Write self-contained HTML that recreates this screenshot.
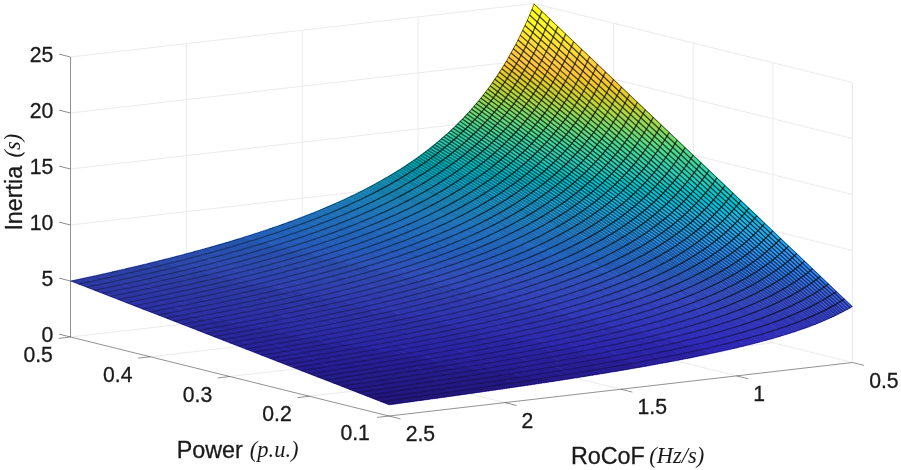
<!DOCTYPE html>
<html><head><meta charset="utf-8"><title>Inertia surface</title>
<style>html,body{margin:0;padding:0;background:#fff}svg{display:block}</style></head>
<body>
<svg width="901" height="470" viewBox="0 0 901 470">
<rect width="901" height="470" fill="#fff"/>
<path d="M186.4 323.6 L186.4 43.6 M302.2 310.2 L302.2 30.2 M418.1 296.9 L418.1 16.9 M534 283.5 L534 3.5 M70.5 337 L534 283.5 M70.5 281 L534 227.5 M70.5 225 L534 171.5 M70.5 169 L534 115.5 M70.5 113 L534 59.5 M70.5 57 L534 3.5 M613.6 303.2 L613.6 23.2 M693.2 323 L693.2 43 M772.9 342.8 L772.9 62.8 M852.5 362.5 L852.5 82.5 M534 283.5 L852.5 362.5 M534 227.5 L852.5 306.5 M534 171.5 L852.5 250.5 M534 115.5 L852.5 194.5 M534 59.5 L852.5 138.5 M534 3.5 L852.5 82.5 M150.1 356.8 L613.6 303.2 M229.8 376.5 L693.2 323 M309.4 396.2 L772.9 342.8 M186.4 323.6 L504.9 402.6 M302.2 310.2 L620.8 389.2 M418.1 296.9 L736.6 375.9" stroke="#ebebeb" stroke-width="1" fill="none"/>
<g stroke-width=".6" stroke-linejoin="round">
<path fill="#3925c9" stroke="#3925c9" d="M430.7 399.1l-7.9-3.2l-2.4 .4l8 3.1zM428.4 399.4l-8-3.1l-2.3 .3l8 3.2zM426.1 399.8l-8-3.2l-2.3 .3l8 3.2zM423.8 400.1l-8-3.2l-2.3 .3l7.9 3.2zM421.4 400.4l-7.9-3.2l-2.3 .4l7.9 3.1zM419.1 400.7l-7.9-3.1l-2.4 .3l8 3.1zM416.8 401l-8-3.1l-2.3 .3l8 3.1zM414.5 401.3l-8-3.1l-2.3 .3l8 3.2zM412.2 401.7l-8-3.2l-2.3 .3l8 3.2zM409.9 402l-8-3.2l-2.3 .4l7.9 3.1zM407.5 402.3l-7.9-3.1l-2.3 .3l7.9 3.1zM405.2 402.6l-7.9-3.1l-2.4 .3l8 3.1zM402.9 402.9l-8-3.1l-2.3 .3l8 3.1zM400.6 403.2l-8-3.1l-2.3 .3l8 3.1zM398.3 403.5l-8-3.1l-2.3 .4l8 3.1zM396 403.9l-8-3.1l-2.3 .3l7.9 3.1zM393.6 404.2l-7.9-3.1l-2.3 .3l7.9 3.1zM391.3 404.5l-7.9-3.1l-2.4 .3l8 3.1z"/>
<path fill="#3a27d0" stroke="#3a27d0" d="M502.6 389l-8-3.4l-2.3 .3l7.9 3.4zM500.2 389.3l-7.9-3.4l-2.3 .4l7.9 3.3zM497.9 389.6l-7.9-3.3l-2.4 .3l8 3.4zM495.6 390l-8-3.4l-2.3 .4l8 3.3zM493.3 390.3l-8-3.3l-2.3 .3l8 3.3zM491 390.6l-8-3.3l-2.3 .3l8 3.4zM488.7 391l-8-3.4l-2.3 .4l7.9 3.3zM486.3 391.3l-7.9-3.3l-2.3 .3l7.9 3.3zM484 391.6l-7.9-3.3l-2.4 .4l8 3.3zM481.7 392l-8-3.3l-2.3 .3l8 3.3zM479.4 392.3l-8-3.3l-2.3 .3l8 3.3zM477.1 392.6l-8-3.3l-2.3 .4l7.9 3.3zM474.7 393l-7.9-3.3l-2.3 .3l7.9 3.3zM472.4 393.3l-7.9-3.3l-2.3 .3l7.9 3.3zM470.1 393.6l-7.9-3.3l-2.4 .4l8 3.2zM467.8 393.9l-8-3.2l-2.3 .3l8 3.3zM465.5 394.3l-8-3.3l-2.3 .3l8 3.3zM463.2 394.6l-8-3.3l-2.3 .4l7.9 3.2zM460.8 394.9l-15.9-6.5l-2.3 .4l15.9 6.4zM458.5 395.2l-15.9-6.4l-2.3 .3l15.9 6.5zM456.2 395.6l-15.9-6.5l-2.3 .3l15.9 6.5zM453.9 395.9l-15.9-6.5l-2.4 .4l16 6.4zM451.6 396.2l-16-6.4l-2.3 .3l16 6.4zM449.3 396.5l-16-6.4l-2.3 .3l15.9 6.5zM446.9 396.9l-15.9-6.5l-2.3 .4l15.9 6.4zM444.6 397.2l-15.9-6.4l-2.3 .3l15.9 6.4zM442.3 397.5l-15.9-6.4l-2.3 .3l15.9 6.4zM440 397.8l-15.9-6.4l-2.4 .4l16 6.4zM437.7 398.2l-16-6.4l-2.3 .3l16 6.4zM435.4 398.5l-16-6.4l-2.3 .3l15.9 6.4zM433 398.8l-15.9-6.4l-2.3 .4l15.9 6.3zM422.8 395.9l-8-3.1l-2.3 .3l7.9 3.2zM420.4 396.3l-7.9-3.2l-2.3 .3l7.9 3.2zM418.1 396.6l-7.9-3.2l-2.4 .3l8 3.2zM415.8 396.9l-8-3.2l-2.3 .4l8 3.1zM413.5 397.2l-8-3.1l-2.3 .3l8 3.2zM411.2 397.6l-16-6.4l-2.3 .4l15.9 6.3zM408.8 397.9l-15.9-6.3l-2.3 .3l15.9 6.3zM406.5 398.2l-15.9-6.3l-2.3 .3l15.9 6.3zM404.2 398.5l-15.9-6.3l-2.3 .4l15.9 6.2zM401.9 398.8l-15.9-6.2l-2.3 .3l15.9 6.3zM399.6 399.2l-15.9-6.3l-2.4 .3l16 6.3zM397.3 399.5l-16-6.3l-2.3 .4l15.9 6.2zM394.9 399.8l-15.9-6.2l-2.3 .3l15.9 6.2zM392.6 400.1l-15.9-6.2l-2.3 .3l15.9 6.2zM390.3 400.4l-15.9-6.2l-2.3 .3l15.9 6.3zM388 400.8l-15.9-6.3l-2.4 .4l16 6.2zM385.7 401.1l-16-6.2l-2.3 .3l16 6.2zM383.4 401.4l-16-6.2l-2.3 .3l15.9 6.2z"/>
<path fill="#3b29d6" stroke="#3b29d6" d="M558.2 380.7l-8-3.6l-2.3 .4l8 3.5zM555.9 381l-8-3.5l-2.3 .3l7.9 3.6zM553.5 381.4l-7.9-3.6l-2.3 .4l7.9 3.5zM551.2 381.7l-7.9-3.5l-2.4 .4l8 3.5zM548.9 382.1l-8-3.5l-2.3 .3l8 3.5zM546.6 382.4l-8-3.5l-2.3 .4l8 3.5zM544.3 382.8l-8-3.5l-2.3 .3l8 3.5zM542 383.1l-8-3.5l-2.3 .4l7.9 3.5zM539.6 383.5l-7.9-3.5l-2.3 .3l7.9 3.5zM537.3 383.8l-7.9-3.5l-2.4 .4l8 3.5zM535 384.2l-8-3.5l-2.3 .4l8 3.4zM532.7 384.5l-8-3.4l-2.3 .3l8 3.5zM530.4 384.9l-8-3.5l-2.3 .4l7.9 3.4zM528 385.2l-7.9-3.4l-2.3 .3l7.9 3.5zM525.7 385.6l-7.9-3.5l-2.3 .4l7.9 3.4zM523.4 385.9l-7.9-3.4l-2.4 .3l8 3.4zM521.1 386.2l-15.9-6.8l-2.3 .4l15.9 6.8zM518.8 386.6l-15.9-6.8l-2.4 .3l16 6.8zM516.5 386.9l-16-6.8l-2.3 .4l15.9 6.8zM514.1 387.3l-15.9-6.8l-2.3 .3l15.9 6.8zM511.8 387.6l-15.9-6.8l-2.3 .4l15.9 6.7zM509.5 387.9l-15.9-6.7l-2.3 .3l15.9 6.8zM507.2 388.3l-15.9-6.8l-2.3 .4l15.9 6.7zM504.9 388.6l-15.9-6.7l-2.4 .3l16 6.8zM494.6 385.6l-8-3.4l-2.3 .4l8 3.3zM492.3 385.9l-8-3.3l-2.3 .3l8 3.4zM490 386.3l-8-3.4l-2.3 .4l7.9 3.3zM487.6 386.6l-7.9-3.3l-2.3 .3l7.9 3.4zM485.3 387l-7.9-3.4l-2.4 .4l8 3.3zM483 387.3l-8-3.3l-2.3 .3l8 3.3zM480.7 387.6l-8-3.3l-2.3 .4l8 3.3zM478.4 388l-8-3.3l-2.3 .3l8 3.3zM476.1 388.3l-16-6.6l-2.3 .3l15.9 6.7zM473.7 388.7l-15.9-6.7l-2.3 .4l15.9 6.6zM471.4 389l-15.9-6.6l-2.3 .3l15.9 6.6zM469.1 389.3l-15.9-6.6l-2.3 .4l15.9 6.6zM466.8 389.7l-15.9-6.6l-2.4 .3l16 6.6zM464.5 390l-16-6.6l-2.3 .4l16 6.5zM462.2 390.3l-16-6.5l-2.3 .3l15.9 6.6zM459.8 390.7l-15.9-6.6l-2.3 .4l15.9 6.5zM457.5 391l-15.9-6.5l-2.3 .3l15.9 6.5zM455.2 391.3l-15.9-6.5l-2.3 .4l15.9 6.5zM444.9 388.4l-7.9-3.2l-2.4 .3l8 3.3zM442.6 388.8l-8-3.3l-2.3 .3l8 3.3zM440.3 389.1l-8-3.3l-2.3 .4l8 3.2zM438 389.4l-8-3.2l-2.3 .3l7.9 3.3zM435.6 389.8l-7.9-3.3l-2.3 .4l7.9 3.2zM433.3 390.1l-7.9-3.2l-2.4 .3l8 3.2zM431 390.4l-15.9-6.4l-2.3 .3l15.9 6.5zM428.7 390.8l-15.9-6.5l-2.3 .4l15.9 6.4zM426.4 391.1l-15.9-6.4l-2.4 .3l16 6.4zM424.1 391.4l-16-6.4l-2.3 .4l15.9 6.4zM421.7 391.8l-15.9-6.4l-2.3 .3l15.9 6.4zM419.4 392.1l-15.9-6.4l-2.3 .3l15.9 6.4zM417.1 392.4l-15.9-6.4l-2.3 .4l15.9 6.4zM414.8 392.8l-15.9-6.4l-2.4 .3l16 6.4zM412.5 393.1l-16-6.4l-2.3 .4l16 6.3zM410.2 393.4l-16-6.3l-2.3 .3l15.9 6.3zM407.8 393.7l-15.9-6.3l-2.3 .3l15.9 6.4zM405.5 394.1l-15.9-6.4l-2.3 .4l15.9 6.3zM395.2 391.2l-7.9-3.1l-2.3 .3l7.9 3.2zM392.9 391.6l-7.9-3.2l-2.4 .4l8 3.1zM390.6 391.9l-8-3.1l-2.3 .3l8 3.1zM388.3 392.2l-8-3.1l-2.3 .3l8 3.2zM386 392.6l-16-6.3l-2.3 .3l16 6.3zM383.7 392.9l-16-6.3l-2.3 .4l15.9 6.2zM381.3 393.2l-15.9-6.2l-2.3 .3l15.9 6.3zM379 393.6l-15.9-6.3l-2.3 .3l15.9 6.3zM376.7 393.9l-15.9-6.3l-2.3 .4l15.9 6.2zM374.4 394.2l-15.9-6.2l-2.4 .3l16 6.2zM372.1 394.5l-16-6.2l-2.3 .4l15.9 6.2zM369.7 394.9l-15.9-6.2l-2.3 .3l15.9 6.2zM367.4 395.2l-15.9-6.2l-2.3 .3l15.9 6.2z"/>
<path fill="#3c2bdc" stroke="#3c2bdc" d="M602.2 373.7l-8-3.8l-2.3 .4l8 3.7zM599.9 374l-8-3.7l-2.3 .4l8 3.7zM597.6 374.4l-8-3.7l-2.3 .4l8 3.7zM595.3 374.8l-8-3.7l-2.3 .4l7.9 3.7zM592.9 375.2l-7.9-3.7l-2.3 .4l7.9 3.6zM590.6 375.5l-7.9-3.6l-2.4 .3l8 3.7zM588.3 375.9l-8-3.7l-2.3 .4l8 3.7zM586 376.3l-8-3.7l-2.3 .4l8 3.7zM583.7 376.7l-8-3.7l-2.3 .4l8 3.6zM581.4 377l-8-3.6l-2.3 .4l7.9 3.6zM579 377.4l-7.9-3.6l-2.3 .3l7.9 3.7zM576.7 377.8l-7.9-3.7l-2.4 .4l8 3.6zM574.4 378.1l-8-3.6l-2.3 .4l8 3.6zM572.1 378.5l-8-3.6l-2.3 .4l8 3.6zM569.8 378.9l-16-7.2l-2.3 .3l15.9 7.2zM567.4 379.2l-15.9-7.2l-2.3 .4l15.9 7.2zM565.1 379.6l-15.9-7.2l-2.3 .4l15.9 7.1zM562.8 379.9l-15.9-7.1l-2.3 .4l15.9 7.1zM560.5 380.3l-15.9-7.1l-2.3 .3l15.9 7.2zM550.2 377.1l-7.9-3.6l-2.4 .4l8 3.6zM547.9 377.5l-8-3.6l-2.3 .4l8 3.5zM545.6 377.8l-8-3.5l-2.3 .4l8 3.5zM543.3 378.2l-8-3.5l-2.3 .3l7.9 3.6zM540.9 378.6l-7.9-3.6l-2.3 .4l7.9 3.5zM538.6 378.9l-7.9-3.5l-2.4 .4l8 3.5zM536.3 379.3l-8-3.5l-2.3 .3l8 3.5zM534 379.6l-8-3.5l-2.3 .4l8 3.5zM531.7 380l-8-3.5l-2.3 .4l8 3.4zM529.4 380.3l-16-6.9l-2.3 .4l15.9 6.9zM527 380.7l-15.9-6.9l-2.3 .3l15.9 7zM524.7 381.1l-15.9-7l-2.3 .4l15.9 6.9zM522.4 381.4l-15.9-6.9l-2.3 .4l15.9 6.9zM520.1 381.8l-15.9-6.9l-2.4 .3l16 6.9zM517.8 382.1l-16-6.9l-2.3 .4l16 6.9zM515.5 382.5l-16-6.9l-2.3 .4l15.9 6.8zM505.2 379.4l-8-3.4l-2.3 .3l8 3.5zM502.9 379.8l-8-3.5l-2.3 .4l7.9 3.4zM500.5 380.1l-7.9-3.4l-2.3 .4l7.9 3.4zM498.2 380.5l-7.9-3.4l-2.4 .3l8 3.4zM495.9 380.8l-8-3.4l-2.3 .4l8 3.4zM493.6 381.2l-8-3.4l-2.3 .3l8 3.4zM491.3 381.5l-8-3.4l-2.3 .4l8 3.4zM489 381.9l-8-3.4l-2.3 .4l7.9 3.3zM486.6 382.2l-15.9-6.7l-2.3 .4l15.9 6.7zM484.3 382.6l-15.9-6.7l-2.3 .3l15.9 6.7zM482 382.9l-15.9-6.7l-2.3 .4l15.9 6.7zM479.7 383.3l-15.9-6.7l-2.4 .3l16 6.7zM477.4 383.6l-16-6.7l-2.3 .4l15.9 6.7zM475 384l-15.9-6.7l-2.3 .4l15.9 6.6zM472.7 384.3l-15.9-6.6l-2.3 .3l15.9 6.7zM470.4 384.7l-15.9-6.7l-2.3 .4l15.9 6.6zM460.1 381.7l-7.9-3.3l-2.4 .3l8 3.3zM457.8 382l-8-3.3l-2.3 .4l8 3.3zM455.5 382.4l-8-3.3l-2.3 .3l8 3.3zM453.2 382.7l-8-3.3l-2.3 .4l8 3.3zM450.9 383.1l-8-3.3l-2.3 .4l7.9 3.2zM448.5 383.4l-7.9-3.2l-2.3 .3l7.9 3.3zM446.2 383.8l-15.9-6.6l-2.3 .4l15.9 6.5zM443.9 384.1l-15.9-6.5l-2.3 .3l15.9 6.6zM441.6 384.5l-15.9-6.6l-2.4 .4l16 6.5zM439.3 384.8l-16-6.5l-2.3 .4l16 6.5zM437 385.2l-16-6.5l-2.3 .3l15.9 6.5zM434.6 385.5l-15.9-6.5l-2.3 .4l15.9 6.4zM432.3 385.8l-15.9-6.4l-2.3 .3l15.9 6.5zM430 386.2l-15.9-6.5l-2.3 .4l15.9 6.4zM427.7 386.5l-15.9-6.4l-2.4 .3l16 6.5zM425.4 386.9l-16-6.5l-2.3 .4l15.9 6.4zM415.1 384l-8-3.2l-2.3 .3l8 3.2zM412.8 384.3l-8-3.2l-2.3 .4l8 3.2zM410.5 384.7l-8-3.2l-2.3 .3l7.9 3.2zM408.1 385l-7.9-3.2l-2.3 .4l7.9 3.2zM405.8 385.4l-15.9-6.4l-2.3 .3l15.9 6.4zM403.5 385.7l-15.9-6.4l-2.3 .4l15.9 6.3zM401.2 386l-15.9-6.3l-2.4 .3l16 6.4zM398.9 386.4l-16-6.4l-2.3 .4l15.9 6.3zM396.5 386.7l-15.9-6.3l-2.3 .3l15.9 6.4zM394.2 387.1l-15.9-6.4l-2.3 .4l15.9 6.3zM391.9 387.4l-15.9-6.3l-2.3 .3l15.9 6.3zM389.6 387.7l-15.9-6.3l-2.3 .4l15.9 6.3zM387.3 388.1l-15.9-6.3l-2.4 .3l16 6.3zM385 388.4l-16-6.3l-2.3 .4l15.9 6.3zM382.6 388.8l-15.9-6.3l-2.3 .3l15.9 6.3zM380.3 389.1l-15.9-6.3l-2.3 .4l15.9 6.2zM370 386.3l-7.9-3.1l-2.3 .3l7.9 3.1zM367.7 386.6l-7.9-3.1l-2.4 .3l8 3.2zM365.4 387l-15.9-6.3l-2.3 .4l15.9 6.2zM363.1 387.3l-15.9-6.2l-2.4 .3l16 6.2zM360.8 387.6l-16-6.2l-2.3 .4l16 6.2zM358.5 388l-16-6.2l-2.3 .3l15.9 6.2zM356.1 388.3l-15.9-6.2l-2.3 .3l15.9 6.3zM353.8 388.7l-15.9-6.3l-2.3 .4l15.9 6.2zM351.5 389l-15.9-6.2l-2.3 .3l15.9 6.2z"/>
<path fill="#3d2de2" stroke="#3d2de2" d="M639.3 367.4l-8-4l-2.3 .5l8 3.9zM637 367.8l-8-3.9l-2.3 .4l8 3.9zM634.7 368.2l-8-3.9l-2.3 .4l7.9 3.9zM632.3 368.6l-7.9-3.9l-2.3 .4l7.9 3.9zM630 369l-7.9-3.9l-2.4 .4l8 3.9zM627.7 369.4l-8-3.9l-2.3 .4l8 3.9zM625.4 369.8l-8-3.9l-2.3 .4l8 3.9zM623.1 370.2l-8-3.9l-2.3 .4l8 3.9zM620.8 370.6l-8-3.9l-2.3 .4l7.9 3.9zM618.4 371l-7.9-3.9l-2.3 .4l7.9 3.9zM616.1 371.4l-7.9-3.9l-2.4 .4l8 3.9zM613.8 371.8l-8-3.9l-2.3 .4l8 3.8zM611.5 372.1l-8-3.8l-2.3 .4l8 3.8zM609.2 372.5l-16-7.5l-2.3 .4l15.9 7.5zM606.8 372.9l-15.9-7.5l-2.3 .4l15.9 7.5zM604.5 373.3l-15.9-7.5l-2.3 .4l15.9 7.5zM594.2 369.9l-7.9-3.7l-2.3 .4l7.9 3.7zM591.9 370.3l-7.9-3.7l-2.4 .4l8 3.7zM589.6 370.7l-8-3.7l-2.3 .4l8 3.7zM587.3 371.1l-8-3.7l-2.3 .4l8 3.7zM585 371.5l-8-3.7l-2.3 .4l8 3.7zM582.7 371.9l-8-3.7l-2.3 .4l7.9 3.6zM580.3 372.2l-7.9-3.6l-2.3 .3l7.9 3.7zM578 372.6l-7.9-3.7l-2.4 .4l8 3.7zM575.7 373l-8-3.7l-2.3 .4l8 3.7zM573.4 373.4l-8-3.7l-2.3 .4l8 3.7zM571.1 373.8l-16-7.3l-2.3 .4l16 7.2zM568.8 374.1l-16-7.2l-2.3 .4l15.9 7.2zM566.4 374.5l-15.9-7.2l-2.3 .4l15.9 7.2zM564.1 374.9l-15.9-7.2l-2.3 .3l15.9 7.3zM553.8 371.7l-7.9-3.7l-2.3 .4l7.9 3.6zM551.5 372l-7.9-3.6l-2.4 .4l8 3.6zM549.2 372.4l-8-3.6l-2.3 .4l8 3.6zM546.9 372.8l-8-3.6l-2.3 .4l8 3.6zM544.6 373.2l-8-3.6l-2.3 .4l8 3.5zM542.3 373.5l-8-3.5l-2.3 .4l7.9 3.5zM539.9 373.9l-7.9-3.5l-2.3 .3l7.9 3.6zM537.6 374.3l-7.9-3.6l-2.4 .4l8 3.6zM535.3 374.7l-8-3.6l-2.3 .4l8 3.5zM533 375l-15.9-7l-2.4 .4l16 7zM530.7 375.4l-16-7l-2.3 .4l15.9 7zM528.3 375.8l-15.9-7l-2.3 .3l15.9 7zM526 376.1l-15.9-7l-2.3 .4l15.9 7zM523.7 376.5l-15.9-7l-2.3 .4l15.9 7zM513.4 373.4l-7.9-3.5l-2.3 .4l7.9 3.5zM511.1 373.8l-7.9-3.5l-2.4 .4l8 3.4zM508.8 374.1l-8-3.4l-2.3 .3l8 3.5zM506.5 374.5l-8-3.5l-2.3 .4l8 3.5zM504.2 374.9l-8-3.5l-2.3 .4l7.9 3.4zM501.8 375.2l-7.9-3.4l-2.3 .4l7.9 3.4zM499.5 375.6l-7.9-3.4l-2.4 .3l8 3.5zM497.2 376l-8-3.5l-2.3 .4l8 3.4zM494.9 376.3l-15.9-6.8l-2.4 .4l16 6.8zM492.6 376.7l-16-6.8l-2.3 .4l16 6.8zM490.3 377.1l-16-6.8l-2.3 .3l15.9 6.8zM487.9 377.4l-15.9-6.8l-2.3 .4l15.9 6.8zM485.6 377.8l-15.9-6.8l-2.3 .4l15.9 6.7zM483.3 378.1l-15.9-6.7l-2.3 .4l15.9 6.7zM481 378.5l-15.9-6.7l-2.4 .3l16 6.8zM470.7 375.5l-8-3.4l-2.3 .4l8 3.4zM468.4 375.9l-8-3.4l-2.3 .4l8 3.3zM466.1 376.2l-8-3.3l-2.3 .3l8 3.4zM463.8 376.6l-8-3.4l-2.3 .4l7.9 3.3zM461.4 376.9l-7.9-3.3l-2.3 .4l7.9 3.3zM459.1 377.3l-7.9-3.3l-2.4 .3l8 3.4zM456.8 377.7l-15.9-6.7l-2.3 .4l15.9 6.6zM454.5 378l-15.9-6.6l-2.4 .3l16 6.7zM452.2 378.4l-16-6.7l-2.3 .4l15.9 6.6zM449.8 378.7l-15.9-6.6l-2.3 .4l15.9 6.6zM447.5 379.1l-15.9-6.6l-2.3 .4l15.9 6.5zM445.2 379.4l-15.9-6.5l-2.3 .3l15.9 6.6zM442.9 379.8l-15.9-6.6l-2.3 .4l15.9 6.6zM440.6 380.2l-15.9-6.6l-2.4 .4l16 6.5zM430.3 377.2l-8-3.2l-2.3 .3l8 3.3zM428 377.6l-8-3.3l-2.3 .4l8 3.2zM425.7 377.9l-8-3.2l-2.3 .3l7.9 3.3zM423.3 378.3l-7.9-3.3l-2.3 .4l7.9 3.3zM421 378.7l-7.9-3.3l-2.4 .4l8 3.2zM418.7 379l-15.9-6.5l-2.3 .4l15.9 6.5zM416.4 379.4l-15.9-6.5l-2.3 .3l15.9 6.5zM414.1 379.7l-15.9-6.5l-2.4 .4l16 6.5zM411.8 380.1l-16-6.5l-2.3 .4l15.9 6.4zM409.4 380.4l-15.9-6.4l-2.3 .3l15.9 6.5zM407.1 380.8l-15.9-6.5l-2.3 .4l15.9 6.4zM404.8 381.1l-15.9-6.4l-2.3 .4l15.9 6.4zM402.5 381.5l-15.9-6.4l-2.4 .3l16 6.4zM400.2 381.8l-16-6.4l-2.3 .4l16 6.4zM389.9 379l-8-3.2l-2.3 .3l8 3.2zM387.6 379.3l-8-3.2l-2.3 .4l8 3.2zM385.3 379.7l-8-3.2l-2.3 .3l7.9 3.2zM382.9 380l-7.9-3.2l-2.3 .4l7.9 3.2zM380.6 380.4l-15.9-6.4l-2.3 .4l15.9 6.3zM378.3 380.7l-15.9-6.3l-2.3 .3l15.9 6.4zM376 381.1l-15.9-6.4l-2.4 .4l16 6.3zM373.7 381.4l-16-6.3l-2.3 .4l16 6.3zM371.4 381.8l-16-6.3l-2.3 .3l15.9 6.3zM369 382.1l-15.9-6.3l-2.3 .4l15.9 6.3zM366.7 382.5l-15.9-6.3l-2.3 .3l15.9 6.3zM364.4 382.8l-15.9-6.3l-2.3 .4l15.9 6.3zM362.1 383.2l-15.9-6.3l-2.4 .3l16 6.3zM359.8 383.5l-16-6.3l-2.3 .4l15.9 6.2zM349.5 380.7l-8-3.1l-2.3 .3l8 3.2zM347.2 381.1l-8-3.2l-2.3 .4l7.9 3.1zM344.8 381.4l-7.9-3.1l-2.3 .3l7.9 3.2zM342.5 381.8l-15.9-6.3l-2.3 .4l15.9 6.2zM340.2 382.1l-15.9-6.2l-2.3 .3l15.9 6.2zM337.9 382.4l-15.9-6.2l-2.3 .4l15.9 6.2zM335.6 382.8l-15.9-6.2l-2.4 .3l16 6.2z"/>
<path fill="#3e2fe8" stroke="#3e2fe8" d="M667.1 362.4l-8-4.2l-2.3 .5l8 4.1zM664.8 362.8l-8-4.1l-2.3 .4l8 4.1zM662.5 363.2l-8-4.1l-2.3 .5l7.9 4zM660.1 363.6l-7.9-4l-2.3 .4l7.9 4.1zM657.8 364.1l-7.9-4.1l-2.3 .4l7.9 4.1zM655.5 364.5l-7.9-4.1l-2.4 .5l8 4zM653.2 364.9l-8-4l-2.3 .4l8 4zM650.9 365.3l-8-4l-2.3 .4l8 4.1zM648.6 365.8l-8-4.1l-2.3 .5l7.9 4zM646.2 366.2l-7.9-4l-2.3 .4l7.9 4zM643.9 366.6l-7.9-4l-2.4 .4l8 4zM641.6 367l-8-4l-2.3 .4l8 4zM631.3 363.4l-7.9-3.9l-2.4 .4l8 4zM629 363.9l-8-4l-2.3 .5l8 3.9zM626.7 364.3l-8-3.9l-2.3 .4l8 3.9zM624.4 364.7l-8-3.9l-2.3 .4l8 3.9zM622.1 365.1l-8-3.9l-2.3 .4l7.9 3.9zM619.7 365.5l-7.9-3.9l-2.3 .5l7.9 3.8zM617.4 365.9l-7.9-3.8l-2.4 .4l8 3.8zM615.1 366.3l-8-3.8l-2.3 .4l8 3.8zM612.8 366.7l-8-3.8l-2.3 .4l8 3.8zM610.5 367.1l-8-3.8l-2.3 .4l8 3.8zM608.2 367.5l-8-3.8l-2.3 .4l7.9 3.8zM605.8 367.9l-15.9-7.6l-2.3 .5l15.9 7.5zM603.5 368.3l-15.9-7.5l-2.3 .4l15.9 7.5zM593.2 365l-7.9-3.8l-2.3 .4l7.9 3.8zM590.9 365.4l-7.9-3.8l-2.4 .4l8 3.8zM588.6 365.8l-8-3.8l-2.3 .4l8 3.8zM586.3 366.2l-8-3.8l-2.3 .4l8 3.8zM584 366.6l-8-3.8l-2.3 .4l7.9 3.8zM581.6 367l-7.9-3.8l-2.3 .5l7.9 3.7zM579.3 367.4l-7.9-3.7l-2.3 .4l7.9 3.7zM577 367.8l-7.9-3.7l-2.4 .4l8 3.7zM574.7 368.2l-8-3.7l-2.3 .4l8 3.7zM572.4 368.6l-8-3.7l-2.3 .4l8 3.6zM570.1 368.9l-16-7.3l-2.3 .4l15.9 7.3zM567.7 369.3l-15.9-7.3l-2.3 .4l15.9 7.3zM565.4 369.7l-15.9-7.3l-2.3 .4l15.9 7.3zM555.1 366.5l-7.9-3.7l-2.3 .4l7.9 3.7zM552.8 366.9l-7.9-3.7l-2.3 .4l7.9 3.7zM550.5 367.3l-7.9-3.7l-2.4 .4l8 3.7zM548.2 367.7l-8-3.7l-2.3 .4l8 3.6zM545.9 368l-8-3.6l-2.3 .4l8 3.6zM543.6 368.4l-8-3.6l-2.3 .4l7.9 3.6zM541.2 368.8l-7.9-3.6l-2.3 .4l7.9 3.6zM538.9 369.2l-7.9-3.6l-2.4 .4l8 3.6zM536.6 369.6l-8-3.6l-2.3 .4l8 3.6zM534.3 370l-15.9-7.1l-2.4 .4l16 7.1zM532 370.4l-16-7.1l-2.3 .4l16 7zM529.7 370.7l-16-7l-2.3 .4l15.9 7zM527.3 371.1l-15.9-7l-2.3 .4l15.9 7zM517.1 368l-8-3.5l-2.3 .4l7.9 3.5zM514.7 368.4l-7.9-3.5l-2.3 .4l7.9 3.5zM512.4 368.8l-7.9-3.5l-2.4 .3l8 3.5zM510.1 369.1l-8-3.5l-2.3 .4l8 3.5zM507.8 369.5l-8-3.5l-2.3 .4l8 3.5zM505.5 369.9l-8-3.5l-2.3 .4l8 3.5zM503.2 370.3l-8-3.5l-2.3 .4l7.9 3.5zM500.8 370.7l-7.9-3.5l-2.3 .4l7.9 3.4zM498.5 371l-15.9-6.9l-2.3 .4l15.9 6.9zM496.2 371.4l-15.9-6.9l-2.3 .4l15.9 6.9zM493.9 371.8l-15.9-6.9l-2.4 .4l16 6.9zM491.6 372.2l-16-6.9l-2.3 .4l15.9 6.8zM489.2 372.5l-15.9-6.8l-2.3 .4l15.9 6.8zM479 369.5l-8-3.4l-2.3 .4l7.9 3.4zM476.6 369.9l-7.9-3.4l-2.3 .3l7.9 3.5zM474.3 370.3l-7.9-3.5l-2.3 .4l7.9 3.4zM472 370.6l-7.9-3.4l-2.4 .4l8 3.4zM469.7 371l-8-3.4l-2.3 .4l8 3.4zM467.4 371.4l-8-3.4l-2.3 .4l8 3.4zM465.1 371.8l-8-3.4l-2.3 .4l7.9 3.3zM462.7 372.1l-15.9-6.7l-2.3 .4l15.9 6.7zM460.4 372.5l-15.9-6.7l-2.3 .4l15.9 6.7zM458.1 372.9l-15.9-6.7l-2.3 .3l15.9 6.7zM455.8 373.2l-15.9-6.7l-2.3 .4l15.9 6.7zM453.5 373.6l-15.9-6.7l-2.4 .4l16 6.7zM451.2 374l-16-6.7l-2.3 .4l15.9 6.6zM440.9 371l-8-3.3l-2.3 .4l8 3.3zM438.6 371.4l-8-3.3l-2.3 .3l7.9 3.3zM436.2 371.7l-7.9-3.3l-2.3 .4l7.9 3.3zM433.9 372.1l-7.9-3.3l-2.4 .4l8 3.3zM431.6 372.5l-8-3.3l-2.3 .4l8 3.3zM429.3 372.9l-15.9-6.6l-2.4 .3l16 6.6zM427 373.2l-16-6.6l-2.3 .4l16 6.6zM424.7 373.6l-16-6.6l-2.3 .4l15.9 6.6zM422.3 374l-15.9-6.6l-2.3 .4l15.9 6.5zM420 374.3l-15.9-6.5l-2.3 .3l15.9 6.6zM417.7 374.7l-15.9-6.6l-2.3 .4l15.9 6.5zM415.4 375l-15.9-6.5l-2.4 .4l16 6.5zM413.1 375.4l-16-6.5l-2.3 .4l15.9 6.5zM402.8 372.5l-8-3.2l-2.3 .3l8 3.3zM400.5 372.9l-8-3.3l-2.3 .4l8 3.2zM398.2 373.2l-8-3.2l-2.3 .4l7.9 3.2zM395.8 373.6l-7.9-3.2l-2.3 .3l7.9 3.3zM393.5 374l-15.9-6.5l-2.3 .4l15.9 6.4zM391.2 374.3l-15.9-6.4l-2.3 .4l15.9 6.4zM388.9 374.7l-15.9-6.4l-2.4 .3l16 6.5zM386.6 375.1l-16-6.5l-2.3 .4l15.9 6.4zM384.2 375.4l-15.9-6.4l-2.3 .4l15.9 6.4zM381.9 375.8l-15.9-6.4l-2.3 .3l15.9 6.4zM379.6 376.1l-15.9-6.4l-2.3 .4l15.9 6.4zM377.3 376.5l-15.9-6.4l-2.3 .4l15.9 6.3zM375 376.8l-15.9-6.3l-2.4 .3l16 6.4zM364.7 374l-8-3.2l-2.3 .4l8 3.2zM362.4 374.4l-8-3.2l-2.3 .4l8 3.1zM360.1 374.7l-8-3.1l-2.3 .3l7.9 3.2zM357.7 375.1l-15.9-6.3l-2.3 .3l15.9 6.4zM355.4 375.5l-15.9-6.4l-2.3 .4l15.9 6.3zM353.1 375.8l-15.9-6.3l-2.3 .4l15.9 6.3zM350.8 376.2l-15.9-6.3l-2.3 .3l15.9 6.3zM348.5 376.5l-15.9-6.3l-2.4 .4l16 6.3zM346.2 376.9l-16-6.3l-2.3 .4l15.9 6.2zM343.8 377.2l-15.9-6.2l-2.3 .3l15.9 6.3zM341.5 377.6l-15.9-6.3l-2.3 .4l15.9 6.2zM339.2 377.9l-15.9-6.2l-2.3 .4l15.9 6.2zM336.9 378.3l-15.9-6.2l-2.4 .3l16 6.2zM326.6 375.5l-8-3.1l-2.3 .4l8 3.1zM324.3 375.9l-8-3.1l-2.3 .3l8 3.1zM322 376.2l-16-6.2l-2.3 .4l16 6.2zM319.7 376.6l-16-6.2l-2.3 .4l15.9 6.1z"/>
<path fill="#3f31ee" stroke="#3f31ee" d="M692.6 357.4l-8-4.3l-2.3 .5l8 4.3zM690.3 357.9l-8-4.3l-2.3 .5l8 4.3zM688 358.4l-8-4.3l-2.3 .4l7.9 4.3zM685.6 358.8l-7.9-4.3l-2.3 .5l7.9 4.3zM683.3 359.3l-7.9-4.3l-2.4 .5l8 4.2zM681 359.7l-8-4.2l-2.3 .4l8 4.3zM678.7 360.2l-8-4.3l-2.3 .5l8 4.2zM676.4 360.6l-8-4.2l-2.3 .5l8 4.2zM674.1 361.1l-8-4.2l-2.3 .4l7.9 4.2zM671.7 361.5l-7.9-4.2l-2.3 .5l7.9 4.1zM669.4 361.9l-7.9-4.1l-2.4 .4l8 4.2zM659.1 358.2l-7.9-4.1l-2.3 .5l7.9 4.1zM656.8 358.7l-7.9-4.1l-2.4 .4l8 4.1zM654.5 359.1l-8-4.1l-2.3 .5l8 4.1zM652.2 359.6l-8-4.1l-2.3 .4l8 4.1zM649.9 360l-8-4.1l-2.3 .5l8 4zM647.6 360.4l-8-4l-2.3 .4l7.9 4.1zM645.2 360.9l-7.9-4.1l-2.3 .5l7.9 4zM642.9 361.3l-7.9-4l-2.4 .4l8 4zM640.6 361.7l-8-4l-2.3 .5l8 4zM638.3 362.2l-8-4l-2.3 .4l8 4zM636 362.6l-8-4l-2.3 .5l7.9 3.9zM633.6 363l-15.9-7.9l-2.3 .5l15.9 7.8zM623.4 359.5l-8-3.9l-2.3 .4l7.9 3.9zM621 359.9l-7.9-3.9l-2.3 .4l7.9 4zM618.7 360.4l-7.9-4l-2.4 .5l8 3.9zM616.4 360.8l-8-3.9l-2.3 .4l8 3.9zM614.1 361.2l-8-3.9l-2.3 .5l8 3.8zM611.8 361.6l-8-3.8l-2.3 .4l8 3.9zM609.5 362.1l-8-3.9l-2.3 .4l7.9 3.9zM607.1 362.5l-7.9-3.9l-2.3 .5l7.9 3.8zM604.8 362.9l-7.9-3.8l-2.4 .4l8 3.8zM602.5 363.3l-8-3.8l-2.3 .4l8 3.8zM600.2 363.7l-15.9-7.6l-2.4 .4l16 7.6zM589.9 360.3l-8-3.8l-2.3 .5l8 3.8zM587.6 360.8l-8-3.8l-2.3 .4l8 3.8zM585.3 361.2l-8-3.8l-2.3 .4l8 3.8zM583 361.6l-8-3.8l-2.3 .5l7.9 3.7zM580.6 362l-7.9-3.7l-2.3 .4l7.9 3.7zM578.3 362.4l-7.9-3.7l-2.4 .4l8 3.7zM576 362.8l-8-3.7l-2.3 .4l8 3.7zM573.7 363.2l-8-3.7l-2.3 .4l8 3.8zM571.4 363.7l-8-3.8l-2.3 .5l8 3.7zM569.1 364.1l-8-3.7l-2.3 .4l7.9 3.7zM566.7 364.5l-15.9-7.4l-2.3 .4l15.9 7.4zM564.4 364.9l-15.9-7.4l-2.3 .4l15.9 7.4zM554.1 361.6l-7.9-3.7l-2.3 .5l7.9 3.6zM551.8 362l-7.9-3.6l-2.4 .4l8 3.6zM549.5 362.4l-8-3.6l-2.3 .4l8 3.6zM547.2 362.8l-8-3.6l-2.3 .4l8 3.6zM544.9 363.2l-8-3.6l-2.3 .4l8 3.6zM542.6 363.6l-8-3.6l-2.3 .4l7.9 3.6zM540.2 364l-7.9-3.6l-2.3 .4l7.9 3.6zM537.9 364.4l-7.9-3.6l-2.4 .5l8 3.5zM535.6 364.8l-15.9-7.1l-2.3 .4l15.9 7.1zM533.3 365.2l-15.9-7.1l-2.4 .4l16 7.1zM531 365.6l-16-7.1l-2.3 .4l15.9 7.1zM528.6 366l-15.9-7.1l-2.3 .4l15.9 7.1zM518.4 362.9l-8-3.6l-2.3 .4l7.9 3.6zM516 363.3l-7.9-3.6l-2.3 .4l7.9 3.6zM513.7 363.7l-7.9-3.6l-2.4 .4l8 3.6zM511.4 364.1l-8-3.6l-2.3 .4l8 3.6zM509.1 364.5l-8-3.6l-2.3 .4l8 3.6zM506.8 364.9l-8-3.6l-2.3 .4l8 3.6zM504.5 365.3l-8-3.6l-2.3 .4l7.9 3.5zM502.1 365.6l-15.9-6.9l-2.3 .4l15.9 6.9zM499.8 366l-15.9-6.9l-2.3 .4l15.9 6.9zM497.5 366.4l-15.9-6.9l-2.3 .4l15.9 6.9zM495.2 366.8l-15.9-6.9l-2.4 .4l16 6.9zM492.9 367.2l-16-6.9l-2.3 .4l16 6.9zM482.6 364.1l-8-3.4l-2.3 .4l8 3.4zM480.3 364.5l-8-3.4l-2.3 .4l8 3.4zM478 364.9l-8-3.4l-2.3 .4l7.9 3.4zM475.6 365.3l-7.9-3.4l-2.3 .4l7.9 3.4zM473.3 365.7l-7.9-3.4l-2.4 .4l8 3.4zM471 366.1l-8-3.4l-2.3 .4l8 3.4zM468.7 366.5l-15.9-6.9l-2.4 .4l16 6.8zM466.4 366.8l-16-6.8l-2.3 .4l16 6.8zM464.1 367.2l-16-6.8l-2.3 .4l15.9 6.8zM461.7 367.6l-15.9-6.8l-2.3 .4l15.9 6.8zM459.4 368l-15.9-6.8l-2.3 .4l15.9 6.8zM457.1 368.4l-15.9-6.8l-2.3 .4l15.9 6.8zM446.8 365.4l-7.9-3.4l-2.4 .4l8 3.4zM444.5 365.8l-8-3.4l-2.3 .4l8 3.4zM442.2 366.2l-8-3.4l-2.3 .4l8 3.3zM439.9 366.5l-8-3.3l-2.3 .4l8 3.3zM437.6 366.9l-8-3.3l-2.3 .4l7.9 3.3zM435.2 367.3l-15.9-6.7l-2.3 .4l15.9 6.7zM432.9 367.7l-15.9-6.7l-2.3 .4l15.9 6.7zM430.6 368.1l-15.9-6.7l-2.3 .4l15.9 6.6zM428.3 368.4l-15.9-6.6l-2.4 .4l16 6.6zM426 368.8l-16-6.6l-2.3 .4l15.9 6.6zM423.6 369.2l-15.9-6.6l-2.3 .4l15.9 6.6zM413.4 366.3l-8-3.3l-2.3 .4l7.9 3.2zM411 366.6l-7.9-3.2l-2.3 .3l7.9 3.3zM408.7 367l-7.9-3.3l-2.4 .4l8 3.3zM406.4 367.4l-8-3.3l-2.3 .4l8 3.3zM404.1 367.8l-8-3.3l-2.3 .4l8 3.2zM401.8 368.1l-15.9-6.5l-2.4 .4l16 6.5zM399.5 368.5l-16-6.5l-2.3 .4l15.9 6.5zM397.1 368.9l-15.9-6.5l-2.3 .4l15.9 6.5zM394.8 369.3l-15.9-6.5l-2.3 .4l15.9 6.4zM392.5 369.6l-15.9-6.4l-2.3 .3l15.9 6.5zM390.2 370l-15.9-6.5l-2.4 .4l16 6.5zM387.9 370.4l-16-6.5l-2.3 .4l16 6.4zM377.6 367.5l-8-3.2l-2.3 .4l8 3.2zM375.3 367.9l-8-3.2l-2.3 .4l8 3.2zM373 368.3l-8-3.2l-2.3 .3l7.9 3.2zM370.6 368.6l-7.9-3.2l-2.3 .4l7.9 3.2zM368.3 369l-15.9-6.4l-2.3 .4l15.9 6.4zM366 369.4l-15.9-6.4l-2.3 .4l15.9 6.3zM363.7 369.7l-15.9-6.3l-2.4 .3l16 6.4zM361.4 370.1l-16-6.4l-2.3 .4l16 6.4zM359.1 370.5l-16-6.4l-2.3 .4l15.9 6.3zM356.7 370.8l-15.9-6.3l-2.3 .4l15.9 6.3zM354.4 371.2l-15.9-6.3l-2.3 .3l15.9 6.4zM352.1 371.6l-15.9-6.4l-2.3 .4l15.9 6.3zM341.8 368.8l-7.9-3.2l-2.4 .4l8 3.1zM339.5 369.1l-8-3.1l-2.3 .4l8 3.1zM337.2 369.5l-15.9-6.3l-2.4 .4l16 6.3zM334.9 369.9l-16-6.3l-2.3 .4l16 6.2zM332.6 370.2l-16-6.2l-2.3 .3l15.9 6.3zM330.2 370.6l-15.9-6.3l-2.3 .4l15.9 6.3zM327.9 371l-15.9-6.3l-2.3 .4l15.9 6.2zM325.6 371.3l-15.9-6.2l-2.3 .3l15.9 6.3zM323.3 371.7l-15.9-6.3l-2.4 .4l16 6.3zM321 372.1l-16-6.3l-2.3 .4l15.9 6.2zM318.6 372.4l-15.9-6.2l-2.3 .4l15.9 6.2zM316.3 372.8l-15.9-6.2l-2.3 .3l15.9 6.2zM306 370l-7.9-3.1l-2.3 .4l7.9 3.1zM303.7 370.4l-15.9-6.2l-2.3 .4l15.9 6.2z"/>
<path fill="#4033f3" stroke="#4033f3" d="M711.1 353.6l-7.9-4.5l-2.3 .5l7.9 4.5zM708.8 354.1l-7.9-4.5l-2.4 .5l8 4.5zM706.5 354.6l-8-4.5l-2.3 .5l8 4.5zM704.2 355.1l-8-4.5l-2.3 .5l8 4.4zM701.9 355.5l-8-4.4l-2.3 .5l7.9 4.4zM699.5 356l-7.9-4.4l-2.3 .5l7.9 4.4zM697.2 356.5l-7.9-4.4l-2.4 .5l8 4.4zM694.9 357l-8-4.4l-2.3 .5l8 4.3zM680 354.1l-8-4.3l-2.3 .5l8 4.2zM677.7 354.5l-8-4.2l-2.3 .5l8 4.2zM675.4 355l-8-4.2l-2.3 .4l7.9 4.3zM673 355.5l-7.9-4.3l-2.3 .5l7.9 4.2zM670.7 355.9l-7.9-4.2l-2.4 .5l8 4.2zM668.4 356.4l-8-4.2l-2.3 .5l8 4.2zM666.1 356.9l-8-4.2l-2.3 .5l8 4.1zM663.8 357.3l-8-4.1l-2.3 .4l8 4.2zM661.5 357.8l-8-4.2l-2.3 .5l7.9 4.1zM648.9 354.6l-8-4.1l-2.3 .4l7.9 4.1zM646.5 355l-7.9-4.1l-2.3 .5l7.9 4.1zM644.2 355.5l-7.9-4.1l-2.4 .5l8 4zM641.9 355.9l-8-4l-2.3 .4l8 4.1zM639.6 356.4l-8-4.1l-2.3 .5l8 4zM637.3 356.8l-8-4l-2.3 .5l8 4zM635 357.3l-8-4l-2.3 .4l7.9 4zM632.6 357.7l-7.9-4l-2.3 .5l7.9 4zM630.3 358.2l-7.9-4l-2.4 .4l8 4zM628 358.6l-8-4l-2.3 .5l8 4zM617.7 355.1l-7.9-4l-2.4 .5l8 4zM615.4 355.6l-8-4l-2.3 .5l8 3.9zM613.1 356l-8-3.9l-2.3 .4l8 3.9zM610.8 356.4l-8-3.9l-2.3 .5l7.9 3.9zM608.4 356.9l-7.9-3.9l-2.3 .4l7.9 3.9zM606.1 357.3l-7.9-3.9l-2.3 .5l7.9 3.9zM603.8 357.8l-7.9-3.9l-2.4 .4l8 3.9zM601.5 358.2l-8-3.9l-2.3 .5l8 3.8zM599.2 358.6l-8-3.8l-2.3 .4l8 3.9zM596.9 359.1l-8-3.9l-2.3 .5l7.9 3.8zM594.5 359.5l-15.9-7.7l-2.3 .5l15.9 7.6zM584.3 356.1l-8-3.8l-2.3 .4l7.9 3.8zM581.9 356.5l-7.9-3.8l-2.3 .5l7.9 3.8zM579.6 357l-7.9-3.8l-2.3 .4l7.9 3.8zM577.3 357.4l-7.9-3.8l-2.4 .5l8 3.7zM575 357.8l-8-3.7l-2.3 .4l8 3.8zM572.7 358.3l-8-3.8l-2.3 .4l8 3.8zM570.4 358.7l-8-3.8l-2.3 .5l7.9 3.7zM568 359.1l-7.9-3.7l-2.3 .4l7.9 3.7zM565.7 359.5l-7.9-3.7l-2.4 .4l8 3.7zM563.4 359.9l-15.9-7.4l-2.3 .5l15.9 7.4zM561.1 360.4l-15.9-7.4l-2.4 .4l16 7.4zM550.8 357.1l-8-3.7l-2.3 .4l8 3.7zM548.5 357.5l-8-3.7l-2.3 .5l8 3.6zM546.2 357.9l-8-3.6l-2.3 .4l8 3.7zM543.9 358.4l-8-3.7l-2.3 .4l7.9 3.7zM541.5 358.8l-7.9-3.7l-2.3 .4l7.9 3.7zM539.2 359.2l-7.9-3.7l-2.4 .5l8 3.6zM536.9 359.6l-8-3.6l-2.3 .4l8 3.6zM534.6 360l-8-3.6l-2.3 .4l8 3.6zM532.3 360.4l-16-7.2l-2.3 .4l16 7.2zM530 360.8l-16-7.2l-2.3 .5l15.9 7.2zM519.7 357.7l-8-3.6l-2.3 .4l8 3.6zM517.4 358.1l-8-3.6l-2.3 .4l7.9 3.6zM515 358.5l-7.9-3.6l-2.3 .4l7.9 3.6zM512.7 358.9l-7.9-3.6l-2.4 .5l8 3.5zM510.4 359.3l-8-3.5l-2.3 .4l8 3.5zM508.1 359.7l-8-3.5l-2.3 .4l8 3.5zM505.8 360.1l-8-3.5l-2.3 .4l7.9 3.5zM503.4 360.5l-7.9-3.5l-2.3 .4l7.9 3.5zM501.1 360.9l-15.9-7l-2.3 .4l15.9 7zM498.8 361.3l-15.9-7l-2.3 .4l15.9 7zM496.5 361.7l-15.9-7l-2.3 .5l15.9 6.9zM486.2 358.7l-7.9-3.5l-2.4 .4l8 3.5zM483.9 359.1l-8-3.5l-2.3 .4l8 3.5zM481.6 359.5l-8-3.5l-2.3 .4l8 3.5zM479.3 359.9l-8-3.5l-2.3 .4l7.9 3.5zM476.9 360.3l-7.9-3.5l-2.3 .4l7.9 3.5zM474.6 360.7l-7.9-3.5l-2.3 .4l7.9 3.5zM472.3 361.1l-7.9-3.5l-2.4 .4l8 3.5zM470 361.5l-15.9-6.9l-2.3 .4l15.9 6.9zM467.7 361.9l-15.9-6.9l-2.4 .4l16 6.9zM465.4 362.3l-16-6.9l-2.3 .4l15.9 6.9zM463 362.7l-15.9-6.9l-2.3 .4l15.9 6.9zM452.8 359.6l-8-3.4l-2.3 .4l7.9 3.4zM450.4 360l-7.9-3.4l-2.3 .4l7.9 3.4zM448.1 360.4l-7.9-3.4l-2.4 .4l8 3.4zM445.8 360.8l-8-3.4l-2.3 .4l8 3.4zM443.5 361.2l-8-3.4l-2.3 .4l8 3.4zM441.2 361.6l-8-3.4l-2.3 .4l8 3.4zM438.9 362l-16-6.7l-2.3 .4l15.9 6.7zM436.5 362.4l-15.9-6.7l-2.3 .4l15.9 6.7zM434.2 362.8l-15.9-6.7l-2.3 .4l15.9 6.7zM431.9 363.2l-15.9-6.7l-2.3 .4l15.9 6.7zM429.6 363.6l-15.9-6.7l-2.4 .4l16 6.7zM419.3 360.6l-8-3.3l-2.3 .4l8 3.3zM417 361l-8-3.3l-2.3 .4l8 3.3zM414.7 361.4l-8-3.3l-2.3 .4l8 3.3zM412.4 361.8l-8-3.3l-2.3 .4l7.9 3.3zM410 362.2l-7.9-3.3l-2.3 .4l7.9 3.3zM407.7 362.6l-15.9-6.6l-2.3 .4l15.9 6.6zM405.4 363l-15.9-6.6l-2.3 .4l15.9 6.6zM403.1 363.4l-15.9-6.6l-2.4 .4l16 6.5zM400.8 363.7l-16-6.5l-2.3 .4l15.9 6.5zM398.4 364.1l-15.9-6.5l-2.3 .4l15.9 6.5zM396.1 364.5l-15.9-6.5l-2.3 .4l15.9 6.5zM385.9 361.6l-8-3.2l-2.3 .3l7.9 3.3zM383.5 362l-7.9-3.3l-2.3 .4l7.9 3.3zM381.2 362.4l-7.9-3.3l-2.4 .4l8 3.3zM378.9 362.8l-8-3.3l-2.3 .4l8 3.3zM376.6 363.2l-15.9-6.5l-2.4 .4l16 6.4zM374.3 363.5l-16-6.4l-2.3 .4l15.9 6.4zM371.9 363.9l-15.9-6.4l-2.3 .3l15.9 6.5zM369.6 364.3l-15.9-6.5l-2.3 .4l15.9 6.5zM367.3 364.7l-15.9-6.5l-2.3 .4l15.9 6.5zM365 365.1l-15.9-6.5l-2.3 .4l15.9 6.4zM362.7 365.4l-15.9-6.4l-2.4 .4l16 6.4zM352.4 362.6l-8-3.2l-2.3 .4l8 3.2zM350.1 363l-8-3.2l-2.3 .4l8 3.2zM347.8 363.4l-8-3.2l-2.3 .4l7.9 3.1zM345.4 363.7l-15.9-6.3l-2.3 .4l15.9 6.3zM343.1 364.1l-15.9-6.3l-2.3 .3l15.9 6.4zM340.8 364.5l-15.9-6.4l-2.3 .4l15.9 6.4zM338.5 364.9l-15.9-6.4l-2.4 .4l16 6.3zM336.2 365.2l-16-6.3l-2.3 .4l16 6.3zM333.9 365.6l-16-6.3l-2.3 .4l15.9 6.3zM331.5 366l-15.9-6.3l-2.3 .4l15.9 6.3zM321.3 363.2l-8-3.1l-2.3 .3l7.9 3.2zM318.9 363.6l-7.9-3.2l-2.3 .4l7.9 3.2zM316.6 364l-7.9-3.2l-2.4 .4l8 3.1zM314.3 364.3l-15.9-6.2l-2.3 .3l15.9 6.3zM312 364.7l-15.9-6.3l-2.4 .4l16 6.3zM309.7 365.1l-16-6.3l-2.3 .4l16 6.2zM307.4 365.4l-16-6.2l-2.3 .4l15.9 6.2zM305 365.8l-15.9-6.2l-2.3 .4l15.9 6.2zM302.7 366.2l-15.9-6.2l-2.3 .3l15.9 6.3zM300.4 366.6l-15.9-6.3l-2.3 .4l15.9 6.2zM298.1 366.9l-15.9-6.2l-2.4 .4l16 6.2zM287.8 364.2l-8-3.1l-2.3 .4l8 3.1z"/>
<path fill="#4136f9" stroke="#4136f9" d="M729.7 349.5l-8-4.7l-2.3 .6l8 4.6zM727.4 350l-8-4.6l-2.3 .5l7.9 4.6zM725 350.5l-7.9-4.6l-2.3 .5l7.9 4.7zM722.7 351.1l-7.9-4.7l-2.4 .6l8 4.6zM720.4 351.6l-8-4.6l-2.3 .5l8 4.6zM718.1 352.1l-8-4.6l-2.3 .6l8 4.5zM715.8 352.6l-8-4.5l-2.3 .5l7.9 4.5zM713.4 353.1l-7.9-4.5l-2.3 .5l7.9 4.5zM700.9 349.6l-8-4.5l-2.3 .6l7.9 4.4zM698.5 350.1l-7.9-4.4l-2.3 .5l7.9 4.4zM696.2 350.6l-7.9-4.4l-2.4 .5l8 4.4zM693.9 351.1l-8-4.4l-2.3 .5l8 4.4zM691.6 351.6l-8-4.4l-2.3 .6l8 4.3zM689.3 352.1l-8-4.3l-2.3 .5l7.9 4.3zM686.9 352.6l-7.9-4.3l-2.3 .5l7.9 4.3zM684.6 353.1l-7.9-4.3l-2.3 .5l7.9 4.3zM682.3 353.6l-7.9-4.3l-2.4 .5l8 4.3zM672 349.8l-7.9-4.3l-2.3 .5l7.9 4.3zM669.7 350.3l-7.9-4.3l-2.4 .5l8 4.3zM667.4 350.8l-8-4.3l-2.3 .5l8 4.2zM665.1 351.2l-8-4.2l-2.3 .5l8 4.2zM662.8 351.7l-8-4.2l-2.3 .5l7.9 4.2zM660.4 352.2l-7.9-4.2l-2.3 .5l7.9 4.2zM658.1 352.7l-7.9-4.2l-2.4 .5l8 4.2zM655.8 353.2l-8-4.2l-2.3 .5l8 4.1zM653.5 353.6l-8-4.1l-2.3 .5l8 4.1zM651.2 354.1l-8-4.1l-2.3 .5l8 4.1zM640.9 350.5l-8-4.2l-2.3 .5l8 4.1zM638.6 350.9l-8-4.1l-2.3 .5l8 4.1zM636.3 351.4l-8-4.1l-2.3 .5l7.9 4.1zM633.9 351.9l-7.9-4.1l-2.3 .5l7.9 4zM631.6 352.3l-7.9-4l-2.4 .5l8 4zM629.3 352.8l-8-4l-2.3 .5l8 4zM627 353.3l-8-4l-2.3 .4l8 4zM624.7 353.7l-8-4l-2.3 .5l8 4zM622.4 354.2l-8-4l-2.3 .5l7.9 3.9zM620 354.6l-15.9-7.9l-2.3 .5l15.9 7.9zM609.8 351.1l-8-3.9l-2.3 .5l7.9 3.9zM607.4 351.6l-7.9-3.9l-2.3 .4l7.9 4zM605.1 352.1l-7.9-4l-2.4 .5l8 3.9zM602.8 352.5l-8-3.9l-2.3 .5l8 3.9zM600.5 353l-8-3.9l-2.3 .4l8 3.9zM598.2 353.4l-8-3.9l-2.3 .5l8 3.9zM595.9 353.9l-8-3.9l-2.3 .5l7.9 3.8zM593.5 354.3l-7.9-3.8l-2.3 .4l7.9 3.9zM591.2 354.8l-15.9-7.7l-2.3 .4l15.9 7.7zM588.9 355.2l-15.9-7.7l-2.3 .5l15.9 7.7zM578.6 351.8l-7.9-3.8l-2.4 .5l8 3.8zM576.3 352.3l-8-3.8l-2.3 .4l8 3.8zM574 352.7l-8-3.8l-2.3 .5l8 3.8zM571.7 353.2l-8-3.8l-2.3 .4l8 3.8zM569.4 353.6l-8-3.8l-2.3 .5l7.9 3.8zM567 354.1l-7.9-3.8l-2.3 .4l7.9 3.8zM564.7 354.5l-7.9-3.8l-2.4 .5l8 3.7zM562.4 354.9l-8-3.7l-2.3 .4l8 3.8zM560.1 355.4l-15.9-7.5l-2.4 .5l16 7.4zM557.8 355.8l-16-7.4l-2.3 .4l15.9 7.4zM547.5 352.5l-8-3.7l-2.3 .5l8 3.7zM545.2 353l-8-3.7l-2.3 .4l7.9 3.7zM542.8 353.4l-7.9-3.7l-2.3 .4l7.9 3.7zM540.5 353.8l-7.9-3.7l-2.4 .5l8 3.7zM538.2 354.3l-8-3.7l-2.3 .4l8 3.7zM535.9 354.7l-8-3.7l-2.3 .5l8 3.6zM533.6 355.1l-8-3.6l-2.3 .4l8 3.6zM531.3 355.5l-16-7.2l-2.3 .4l15.9 7.3zM528.9 356l-15.9-7.3l-2.3 .5l15.9 7.2zM526.6 356.4l-15.9-7.2l-2.3 .4l15.9 7.2zM516.3 353.2l-7.9-3.6l-2.3 .4l7.9 3.6zM514 353.6l-7.9-3.6l-2.4 .5l8 3.6zM511.7 354.1l-8-3.6l-2.3 .4l8 3.6zM509.4 354.5l-8-3.6l-2.3 .4l8 3.6zM507.1 354.9l-8-3.6l-2.3 .5l8 3.5zM504.8 355.3l-8-3.5l-2.3 .4l7.9 3.6zM502.4 355.8l-15.9-7.2l-2.3 .5l15.9 7.1zM500.1 356.2l-15.9-7.1l-2.3 .4l15.9 7.1zM497.8 356.6l-15.9-7.1l-2.3 .4l15.9 7.1zM495.5 357l-15.9-7.1l-2.4 .5l16 7zM485.2 353.9l-8-3.5l-2.3 .4l8 3.5zM482.9 354.3l-8-3.5l-2.3 .4l8 3.5zM480.6 354.7l-8-3.5l-2.3 .5l8 3.5zM478.3 355.2l-8-3.5l-2.3 .4l7.9 3.5zM475.9 355.6l-7.9-3.5l-2.3 .4l7.9 3.5zM473.6 356l-7.9-3.5l-2.4 .4l8 3.5zM471.3 356.4l-15.9-6.9l-2.3 .4l15.9 6.9zM469 356.8l-15.9-6.9l-2.4 .4l16 6.9zM466.7 357.2l-16-6.9l-2.3 .4l16 6.9zM464.4 357.6l-16-6.9l-2.3 .4l15.9 6.9zM454.1 354.6l-8-3.5l-2.3 .5l8 3.4zM451.8 355l-8-3.4l-2.3 .4l7.9 3.4zM449.4 355.4l-7.9-3.4l-2.3 .4l7.9 3.4zM447.1 355.8l-7.9-3.4l-2.4 .4l8 3.4zM444.8 356.2l-8-3.4l-2.3 .4l8 3.4zM442.5 356.6l-15.9-6.8l-2.4 .4l16 6.8zM440.2 357l-16-6.8l-2.3 .5l15.9 6.7zM437.8 357.4l-15.9-6.7l-2.3 .4l15.9 6.7zM435.5 357.8l-15.9-6.7l-2.3 .4l15.9 6.7zM433.2 358.2l-15.9-6.7l-2.3 .4l15.9 6.7zM422.9 355.3l-7.9-3.4l-2.3 .4l7.9 3.4zM420.6 355.7l-7.9-3.4l-2.4 .4l8 3.4zM418.3 356.1l-8-3.4l-2.3 .4l8 3.4zM416 356.5l-8-3.4l-2.3 .5l8 3.3zM413.7 356.9l-16-6.7l-2.3 .4l15.9 6.7zM411.3 357.3l-15.9-6.7l-2.3 .4l15.9 6.7zM409 357.7l-15.9-6.7l-2.3 .4l15.9 6.7zM406.7 358.1l-15.9-6.7l-2.3 .5l15.9 6.6zM404.4 358.5l-15.9-6.6l-2.3 .4l15.9 6.6zM402.1 358.9l-15.9-6.6l-2.4 .4l16 6.6zM391.8 356l-8-3.3l-2.3 .4l8 3.3zM389.5 356.4l-8-3.3l-2.3 .4l8 3.3zM387.2 356.8l-8-3.3l-2.3 .4l7.9 3.3zM384.8 357.2l-15.9-6.6l-2.3 .4l15.9 6.6zM382.5 357.6l-15.9-6.6l-2.3 .4l15.9 6.6zM380.2 358l-15.9-6.6l-2.3 .4l15.9 6.6zM377.9 358.4l-15.9-6.6l-2.4 .4l16 6.5zM375.6 358.7l-16-6.5l-2.3 .4l16 6.5zM373.3 359.1l-16-6.5l-2.3 .4l15.9 6.5zM370.9 359.5l-15.9-6.5l-2.3 .4l15.9 6.5zM360.7 356.7l-8-3.3l-2.3 .4l7.9 3.3zM358.3 357.1l-7.9-3.3l-2.3 .4l7.9 3.3zM356 357.5l-7.9-3.3l-2.4 .4l8 3.2zM353.7 357.8l-15.9-6.4l-2.3 .4l15.9 6.4zM351.4 358.2l-15.9-6.4l-2.4 .4l16 6.4zM349.1 358.6l-16-6.4l-2.3 .4l16 6.4zM346.8 359l-16-6.4l-2.3 .4l15.9 6.4zM344.4 359.4l-15.9-6.4l-2.3 .4l15.9 6.4zM342.1 359.8l-15.9-6.4l-2.3 .4l15.9 6.4zM339.8 360.2l-15.9-6.4l-2.3 .4l15.9 6.4zM329.5 357.4l-7.9-3.2l-2.4 .4l8 3.2zM327.2 357.8l-8-3.2l-2.3 .4l8 3.1zM324.9 358.1l-15.9-6.3l-2.4 .4l16 6.3zM322.6 358.5l-16-6.3l-2.3 .4l15.9 6.3zM320.2 358.9l-15.9-6.3l-2.3 .4l15.9 6.3zM317.9 359.3l-15.9-6.3l-2.3 .4l15.9 6.3zM315.6 359.7l-15.9-6.3l-2.3 .4l15.9 6.3zM313.3 360.1l-15.9-6.3l-2.3 .3l15.9 6.3zM311 360.4l-15.9-6.3l-2.4 .4l16 6.3zM308.7 360.8l-16-6.3l-2.3 .4l15.9 6.3zM298.4 358.1l-8-3.2l-2.3 .4l8 3.1zM296.1 358.4l-16-6.2l-2.3 .4l15.9 6.2zM293.7 358.8l-15.9-6.2l-2.3 .4l15.9 6.2zM291.4 359.2l-15.9-6.2l-2.3 .3l15.9 6.3zM289.1 359.6l-15.9-6.3l-2.3 .4l15.9 6.3zM286.8 360l-15.9-6.3l-2.3 .4l15.9 6.2zM284.5 360.3l-15.9-6.2l-2.4 .4l16 6.2zM282.2 360.7l-16-6.2l-2.3 .4l15.9 6.2zM279.8 361.1l-15.9-6.2l-2.3 .4l15.9 6.2z"/>
<path fill="#4238fd" stroke="#4238fd" d="M745.9 345.6l-8-4.9l-2.3 .6l8 4.9zM743.6 346.2l-8-4.9l-2.3 .6l8 4.9zM741.3 346.8l-8-4.9l-2.3 .6l7.9 4.8zM738.9 347.3l-7.9-4.8l-2.3 .6l7.9 4.8zM736.6 347.9l-7.9-4.8l-2.4 .6l8 4.7zM734.3 348.4l-8-4.7l-2.3 .5l8 4.8zM732 349l-8-4.8l-2.3 .6l8 4.7zM717.1 345.9l-8-4.6l-2.3 .5l8 4.6zM714.8 346.4l-8-4.6l-2.3 .6l7.9 4.6zM712.4 347l-7.9-4.6l-2.3 .6l7.9 4.5zM710.1 347.5l-7.9-4.5l-2.4 .5l8 4.6zM707.8 348.1l-8-4.6l-2.3 .6l8 4.5zM705.5 348.6l-8-4.5l-2.3 .5l8 4.5zM703.2 349.1l-8-4.5l-2.3 .5l8 4.5zM688.3 346.2l-8-4.4l-2.3 .5l7.9 4.4zM685.9 346.7l-7.9-4.4l-2.3 .6l7.9 4.3zM683.6 347.2l-7.9-4.3l-2.4 .5l8 4.4zM681.3 347.8l-8-4.4l-2.3 .5l8 4.4zM679 348.3l-8-4.4l-2.3 .5l8 4.4zM676.7 348.8l-8-4.4l-2.3 .6l8 4.3zM674.4 349.3l-8-4.3l-2.3 .5l7.9 4.3zM661.8 346l-8-4.3l-2.3 .6l7.9 4.2zM659.4 346.5l-7.9-4.2l-2.3 .5l7.9 4.2zM657.1 347l-7.9-4.2l-2.4 .5l8 4.2zM654.8 347.5l-8-4.2l-2.3 .5l8 4.2zM652.5 348l-8-4.2l-2.3 .5l8 4.2zM650.2 348.5l-8-4.2l-2.3 .5l7.9 4.2zM647.8 349l-7.9-4.2l-2.3 .5l7.9 4.2zM645.5 349.5l-7.9-4.2l-2.4 .5l8 4.2zM643.2 350l-8-4.2l-2.3 .5l8 4.2zM632.9 346.3l-7.9-4.1l-2.3 .5l7.9 4.1zM630.6 346.8l-7.9-4.1l-2.4 .5l8 4.1zM628.3 347.3l-8-4.1l-2.3 .6l8 4zM626 347.8l-8-4l-2.3 .5l8 4zM623.7 348.3l-8-4l-2.3 .4l7.9 4.1zM621.3 348.8l-7.9-4.1l-2.3 .5l7.9 4.1zM619 349.3l-7.9-4.1l-2.4 .5l8 4zM616.7 349.7l-8-4l-2.3 .5l8 4zM614.4 350.2l-8-4l-2.3 .5l8 4zM604.1 346.7l-7.9-4l-2.4 .5l8 4zM601.8 347.2l-8-4l-2.3 .5l8 4zM599.5 347.7l-8-4l-2.3 .5l8 3.9zM597.2 348.1l-8-3.9l-2.3 .5l7.9 3.9zM594.8 348.6l-7.9-3.9l-2.3 .5l7.9 3.9zM592.5 349.1l-7.9-3.9l-2.4 .4l8 3.9zM590.2 349.5l-8-3.9l-2.3 .5l8 3.9zM587.9 350l-8-3.9l-2.3 .5l8 3.9zM585.6 350.5l-16-7.8l-2.3 .5l16 7.7zM575.3 347.1l-8-3.9l-2.3 .5l8 3.8zM573 347.5l-8-3.8l-2.3 .5l8 3.8zM570.7 348l-8-3.8l-2.3 .4l7.9 3.9zM568.3 348.5l-7.9-3.9l-2.3 .5l7.9 3.8zM566 348.9l-7.9-3.8l-2.4 .5l8 3.8zM563.7 349.4l-8-3.8l-2.3 .5l8 3.7zM561.4 349.8l-8-3.7l-2.3 .4l8 3.8zM559.1 350.3l-8-3.8l-2.3 .5l8 3.7zM556.8 350.7l-16-7.5l-2.3 .5l15.9 7.5zM554.4 351.2l-15.9-7.5l-2.3 .5l15.9 7.4zM544.2 347.9l-8-3.7l-2.3 .4l7.9 3.8zM541.8 348.4l-7.9-3.8l-2.3 .5l7.9 3.7zM539.5 348.8l-7.9-3.7l-2.4 .4l8 3.8zM537.2 349.3l-8-3.8l-2.3 .5l8 3.7zM534.9 349.7l-8-3.7l-2.3 .5l8 3.6zM532.6 350.1l-8-3.6l-2.3 .4l7.9 3.7zM530.2 350.6l-7.9-3.7l-2.3 .5l7.9 3.6zM527.9 351l-15.9-7.3l-2.3 .5l15.9 7.3zM525.6 351.5l-15.9-7.3l-2.3 .4l15.9 7.3zM515.3 348.3l-7.9-3.7l-2.3 .5l7.9 3.6zM513 348.7l-7.9-3.6l-2.4 .4l8 3.7zM510.7 349.2l-8-3.7l-2.3 .5l8 3.6zM508.4 349.6l-8-3.6l-2.3 .4l8 3.6zM506.1 350l-8-3.6l-2.3 .5l7.9 3.6zM503.7 350.5l-7.9-3.6l-2.3 .4l7.9 3.6zM501.4 350.9l-15.9-7.2l-2.3 .5l15.9 7.1zM499.1 351.3l-15.9-7.1l-2.3 .4l15.9 7.2zM496.8 351.8l-15.9-7.2l-2.3 .5l15.9 7.1zM486.5 348.6l-7.9-3.5l-2.4 .4l8 3.6zM484.2 349.1l-8-3.6l-2.3 .5l8 3.5zM481.9 349.5l-8-3.5l-2.3 .4l8 3.5zM479.6 349.9l-8-3.5l-2.3 .5l7.9 3.5zM477.2 350.4l-7.9-3.5l-2.3 .4l7.9 3.5zM474.9 350.8l-7.9-3.5l-2.4 .4l8 3.5zM472.6 351.2l-15.9-7l-2.3 .5l15.9 7zM470.3 351.7l-15.9-7l-2.4 .4l16 7zM468 352.1l-16-7l-2.3 .4l16 7zM465.7 352.5l-16-7l-2.3 .5l15.9 6.9zM455.4 349.5l-8-3.5l-2.3 .4l8 3.5zM453.1 349.9l-8-3.5l-2.3 .4l7.9 3.5zM450.7 350.3l-7.9-3.5l-2.3 .5l7.9 3.4zM448.4 350.7l-7.9-3.4l-2.4 .4l8 3.4zM446.1 351.1l-8-3.4l-2.3 .4l8 3.5zM443.8 351.6l-15.9-6.9l-2.4 .4l16 6.9zM441.5 352l-16-6.9l-2.3 .5l16 6.8zM439.2 352.4l-16-6.8l-2.3 .4l15.9 6.8zM436.8 352.8l-15.9-6.8l-2.3 .4l15.9 6.8zM426.6 349.8l-8-3.4l-2.3 .5l7.9 3.3zM424.2 350.2l-7.9-3.3l-2.3 .4l7.9 3.4zM421.9 350.7l-7.9-3.4l-2.4 .4l8 3.4zM419.6 351.1l-8-3.4l-2.3 .4l8 3.4zM417.3 351.5l-8-3.4l-2.3 .4l8 3.4zM415 351.9l-16-6.7l-2.3 .4l16 6.7zM412.7 352.3l-16-6.7l-2.3 .4l15.9 6.7zM410.3 352.7l-15.9-6.7l-2.3 .5l15.9 6.6zM408 353.1l-15.9-6.6l-2.3 .4l15.9 6.7zM397.7 350.2l-7.9-3.3l-2.3 .4l7.9 3.3zM395.4 350.6l-7.9-3.3l-2.4 .4l8 3.3zM393.1 351l-8-3.3l-2.3 .4l8 3.3zM390.8 351.4l-8-3.3l-2.3 .4l8 3.4zM388.5 351.9l-16-6.7l-2.3 .5l16 6.6zM386.2 352.3l-16-6.6l-2.3 .4l15.9 6.6zM383.8 352.7l-15.9-6.6l-2.3 .4l15.9 6.6zM381.5 353.1l-15.9-6.6l-2.3 .4l15.9 6.6zM379.2 353.5l-15.9-6.6l-2.3 .4l15.9 6.6zM368.9 350.6l-7.9-3.3l-2.4 .4l8 3.3zM366.6 351l-8-3.3l-2.3 .4l8 3.3zM364.3 351.4l-8-3.3l-2.3 .5l8 3.2zM362 351.8l-8-3.2l-2.3 .4l7.9 3.2zM359.6 352.2l-15.9-6.5l-2.3 .4l15.9 6.5zM357.3 352.6l-15.9-6.5l-2.3 .4l15.9 6.5zM355 353l-15.9-6.5l-2.3 .4l15.9 6.5zM352.7 353.4l-15.9-6.5l-2.3 .5l15.9 6.4zM350.4 353.8l-15.9-6.4l-2.4 .4l16 6.4zM348.1 354.2l-16-6.4l-2.3 .4l15.9 6.4zM337.8 351.4l-8-3.2l-2.3 .4l8 3.2zM335.5 351.8l-8-3.2l-2.3 .4l7.9 3.2zM333.1 352.2l-7.9-3.2l-2.3 .4l7.9 3.2zM330.8 352.6l-15.9-6.4l-2.3 .4l15.9 6.4zM328.5 353l-15.9-6.4l-2.3 .4l15.9 6.4zM326.2 353.4l-15.9-6.4l-2.3 .4l15.9 6.4zM323.9 353.8l-15.9-6.4l-2.4 .4l16 6.4zM321.6 354.2l-16-6.4l-2.3 .4l15.9 6.4zM319.2 354.6l-15.9-6.4l-2.3 .4l15.9 6.4zM309 351.8l-8-3.2l-2.3 .4l7.9 3.2zM306.6 352.2l-7.9-3.2l-2.3 .4l7.9 3.2zM304.3 352.6l-15.9-6.4l-2.3 .4l15.9 6.4zM302 353l-15.9-6.4l-2.3 .4l15.9 6.4zM299.7 353.4l-15.9-6.4l-2.4 .5l16 6.3zM297.4 353.8l-16-6.3l-2.3 .4l16 6.2zM295.1 354.1l-16-6.2l-2.3 .3l15.9 6.3zM292.7 354.5l-15.9-6.3l-2.3 .4l15.9 6.3zM290.4 354.9l-15.9-6.3l-2.3 .4l15.9 6.3zM280.1 352.2l-7.9-3.2l-2.3 .4l7.9 3.2zM277.8 352.6l-7.9-3.2l-2.4 .4l8 3.2zM275.5 353l-15.9-6.3l-2.3 .4l15.9 6.2zM273.2 353.3l-15.9-6.2l-2.4 .4l16 6.2zM270.9 353.7l-16-6.2l-2.3 .4l16 6.2zM268.6 354.1l-16-6.2l-2.3 .4l15.9 6.2zM266.2 354.5l-15.9-6.2l-2.3 .4l15.9 6.2zM263.9 354.9l-15.9-6.2l-2.3 .4l15.9 6.2z"/>
<path fill="#433bff" stroke="#433bff" d="M759.8 342.1l-8-5.1l-2.3 .6l8 5.1zM757.5 342.7l-8-5.1l-2.3 .7l8 5zM755.2 343.3l-8-5l-2.3 .6l7.9 5zM752.8 343.9l-7.9-5l-2.3 .6l7.9 5zM750.5 344.5l-7.9-5l-2.4 .6l8 5zM748.2 345.1l-8-5l-2.3 .6l8 4.9zM733.3 341.9l-8-4.8l-2.3 .6l8 4.8zM731 342.5l-8-4.8l-2.3 .6l8 4.8zM728.7 343.1l-8-4.8l-2.3 .6l7.9 4.8zM726.3 343.7l-7.9-4.8l-2.3 .6l7.9 4.7zM724 344.2l-7.9-4.7l-2.4 .6l8 4.7zM721.7 344.8l-8-4.7l-2.3 .6l8 4.7zM719.4 345.4l-8-4.7l-2.3 .6l8 4.6zM704.5 342.4l-8-4.6l-2.3 .6l8 4.6zM702.2 343l-8-4.6l-2.3 .6l7.9 4.5zM699.8 343.5l-7.9-4.5l-2.3 .5l7.9 4.6zM697.5 344.1l-7.9-4.6l-2.4 .6l8 4.5zM695.2 344.6l-8-4.5l-2.3 .6l8 4.4zM692.9 345.1l-8-4.4l-2.3 .5l8 4.5zM690.6 345.7l-8-4.5l-2.3 .6l8 4.4zM678 342.3l-8-4.4l-2.3 .6l8 4.4zM675.7 342.9l-8-4.4l-2.3 .5l7.9 4.4zM673.3 343.4l-7.9-4.4l-2.3 .6l7.9 4.3zM671 343.9l-7.9-4.3l-2.4 .5l8 4.3zM668.7 344.4l-8-4.3l-2.3 .6l8 4.3zM666.4 345l-8-4.3l-2.3 .5l8 4.3zM664.1 345.5l-8-4.3l-2.3 .5l8 4.3zM651.5 342.3l-8-4.3l-2.3 .5l8 4.3zM649.2 342.8l-8-4.3l-2.3 .6l7.9 4.2zM646.8 343.3l-7.9-4.2l-2.3 .5l7.9 4.2zM644.5 343.8l-7.9-4.2l-2.4 .6l8 4.1zM642.2 344.3l-8-4.1l-2.3 .5l8 4.1zM639.9 344.8l-8-4.1l-2.3 .5l8 4.1zM637.6 345.3l-8-4.1l-2.3 .5l7.9 4.1zM635.2 345.8l-7.9-4.1l-2.3 .5l7.9 4.1zM625 342.2l-8-4.1l-2.3 .5l8 4.1zM622.7 342.7l-8-4.1l-2.3 .6l7.9 4zM620.3 343.2l-7.9-4l-2.3 .5l7.9 4.1zM618 343.8l-7.9-4.1l-2.4 .5l8 4.1zM615.7 344.3l-8-4.1l-2.3 .5l8 4zM613.4 344.7l-8-4l-2.3 .5l8 4zM611.1 345.2l-8-4l-2.3 .5l7.9 4zM608.7 345.7l-7.9-4l-2.3 .5l7.9 4zM606.4 346.2l-15.9-8l-2.3 .6l15.9 7.9zM596.2 342.7l-8-3.9l-2.3 .5l7.9 3.9zM593.8 343.2l-7.9-3.9l-2.3 .5l7.9 3.9zM591.5 343.7l-7.9-3.9l-2.4 .5l8 3.9zM589.2 344.2l-8-3.9l-2.3 .5l8 3.9zM586.9 344.7l-8-3.9l-2.3 .5l8 3.9zM584.6 345.2l-8-3.9l-2.3 .5l7.9 3.8zM582.2 345.6l-7.9-3.8l-2.3 .4l7.9 3.9zM579.9 346.1l-15.9-7.7l-2.3 .5l15.9 7.7zM569.6 342.7l-7.9-3.8l-2.3 .5l7.9 3.8zM567.3 343.2l-7.9-3.8l-2.4 .4l8 3.9zM565 343.7l-8-3.9l-2.3 .5l8 3.9zM562.7 344.2l-8-3.9l-2.3 .5l8 3.8zM560.4 344.6l-8-3.8l-2.3 .5l8 3.8zM558.1 345.1l-8-3.8l-2.3 .5l7.9 3.8zM555.7 345.6l-7.9-3.8l-2.3 .5l7.9 3.8zM553.4 346.1l-7.9-3.8l-2.4 .4l8 3.8zM551.1 346.5l-15.9-7.5l-2.3 .5l15.9 7.5zM540.8 343.2l-7.9-3.7l-2.4 .4l8 3.8zM538.5 343.7l-8-3.8l-2.3 .5l8 3.8zM536.2 344.2l-8-3.8l-2.3 .5l8 3.7zM533.9 344.6l-8-3.7l-2.3 .5l8 3.7zM531.6 345.1l-8-3.7l-2.3 .4l7.9 3.7zM529.2 345.5l-7.9-3.7l-2.3 .5l7.9 3.7zM526.9 346l-7.9-3.7l-2.4 .5l8 3.7zM524.6 346.5l-15.9-7.4l-2.3 .5l15.9 7.3zM522.3 346.9l-15.9-7.3l-2.4 .4l16 7.4zM512 343.7l-8-3.7l-2.3 .5l8 3.7zM509.7 344.2l-8-3.7l-2.3 .5l8 3.6zM507.4 344.6l-8-3.6l-2.3 .4l8 3.7zM505.1 345.1l-8-3.7l-2.3 .5l7.9 3.6zM502.7 345.5l-7.9-3.6l-2.3 .5l7.9 3.6zM500.4 346l-7.9-3.6l-2.4 .4l8 3.6zM498.1 346.4l-15.9-7.2l-2.3 .5l15.9 7.2zM495.8 346.9l-15.9-7.2l-2.4 .5l16 7.1zM485.5 343.7l-8-3.5l-2.3 .4l8 3.6zM483.2 344.2l-8-3.6l-2.3 .5l8 3.5zM480.9 344.6l-8-3.5l-2.3 .4l8 3.6zM478.6 345.1l-8-3.6l-2.3 .5l7.9 3.5zM476.2 345.5l-7.9-3.5l-2.3 .4l7.9 3.6zM473.9 346l-7.9-3.6l-2.4 .5l8 3.5zM471.6 346.4l-15.9-7l-2.3 .4l15.9 7.1zM469.3 346.9l-15.9-7.1l-2.4 .5l16 7zM467 347.3l-16-7l-2.3 .4l15.9 7zM456.7 344.2l-8-3.5l-2.3 .5l8 3.5zM454.4 344.7l-8-3.5l-2.3 .4l7.9 3.5zM452 345.1l-7.9-3.5l-2.3 .5l7.9 3.4zM449.7 345.5l-7.9-3.4l-2.3 .4l7.9 3.5zM447.4 346l-7.9-3.5l-2.4 .4l8 3.5zM445.1 346.4l-15.9-6.9l-2.3 .4l15.9 6.9zM442.8 346.8l-15.9-6.9l-2.4 .5l16 6.9zM440.5 347.3l-16-6.9l-2.3 .4l15.9 6.9zM438.1 347.7l-15.9-6.9l-2.3 .5l15.9 6.8zM427.9 344.7l-8-3.4l-2.3 .4l7.9 3.4zM425.5 345.1l-7.9-3.4l-2.3 .4l7.9 3.5zM423.2 345.6l-7.9-3.5l-2.3 .5l7.9 3.4zM420.9 346l-7.9-3.4l-2.4 .4l8 3.4zM418.6 346.4l-15.9-6.8l-2.3 .5l15.9 6.8zM416.3 346.9l-15.9-6.8l-2.4 .4l16 6.8zM414 347.3l-16-6.8l-2.3 .4l15.9 6.8zM411.6 347.7l-15.9-6.8l-2.3 .5l15.9 6.7zM409.3 348.1l-15.9-6.7l-2.3 .4l15.9 6.7zM399 345.2l-7.9-3.4l-2.3 .4l7.9 3.4zM396.7 345.6l-7.9-3.4l-2.4 .5l8 3.3zM394.4 346l-8-3.3l-2.3 .4l8 3.4zM392.1 346.5l-8-3.4l-2.3 .4l8 3.4zM389.8 346.9l-16-6.7l-2.3 .4l16 6.7zM387.5 347.3l-16-6.7l-2.3 .5l15.9 6.6zM385.1 347.7l-15.9-6.6l-2.3 .4l15.9 6.6zM382.8 348.1l-15.9-6.6l-2.3 .4l15.9 6.6zM372.5 345.2l-7.9-3.3l-2.3 .4l7.9 3.4zM370.2 345.7l-7.9-3.4l-2.4 .5l8 3.3zM367.9 346.1l-8-3.3l-2.3 .4l8 3.3zM365.6 346.5l-8-3.3l-2.3 .4l8 3.3zM363.3 346.9l-16-6.6l-2.3 .5l16 6.5zM361 347.3l-16-6.5l-2.3 .4l15.9 6.5zM358.6 347.7l-15.9-6.5l-2.3 .4l15.9 6.5zM356.3 348.1l-15.9-6.5l-2.3 .4l15.9 6.6zM354 348.6l-15.9-6.6l-2.3 .4l15.9 6.6zM343.7 345.7l-7.9-3.3l-2.4 .5l8 3.2zM341.4 346.1l-8-3.2l-2.3 .4l8 3.2zM339.1 346.5l-8-3.2l-2.3 .4l8 3.2zM336.8 346.9l-16-6.4l-2.3 .4l16 6.5zM334.5 347.4l-16-6.5l-2.3 .4l15.9 6.5zM332.1 347.8l-15.9-6.5l-2.3 .4l15.9 6.5zM329.8 348.2l-15.9-6.5l-2.3 .4l15.9 6.5zM327.5 348.6l-15.9-6.5l-2.3 .5l15.9 6.4zM325.2 349l-15.9-6.4l-2.4 .4l16 6.4zM314.9 346.2l-8-3.2l-2.3 .4l8 3.2zM312.6 346.6l-8-3.2l-2.3 .4l8 3.2zM310.3 347l-16-6.4l-2.3 .4l16 6.4zM308 347.4l-16-6.4l-2.3 .4l15.9 6.4zM305.6 347.8l-15.9-6.4l-2.3 .4l15.9 6.4zM303.3 348.2l-15.9-6.4l-2.3 .5l15.9 6.3zM301 348.6l-15.9-6.3l-2.3 .4l15.9 6.3zM298.7 349l-15.9-6.3l-2.4 .4l16 6.3zM288.4 346.2l-8-3.1l-2.3 .4l8 3.1zM286.1 346.6l-8-3.1l-2.3 .4l8 3.1zM283.8 347l-16-6.3l-2.3 .4l15.9 6.4zM281.4 347.5l-15.9-6.4l-2.3 .5l15.9 6.3zM279.1 347.9l-15.9-6.3l-2.3 .4l15.9 6.2zM276.8 348.2l-15.9-6.2l-2.3 .4l15.9 6.2zM274.5 348.6l-15.9-6.2l-2.3 .4l15.9 6.2zM272.2 349l-15.9-6.2l-2.4 .4l16 6.2zM269.9 349.4l-16-6.2l-2.3 .4l15.9 6.2zM259.6 346.7l-8-3.1l-2.3 .4l8 3.1zM257.3 347.1l-16-6.2l-2.3 .4l15.9 6.2zM254.9 347.5l-15.9-6.2l-2.3 .4l15.9 6.2zM252.6 347.9l-15.9-6.2l-2.3 .4l15.9 6.2zM250.3 348.3l-15.9-6.2l-2.3 .4l15.9 6.2zM248 348.7l-15.9-6.2l-2.3 .4l15.9 6.2z"/>
<path fill="#433eff" stroke="#433eff" d="M771.4 338.9l-8-5.2l-2.3 .6l8 5.3zM769.1 339.6l-8-5.3l-2.3 .7l8 5.2zM766.8 340.2l-8-5.2l-2.3 .7l7.9 5.1zM764.4 340.8l-7.9-5.1l-2.3 .7l7.9 5.1zM762.1 341.5l-7.9-5.1l-2.4 .6l8 5.1zM744.9 338.9l-8-5l-2.3 .7l8 4.9zM742.6 339.5l-8-4.9l-2.3 .6l7.9 4.9zM740.2 340.1l-7.9-4.9l-2.3 .7l7.9 4.8zM737.9 340.7l-7.9-4.8l-2.3 .6l7.9 4.8zM735.6 341.3l-7.9-4.8l-2.4 .6l8 4.8zM718.4 338.9l-8-4.7l-2.3 .6l8 4.7zM716.1 339.5l-8-4.7l-2.3 .6l7.9 4.7zM713.7 340.1l-7.9-4.7l-2.3 .6l7.9 4.7zM711.4 340.7l-7.9-4.7l-2.3 .6l7.9 4.7zM709.1 341.3l-7.9-4.7l-2.4 .6l8 4.6zM706.8 341.8l-8-4.6l-2.3 .6l8 4.6zM694.2 338.4l-8-4.6l-2.3 .6l8 4.6zM691.9 339l-8-4.6l-2.3 .6l8 4.5zM689.6 339.5l-8-4.5l-2.3 .6l7.9 4.5zM687.2 340.1l-7.9-4.5l-2.3 .6l7.9 4.5zM684.9 340.7l-7.9-4.5l-2.4 .6l8 4.4zM682.6 341.2l-8-4.4l-2.3 .5l8 4.5zM680.3 341.8l-8-4.5l-2.3 .6l8 4.4zM667.7 338.5l-8-4.4l-2.3 .6l8 4.3zM665.4 339l-8-4.3l-2.3 .5l8 4.4zM663.1 339.6l-8-4.4l-2.3 .6l7.9 4.3zM660.7 340.1l-7.9-4.3l-2.3 .6l7.9 4.3zM658.4 340.7l-7.9-4.3l-2.4 .5l8 4.3zM656.1 341.2l-8-4.3l-2.3 .6l8 4.2zM653.8 341.7l-8-4.2l-2.3 .5l8 4.3zM641.2 338.5l-8-4.2l-2.3 .6l8 4.2zM638.9 339.1l-8-4.2l-2.3 .5l8 4.2zM636.6 339.6l-8-4.2l-2.3 .6l7.9 4.2zM634.2 340.2l-7.9-4.2l-2.3 .5l7.9 4.2zM631.9 340.7l-7.9-4.2l-2.4 .6l8 4.1zM629.6 341.2l-8-4.1l-2.3 .5l8 4.1zM627.3 341.7l-8-4.1l-2.3 .5l8 4.1zM617 338.1l-8-4.1l-2.3 .5l8 4.1zM614.7 338.6l-8-4.1l-2.3 .6l8 4.1zM612.4 339.2l-8-4.1l-2.3 .5l8 4.1zM610.1 339.7l-8-4.1l-2.3 .6l7.9 4zM607.7 340.2l-7.9-4l-2.3 .5l7.9 4zM605.4 340.7l-7.9-4l-2.4 .5l8 4zM603.1 341.2l-8-4l-2.3 .5l8 4zM600.8 341.7l-8-4l-2.3 .5l8 4zM590.5 338.2l-8-4l-2.3 .6l8 4zM588.2 338.8l-8-4l-2.3 .5l8 4zM585.9 339.3l-8-4l-2.3 .5l8 4zM583.6 339.8l-8-4l-2.3 .5l7.9 4zM581.2 340.3l-7.9-4l-2.3 .5l7.9 4zM578.9 340.8l-7.9-4l-2.4 .6l8 3.9zM576.6 341.3l-8-3.9l-2.3 .5l8 3.9zM574.3 341.8l-8-3.9l-2.3 .5l8 3.8zM564 338.4l-8-3.9l-2.3 .5l8 3.9zM561.7 338.9l-8-3.9l-2.3 .5l8 3.9zM559.4 339.4l-8-3.9l-2.3 .5l7.9 3.8zM557 339.8l-7.9-3.8l-2.3 .5l7.9 3.8zM554.7 340.3l-7.9-3.8l-2.3 .5l7.9 3.8zM552.4 340.8l-7.9-3.8l-2.4 .5l8 3.8zM550.1 341.3l-8-3.8l-2.3 .5l8 3.8zM547.8 341.8l-15.9-7.6l-2.4 .5l16 7.6zM545.5 342.3l-16-7.6l-2.3 .5l15.9 7.5zM535.2 339l-8-3.8l-2.3 .5l8 3.8zM532.9 339.5l-8-3.8l-2.3 .5l7.9 3.7zM530.5 339.9l-7.9-3.7l-2.3 .5l7.9 3.7zM528.2 340.4l-7.9-3.7l-2.3 .5l7.9 3.7zM525.9 340.9l-7.9-3.7l-2.4 .5l8 3.7zM523.6 341.4l-8-3.7l-2.3 .4l8 3.7zM521.3 341.8l-15.9-7.4l-2.4 .5l16 7.4zM519 342.3l-16-7.4l-2.3 .5l15.9 7.4zM508.7 339.1l-8-3.7l-2.3 .5l8 3.7zM506.4 339.6l-8-3.7l-2.3 .5l7.9 3.6zM504 340l-7.9-3.6l-2.3 .5l7.9 3.6zM501.7 340.5l-7.9-3.6l-2.4 .4l8 3.7zM499.4 341l-8-3.7l-2.3 .5l8 3.6zM497.1 341.4l-8-3.6l-2.3 .5l8 3.6zM494.8 341.9l-16-7.2l-2.3 .4l16 7.3zM492.5 342.4l-16-7.3l-2.3 .5l15.9 7.2zM482.2 339.2l-8-3.6l-2.3 .5l8 3.6zM479.9 339.7l-8-3.6l-2.3 .5l7.9 3.6zM477.5 340.2l-7.9-3.6l-2.3 .4l7.9 3.6zM475.2 340.6l-7.9-3.6l-2.4 .5l8 3.6zM472.9 341.1l-8-3.6l-2.3 .5l8 3.5zM470.6 341.5l-15.9-7.1l-2.4 .5l16 7.1zM468.3 342l-16-7.1l-2.3 .5l16 7zM466 342.4l-16-7l-2.3 .4l15.9 7.1zM455.7 339.4l-8-3.6l-2.3 .5l8 3.5zM453.4 339.8l-8-3.5l-2.3 .5l7.9 3.5zM451 340.3l-7.9-3.5l-2.3 .4l7.9 3.5zM448.7 340.7l-7.9-3.5l-2.4 .5l8 3.5zM446.4 341.2l-8-3.5l-2.3 .4l8 3.5zM444.1 341.6l-15.9-7l-2.4 .5l16 7zM441.8 342.1l-16-7l-2.3 .5l16 6.9zM439.5 342.5l-16-6.9l-2.3 .4l15.9 6.9zM429.2 339.5l-8-3.5l-2.3 .5l8 3.4zM426.9 339.9l-8-3.4l-2.3 .4l7.9 3.5zM424.5 340.4l-7.9-3.5l-2.3 .5l7.9 3.4zM422.2 340.8l-7.9-3.4l-2.4 .4l8 3.5zM419.9 341.3l-8-3.5l-2.3 .5l8 3.4zM417.6 341.7l-15.9-6.8l-2.4 .4l16 6.8zM415.3 342.1l-16-6.8l-2.3 .5l16 6.8zM413 342.6l-16-6.8l-2.3 .4l15.9 6.8zM402.7 339.6l-8-3.4l-2.3 .5l8 3.4zM400.4 340.1l-8-3.4l-2.3 .4l7.9 3.4zM398 340.5l-7.9-3.4l-2.3 .5l7.9 3.3zM395.7 340.9l-7.9-3.3l-2.4 .4l8 3.4zM393.4 341.4l-8-3.4l-2.3 .4l8 3.4zM391.1 341.8l-15.9-6.7l-2.4 .4l16 6.7zM388.8 342.2l-16-6.7l-2.3 .5l15.9 6.7zM386.4 342.7l-15.9-6.7l-2.3 .4l15.9 6.7zM384.1 343.1l-15.9-6.7l-2.3 .5l15.9 6.6zM373.8 340.2l-7.9-3.3l-2.3 .4l7.9 3.3zM371.5 340.6l-7.9-3.3l-2.3 .4l7.9 3.4zM369.2 341.1l-7.9-3.4l-2.4 .5l8 3.3zM366.9 341.5l-15.9-6.7l-2.3 .5l15.9 6.6zM364.6 341.9l-15.9-6.6l-2.4 .4l16 6.6zM362.3 342.3l-16-6.6l-2.3 .5l15.9 6.6zM359.9 342.8l-15.9-6.6l-2.3 .4l15.9 6.6zM357.6 343.2l-15.9-6.6l-2.3 .4l15.9 6.6zM347.3 340.3l-7.9-3.3l-2.3 .5l7.9 3.3zM345 340.8l-7.9-3.3l-2.3 .4l7.9 3.3zM342.7 341.2l-7.9-3.3l-2.4 .4l8 3.3zM340.4 341.6l-15.9-6.5l-2.3 .4l15.9 6.5zM338.1 342l-15.9-6.5l-2.4 .4l16 6.5zM335.8 342.4l-16-6.5l-2.3 .5l15.9 6.5zM333.4 342.9l-15.9-6.5l-2.3 .4l15.9 6.5zM331.1 343.3l-15.9-6.5l-2.3 .4l15.9 6.5zM320.8 340.5l-7.9-3.3l-2.3 .4l7.9 3.3zM318.5 340.9l-7.9-3.3l-2.4 .5l8 3.2zM316.2 341.3l-8-3.2l-2.3 .4l8 3.2zM313.9 341.7l-15.9-6.4l-2.4 .4l16 6.4zM311.6 342.1l-16-6.4l-2.3 .4l16 6.5zM309.3 342.6l-16-6.5l-2.3 .5l15.9 6.4zM306.9 343l-15.9-6.4l-2.3 .4l15.9 6.4zM304.6 343.4l-15.9-6.4l-2.3 .4l15.9 6.4zM294.3 340.6l-7.9-3.2l-2.3 .4l7.9 3.2zM292 341l-7.9-3.2l-2.4 .4l8 3.2zM289.7 341.4l-15.9-6.3l-2.3 .4l15.9 6.3zM287.4 341.8l-15.9-6.3l-2.4 .4l16 6.4zM285.1 342.3l-16-6.4l-2.3 .4l16 6.4zM282.8 342.7l-16-6.4l-2.3 .4l15.9 6.4zM280.4 343.1l-15.9-6.4l-2.3 .5l15.9 6.3zM278.1 343.5l-15.9-6.3l-2.3 .4l15.9 6.3zM267.8 340.7l-7.9-3.1l-2.3 .4l7.9 3.1zM265.5 341.1l-7.9-3.1l-2.4 .4l8 3.2zM263.2 341.6l-15.9-6.3l-2.3 .4l15.9 6.3zM260.9 342l-15.9-6.3l-2.4 .4l16 6.3zM258.6 342.4l-16-6.3l-2.3 .4l16 6.3zM256.3 342.8l-16-6.3l-2.3 .4l15.9 6.3zM253.9 343.2l-15.9-6.3l-2.3 .4l15.9 6.3zM251.6 343.6l-15.9-6.3l-2.3 .5l15.9 6.2zM241.3 340.9l-7.9-3.1l-2.3 .4l7.9 3.1zM239 341.3l-7.9-3.1l-2.4 .4l8 3.1zM236.7 341.7l-15.9-6.2l-2.3 .4l15.9 6.2zM234.4 342.1l-15.9-6.2l-2.4 .4l16 6.2zM232.1 342.5l-16-6.2l-2.3 .4l16 6.2z"/>
<path fill="#4441ff" stroke="#4441ff" d="M780.7 336.2l-8-5.4l-2.3 .7l7.9 5.4zM778.3 336.9l-7.9-5.4l-2.3 .7l7.9 5.4zM776 337.6l-7.9-5.4l-2.4 .8l8 5.3zM773.7 338.3l-8-5.3l-2.3 .7l8 5.2zM756.5 335.7l-8-5.2l-2.3 .7l8 5.2zM754.2 336.4l-8-5.2l-2.3 .7l7.9 5.1zM751.8 337l-7.9-5.1l-2.3 .7l7.9 5zM749.5 337.6l-7.9-5l-2.4 .7l8 5zM747.2 338.3l-8-5l-2.3 .6l8 5zM732.3 335.2l-8-4.9l-2.3 .7l8 4.9zM730 335.9l-8-4.9l-2.3 .6l8 4.9zM727.7 336.5l-8-4.9l-2.3 .7l7.9 4.8zM725.3 337.1l-7.9-4.8l-2.3 .6l7.9 4.8zM723 337.7l-7.9-4.8l-2.4 .7l8 4.7zM720.7 338.3l-8-4.7l-2.3 .6l8 4.7zM708.1 334.8l-8-4.7l-2.3 .6l8 4.7zM705.8 335.4l-8-4.7l-2.3 .7l8 4.6zM703.5 336l-8-4.6l-2.3 .6l8 4.6zM701.2 336.6l-8-4.6l-2.3 .6l7.9 4.6zM698.8 337.2l-7.9-4.6l-2.3 .6l7.9 4.6zM696.5 337.8l-7.9-4.6l-2.4 .6l8 4.6zM681.6 335l-8-4.5l-2.3 .6l8 4.5zM679.3 335.6l-8-4.5l-2.3 .6l8 4.5zM677 336.2l-8-4.5l-2.3 .6l7.9 4.5zM674.6 336.8l-7.9-4.5l-2.3 .6l7.9 4.4zM672.3 337.3l-7.9-4.4l-2.4 .6l8 4.4zM670 337.9l-8-4.4l-2.3 .6l8 4.4zM657.4 334.7l-7.9-4.4l-2.4 .6l8 4.3zM655.1 335.2l-8-4.3l-2.3 .6l8 4.3zM652.8 335.8l-8-4.3l-2.3 .5l8 4.4zM650.5 336.4l-8-4.4l-2.3 .6l7.9 4.3zM648.1 336.9l-7.9-4.3l-2.3 .6l7.9 4.3zM645.8 337.5l-7.9-4.3l-2.4 .6l8 4.2zM643.5 338l-8-4.2l-2.3 .5l8 4.2zM633.2 334.3l-7.9-4.2l-2.3 .6l7.9 4.2zM630.9 334.9l-7.9-4.2l-2.4 .5l8 4.2zM628.6 335.4l-8-4.2l-2.3 .6l8 4.2zM626.3 336l-8-4.2l-2.3 .6l8 4.1zM624 336.5l-8-4.1l-2.3 .5l7.9 4.2zM621.6 337.1l-7.9-4.2l-2.3 .6l7.9 4.1zM619.3 337.6l-7.9-4.1l-2.4 .5l8 4.1zM609 334l-7.9-4.1l-2.3 .6l7.9 4zM606.7 334.5l-7.9-4l-2.4 .5l8 4.1zM604.4 335.1l-8-4.1l-2.3 .6l8 4zM602.1 335.6l-8-4l-2.3 .5l8 4.1zM599.8 336.2l-8-4.1l-2.3 .5l8 4.1zM597.5 336.7l-8-4.1l-2.3 .6l7.9 4zM595.1 337.2l-7.9-4l-2.3 .5l7.9 4zM592.8 337.7l-7.9-4l-2.4 .5l8 4zM582.5 334.2l-7.9-3.9l-2.3 .5l7.9 4zM580.2 334.8l-7.9-4l-2.4 .5l8 4zM577.9 335.3l-8-4l-2.3 .6l8 3.9zM575.6 335.8l-8-3.9l-2.3 .5l8 3.9zM573.3 336.3l-8-3.9l-2.3 .5l8 3.9zM571 336.8l-8-3.9l-2.3 .5l7.9 4zM568.6 337.4l-7.9-4l-2.3 .6l7.9 3.9zM566.3 337.9l-15.9-7.8l-2.3 .5l15.9 7.8zM556 334.5l-7.9-3.9l-2.3 .5l7.9 3.9zM553.7 335l-7.9-3.9l-2.4 .5l8 3.9zM551.4 335.5l-8-3.9l-2.3 .6l8 3.8zM549.1 336l-8-3.8l-2.3 .5l8 3.8zM546.8 336.5l-8-3.8l-2.3 .5l8 3.8zM544.5 337l-8-3.8l-2.3 .5l7.9 3.8zM542.1 337.5l-15.9-7.6l-2.3 .5l15.9 7.6zM531.9 334.2l-8-3.8l-2.3 .5l7.9 3.8zM529.5 334.7l-7.9-3.8l-2.3 .5l7.9 3.8zM527.2 335.2l-7.9-3.8l-2.4 .5l8 3.8zM524.9 335.7l-8-3.8l-2.3 .5l8 3.8zM522.6 336.2l-8-3.8l-2.3 .6l8 3.7zM520.3 336.7l-8-3.7l-2.3 .4l8 3.8zM518 337.2l-8-3.8l-2.3 .5l7.9 3.8zM515.6 337.7l-15.9-7.5l-2.3 .5l15.9 7.4zM505.4 334.4l-8-3.7l-2.3 .5l7.9 3.7zM503 334.9l-7.9-3.7l-2.3 .5l7.9 3.7zM500.7 335.4l-7.9-3.7l-2.4 .5l8 3.7zM498.4 335.9l-8-3.7l-2.3 .5l8 3.7zM496.1 336.4l-8-3.7l-2.3 .5l8 3.7zM493.8 336.9l-8-3.7l-2.3 .5l7.9 3.6zM491.4 337.3l-15.9-7.2l-2.3 .5l15.9 7.2zM489.1 337.8l-15.9-7.2l-2.3 .4l15.9 7.3zM478.8 334.7l-7.9-3.7l-2.3 .5l7.9 3.6zM476.5 335.1l-7.9-3.6l-2.3 .5l7.9 3.6zM474.2 335.6l-7.9-3.6l-2.4 .5l8 3.6zM471.9 336.1l-8-3.6l-2.3 .5l8 3.6zM469.6 336.6l-8-3.6l-2.3 .5l8 3.5zM467.3 337l-16-7.1l-2.3 .5l15.9 7.1zM464.9 337.5l-15.9-7.1l-2.3 .5l15.9 7.1zM454.7 334.4l-8-3.5l-2.3 .4l7.9 3.6zM452.3 334.9l-7.9-3.6l-2.3 .5l7.9 3.6zM450 335.4l-7.9-3.6l-2.3 .5l7.9 3.5zM447.7 335.8l-7.9-3.5l-2.4 .5l8 3.5zM445.4 336.3l-8-3.5l-2.3 .4l8 3.6zM443.1 336.8l-15.9-7.1l-2.4 .5l16 7zM440.8 337.2l-16-7l-2.3 .5l15.9 7zM438.4 337.7l-15.9-7l-2.3 .4l15.9 7zM428.2 334.6l-8-3.5l-2.3 .5l7.9 3.5zM425.8 335.1l-7.9-3.5l-2.3 .5l7.9 3.5zM423.5 335.6l-7.9-3.5l-2.4 .5l8 3.4zM421.2 336l-8-3.4l-2.3 .4l8 3.5zM418.9 336.5l-8-3.5l-2.3 .5l8 3.4zM416.6 336.9l-15.9-6.9l-2.4 .5l16 6.9zM414.3 337.4l-16-6.9l-2.3 .5l15.9 6.8zM411.9 337.8l-15.9-6.8l-2.3 .4l15.9 6.9zM401.7 334.9l-8-3.5l-2.3 .5l7.9 3.4zM399.3 335.3l-7.9-3.4l-2.3 .5l7.9 3.4zM397 335.8l-7.9-3.4l-2.4 .4l8 3.4zM394.7 336.2l-8-3.4l-2.3 .5l8 3.4zM392.4 336.7l-15.9-6.8l-2.4 .4l16 6.8zM390.1 337.1l-16-6.8l-2.3 .5l16 6.8zM387.8 337.6l-16-6.8l-2.3 .4l15.9 6.8zM385.4 338l-15.9-6.8l-2.3 .5l15.9 6.7zM375.2 335.1l-8-3.4l-2.3 .5l7.9 3.3zM372.8 335.5l-7.9-3.3l-2.3 .4l7.9 3.4zM370.5 336l-7.9-3.4l-2.4 .5l8 3.3zM368.2 336.4l-15.9-6.7l-2.3 .5l15.9 6.7zM365.9 336.9l-15.9-6.7l-2.4 .4l16 6.7zM363.6 337.3l-16-6.7l-2.3 .5l16 6.6zM361.3 337.7l-16-6.6l-2.3 .4l15.9 6.7zM351 334.8l-8-3.3l-2.3 .5l8 3.3zM348.7 335.3l-8-3.3l-2.3 .4l7.9 3.3zM346.3 335.7l-7.9-3.3l-2.3 .5l7.9 3.3zM344 336.2l-15.9-6.6l-2.3 .4l15.9 6.6zM341.7 336.6l-15.9-6.6l-2.3 .5l15.9 6.5zM339.4 337l-15.9-6.5l-2.4 .4l16 6.6zM337.1 337.5l-16-6.6l-2.3 .4l16 6.6zM334.8 337.9l-16-6.6l-2.3 .5l15.9 6.5zM324.5 335.1l-8-3.3l-2.3 .4l8 3.3zM322.2 335.5l-8-3.3l-2.3 .5l7.9 3.2zM319.8 335.9l-7.9-3.2l-2.3 .4l7.9 3.3zM317.5 336.4l-15.9-6.5l-2.3 .4l15.9 6.5zM315.2 336.8l-15.9-6.5l-2.3 .4l15.9 6.5zM312.9 337.2l-15.9-6.5l-2.4 .5l16 6.4zM310.6 337.6l-16-6.4l-2.3 .4l15.9 6.5zM308.2 338.1l-15.9-6.5l-2.3 .4l15.9 6.5zM298 335.3l-8-3.3l-2.3 .5l7.9 3.2zM295.6 335.7l-7.9-3.2l-2.3 .4l7.9 3.2zM293.3 336.1l-15.9-6.4l-2.3 .4l15.9 6.5zM291 336.6l-15.9-6.5l-2.3 .5l15.9 6.4zM288.7 337l-15.9-6.4l-2.3 .4l15.9 6.4zM286.4 337.4l-15.9-6.4l-2.4 .4l16 6.4zM284.1 337.8l-16-6.4l-2.3 .5l15.9 6.3zM273.8 335.1l-8-3.2l-2.3 .4l8 3.2zM271.5 335.5l-8-3.2l-2.3 .4l7.9 3.2zM269.1 335.9l-15.9-6.4l-2.3 .5l15.9 6.3zM266.8 336.3l-15.9-6.3l-2.3 .4l15.9 6.3zM264.5 336.7l-15.9-6.3l-2.3 .4l15.9 6.4zM262.2 337.2l-15.9-6.4l-2.3 .5l15.9 6.3zM259.9 337.6l-15.9-6.3l-2.4 .4l16 6.3zM257.6 338l-16-6.3l-2.3 .4l15.9 6.3zM247.3 335.3l-8-3.2l-2.3 .4l8 3.2zM245 335.7l-8-3.2l-2.3 .5l7.9 3.1zM242.6 336.1l-15.9-6.3l-2.3 .5l15.9 6.2zM240.3 336.5l-15.9-6.2l-2.3 .4l15.9 6.2zM238 336.9l-15.9-6.2l-2.3 .4l15.9 6.2zM235.7 337.3l-15.9-6.2l-2.4 .4l16 6.3zM233.4 337.8l-16-6.3l-2.3 .4l16 6.3zM231.1 338.2l-16-6.3l-2.3 .5l15.9 6.2zM220.8 335.5l-8-3.1l-2.3 .4l8 3.1zM218.5 335.9l-16-6.2l-2.3 .4l15.9 6.2zM216.1 336.3l-15.9-6.2l-2.3 .4l15.9 6.2z"/>
<path fill="#4444ff" stroke="#4444ff" d="M792.2 332.6l-7.9-5.6l-2.3 .7l7.9 5.7zM789.9 333.4l-7.9-5.7l-2.4 .8l8 5.6zM787.6 334.1l-8-5.6l-2.3 .8l8 5.5zM785.3 334.8l-8-5.5l-2.3 .7l8 5.5zM783 335.5l-8-5.5l-2.3 .8l8 5.4zM768.1 332.2l-8-5.3l-2.3 .7l7.9 5.4zM765.7 333l-7.9-5.4l-2.3 .8l7.9 5.3zM763.4 333.7l-7.9-5.3l-2.4 .7l8 5.2zM761.1 334.3l-8-5.2l-2.3 .7l8 5.2zM758.8 335l-8-5.2l-2.3 .7l8 5.2zM743.9 331.9l-8-5.1l-2.3 .7l8 5.1zM741.6 332.6l-8-5.1l-2.3 .7l7.9 5.1zM739.2 333.3l-7.9-5.1l-2.3 .7l7.9 5zM736.9 333.9l-7.9-5l-2.4 .7l8 5zM734.6 334.6l-8-5l-2.3 .7l8 4.9zM719.7 331.6l-8-4.8l-2.3 .6l8 4.9zM717.4 332.3l-8-4.9l-2.3 .7l8 4.8zM715.1 332.9l-8-4.8l-2.3 .7l7.9 4.8zM712.7 333.6l-7.9-4.8l-2.3 .6l7.9 4.8zM710.4 334.2l-7.9-4.8l-2.4 .7l8 4.7zM695.5 331.4l-8-4.7l-2.3 .6l8 4.7zM693.2 332l-8-4.7l-2.3 .7l8 4.6zM690.9 332.6l-8-4.6l-2.3 .6l8 4.6zM688.6 333.2l-8-4.6l-2.3 .7l7.9 4.5zM686.2 333.8l-7.9-4.5l-2.3 .6l7.9 4.5zM683.9 334.4l-7.9-4.5l-2.4 .6l8 4.5zM671.3 331.1l-7.9-4.5l-2.4 .6l8 4.5zM669 331.7l-8-4.5l-2.3 .7l8 4.4zM666.7 332.3l-8-4.4l-2.3 .6l8 4.4zM664.4 332.9l-8-4.4l-2.3 .6l7.9 4.4zM662 333.5l-7.9-4.4l-2.3 .6l7.9 4.4zM659.7 334.1l-7.9-4.4l-2.3 .6l7.9 4.4zM647.1 330.9l-7.9-4.4l-2.3 .6l7.9 4.4zM644.8 331.5l-7.9-4.4l-2.4 .6l8 4.3zM642.5 332l-8-4.3l-2.3 .6l8 4.3zM640.2 332.6l-8-4.3l-2.3 .6l8 4.3zM637.9 333.2l-8-4.3l-2.3 .6l7.9 4.3zM635.5 333.8l-7.9-4.3l-2.3 .6l7.9 4.2zM623 330.7l-8-4.3l-2.3 .6l7.9 4.2zM620.6 331.2l-7.9-4.2l-2.3 .6l7.9 4.2zM618.3 331.8l-7.9-4.2l-2.4 .6l8 4.2zM616 332.4l-8-4.2l-2.3 .6l8 4.1zM613.7 332.9l-8-4.1l-2.3 .5l8 4.2zM611.4 333.5l-8-4.2l-2.3 .6l7.9 4.1zM598.8 330.5l-8-4.1l-2.3 .5l7.9 4.1zM596.4 331l-7.9-4.1l-2.3 .6l7.9 4.1zM594.1 331.6l-7.9-4.1l-2.4 .6l8 4zM591.8 332.1l-8-4l-2.3 .5l8 4zM589.5 332.6l-8-4l-2.3 .6l8 4zM587.2 333.2l-8-4l-2.3 .5l8 4zM584.9 333.7l-16-8l-2.3 .6l15.9 7.9zM574.6 330.3l-8-4l-2.3 .5l8 4zM572.3 330.8l-8-4l-2.3 .6l7.9 3.9zM569.9 331.3l-7.9-3.9l-2.3 .5l7.9 4zM567.6 331.9l-7.9-4l-2.4 .6l8 3.9zM565.3 332.4l-8-3.9l-2.3 .5l8 3.9zM563 332.9l-8-3.9l-2.3 .5l8 3.9zM560.7 333.4l-15.9-7.8l-2.4 .6l16 7.8zM550.4 330.1l-8-3.9l-2.3 .5l8 3.9zM548.1 330.6l-8-3.9l-2.3 .6l8 3.8zM545.8 331.1l-8-3.8l-2.3 .5l7.9 3.8zM543.4 331.6l-7.9-3.8l-2.3 .5l7.9 3.9zM541.1 332.2l-7.9-3.9l-2.4 .6l8 3.8zM538.8 332.7l-8-3.8l-2.3 .5l8 3.8zM536.5 333.2l-15.9-7.6l-2.4 .5l16 7.6zM526.2 329.9l-8-3.8l-2.3 .5l8 3.8zM523.9 330.4l-8-3.8l-2.3 .5l8 3.8zM521.6 330.9l-8-3.8l-2.3 .6l8 3.7zM519.3 331.4l-8-3.7l-2.3 .5l7.9 3.7zM516.9 331.9l-7.9-3.7l-2.3 .5l7.9 3.7zM514.6 332.4l-7.9-3.7l-2.4 .5l8 3.8zM512.3 333l-15.9-7.5l-2.3 .5l15.9 7.4zM510 333.4l-15.9-7.4l-2.4 .5l16 7.4zM499.7 330.2l-8-3.7l-2.3 .5l8 3.7zM497.4 330.7l-8-3.7l-2.3 .5l8 3.7zM495.1 331.2l-8-3.7l-2.3 .6l8 3.6zM492.8 331.7l-8-3.6l-2.3 .5l7.9 3.6zM490.4 332.2l-7.9-3.6l-2.3 .5l7.9 3.6zM488.1 332.7l-15.9-7.3l-2.3 .5l15.9 7.3zM485.8 333.2l-15.9-7.3l-2.3 .5l15.9 7.3zM475.5 330.1l-7.9-3.7l-2.4 .5l8 3.7zM473.2 330.6l-8-3.7l-2.3 .5l8 3.6zM470.9 331l-8-3.6l-2.3 .5l8 3.6zM468.6 331.5l-8-3.6l-2.3 .5l8 3.6zM466.3 332l-8-3.6l-2.3 .5l7.9 3.6zM463.9 332.5l-15.9-7.2l-2.3 .5l15.9 7.2zM461.6 333l-15.9-7.2l-2.3 .5l15.9 7.2zM451.3 329.9l-7.9-3.6l-2.3 .5l7.9 3.6zM449 330.4l-7.9-3.6l-2.4 .5l8 3.6zM446.7 330.9l-8-3.6l-2.3 .5l8 3.5zM444.4 331.3l-8-3.5l-2.3 .5l8 3.5zM442.1 331.8l-8-3.5l-2.3 .5l8 3.5zM439.8 332.3l-16-7.1l-2.3 .5l15.9 7.1zM437.4 332.8l-15.9-7.1l-2.3 .5l15.9 7zM427.2 329.7l-8-3.5l-2.3 .5l7.9 3.5zM424.8 330.2l-7.9-3.5l-2.3 .5l7.9 3.5zM422.5 330.7l-7.9-3.5l-2.4 .5l8 3.4zM420.2 331.1l-8-3.4l-2.3 .4l8 3.5zM417.9 331.6l-8-3.5l-2.3 .5l8 3.5zM415.6 332.1l-16-7l-2.3 .5l15.9 7zM413.2 332.6l-15.9-7l-2.3 .5l15.9 6.9zM410.9 333l-15.9-6.9l-2.3 .5l15.9 6.9zM400.7 330l-8-3.4l-2.3 .5l7.9 3.4zM398.3 330.5l-7.9-3.4l-2.3 .4l7.9 3.5zM396 331l-7.9-3.5l-2.4 .5l8 3.4zM393.7 331.4l-8-3.4l-2.3 .5l8 3.4zM391.4 331.9l-15.9-6.8l-2.4 .4l16 6.9zM389.1 332.4l-16-6.9l-2.3 .5l15.9 6.8zM386.7 332.8l-15.9-6.8l-2.3 .5l15.9 6.8zM376.5 329.9l-8-3.4l-2.3 .4l7.9 3.4zM374.1 330.3l-7.9-3.4l-2.3 .5l7.9 3.4zM371.8 330.8l-7.9-3.4l-2.4 .5l8 3.3zM369.5 331.2l-15.9-6.7l-2.3 .5l15.9 6.7zM367.2 331.7l-15.9-6.7l-2.3 .4l15.9 6.8zM364.9 332.2l-15.9-6.8l-2.4 .5l16 6.7zM362.6 332.6l-16-6.7l-2.3 .5l15.9 6.7zM352.3 329.7l-8-3.3l-2.3 .4l8 3.4zM350 330.2l-8-3.4l-2.3 .5l7.9 3.3zM347.6 330.6l-7.9-3.3l-2.3 .4l7.9 3.4zM345.3 331.1l-15.9-6.7l-2.3 .5l15.9 6.6zM343 331.5l-15.9-6.6l-2.3 .4l15.9 6.7zM340.7 332l-15.9-6.7l-2.4 .5l16 6.6zM338.4 332.4l-16-6.6l-2.3 .5l16 6.6zM328.1 329.6l-8-3.3l-2.3 .4l8 3.3zM325.8 330l-8-3.3l-2.3 .5l8 3.3zM323.5 330.5l-8-3.3l-2.3 .4l7.9 3.3zM321.1 330.9l-15.9-6.6l-2.3 .5l15.9 6.5zM318.8 331.3l-15.9-6.5l-2.3 .4l15.9 6.6zM316.5 331.8l-15.9-6.6l-2.3 .5l15.9 6.5zM314.2 332.2l-15.9-6.5l-2.4 .4l16 6.6zM311.9 332.7l-16-6.6l-2.3 .5l16 6.5zM301.6 329.9l-8-3.3l-2.3 .4l8 3.3zM299.3 330.3l-8-3.3l-2.3 .5l8 3.2zM297 330.7l-16-6.5l-2.3 .5l15.9 6.5zM294.6 331.2l-15.9-6.5l-2.3 .4l15.9 6.5zM292.3 331.6l-15.9-6.5l-2.3 .5l15.9 6.4zM290 332l-15.9-6.4l-2.3 .4l15.9 6.5zM287.7 332.5l-15.9-6.5l-2.4 .5l16 6.4zM277.4 329.7l-8-3.2l-2.3 .4l8 3.2zM275.1 330.1l-8-3.2l-2.3 .5l8 3.2zM272.8 330.6l-16-6.4l-2.3 .4l16 6.4zM270.5 331l-16-6.4l-2.3 .5l15.9 6.3zM268.1 331.4l-15.9-6.3l-2.3 .4l15.9 6.4zM265.8 331.9l-15.9-6.4l-2.3 .4l15.9 6.4zM263.5 332.3l-15.9-6.4l-2.3 .5l15.9 6.3zM253.2 329.5l-7.9-3.1l-2.4 .4l8 3.2zM250.9 330l-8-3.2l-2.3 .4l8 3.2zM248.6 330.4l-15.9-6.3l-2.4 .4l16 6.3zM246.3 330.8l-16-6.3l-2.3 .5l16 6.3zM244 331.3l-16-6.3l-2.3 .4l15.9 6.3zM241.6 331.7l-15.9-6.3l-2.3 .4l15.9 6.3zM239.3 332.1l-15.9-6.3l-2.3 .5l15.9 6.2zM237 332.5l-15.9-6.2l-2.3 .4l15.9 6.3zM226.7 329.8l-7.9-3.1l-2.4 .4l8 3.2zM224.4 330.3l-15.9-6.3l-2.3 .4l15.9 6.3zM222.1 330.7l-15.9-6.3l-2.4 .5l16 6.2zM219.8 331.1l-16-6.2l-2.3 .4l15.9 6.2zM217.4 331.5l-15.9-6.2l-2.3 .4l15.9 6.2zM215.1 331.9l-15.9-6.2l-2.3 .4l15.9 6.3zM212.8 332.4l-15.9-6.3l-2.3 .5l15.9 6.2zM202.5 329.7l-7.9-3.1l-2.3 .4l7.9 3.1zM200.2 330.1l-15.9-6.2l-2.3 .4l15.9 6.2z"/>
<path fill="#4547ff" stroke="#4547ff" d="M799.2 330.3l-8-5.8l-2.3 .8l8 5.8zM796.9 331.1l-8-5.8l-2.3 .8l8 5.8zM794.6 331.9l-8-5.8l-2.3 .9l7.9 5.6zM777.3 329.3l-7.9-5.5l-2.4 .8l8 5.4zM775 330l-8-5.4l-2.3 .8l8 5.4zM772.7 330.8l-8-5.4l-2.3 .7l8 5.4zM770.4 331.5l-8-5.4l-2.3 .8l8 5.3zM753.1 329.1l-7.9-5.2l-2.3 .7l7.9 5.2zM750.8 329.8l-7.9-5.2l-2.4 .8l8 5.1zM748.5 330.5l-8-5.1l-2.3 .7l8 5.1zM746.2 331.2l-8-5.1l-2.3 .7l8 5.1zM731.3 328.2l-8-5l-2.3 .8l8 4.9zM729 328.9l-8-4.9l-2.3 .7l7.9 4.9zM726.6 329.6l-7.9-4.9l-2.3 .7l7.9 4.9zM724.3 330.3l-7.9-4.9l-2.4 .7l8 4.9zM722 331l-8-4.9l-2.3 .7l8 4.8zM707.1 328.1l-8-4.8l-2.3 .7l8 4.8zM704.8 328.8l-8-4.8l-2.3 .7l8 4.7zM702.5 329.4l-8-4.7l-2.3 .7l7.9 4.7zM700.1 330.1l-7.9-4.7l-2.3 .6l7.9 4.7zM697.8 330.7l-7.9-4.7l-2.4 .7l8 4.7zM685.2 327.3l-7.9-4.6l-2.4 .7l8 4.6zM682.9 328l-8-4.6l-2.3 .6l8 4.6zM680.6 328.6l-8-4.6l-2.3 .7l8 4.6zM678.3 329.3l-8-4.6l-2.3 .6l8 4.6zM676 329.9l-8-4.6l-2.3 .7l7.9 4.5zM673.6 330.5l-7.9-4.5l-2.3 .6l7.9 4.5zM661 327.2l-7.9-4.4l-2.3 .6l7.9 4.5zM658.7 327.9l-7.9-4.5l-2.4 .6l8 4.5zM656.4 328.5l-8-4.5l-2.3 .7l8 4.4zM654.1 329.1l-8-4.4l-2.3 .6l8 4.4zM651.8 329.7l-8-4.4l-2.3 .6l8 4.4zM649.5 330.3l-8-4.4l-2.3 .6l7.9 4.4zM636.9 327.1l-8-4.3l-2.3 .6l7.9 4.3zM634.5 327.7l-7.9-4.3l-2.3 .6l7.9 4.3zM632.2 328.3l-7.9-4.3l-2.4 .6l8 4.3zM629.9 328.9l-8-4.3l-2.3 .7l8 4.2zM627.6 329.5l-8-4.2l-2.3 .5l8 4.3zM625.3 330.1l-8-4.3l-2.3 .6l8 4.3zM615 326.4l-8-4.2l-2.3 .6l8 4.2zM612.7 327l-8-4.2l-2.3 .6l8 4.2zM610.4 327.6l-8-4.2l-2.3 .6l7.9 4.2zM608 328.2l-7.9-4.2l-2.3 .6l7.9 4.2zM605.7 328.8l-7.9-4.2l-2.4 .6l8 4.1zM603.4 329.3l-8-4.1l-2.3 .6l8 4.1zM601.1 329.9l-8-4.1l-2.3 .6l8 4.1zM590.8 326.4l-8-4.1l-2.3 .5l8 4.1zM588.5 326.9l-8-4.1l-2.3 .6l8 4.1zM586.2 327.5l-8-4.1l-2.3 .6l7.9 4.1zM583.8 328.1l-7.9-4.1l-2.3 .6l7.9 4zM581.5 328.6l-7.9-4l-2.3 .5l7.9 4.1zM579.2 329.2l-7.9-4.1l-2.4 .6l8 4zM568.9 325.7l-7.9-4l-2.3 .6l7.9 4zM566.6 326.3l-7.9-4l-2.4 .5l8 4zM564.3 326.8l-8-4l-2.3 .6l8 4zM562 327.4l-8-4l-2.3 .6l8 3.9zM559.7 327.9l-8-3.9l-2.3 .5l7.9 4zM557.3 328.5l-7.9-4l-2.3 .6l7.9 3.9zM555 329l-7.9-3.9l-2.3 .5l7.9 3.9zM544.8 325.6l-8-3.9l-2.3 .6l7.9 3.9zM542.4 326.2l-7.9-3.9l-2.3 .5l7.9 3.9zM540.1 326.7l-7.9-3.9l-2.4 .6l8 3.9zM537.8 327.3l-8-3.9l-2.3 .5l8 3.9zM535.5 327.8l-8-3.9l-2.3 .6l8 3.8zM533.2 328.3l-8-3.8l-2.3 .5l7.9 3.9zM530.8 328.9l-15.9-7.7l-2.3 .5l15.9 7.7zM520.6 325.6l-8-3.9l-2.3 .6l7.9 3.8zM518.2 326.1l-7.9-3.8l-2.3 .5l7.9 3.8zM515.9 326.6l-7.9-3.8l-2.4 .6l8 3.7zM513.6 327.1l-8-3.7l-2.3 .5l8 3.8zM511.3 327.7l-8-3.8l-2.3 .5l8 3.8zM509 328.2l-8-3.8l-2.3 .6l8 3.7zM506.7 328.7l-16-7.5l-2.3 .5l15.9 7.5zM496.4 325.5l-8-3.8l-2.3 .6l8 3.7zM494.1 326l-8-3.7l-2.3 .5l7.9 3.7zM491.7 326.5l-7.9-3.7l-2.3 .5l7.9 3.7zM489.4 327l-7.9-3.7l-2.4 .6l8 3.6zM487.1 327.5l-8-3.6l-2.3 .5l8 3.7zM484.8 328.1l-15.9-7.4l-2.3 .5l15.9 7.4zM482.5 328.6l-15.9-7.4l-2.4 .5l16 7.4zM472.2 325.4l-8-3.7l-2.3 .6l8 3.6zM469.9 325.9l-8-3.6l-2.3 .5l8 3.6zM467.6 326.4l-8-3.6l-2.3 .5l7.9 3.6zM465.2 326.9l-7.9-3.6l-2.3 .5l7.9 3.6zM462.9 327.4l-7.9-3.6l-2.4 .5l8 3.6zM460.6 327.9l-15.9-7.2l-2.3 .5l15.9 7.2zM458.3 328.4l-15.9-7.2l-2.4 .5l16 7.2zM448 325.3l-8-3.6l-2.3 .5l8 3.6zM445.7 325.8l-8-3.6l-2.3 .5l8 3.6zM443.4 326.3l-8-3.6l-2.3 .5l8 3.6zM441.1 326.8l-8-3.6l-2.3 .5l7.9 3.6zM438.7 327.3l-7.9-3.6l-2.3 .5l7.9 3.6zM436.4 327.8l-15.9-7.1l-2.3 .5l15.9 7.1zM434.1 328.3l-15.9-7.1l-2.3 .5l15.9 7.1zM423.8 325.2l-7.9-3.5l-2.4 .5l8 3.5zM421.5 325.7l-8-3.5l-2.3 .5l8 3.5zM419.2 326.2l-8-3.5l-2.3 .5l8 3.5zM416.9 326.7l-8-3.5l-2.3 .5l8 3.5zM414.6 327.2l-16-7l-2.3 .5l15.9 7zM412.2 327.7l-15.9-7l-2.3 .5l15.9 6.9zM409.9 328.1l-15.9-6.9l-2.3 .5l15.9 6.9zM399.6 325.1l-7.9-3.4l-2.3 .5l7.9 3.4zM397.3 325.6l-7.9-3.4l-2.4 .5l8 3.4zM395 326.1l-8-3.4l-2.3 .4l8 3.5zM392.7 326.6l-8-3.5l-2.3 .5l8 3.5zM390.4 327.1l-16-6.9l-2.3 .5l16 6.8zM388.1 327.5l-16-6.8l-2.3 .5l15.9 6.8zM385.7 328l-15.9-6.8l-2.3 .4l15.9 6.9zM375.5 325.1l-8-3.5l-2.3 .5l7.9 3.4zM373.1 325.5l-7.9-3.4l-2.3 .5l7.9 3.4zM370.8 326l-7.9-3.4l-2.4 .5l8 3.4zM368.5 326.5l-15.9-6.8l-2.3 .5l15.9 6.7zM366.2 326.9l-15.9-6.7l-2.4 .4l16 6.8zM363.9 327.4l-16-6.8l-2.3 .5l15.9 6.8zM353.6 324.5l-8-3.4l-2.3 .5l8 3.4zM351.3 325l-8-3.4l-2.3 .5l8 3.3zM349 325.4l-8-3.3l-2.3 .4l7.9 3.4zM346.6 325.9l-7.9-3.4l-2.3 .5l7.9 3.4zM344.3 326.4l-15.9-6.7l-2.3 .4l15.9 6.7zM342 326.8l-15.9-6.7l-2.3 .5l15.9 6.7zM339.7 327.3l-15.9-6.7l-2.4 .5l16 6.6zM329.4 324.4l-8-3.3l-2.3 .5l8 3.3zM327.1 324.9l-8-3.3l-2.3 .4l8 3.3zM324.8 325.3l-8-3.3l-2.3 .5l7.9 3.3zM322.4 325.8l-15.9-6.6l-2.3 .5l15.9 6.6zM320.1 326.3l-15.9-6.6l-2.3 .4l15.9 6.6zM317.8 326.7l-15.9-6.6l-2.3 .5l15.9 6.6zM315.5 327.2l-15.9-6.6l-2.3 .5l15.9 6.5zM305.2 324.3l-7.9-3.2l-2.4 .4l8 3.3zM302.9 324.8l-8-3.3l-2.3 .5l8 3.2zM300.6 325.2l-8-3.2l-2.3 .4l8 3.3zM298.3 325.7l-16-6.5l-2.3 .4l15.9 6.5zM295.9 326.1l-15.9-6.5l-2.3 .5l15.9 6.5zM293.6 326.6l-15.9-6.5l-2.3 .5l15.9 6.4zM291.3 327l-15.9-6.4l-2.3 .4l15.9 6.5zM281 324.2l-7.9-3.2l-2.3 .5l7.9 3.2zM278.7 324.7l-7.9-3.2l-2.4 .4l8 3.2zM276.4 325.1l-15.9-6.4l-2.3 .4l15.9 6.5zM274.1 325.6l-15.9-6.5l-2.4 .5l16 6.4zM271.8 326l-16-6.4l-2.3 .5l15.9 6.4zM269.4 326.5l-15.9-6.4l-2.3 .4l15.9 6.4zM267.1 326.9l-15.9-6.4l-2.3 .5l15.9 6.4zM256.8 324.2l-7.9-3.2l-2.3 .4l7.9 3.2zM254.5 324.6l-7.9-3.2l-2.3 .5l7.9 3.2zM252.2 325.1l-15.9-6.4l-2.3 .4l15.9 6.4zM249.9 325.5l-15.9-6.4l-2.3 .5l15.9 6.3zM247.6 325.9l-15.9-6.3l-2.4 .4l16 6.4zM245.3 326.4l-16-6.4l-2.3 .5l15.9 6.3zM242.9 326.8l-15.9-6.3l-2.3 .4l15.9 6.3zM232.7 324.1l-8-3.2l-2.3 .5l7.9 3.1zM230.3 324.5l-7.9-3.1l-2.3 .4l7.9 3.2zM228 325l-15.9-6.4l-2.3 .5l15.9 6.3zM225.7 325.4l-15.9-6.3l-2.3 .4l15.9 6.3zM223.4 325.8l-15.9-6.3l-2.3 .5l15.9 6.3zM221.1 326.3l-15.9-6.3l-2.4 .4l16 6.3zM218.8 326.7l-16-6.3l-2.3 .5l15.9 6.2zM208.5 324l-8-3.1l-2.3 .4l8 3.1zM206.2 324.4l-16-6.2l-2.3 .4l15.9 6.3zM203.8 324.9l-15.9-6.3l-2.3 .5l15.9 6.2zM201.5 325.3l-15.9-6.2l-2.3 .4l15.9 6.2zM199.2 325.7l-15.9-6.2l-2.3 .4l15.9 6.2zM196.9 326.1l-15.9-6.2l-2.4 .5l16 6.2zM194.6 326.6l-16-6.2l-2.3 .4l16 6.2zM184.3 323.9l-8-3.1l-2.3 .4l8 3.1z"/>
<path fill="#4549ff" stroke="#4549ff" d="M808.5 327l-8-6l-2.3 .9l8 5.9zM806.2 327.8l-8-5.9l-2.3 .9l7.9 5.9zM803.8 328.7l-7.9-5.9l-2.3 .8l7.9 5.9zM801.5 329.5l-7.9-5.9l-2.4 .9l8 5.8zM784.3 327l-8-5.7l-2.3 .8l8 5.6zM782 327.7l-8-5.6l-2.3 .9l7.9 5.5zM779.6 328.5l-7.9-5.5l-2.3 .8l7.9 5.5zM762.4 326.1l-7.9-5.4l-2.4 .8l8 5.4zM760.1 326.9l-8-5.4l-2.3 .8l8 5.3zM757.8 327.6l-8-5.3l-2.3 .8l8 5.3zM755.5 328.4l-8-5.3l-2.3 .8l7.9 5.2zM740.5 325.4l-7.9-5.2l-2.3 .8l7.9 5.1zM738.2 326.1l-7.9-5.1l-2.3 .7l7.9 5.1zM735.9 326.8l-7.9-5.1l-2.4 .8l8 5zM733.6 327.5l-8-5l-2.3 .7l8 5zM718.7 324.7l-8-5l-2.3 .8l8 4.9zM716.4 325.4l-8-4.9l-2.3 .7l7.9 4.9zM714 326.1l-7.9-4.9l-2.3 .7l7.9 4.9zM711.7 326.8l-7.9-4.9l-2.4 .7l8 4.8zM709.4 327.4l-8-4.8l-2.3 .7l8 4.8zM694.5 324.7l-8-4.8l-2.3 .7l8 4.8zM692.2 325.4l-8-4.8l-2.3 .7l8 4.7zM689.9 326l-8-4.7l-2.3 .7l7.9 4.7zM687.5 326.7l-7.9-4.7l-2.3 .7l7.9 4.6zM672.6 324l-7.9-4.6l-2.4 .7l8 4.6zM670.3 324.7l-8-4.6l-2.3 .7l8 4.5zM668 325.3l-8-4.5l-2.3 .7l8 4.5zM665.7 326l-8-4.5l-2.3 .6l8 4.5zM663.4 326.6l-8-4.5l-2.3 .7l7.9 4.4zM650.8 323.4l-8-4.4l-2.3 .6l7.9 4.4zM648.4 324l-7.9-4.4l-2.3 .7l7.9 4.4zM646.1 324.7l-7.9-4.4l-2.4 .6l8 4.4zM643.8 325.3l-8-4.4l-2.3 .6l8 4.4zM641.5 325.9l-8-4.4l-2.3 .7l8 4.3zM639.2 326.5l-8-4.3l-2.3 .6l8 4.3zM628.9 322.8l-8-4.3l-2.3 .6l8 4.3zM626.6 323.4l-8-4.3l-2.3 .7l8 4.2zM624.3 324l-8-4.2l-2.3 .6l7.9 4.2zM621.9 324.6l-7.9-4.2l-2.3 .6l7.9 4.3zM619.6 325.3l-7.9-4.3l-2.4 .6l8 4.2zM617.3 325.8l-8-4.2l-2.3 .6l8 4.2zM604.7 322.8l-8-4.2l-2.3 .7l8 4.1zM602.4 323.4l-8-4.1l-2.3 .6l8 4.1zM600.1 324l-8-4.1l-2.3 .6l8 4.1zM597.8 324.6l-8-4.1l-2.3 .6l7.9 4.1zM595.4 325.2l-7.9-4.1l-2.3 .6l7.9 4.1zM593.1 325.8l-7.9-4.1l-2.4 .6l8 4.1zM582.8 322.3l-7.9-4.1l-2.3 .6l7.9 4zM580.5 322.8l-7.9-4l-2.4 .6l8 4zM578.2 323.4l-8-4l-2.3 .6l8 4zM575.9 324l-8-4l-2.3 .5l8 4.1zM573.6 324.6l-8-4.1l-2.3 .6l8 4zM571.3 325.1l-8-4l-2.3 .6l7.9 4zM561 321.7l-8-4l-2.3 .6l8 4zM558.7 322.3l-8-4l-2.3 .6l7.9 3.9zM556.3 322.8l-7.9-3.9l-2.3 .6l7.9 3.9zM554 323.4l-7.9-3.9l-2.4 .5l8 4zM551.7 324l-8-4l-2.3 .6l8 3.9zM549.4 324.5l-8-3.9l-2.3 .6l8 3.9zM547.1 325.1l-16-7.9l-2.3 .6l16 7.8zM536.8 321.7l-8-3.9l-2.3 .6l8 3.9zM534.5 322.3l-8-3.9l-2.3 .6l8 3.8zM532.2 322.8l-8-3.8l-2.3 .5l7.9 3.9zM529.8 323.4l-7.9-3.9l-2.3 .6l7.9 3.8zM527.5 323.9l-7.9-3.8l-2.4 .5l8 3.9zM525.2 324.5l-8-3.9l-2.3 .6l8 3.8zM514.9 321.2l-7.9-3.8l-2.4 .5l8 3.8zM512.6 321.7l-8-3.8l-2.3 .6l8 3.8zM510.3 322.3l-8-3.8l-2.3 .5l8 3.8zM508 322.8l-8-3.8l-2.3 .6l7.9 3.8zM505.6 323.4l-7.9-3.8l-2.3 .5l7.9 3.8zM503.3 323.9l-7.9-3.8l-2.3 .6l7.9 3.7zM501 324.4l-15.9-7.5l-2.3 .6l15.9 7.5zM490.7 321.2l-7.9-3.7l-2.3 .5l7.9 3.7zM488.4 321.7l-7.9-3.7l-2.4 .6l8 3.7zM486.1 322.3l-8-3.7l-2.3 .5l8 3.7zM483.8 322.8l-8-3.7l-2.3 .5l8 3.7zM481.5 323.3l-8-3.7l-2.3 .6l7.9 3.7zM479.1 323.9l-15.9-7.4l-2.3 .5l15.9 7.4zM468.9 320.7l-8-3.7l-2.3 .5l8 3.7zM466.6 321.2l-8-3.7l-2.3 .6l7.9 3.6zM464.2 321.7l-7.9-3.6l-2.3 .5l7.9 3.7zM461.9 322.3l-7.9-3.7l-2.4 .5l8 3.7zM459.6 322.8l-8-3.7l-2.3 .6l8 3.6zM457.3 323.3l-15.9-7.3l-2.4 .6l16 7.2zM455 323.8l-16-7.2l-2.3 .5l15.9 7.2zM444.7 320.7l-8-3.6l-2.3 .5l8 3.6zM442.4 321.2l-8-3.6l-2.3 .5l7.9 3.6zM440 321.7l-7.9-3.6l-2.3 .5l7.9 3.6zM437.7 322.2l-7.9-3.6l-2.4 .6l8 3.5zM435.4 322.7l-8-3.5l-2.3 .5l8 3.5zM433.1 323.2l-15.9-7.1l-2.3 .5l15.9 7.1zM430.8 323.7l-15.9-7.1l-2.4 .5l16 7.1zM420.5 320.7l-8-3.6l-2.3 .6l8 3.5zM418.2 321.2l-8-3.5l-2.3 .5l8 3.5zM415.9 321.7l-8-3.5l-2.3 .5l7.9 3.5zM413.5 322.2l-7.9-3.5l-2.3 .5l7.9 3.5zM411.2 322.7l-15.9-7l-2.3 .5l15.9 7zM408.9 323.2l-15.9-7l-2.3 .5l15.9 7zM398.6 320.2l-7.9-3.5l-2.3 .5l7.9 3.5zM396.3 320.7l-7.9-3.5l-2.4 .5l8 3.5zM394 321.2l-8-3.5l-2.3 .5l8 3.5zM391.7 321.7l-8-3.5l-2.3 .5l8 3.5zM389.4 322.2l-16-7l-2.3 .5l15.9 7zM387 322.7l-15.9-7l-2.3 .5l15.9 6.9zM384.7 323.1l-15.9-6.9l-2.3 .5l15.9 6.9zM374.4 320.2l-7.9-3.5l-2.3 .5l7.9 3.5zM372.1 320.7l-7.9-3.5l-2.4 .5l8 3.5zM369.8 321.2l-8-3.5l-2.3 .5l8 3.4zM367.5 321.6l-15.9-6.8l-2.4 .5l16 6.8zM365.2 322.1l-16-6.8l-2.3 .5l16 6.8zM362.9 322.6l-16-6.8l-2.3 .5l15.9 6.8zM352.6 319.7l-8-3.4l-2.3 .5l8 3.4zM350.3 320.2l-8-3.4l-2.3 .5l7.9 3.3zM347.9 320.6l-7.9-3.3l-2.3 .5l7.9 3.3zM345.6 321.1l-7.9-3.3l-2.4 .4l8 3.4zM343.3 321.6l-15.9-6.7l-2.3 .5l15.9 6.7zM341 322.1l-15.9-6.7l-2.4 .4l16 6.7zM338.7 322.5l-16-6.7l-2.3 .5l16 6.7zM328.4 319.7l-8-3.4l-2.3 .5l8 3.3zM326.1 320.1l-8-3.3l-2.3 .5l8 3.3zM323.8 320.6l-8-3.3l-2.3 .5l7.9 3.3zM321.4 321.1l-15.9-6.7l-2.3 .5l15.9 6.7zM319.1 321.6l-15.9-6.7l-2.3 .5l15.9 6.6zM316.8 322l-15.9-6.6l-2.3 .5l15.9 6.6zM306.5 319.2l-7.9-3.3l-2.4 .5l8 3.3zM304.2 319.7l-8-3.3l-2.3 .4l8 3.3zM301.9 320.1l-8-3.3l-2.3 .5l8 3.3zM299.6 320.6l-16-6.6l-2.3 .5l16 6.6zM297.3 321.1l-16-6.6l-2.3 .5l15.9 6.5zM294.9 321.5l-15.9-6.5l-2.3 .4l15.9 6.6zM292.6 322l-15.9-6.6l-2.3 .5l15.9 6.5zM282.3 319.2l-7.9-3.3l-2.3 .5l7.9 3.2zM280 319.6l-7.9-3.2l-2.4 .4l8 3.3zM277.7 320.1l-15.9-6.5l-2.3 .5l15.9 6.5zM275.4 320.6l-15.9-6.5l-2.4 .4l16 6.5zM273.1 321l-16-6.5l-2.3 .5l16 6.5zM270.8 321.5l-16-6.5l-2.3 .5l15.9 6.4zM260.5 318.7l-8-3.2l-2.3 .4l8 3.2zM258.2 319.1l-8-3.2l-2.3 .5l7.9 3.2zM255.8 319.6l-7.9-3.2l-2.3 .4l7.9 3.3zM253.5 320.1l-15.9-6.5l-2.3 .5l15.9 6.4zM251.2 320.5l-15.9-6.4l-2.3 .5l15.9 6.4zM248.9 321l-15.9-6.4l-2.4 .4l16 6.4zM246.6 321.4l-16-6.4l-2.3 .5l16 6.4zM236.3 318.7l-8-3.2l-2.3 .4l8 3.2zM234 319.1l-8-3.2l-2.3 .5l8 3.2zM231.7 319.6l-16-6.4l-2.3 .5l15.9 6.3zM229.3 320l-15.9-6.3l-2.3 .4l15.9 6.4zM227 320.5l-15.9-6.4l-2.3 .5l15.9 6.3zM224.7 320.9l-15.9-6.3l-2.3 .4l15.9 6.4zM222.4 321.4l-15.9-6.4l-2.4 .5l16 6.3zM212.1 318.6l-8-3.1l-2.3 .4l8 3.2zM209.8 319.1l-15.9-6.3l-2.4 .4l16 6.3zM207.5 319.5l-16-6.3l-2.3 .5l16 6.3zM205.2 320l-16-6.3l-2.3 .4l15.9 6.3zM202.8 320.4l-15.9-6.3l-2.3 .5l15.9 6.3zM200.5 320.9l-15.9-6.3l-2.3 .4l15.9 6.3zM190.2 318.2l-7.9-3.2l-2.3 .5l7.9 3.1zM187.9 318.6l-15.9-6.2l-2.3 .4l15.9 6.3zM185.6 319.1l-15.9-6.3l-2.3 .5l15.9 6.2zM183.3 319.5l-15.9-6.2l-2.4 .4l16 6.2zM181 319.9l-16-6.2l-2.3 .5l15.9 6.2zM178.6 320.4l-15.9-6.2l-2.3 .4l15.9 6.2zM176.3 320.8l-15.9-6.2l-2.3 .4l15.9 6.2z"/>
<path fill="#454cff" stroke="#454cff" d="M815.4 324.4l-7.9-6.3l-2.4 1l8 6.2zM813.1 325.3l-8-6.2l-2.3 .9l8 6.1zM810.8 326.1l-8-6.1l-2.3 1l8 6zM793.6 323.6l-8-5.8l-2.3 .9l7.9 5.8zM791.2 324.5l-7.9-5.8l-2.3 .9l7.9 5.7zM788.9 325.3l-7.9-5.7l-2.4 .8l8 5.7zM786.6 326.1l-8-5.7l-2.3 .9l8 5.7zM771.7 323l-8-5.6l-2.3 .9l8 5.5zM769.4 323.8l-8-5.5l-2.3 .8l7.9 5.5zM767 324.6l-7.9-5.5l-2.3 .8l7.9 5.5zM764.7 325.4l-7.9-5.5l-2.3 .8l7.9 5.4zM749.8 322.3l-7.9-5.3l-2.4 .8l8 5.3zM747.5 323.1l-8-5.3l-2.3 .8l8 5.3zM745.2 323.9l-8-5.3l-2.3 .8l8 5.2zM742.9 324.6l-8-5.2l-2.3 .8l7.9 5.2zM728 321.7l-8-5l-2.3 .7l7.9 5.1zM725.6 322.5l-7.9-5.1l-2.3 .8l7.9 5zM723.3 323.2l-7.9-5l-2.4 .8l8 5zM721 324l-8-5l-2.3 .7l8 5zM706.1 321.2l-8-4.9l-2.3 .7l8 4.9zM703.8 321.9l-8-4.9l-2.3 .8l7.9 4.8zM701.4 322.6l-7.9-4.8l-2.3 .7l7.9 4.8zM699.1 323.3l-7.9-4.8l-2.4 .7l8 4.8zM696.8 324l-8-4.8l-2.3 .7l8 4.8zM684.2 320.6l-7.9-4.7l-2.4 .7l8 4.7zM681.9 321.3l-8-4.7l-2.3 .8l8 4.6zM679.6 322l-8-4.6l-2.3 .7l8 4.6zM677.3 322.7l-8-4.6l-2.3 .6l7.9 4.7zM674.9 323.4l-7.9-4.7l-2.3 .7l7.9 4.6zM662.3 320.1l-7.9-4.6l-2.3 .7l7.9 4.6zM660 320.8l-7.9-4.6l-2.3 .7l7.9 4.6zM657.7 321.5l-7.9-4.6l-2.4 .7l8 4.5zM655.4 322.1l-8-4.5l-2.3 .7l8 4.5zM653.1 322.8l-8-4.5l-2.3 .7l8 4.4zM640.5 319.6l-8-4.4l-2.3 .7l8 4.4zM638.2 320.3l-8-4.4l-2.3 .6l7.9 4.4zM635.8 320.9l-7.9-4.4l-2.3 .7l7.9 4.3zM633.5 321.5l-7.9-4.3l-2.4 .6l8 4.4zM631.2 322.2l-8-4.4l-2.3 .7l8 4.3zM618.6 319.1l-7.9-4.3l-2.4 .7l8 4.3zM616.3 319.8l-8-4.3l-2.3 .6l8 4.3zM614 320.4l-8-4.3l-2.3 .6l8 4.3zM611.7 321l-8-4.3l-2.3 .7l7.9 4.2zM609.3 321.6l-7.9-4.2l-2.3 .6l7.9 4.2zM607 322.2l-7.9-4.2l-2.4 .6l8 4.2zM596.7 318.6l-7.9-4.2l-2.3 .7l7.9 4.2zM594.4 319.3l-7.9-4.2l-2.4 .6l8 4.2zM592.1 319.9l-8-4.2l-2.3 .6l8 4.2zM589.8 320.5l-8-4.2l-2.3 .6l8 4.2zM587.5 321.1l-8-4.2l-2.3 .7l8 4.1zM585.2 321.7l-8-4.1l-2.3 .6l7.9 4.1zM574.9 318.2l-8-4.1l-2.3 .6l8 4.1zM572.6 318.8l-8-4.1l-2.3 .6l7.9 4.1zM570.2 319.4l-7.9-4.1l-2.3 .6l7.9 4.1zM567.9 320l-7.9-4.1l-2.4 .6l8 4zM565.6 320.5l-8-4l-2.3 .6l8 4zM563.3 321.1l-8-4l-2.3 .6l8 4zM553 317.7l-8-4l-2.3 .6l8 4zM550.7 318.3l-8-4l-2.3 .6l8 4zM548.4 318.9l-8-4l-2.3 .6l8 4zM546.1 319.5l-8-4l-2.3 .6l7.9 3.9zM543.7 320l-7.9-3.9l-2.3 .6l7.9 3.9zM541.4 320.6l-7.9-3.9l-2.4 .5l8 4zM531.1 317.2l-7.9-3.9l-2.3 .6l7.9 3.9zM528.8 317.8l-7.9-3.9l-2.4 .6l8 3.9zM526.5 318.4l-8-3.9l-2.3 .6l8 3.9zM524.2 319l-8-3.9l-2.3 .6l8 3.8zM521.9 319.5l-8-3.8l-2.3 .5l8 3.9zM519.6 320.1l-8-3.9l-2.3 .6l7.9 3.8zM517.2 320.6l-15.9-7.6l-2.3 .5l15.9 7.7zM507 317.4l-8-3.9l-2.3 .6l7.9 3.8zM504.6 317.9l-7.9-3.8l-2.3 .6l7.9 3.8zM502.3 318.5l-7.9-3.8l-2.4 .5l8 3.8zM500 319l-8-3.8l-2.3 .6l8 3.8zM497.7 319.6l-8-3.8l-2.3 .6l8 3.7zM495.4 320.1l-16-7.5l-2.3 .6l16 7.5zM485.1 316.9l-8-3.7l-2.3 .5l8 3.8zM482.8 317.5l-8-3.8l-2.3 .6l8 3.7zM480.5 318l-8-3.7l-2.3 .5l7.9 3.8zM478.1 318.6l-7.9-3.8l-2.3 .6l7.9 3.7zM475.8 319.1l-7.9-3.7l-2.4 .5l8 3.7zM473.5 319.6l-15.9-7.4l-2.3 .6l15.9 7.4zM463.2 316.5l-7.9-3.7l-2.4 .5l8 3.7zM460.9 317l-8-3.7l-2.3 .6l8 3.6zM458.6 317.5l-8-3.6l-2.3 .5l8 3.7zM456.3 318.1l-8-3.7l-2.3 .6l8 3.6zM454 318.6l-8-3.6l-2.3 .5l7.9 3.6zM451.6 319.1l-15.9-7.3l-2.3 .6l15.9 7.3zM441.4 316l-8-3.6l-2.3 .5l7.9 3.7zM439 316.6l-7.9-3.7l-2.3 .6l7.9 3.6zM436.7 317.1l-7.9-3.6l-2.4 .5l8 3.6zM434.4 317.6l-8-3.6l-2.3 .5l8 3.6zM432.1 318.1l-8-3.6l-2.3 .6l8 3.5zM429.8 318.6l-16-7.1l-2.3 .5l15.9 7.2zM427.4 319.2l-15.9-7.2l-2.3 .5l15.9 7.2zM417.2 316.1l-8-3.6l-2.3 .6l8 3.5zM414.9 316.6l-8-3.5l-2.3 .5l7.9 3.5zM412.5 317.1l-7.9-3.5l-2.3 .5l7.9 3.6zM410.2 317.7l-7.9-3.6l-2.4 .5l8 3.6zM407.9 318.2l-15.9-7.1l-2.3 .5l15.9 7.1zM405.6 318.7l-15.9-7.1l-2.4 .6l16 7zM395.3 315.7l-8-3.5l-2.3 .5l8 3.5zM393 316.2l-8-3.5l-2.3 .5l8 3.5zM390.7 316.7l-8-3.5l-2.3 .5l8 3.5zM388.4 317.2l-8-3.5l-2.3 .5l7.9 3.5zM386 317.7l-15.9-7l-2.3 .6l15.9 6.9zM383.7 318.2l-15.9-6.9l-2.3 .5l15.9 6.9zM373.4 315.2l-7.9-3.4l-2.3 .5l7.9 3.4zM371.1 315.7l-7.9-3.4l-2.4 .5l8 3.4zM368.8 316.2l-8-3.4l-2.3 .5l8 3.4zM366.5 316.7l-8-3.4l-2.3 .5l8 3.4zM364.2 317.2l-16-6.8l-2.3 .5l15.9 6.8zM361.8 317.7l-15.9-6.8l-2.3 .5l15.9 6.8zM351.6 314.8l-8-3.4l-2.3 .5l7.9 3.4zM349.2 315.3l-7.9-3.4l-2.3 .5l7.9 3.4zM346.9 315.8l-7.9-3.4l-2.3 .5l7.9 3.4zM344.6 316.3l-7.9-3.4l-2.4 .5l8 3.4zM342.3 316.8l-15.9-6.8l-2.3 .5l15.9 6.8zM340 317.3l-15.9-6.8l-2.4 .5l16 6.8zM337.7 317.8l-16-6.8l-2.3 .5l15.9 6.7zM327.4 314.9l-8-3.4l-2.3 .5l8 3.4zM325.1 315.4l-8-3.4l-2.3 .5l7.9 3.3zM322.7 315.8l-15.9-6.7l-2.3 .5l15.9 6.7zM320.4 316.3l-15.9-6.7l-2.3 .5l15.9 6.7zM318.1 316.8l-15.9-6.7l-2.3 .5l15.9 6.7zM315.8 317.3l-15.9-6.7l-2.3 .5l15.9 6.7zM305.5 314.4l-7.9-3.3l-2.4 .5l8 3.3zM303.2 314.9l-8-3.3l-2.3 .5l8 3.3zM300.9 315.4l-15.9-6.6l-2.4 .5l16 6.6zM298.6 315.9l-16-6.6l-2.3 .4l15.9 6.7zM296.2 316.4l-15.9-6.7l-2.3 .5l15.9 6.6zM293.9 316.8l-15.9-6.6l-2.3 .5l15.9 6.6zM283.6 314l-7.9-3.3l-2.3 .5l7.9 3.3zM281.3 314.5l-7.9-3.3l-2.4 .5l8 3.3zM279 315l-15.9-6.6l-2.3 .5l15.9 6.5zM276.7 315.4l-15.9-6.5l-2.3 .5l15.9 6.5zM274.4 315.9l-15.9-6.5l-2.4 .5l16 6.5zM272.1 316.4l-16-6.5l-2.3 .4l15.9 6.5zM261.8 313.6l-8-3.3l-2.3 .5l8 3.3zM259.5 314.1l-8-3.3l-2.3 .5l7.9 3.2zM257.1 314.5l-15.9-6.5l-2.3 .5l15.9 6.5zM254.8 315l-15.9-6.5l-2.3 .5l15.9 6.5zM252.5 315.5l-15.9-6.5l-2.3 .5l15.9 6.4zM250.2 315.9l-15.9-6.4l-2.3 .4l15.9 6.5zM247.9 316.4l-15.9-6.5l-2.4 .5l16 6.4zM237.6 313.6l-8-3.2l-2.3 .5l8 3.2zM235.3 314.1l-15.9-6.4l-2.4 .4l16 6.5zM233 314.6l-16-6.5l-2.3 .5l15.9 6.4zM230.6 315l-15.9-6.4l-2.3 .5l15.9 6.4zM228.3 315.5l-15.9-6.4l-2.3 .5l15.9 6.3zM226 315.9l-15.9-6.3l-2.3 .4l15.9 6.4zM215.7 313.2l-7.9-3.2l-2.4 .5l8 3.2zM213.4 313.7l-15.9-6.4l-2.3 .5l15.9 6.3zM211.1 314.1l-15.9-6.3l-2.4 .4l16 6.4zM208.8 314.6l-16-6.4l-2.3 .5l16 6.3zM206.5 315l-16-6.3l-2.3 .5l15.9 6.3zM204.1 315.5l-15.9-6.3l-2.3 .4l15.9 6.3zM193.9 312.8l-8-3.2l-2.3 .5l7.9 3.1zM191.5 313.2l-15.9-6.3l-2.3 .5l15.9 6.3zM189.2 313.7l-15.9-6.3l-2.3 .5l15.9 6.2zM186.9 314.1l-15.9-6.2l-2.3 .4l15.9 6.3zM184.6 314.6l-15.9-6.3l-2.4 .5l16 6.2zM182.3 315l-16-6.2l-2.3 .4l16 6.3zM172 312.4l-8-3.2l-2.3 .5l8 3.1zM169.7 312.8l-16-6.2l-2.3 .4l16 6.3zM167.4 313.3l-16-6.3l-2.3 .5l15.9 6.2zM165 313.7l-15.9-6.2l-2.3 .4l15.9 6.3zM162.7 314.2l-15.9-6.3l-2.3 .5l15.9 6.2zM160.4 314.6l-15.9-6.2l-2.3 .5l15.9 6.1z"/>
<path fill="#464fff" stroke="#464fff" d="M822.4 321.5l-8-6.4l-2.3 1l8 6.4zM820.1 322.5l-8-6.4l-2.3 1.1l7.9 6.2zM817.7 323.4l-7.9-6.2l-2.3 .9l7.9 6.3zM800.5 321l-8-6.1l-2.3 1l8 6zM798.2 321.9l-8-6l-2.3 .9l8 6zM795.9 322.8l-8-6l-2.3 1l8 5.8zM778.6 320.4l-7.9-5.7l-2.3 .9l7.9 5.7zM776.3 321.3l-7.9-5.7l-2.4 .9l8 5.6zM774 322.1l-8-5.6l-2.3 .9l8 5.6zM756.8 319.9l-8-5.4l-2.3 .9l8 5.3zM754.5 320.7l-8-5.3l-2.3 .8l7.9 5.3zM752.1 321.5l-7.9-5.3l-2.3 .8l7.9 5.3zM737.2 318.6l-7.9-5.2l-2.4 .8l8 5.2zM734.9 319.4l-8-5.2l-2.3 .9l8 5.1zM732.6 320.2l-8-5.1l-2.3 .8l8 5.1zM730.3 321l-8-5.1l-2.3 .8l8 5zM715.4 318.2l-8-5l-2.3 .8l7.9 5zM713 319l-7.9-5l-2.3 .8l7.9 4.9zM710.7 319.7l-7.9-4.9l-2.4 .7l8 5zM708.4 320.5l-8-5l-2.3 .8l8 4.9zM693.5 317.8l-8-4.9l-2.3 .8l8 4.8zM691.2 318.5l-8-4.8l-2.3 .8l7.9 4.7zM688.8 319.2l-7.9-4.7l-2.3 .7l7.9 4.7zM686.5 319.9l-7.9-4.7l-2.3 .7l7.9 4.7zM673.9 316.6l-7.9-4.7l-2.3 .8l7.9 4.7zM671.6 317.4l-7.9-4.7l-2.4 .7l8 4.7zM669.3 318.1l-8-4.7l-2.3 .7l8 4.6zM667 318.7l-8-4.6l-2.3 .7l8 4.6zM664.7 319.4l-8-4.6l-2.3 .7l7.9 4.6zM652.1 316.2l-8-4.5l-2.3 .7l8 4.5zM649.8 316.9l-8-4.5l-2.3 .7l7.9 4.5zM647.4 317.6l-7.9-4.5l-2.3 .7l7.9 4.5zM645.1 318.3l-7.9-4.5l-2.4 .7l8 4.5zM642.8 319l-8-4.5l-2.3 .7l8 4.4zM630.2 315.9l-8-4.5l-2.3 .7l8 4.4zM627.9 316.5l-8-4.4l-2.3 .7l8 4.4zM625.6 317.2l-8-4.4l-2.3 .7l7.9 4.3zM623.2 317.8l-7.9-4.3l-2.3 .6l7.9 4.4zM620.9 318.5l-7.9-4.4l-2.3 .7l7.9 4.3zM608.3 315.5l-7.9-4.3l-2.3 .6l7.9 4.3zM606 316.1l-7.9-4.3l-2.4 .7l8 4.2zM603.7 316.7l-8-4.2l-2.3 .7l8 4.2zM601.4 317.4l-8-4.2l-2.3 .6l8 4.2zM599.1 318l-8-4.2l-2.3 .6l7.9 4.2zM588.8 314.4l-8-4.2l-2.3 .7l8 4.2zM586.5 315.1l-8-4.2l-2.3 .6l7.9 4.2zM584.1 315.7l-7.9-4.2l-2.3 .7l7.9 4.1zM581.8 316.3l-7.9-4.1l-2.3 .6l7.9 4.1zM579.5 316.9l-7.9-4.1l-2.4 .6l8 4.2zM577.2 317.6l-8-4.2l-2.3 .7l8 4.1zM566.9 314.1l-7.9-4.1l-2.4 .6l8 4.1zM564.6 314.7l-8-4.1l-2.3 .6l8 4.1zM562.3 315.3l-8-4.1l-2.3 .7l8 4zM560 315.9l-8-4l-2.3 .6l7.9 4zM557.6 316.5l-7.9-4l-2.3 .6l7.9 4zM555.3 317.1l-7.9-4l-2.4 .6l8 4zM545 313.7l-7.9-4l-2.3 .6l7.9 4zM542.7 314.3l-7.9-4l-2.4 .6l8 4zM540.4 314.9l-8-4l-2.3 .6l8 4zM538.1 315.5l-8-4l-2.3 .6l8 4zM535.8 316.1l-8-4l-2.3 .6l8 4zM533.5 316.7l-16-7.9l-2.3 .6l15.9 7.8zM523.2 313.3l-8-3.9l-2.3 .6l8 3.9zM520.9 313.9l-8-3.9l-2.3 .6l7.9 3.9zM518.5 314.5l-7.9-3.9l-2.3 .6l7.9 3.9zM516.2 315.1l-7.9-3.9l-2.4 .6l8 3.9zM513.9 315.7l-8-3.9l-2.3 .6l8 3.8zM511.6 316.2l-15.9-7.7l-2.3 .6l15.9 7.7zM501.3 313l-7.9-3.9l-2.4 .6l8 3.8zM499 313.5l-8-3.8l-2.3 .6l8 3.8zM496.7 314.1l-8-3.8l-2.3 .6l8 3.8zM494.4 314.7l-8-3.8l-2.3 .5l7.9 3.8zM492 315.2l-7.9-3.8l-2.3 .6l7.9 3.8zM489.7 315.8l-15.9-7.6l-2.3 .6l15.9 7.6zM479.4 312.6l-7.9-3.8l-2.3 .6l7.9 3.8zM477.1 313.2l-7.9-3.8l-2.4 .6l8 3.7zM474.8 313.7l-8-3.7l-2.3 .5l8 3.8zM472.5 314.3l-8-3.8l-2.3 .6l8 3.7zM470.2 314.8l-8-3.7l-2.3 .6l8 3.7zM467.9 315.4l-16-7.5l-2.3 .6l15.9 7.4zM457.6 312.2l-8-3.7l-2.3 .6l8 3.7zM455.3 312.8l-8-3.7l-2.3 .5l7.9 3.7zM452.9 313.3l-7.9-3.7l-2.3 .6l7.9 3.7zM450.6 313.9l-7.9-3.7l-2.4 .6l8 3.6zM448.3 314.4l-15.9-7.3l-2.3 .5l15.9 7.4zM446 315l-15.9-7.4l-2.4 .6l16 7.3zM435.7 311.8l-8-3.6l-2.3 .6l8 3.6zM433.4 312.4l-8-3.6l-2.3 .5l8 3.6zM431.1 312.9l-8-3.6l-2.3 .6l8 3.6zM428.8 313.5l-8-3.6l-2.3 .5l7.9 3.6zM426.4 314l-15.9-7.2l-2.3 .5l15.9 7.2zM424.1 314.5l-15.9-7.2l-2.3 .6l15.9 7.2zM413.8 311.5l-7.9-3.6l-2.3 .5l7.9 3.6zM411.5 312l-7.9-3.6l-2.4 .6l8 3.5zM409.2 312.5l-8-3.5l-2.3 .5l8 3.6zM406.9 313.1l-8-3.6l-2.3 .5l8 3.6zM404.6 313.6l-16-7.1l-2.3 .5l16 7.1zM402.3 314.1l-16-7.1l-2.3 .6l15.9 7zM392 311.1l-8-3.5l-2.3 .5l8 3.5zM389.7 311.6l-8-3.5l-2.3 .5l7.9 3.6zM387.3 312.2l-7.9-3.6l-2.3 .6l7.9 3.5zM385 312.7l-15.9-7l-2.3 .5l15.9 7zM382.7 313.2l-15.9-7l-2.3 .5l15.9 7zM380.4 313.7l-15.9-7l-2.4 .6l16 6.9zM370.1 310.7l-8-3.4l-2.3 .5l8 3.5zM367.8 311.3l-8-3.5l-2.3 .5l8 3.5zM365.5 311.8l-8-3.5l-2.3 .5l8 3.5zM363.2 312.3l-16-6.9l-2.3 .5l15.9 6.9zM360.8 312.8l-15.9-6.9l-2.3 .5l15.9 6.9zM358.5 313.3l-15.9-6.9l-2.3 .5l15.9 6.9zM348.2 310.4l-7.9-3.5l-2.3 .6l7.9 3.4zM345.9 310.9l-7.9-3.4l-2.4 .5l8 3.4zM343.6 311.4l-8-3.4l-2.3 .5l8 3.4zM341.3 311.9l-15.9-6.8l-2.4 .5l16 6.8zM339 312.4l-16-6.8l-2.3 .5l16 6.8zM336.7 312.9l-16-6.8l-2.3 .5l15.9 6.8zM326.4 310l-8-3.4l-2.3 .5l8 3.4zM324.1 310.5l-8-3.4l-2.3 .5l7.9 3.4zM321.7 311l-7.9-3.4l-2.3 .5l7.9 3.4zM319.4 311.5l-15.9-6.7l-2.3 .5l15.9 6.7zM317.1 312l-15.9-6.7l-2.3 .5l15.9 6.7zM306.8 309.1l-7.9-3.3l-2.4 .5l8 3.3zM304.5 309.6l-8-3.3l-2.3 .5l8 3.3zM302.2 310.1l-8-3.3l-2.3 .5l8 3.3zM299.9 310.6l-16-6.7l-2.3 .6l16 6.6zM297.6 311.1l-16-6.6l-2.3 .5l15.9 6.6zM295.2 311.6l-15.9-6.6l-2.3 .5l15.9 6.6zM285 308.8l-8-3.3l-2.3 .5l7.9 3.3zM282.6 309.3l-7.9-3.3l-2.3 .4l7.9 3.3zM280.3 309.7l-7.9-3.3l-2.4 .5l8 3.3zM278 310.2l-15.9-6.6l-2.3 .5l15.9 6.6zM275.7 310.7l-15.9-6.6l-2.4 .5l16 6.6zM273.4 311.2l-16-6.6l-2.3 .5l15.9 6.6zM263.1 308.4l-8-3.3l-2.3 .5l8 3.3zM260.8 308.9l-8-3.3l-2.3 .5l8 3.3zM258.5 309.4l-8-3.3l-2.3 .5l7.9 3.3zM256.1 309.9l-15.9-6.6l-2.3 .5l15.9 6.5zM253.8 310.3l-15.9-6.5l-2.3 .5l15.9 6.5zM251.5 310.8l-15.9-6.5l-2.3 .5l15.9 6.5zM241.2 308l-7.9-3.2l-2.4 .5l8 3.2zM238.9 308.5l-8-3.2l-2.3 .5l8 3.2zM236.6 309l-15.9-6.5l-2.4 .5l16 6.5zM234.3 309.5l-16-6.5l-2.3 .5l16 6.4zM232 309.9l-16-6.4l-2.3 .5l15.9 6.4zM229.6 310.4l-15.9-6.4l-2.3 .5l15.9 6.4zM219.4 307.7l-8-3.2l-2.3 .4l7.9 3.2zM217 308.1l-7.9-3.2l-2.3 .5l7.9 3.2zM214.7 308.6l-15.9-6.4l-2.3 .5l15.9 6.4zM212.4 309.1l-15.9-6.4l-2.3 .5l15.9 6.4zM210.1 309.6l-15.9-6.4l-2.4 .5l16 6.3zM207.8 310l-16-6.3l-2.3 .4l15.9 6.4zM197.5 307.3l-8-3.2l-2.3 .5l8 3.2zM195.2 307.8l-8-3.2l-2.3 .5l7.9 3.1zM192.8 308.2l-15.9-6.3l-2.3 .5l15.9 6.3zM190.5 308.7l-15.9-6.3l-2.3 .5l15.9 6.3zM188.2 309.2l-15.9-6.3l-2.3 .4l15.9 6.3zM185.9 309.6l-15.9-6.3l-2.3 .5l15.9 6.3zM175.6 306.9l-7.9-3.1l-2.4 .5l8 3.1zM173.3 307.4l-8-3.1l-2.3 .4l8 3.2zM171 307.9l-15.9-6.3l-2.4 .5l16 6.2zM168.7 308.3l-16-6.2l-2.3 .4l15.9 6.3zM166.3 308.8l-15.9-6.3l-2.3 .5l15.9 6.2zM164 309.2l-15.9-6.2l-2.3 .5l15.9 6.2zM153.7 306.6l-7.9-3.1l-2.3 .4l7.9 3.1zM151.4 307l-15.9-6.2l-2.3 .5l15.9 6.2zM149.1 307.5l-15.9-6.2l-2.3 .4l15.9 6.2zM146.8 307.9l-15.9-6.2l-2.3 .5l15.9 6.2zM144.5 308.4l-15.9-6.2l-2.4 .5l16 6.2z"/>
<path fill="#4652ff" stroke="#4652ff" d="M827 319.5l-8-6.5l-2.3 1.1l8 6.4zM824.7 320.5l-8-6.4l-2.3 1l8 6.4zM807.5 318.1l-8-6.2l-2.3 1l7.9 6.2zM805.1 319.1l-7.9-6.2l-2.3 1.1l7.9 6zM802.8 320l-7.9-6l-2.4 .9l8 6.1zM785.6 317.8l-8-5.9l-2.3 1l8 5.8zM783.3 318.7l-8-5.8l-2.3 .9l8 5.8zM781 319.6l-8-5.8l-2.3 .9l7.9 5.7zM766 316.5l-7.9-5.6l-2.3 .9l7.9 5.6zM763.7 317.4l-7.9-5.6l-2.4 .9l8 5.6zM761.4 318.3l-8-5.6l-2.3 .9l8 5.5zM759.1 319.1l-8-5.5l-2.3 .9l8 5.4zM744.2 316.2l-8-5.3l-2.3 .8l8 5.3zM741.9 317l-8-5.3l-2.3 .9l7.9 5.2zM739.5 317.8l-7.9-5.2l-2.3 .8l7.9 5.2zM724.6 315.1l-7.9-5.2l-2.4 .8l8 5.2zM722.3 315.9l-8-5.2l-2.3 .9l8 5.1zM720 316.7l-8-5.1l-2.3 .8l8 5zM717.7 317.4l-8-5l-2.3 .8l8 5zM702.8 314.8l-8-5l-2.3 .8l7.9 4.9zM700.4 315.5l-7.9-4.9l-2.3 .8l7.9 4.9zM698.1 316.3l-7.9-4.9l-2.4 .8l8 4.8zM695.8 317l-8-4.8l-2.3 .7l8 4.9zM683.2 313.7l-8-4.8l-2.3 .8l8 4.8zM680.9 314.5l-8-4.8l-2.3 .7l8 4.8zM678.6 315.2l-8-4.8l-2.3 .8l8 4.7zM676.3 315.9l-8-4.7l-2.3 .7l7.9 4.7zM661.3 313.4l-7.9-4.6l-2.3 .7l7.9 4.6zM659 314.1l-7.9-4.6l-2.4 .8l8 4.5zM656.7 314.8l-8-4.5l-2.3 .7l8 4.5zM654.4 315.5l-8-4.5l-2.3 .7l8 4.5zM641.8 312.4l-8-4.5l-2.3 .7l8 4.5zM639.5 313.1l-8-4.5l-2.3 .7l8 4.5zM637.2 313.8l-8-4.5l-2.3 .7l7.9 4.5zM634.8 314.5l-7.9-4.5l-2.3 .7l7.9 4.5zM632.5 315.2l-7.9-4.5l-2.4 .7l8 4.5zM619.9 312.1l-7.9-4.4l-2.4 .7l8 4.4zM617.6 312.8l-8-4.4l-2.3 .7l8 4.4zM615.3 313.5l-8-4.4l-2.3 .7l8 4.3zM613 314.1l-8-4.3l-2.3 .7l8 4.3zM610.7 314.8l-8-4.3l-2.3 .7l7.9 4.3zM600.4 311.2l-8-4.3l-2.3 .7l8 4.2zM598.1 311.8l-8-4.2l-2.3 .6l7.9 4.3zM595.7 312.5l-7.9-4.3l-2.3 .7l7.9 4.3zM593.4 313.2l-7.9-4.3l-2.4 .7l8 4.2zM591.1 313.8l-8-4.2l-2.3 .6l8 4.2zM578.5 310.9l-8-4.2l-2.3 .7l8 4.1zM576.2 311.5l-8-4.1l-2.3 .6l8 4.2zM573.9 312.2l-8-4.2l-2.3 .7l8 4.1zM571.6 312.8l-8-4.1l-2.3 .6l7.9 4.1zM569.2 313.4l-7.9-4.1l-2.3 .7l7.9 4.1zM559 310l-8-4.1l-2.3 .6l7.9 4.1zM556.6 310.6l-7.9-4.1l-2.3 .7l7.9 4zM554.3 311.2l-7.9-4l-2.4 .6l8 4.1zM552 311.9l-8-4.1l-2.3 .6l8 4.1zM549.7 312.5l-8-4.1l-2.3 .7l8 4zM547.4 313.1l-16-8l-2.3 .6l15.9 8zM537.1 309.7l-8-4l-2.3 .6l8 4zM534.8 310.3l-8-4l-2.3 .7l7.9 3.9zM532.4 310.9l-7.9-3.9l-2.3 .6l7.9 3.9zM530.1 311.5l-7.9-3.9l-2.3 .6l7.9 3.9zM527.8 312.1l-7.9-3.9l-2.4 .6l8 3.9zM517.5 308.8l-7.9-3.9l-2.3 .6l7.9 3.9zM515.2 309.4l-7.9-3.9l-2.4 .6l8 3.9zM512.9 310l-8-3.9l-2.3 .6l8 3.9zM510.6 310.6l-8-3.9l-2.3 .6l8 3.9zM508.3 311.2l-8-3.9l-2.3 .6l7.9 3.9zM505.9 311.8l-15.9-7.7l-2.3 .6l15.9 7.7zM495.7 308.5l-8-3.8l-2.3 .6l8 3.8zM493.4 309.1l-8-3.8l-2.3 .6l7.9 3.8zM491 309.7l-7.9-3.8l-2.3 .6l7.9 3.8zM488.7 310.3l-7.9-3.8l-2.4 .6l8 3.8zM486.4 310.9l-8-3.8l-2.3 .6l8 3.7zM484.1 311.4l-15.9-7.5l-2.4 .6l16 7.5zM473.8 308.2l-8-3.7l-2.3 .5l8 3.8zM471.5 308.8l-8-3.8l-2.3 .6l8 3.8zM469.2 309.4l-8-3.8l-2.3 .6l7.9 3.8zM466.8 310l-7.9-3.8l-2.3 .6l7.9 3.7zM464.5 310.5l-15.9-7.4l-2.3 .6l15.9 7.4zM462.2 311.1l-15.9-7.4l-2.3 .5l15.9 7.5zM451.9 307.9l-7.9-3.7l-2.3 .6l7.9 3.7zM449.6 308.5l-7.9-3.7l-2.4 .6l8 3.7zM447.3 309.1l-8-3.7l-2.3 .6l8 3.6zM445 309.6l-8-3.6l-2.3 .5l8 3.7zM442.7 310.2l-16-7.3l-2.3 .5l15.9 7.4zM432.4 307.1l-8-3.7l-2.3 .6l8 3.6zM430.1 307.6l-8-3.6l-2.3 .6l7.9 3.6zM427.7 308.2l-7.9-3.6l-2.3 .5l7.9 3.7zM425.4 308.8l-7.9-3.7l-2.3 .6l7.9 3.6zM423.1 309.3l-15.9-7.2l-2.3 .5l15.9 7.3zM420.8 309.9l-15.9-7.3l-2.3 .6l15.9 7.2zM410.5 306.8l-7.9-3.6l-2.4 .6l8 3.5zM408.2 307.3l-8-3.5l-2.3 .5l8 3.6zM405.9 307.9l-8-3.6l-2.3 .6l8 3.5zM403.6 308.4l-8-3.5l-2.3 .5l7.9 3.6zM401.2 309l-15.9-7.2l-2.3 .6l15.9 7.1zM398.9 309.5l-15.9-7.1l-2.3 .6l15.9 7zM388.6 306.5l-7.9-3.5l-2.3 .5l7.9 3.5zM386.3 307l-7.9-3.5l-2.4 .5l8 3.6zM384 307.6l-8-3.6l-2.3 .6l8 3.5zM381.7 308.1l-15.9-7l-2.3 .5l15.9 7zM379.4 308.6l-15.9-7l-2.4 .6l16 7zM369.1 305.7l-8-3.5l-2.3 .5l8 3.5zM366.8 306.2l-8-3.5l-2.3 .5l8 3.5zM364.5 306.7l-8-3.5l-2.3 .6l7.9 3.5zM362.1 307.3l-7.9-3.5l-2.3 .5l7.9 3.5zM359.8 307.8l-15.9-7l-2.3 .6l15.9 6.9zM357.5 308.3l-15.9-6.9l-2.3 .5l15.9 6.9zM347.2 305.4l-7.9-3.5l-2.3 .5l7.9 3.5zM344.9 305.9l-7.9-3.5l-2.4 .6l8 3.4zM342.6 306.4l-8-3.4l-2.3 .5l8 3.4zM340.3 306.9l-15.9-6.8l-2.4 .5l16 6.9zM338 307.5l-16-6.9l-2.3 .5l15.9 6.9zM335.6 308l-15.9-6.9l-2.3 .6l15.9 6.8zM325.4 305.1l-8-3.4l-2.3 .5l7.9 3.4zM323 305.6l-7.9-3.4l-2.3 .5l7.9 3.4zM320.7 306.1l-7.9-3.4l-2.4 .5l8 3.4zM318.4 306.6l-15.9-6.8l-2.3 .6l15.9 6.7zM316.1 307.1l-15.9-6.7l-2.4 .5l16 6.7zM313.8 307.6l-16-6.7l-2.3 .5l16 6.7zM303.5 304.8l-8-3.4l-2.3 .5l8 3.4zM301.2 305.3l-8-3.4l-2.3 .5l8 3.4zM298.9 305.8l-16-6.7l-2.3 .5l15.9 6.7zM296.5 306.3l-15.9-6.7l-2.3 .5l15.9 6.7zM294.2 306.8l-15.9-6.7l-2.3 .5l15.9 6.7zM283.9 303.9l-7.9-3.3l-2.3 .5l7.9 3.4zM281.6 304.5l-7.9-3.4l-2.4 .5l8 3.4zM279.3 305l-8-3.4l-2.3 .5l8 3.4zM277 305.5l-15.9-6.7l-2.3 .5l15.9 6.7zM274.7 306l-15.9-6.7l-2.4 .5l16 6.6zM272.4 306.4l-16-6.6l-2.3 .5l15.9 6.6zM262.1 303.6l-8-3.3l-2.3 .5l8 3.3zM259.8 304.1l-8-3.3l-2.3 .6l7.9 3.2zM257.4 304.6l-15.9-6.5l-2.3 .5l15.9 6.5zM255.1 305.1l-15.9-6.5l-2.3 .5l15.9 6.5zM252.8 305.6l-15.9-6.5l-2.3 .5l15.9 6.5zM250.5 306.1l-15.9-6.5l-2.4 .5l16 6.5zM240.2 303.3l-8-3.2l-2.3 .5l8 3.2zM237.9 303.8l-8-3.2l-2.3 .5l8 3.2zM235.6 304.3l-16-6.5l-2.3 .5l16 6.5zM233.3 304.8l-16-6.5l-2.3 .5l15.9 6.5zM230.9 305.3l-15.9-6.5l-2.3 .5l15.9 6.5zM220.7 302.5l-8-3.2l-2.3 .5l7.9 3.2zM218.3 303l-7.9-3.2l-2.3 .5l7.9 3.2zM216 303.5l-15.9-6.4l-2.3 .5l15.9 6.4zM213.7 304l-15.9-6.4l-2.3 .4l15.9 6.5zM211.4 304.5l-15.9-6.5l-2.4 .5l16 6.4zM209.1 304.9l-16-6.4l-2.3 .5l16 6.4zM198.8 302.2l-8-3.2l-2.3 .5l8 3.2zM196.5 302.7l-8-3.2l-2.3 .5l8 3.2zM194.2 303.2l-16-6.4l-2.3 .5l15.9 6.4zM191.8 303.7l-15.9-6.4l-2.3 .5l15.9 6.3zM189.5 304.1l-15.9-6.3l-2.3 .5l15.9 6.3zM187.2 304.6l-15.9-6.3l-2.3 .4l15.9 6.4zM176.9 301.9l-7.9-3.2l-2.4 .5l8 3.2zM174.6 302.4l-15.9-6.3l-2.3 .4l15.9 6.4zM172.3 302.9l-15.9-6.4l-2.4 .5l16 6.3zM170 303.3l-16-6.3l-2.3 .5l16 6.3zM167.7 303.8l-16-6.3l-2.3 .5l15.9 6.3zM165.3 304.3l-15.9-6.3l-2.3 .5l15.9 6.2zM155.1 301.6l-8-3.1l-2.3 .4l7.9 3.2zM152.7 302.1l-15.9-6.3l-2.3 .5l15.9 6.2zM150.4 302.5l-15.9-6.2l-2.3 .5l15.9 6.2zM148.1 303l-15.9-6.2l-2.3 .4l15.9 6.3zM145.8 303.5l-15.9-6.3l-2.4 .5l16 6.2zM135.5 300.8l-8-3.1l-2.3 .5l8 3.1zM133.2 301.3l-15.9-6.2l-2.4 .4l16 6.2zM130.9 301.7l-16-6.2l-2.3 .5l16 6.2zM128.6 302.2l-16-6.2l-2.3 .5l15.9 6.2z"/>
<path fill="#4655ff" stroke="#4655ff" d="M834 316.4l-8-6.8l-2.3 1.1l7.9 6.7zM831.6 317.4l-7.9-6.7l-2.3 1.2l7.9 6.6zM829.3 318.5l-7.9-6.6l-2.4 1.1l8 6.5zM812.1 316.1l-8-6.3l-2.3 1.1l8 6.3zM809.8 317.2l-8-6.3l-2.3 1l8 6.2zM792.5 314.9l-7.9-6l-2.3 1l7.9 6zM790.2 315.9l-7.9-6l-2.4 1l8 5.9zM787.9 316.8l-8-5.9l-2.3 1l8 5.9zM773 313.8l-8-5.8l-2.3 1l8 5.7zM770.7 314.7l-8-5.7l-2.3 1l8 5.6zM768.4 315.6l-8-5.6l-2.3 .9l7.9 5.6zM753.4 312.7l-7.9-5.5l-2.3 1l7.9 5.4zM751.1 313.6l-7.9-5.4l-2.4 .9l8 5.4zM748.8 314.5l-8-5.4l-2.3 .9l8 5.4zM746.5 315.4l-8-5.4l-2.3 .9l8 5.3zM731.6 312.6l-8-5.3l-2.3 .9l8 5.2zM729.3 313.4l-8-5.2l-2.3 .9l7.9 5.1zM726.9 314.2l-7.9-5.1l-2.3 .8l7.9 5.2zM712 311.6l-7.9-5.1l-2.4 .8l8 5.1zM709.7 312.4l-8-5.1l-2.3 .9l8 5zM707.4 313.2l-8-5l-2.3 .8l8 5zM705.1 314l-8-5l-2.3 .8l8 5zM692.5 310.6l-8-4.9l-2.3 .8l8 4.9zM690.2 311.4l-8-4.9l-2.3 .8l7.9 4.9zM687.8 312.2l-7.9-4.9l-2.3 .8l7.9 4.8zM685.5 312.9l-7.9-4.8l-2.4 .8l8 4.8zM670.6 310.4l-8-4.7l-2.3 .8l8 4.7zM668.3 311.2l-8-4.7l-2.3 .8l8 4.6zM666 311.9l-8-4.6l-2.3 .7l8 4.7zM663.7 312.7l-8-4.7l-2.3 .8l7.9 4.6zM651.1 309.5l-8-4.6l-2.3 .8l7.9 4.6zM648.7 310.3l-7.9-4.6l-2.3 .7l7.9 4.6zM646.4 311l-7.9-4.6l-2.4 .8l8 4.5zM644.1 311.7l-8-4.5l-2.3 .7l8 4.5zM631.5 308.6l-8-4.5l-2.3 .8l8 4.4zM629.2 309.3l-8-4.4l-2.3 .7l8 4.4zM626.9 310l-8-4.4l-2.3 .7l8 4.4zM624.6 310.7l-8-4.4l-2.3 .7l7.9 4.4zM622.2 311.4l-7.9-4.4l-2.3 .7l7.9 4.4zM612 307.7l-8-4.3l-2.3 .7l7.9 4.3zM609.6 308.4l-7.9-4.3l-2.3 .7l7.9 4.3zM607.3 309.1l-7.9-4.3l-2.4 .7l8 4.3zM605 309.8l-8-4.3l-2.3 .7l8 4.3zM602.7 310.5l-8-4.3l-2.3 .7l8 4.3zM590.1 307.6l-8-4.3l-2.3 .7l8 4.2zM587.8 308.2l-8-4.2l-2.3 .7l8 4.2zM585.5 308.9l-8-4.2l-2.3 .7l7.9 4.2zM583.1 309.6l-7.9-4.2l-2.3 .6l7.9 4.2zM580.8 310.2l-7.9-4.2l-2.4 .7l8 4.2zM570.5 306.7l-7.9-4.2l-2.3 .7l7.9 4.2zM568.2 307.4l-7.9-4.2l-2.4 .7l8 4.1zM565.9 308l-8-4.1l-2.3 .7l8 4.1zM563.6 308.7l-8-4.1l-2.3 .6l8 4.1zM561.3 309.3l-8-4.1l-2.3 .7l8 4.1zM551 305.9l-8-4.1l-2.3 .6l8 4.1zM548.7 306.5l-8-4.1l-2.3 .7l8 4.1zM546.4 307.2l-8-4.1l-2.3 .7l7.9 4zM544 307.8l-7.9-4l-2.3 .6l7.9 4zM541.7 308.4l-7.9-4l-2.4 .7l8 4zM531.4 305.1l-7.9-4.1l-2.3 .7l7.9 4zM529.1 305.7l-7.9-4l-2.4 .6l8 4zM526.8 306.3l-8-4l-2.3 .7l8 4zM524.5 307l-8-4l-2.3 .6l8 4zM522.2 307.6l-8-4l-2.3 .6l8 4zM519.9 308.2l-8-4l-2.3 .7l7.9 3.9zM509.6 304.9l-8-4l-2.3 .7l8 3.9zM507.3 305.5l-8-3.9l-2.3 .6l7.9 3.9zM504.9 306.1l-7.9-3.9l-2.3 .6l7.9 3.9zM502.6 306.7l-7.9-3.9l-2.4 .6l8 3.9zM500.3 307.3l-8-3.9l-2.3 .7l8 3.8zM490 304.1l-7.9-3.9l-2.4 .6l8 3.9zM487.7 304.7l-8-3.9l-2.3 .6l8 3.9zM485.4 305.3l-8-3.9l-2.3 .6l8 3.9zM483.1 305.9l-8-3.9l-2.3 .7l8 3.8zM480.8 306.5l-8-3.8l-2.3 .6l7.9 3.8zM478.4 307.1l-15.9-7.6l-2.3 .6l15.9 7.6zM468.2 303.9l-8-3.8l-2.3 .6l7.9 3.8zM465.8 304.5l-7.9-3.8l-2.3 .6l7.9 3.7zM463.5 305l-7.9-3.7l-2.4 .6l8 3.7zM461.2 305.6l-8-3.7l-2.3 .6l8 3.7zM458.9 306.2l-15.9-7.5l-2.4 .6l16 7.5zM448.6 303.1l-8-3.8l-2.3 .6l8 3.8zM446.3 303.7l-8-3.8l-2.3 .6l8 3.7zM444 304.2l-8-3.7l-2.3 .6l8 3.7zM441.7 304.8l-8-3.7l-2.3 .6l7.9 3.7zM439.3 305.4l-7.9-3.7l-2.3 .6l7.9 3.7zM437 306l-15.9-7.4l-2.3 .6l15.9 7.3zM426.7 302.9l-7.9-3.7l-2.3 .6l7.9 3.6zM424.4 303.4l-7.9-3.6l-2.4 .5l8 3.7zM422.1 304l-8-3.7l-2.3 .6l8 3.7zM419.8 304.6l-8-3.7l-2.3 .6l8 3.6zM417.5 305.1l-16-7.2l-2.3 .5l16 7.3zM407.2 302.1l-8-3.7l-2.3 .6l8 3.6zM404.9 302.6l-8-3.6l-2.3 .6l8 3.6zM402.6 303.2l-8-3.6l-2.3 .6l7.9 3.6zM400.2 303.8l-7.9-3.6l-2.3 .5l7.9 3.6zM397.9 304.3l-15.9-7.2l-2.3 .6l15.9 7.2zM395.6 304.9l-15.9-7.2l-2.3 .6l15.9 7.1zM385.3 301.8l-7.9-3.5l-2.4 .5l8 3.6zM383 302.4l-8-3.6l-2.3 .6l8 3.6zM380.7 303l-8-3.6l-2.3 .6l8 3.5zM378.4 303.5l-16-7.1l-2.3 .6l15.9 7zM376 304l-15.9-7l-2.3 .5l15.9 7.1zM365.8 301.1l-8-3.6l-2.3 .6l8 3.5zM363.5 301.6l-8-3.5l-2.3 .6l7.9 3.5zM361.1 302.2l-7.9-3.5l-2.3 .5l7.9 3.5zM358.8 302.7l-7.9-3.5l-2.4 .6l8 3.4zM356.5 303.2l-15.9-6.9l-2.3 .5l15.9 7zM354.2 303.8l-15.9-7l-2.4 .6l16 6.9zM343.9 300.8l-8-3.4l-2.3 .5l8 3.5zM341.6 301.4l-8-3.5l-2.3 .6l8 3.4zM339.3 301.9l-8-3.4l-2.3 .5l8 3.4zM337 302.4l-16-6.9l-2.3 .6l15.9 6.9zM334.6 303l-15.9-6.9l-2.3 .5l15.9 6.9zM324.4 300.1l-8-3.5l-2.3 .6l7.9 3.4zM322 300.6l-7.9-3.4l-2.3 .5l7.9 3.4zM319.7 301.1l-7.9-3.4l-2.4 .5l8 3.5zM317.4 301.7l-15.9-6.9l-2.3 .6l15.9 6.8zM315.1 302.2l-15.9-6.8l-2.4 .5l16 6.8zM312.8 302.7l-16-6.8l-2.3 .5l15.9 6.8zM302.5 299.8l-8-3.4l-2.3 .6l8 3.4zM300.2 300.4l-8-3.4l-2.3 .5l7.9 3.4zM297.8 300.9l-7.9-3.4l-2.3 .5l7.9 3.4zM295.5 301.4l-15.9-6.7l-2.3 .5l15.9 6.7zM293.2 301.9l-15.9-6.7l-2.3 .5l15.9 6.7zM282.9 299.1l-7.9-3.4l-2.3 .5l7.9 3.4zM280.6 299.6l-7.9-3.4l-2.4 .6l8 3.3zM278.3 300.1l-8-3.3l-2.3 .5l8 3.3zM276 300.6l-15.9-6.7l-2.4 .6l16 6.6zM273.7 301.1l-16-6.6l-2.3 .5l15.9 6.6zM271.3 301.6l-15.9-6.6l-2.3 .5l15.9 6.6zM261.1 298.8l-8-3.3l-2.3 .5l8 3.3zM258.8 299.3l-8-3.3l-2.3 .5l7.9 3.3zM256.4 299.8l-15.9-6.6l-2.3 .6l15.9 6.5zM254.1 300.3l-15.9-6.5l-2.3 .5l15.9 6.5zM251.8 300.8l-15.9-6.5l-2.3 .5l15.9 6.6zM241.5 298.1l-7.9-3.3l-2.4 .5l8 3.3zM239.2 298.6l-8-3.3l-2.3 .5l8 3.3zM236.9 299.1l-15.9-6.6l-2.4 .5l16 6.6zM234.6 299.6l-16-6.6l-2.3 .6l15.9 6.5zM232.2 300.1l-15.9-6.5l-2.3 .5l15.9 6.5zM229.9 300.6l-15.9-6.5l-2.3 .5l15.9 6.5zM219.6 297.8l-7.9-3.2l-2.3 .5l7.9 3.2zM217.3 298.3l-7.9-3.2l-2.3 .5l7.9 3.2zM215 298.8l-15.9-6.5l-2.3 .5l15.9 6.5zM212.7 299.3l-15.9-6.5l-2.3 .5l15.9 6.5zM210.4 299.8l-15.9-6.5l-2.4 .5l16 6.5zM200.1 297.1l-8-3.3l-2.3 .5l8 3.3zM197.8 297.6l-8-3.3l-2.3 .5l8 3.2zM195.5 298l-16-6.4l-2.3 .5l15.9 6.4zM193.1 298.5l-15.9-6.4l-2.3 .5l15.9 6.4zM190.8 299l-15.9-6.4l-2.3 .5l15.9 6.4zM188.5 299.5l-15.9-6.4l-2.3 .5l15.9 6.4zM178.2 296.8l-7.9-3.2l-2.3 .5l7.9 3.2zM175.9 297.3l-15.9-6.4l-2.3 .5l15.9 6.4zM173.6 297.8l-15.9-6.4l-2.3 .5l15.9 6.4zM171.3 298.3l-15.9-6.4l-2.4 .5l16 6.3zM169 298.7l-16-6.3l-2.3 .5l15.9 6.3zM158.7 296.1l-8-3.2l-2.3 .5l8 3.1zM156.4 296.5l-16-6.3l-2.3 .5l15.9 6.3zM154 297l-15.9-6.3l-2.3 .5l15.9 6.3zM151.7 297.5l-15.9-6.3l-2.3 .5l15.9 6.3zM149.4 298l-15.9-6.3l-2.3 .5l15.9 6.3zM147.1 298.5l-15.9-6.3l-2.3 .5l15.9 6.2zM136.8 295.8l-7.9-3.1l-2.4 .5l8 3.1zM134.5 296.3l-15.9-6.3l-2.3 .5l15.9 6.3zM132.2 296.8l-15.9-6.3l-2.4 .5l16 6.2zM129.9 297.2l-16-6.2l-2.3 .5l15.9 6.2zM127.5 297.7l-15.9-6.2l-2.3 .5l15.9 6.2zM117.3 295.1l-8-3.1l-2.3 .4l7.9 3.1zM114.9 295.5l-15.9-6.2l-2.3 .5l15.9 6.2zM112.6 296l-15.9-6.2l-2.3 .5l15.9 6.2z"/>
<path fill="#4658ff" stroke="#4658ff" d="M838.6 314.1l-8-7l-2.3 1.3l8 6.8zM836.3 315.2l-8-6.8l-2.3 1.2l8 6.8zM819 313l-7.9-6.6l-2.3 1.2l7.9 6.5zM816.7 314.1l-7.9-6.5l-2.4 1.1l8 6.4zM814.4 315.1l-8-6.4l-2.3 1.1l8 6.3zM799.5 311.9l-8-6.2l-2.3 1.1l8 6.1zM797.2 312.9l-8-6.1l-2.3 1.1l8 6.1zM794.9 314l-8-6.1l-2.3 1l7.9 6zM779.9 310.9l-7.9-5.9l-2.3 1l7.9 5.9zM777.6 311.9l-7.9-5.9l-2.4 1.1l8 5.8zM775.3 312.9l-8-5.8l-2.3 .9l8 5.8zM760.4 310l-8-5.7l-2.3 1l8 5.6zM758.1 310.9l-8-5.6l-2.3 1l8 5.5zM755.8 311.8l-8-5.5l-2.3 .9l7.9 5.5zM738.5 310l-7.9-5.4l-2.4 .9l8 5.4zM736.2 310.9l-8-5.4l-2.3 .9l8 5.3zM733.9 311.7l-8-5.3l-2.3 .9l8 5.3zM719 309.1l-8-5.2l-2.3 .8l8 5.2zM716.7 309.9l-8-5.2l-2.3 .9l7.9 5.1zM714.3 310.7l-7.9-5.1l-2.3 .9l7.9 5.1zM699.4 308.2l-7.9-5l-2.4 .8l8 5zM697.1 309l-8-5l-2.3 .9l8 4.9zM694.8 309.8l-8-4.9l-2.3 .8l8 4.9zM679.9 307.3l-8-4.8l-2.3 .8l8 4.8zM677.6 308.1l-8-4.8l-2.3 .8l7.9 4.8zM675.2 308.9l-7.9-4.8l-2.3 .8l7.9 4.8zM672.9 309.7l-7.9-4.8l-2.4 .8l8 4.7zM660.3 306.5l-7.9-4.7l-2.4 .8l8 4.7zM658 307.3l-8-4.7l-2.3 .7l8 4.7zM655.7 308l-8-4.7l-2.3 .8l8 4.7zM653.4 308.8l-8-4.7l-2.3 .8l8 4.6zM640.8 305.7l-8-4.6l-2.3 .7l8 4.6zM638.5 306.4l-8-4.6l-2.3 .8l7.9 4.6zM636.1 307.2l-7.9-4.6l-2.3 .8l7.9 4.5zM633.8 307.9l-7.9-4.5l-2.4 .7l8 4.5zM621.2 304.9l-7.9-4.5l-2.4 .7l8 4.5zM618.9 305.6l-8-4.5l-2.3 .8l8 4.4zM616.6 306.3l-8-4.4l-2.3 .7l8 4.4zM614.3 307l-8-4.4l-2.3 .8l8 4.3zM601.7 304.1l-8-4.4l-2.3 .7l8 4.4zM599.4 304.8l-8-4.4l-2.3 .8l7.9 4.3zM597 305.5l-7.9-4.3l-2.3 .7l7.9 4.3zM594.7 306.2l-7.9-4.3l-2.4 .7l8 4.3zM592.4 306.9l-8-4.3l-2.3 .7l8 4.3zM582.1 303.3l-7.9-4.3l-2.4 .7l8 4.3zM579.8 304l-8-4.3l-2.3 .8l8 4.2zM577.5 304.7l-8-4.2l-2.3 .7l8 4.2zM575.2 305.4l-8-4.2l-2.3 .6l8 4.2zM572.9 306l-8-4.2l-2.3 .7l7.9 4.2zM562.6 302.5l-8-4.1l-2.3 .7l8 4.1zM560.3 303.2l-8-4.1l-2.3 .6l7.9 4.2zM557.9 303.9l-7.9-4.2l-2.3 .7l7.9 4.2zM555.6 304.6l-7.9-4.2l-2.4 .7l8 4.1zM553.3 305.2l-8-4.1l-2.3 .7l8 4.1zM543 301.8l-7.9-4.1l-2.4 .7l8 4zM540.7 302.4l-8-4l-2.3 .6l8 4.1zM538.4 303.1l-8-4.1l-2.3 .7l8 4.1zM536.1 303.8l-8-4.1l-2.3 .7l8 4zM533.8 304.4l-8-4l-2.3 .6l7.9 4.1zM523.5 301l-8-4l-2.3 .7l8 4zM521.2 301.7l-8-4l-2.3 .6l7.9 4zM518.8 302.3l-7.9-4l-2.3 .7l7.9 4zM516.5 303l-7.9-4l-2.4 .7l8 3.9zM514.2 303.6l-8-3.9l-2.3 .6l8 3.9zM511.9 304.2l-15.9-7.9l-2.4 .7l16 7.9zM501.6 300.9l-8-3.9l-2.3 .7l8 3.9zM499.3 301.6l-8-3.9l-2.3 .6l8 3.9zM497 302.2l-8-3.9l-2.3 .6l8 3.9zM494.7 302.8l-8-3.9l-2.3 .7l7.9 3.8zM492.3 303.4l-15.9-7.7l-2.3 .6l15.9 7.8zM482.1 300.2l-8-3.9l-2.3 .7l7.9 3.8zM479.7 300.8l-7.9-3.8l-2.3 .6l7.9 3.8zM477.4 301.4l-7.9-3.8l-2.4 .6l8 3.8zM475.1 302l-8-3.8l-2.3 .6l8 3.9zM472.8 302.7l-15.9-7.7l-2.4 .7l16 7.6zM462.5 299.5l-8-3.8l-2.3 .6l8 3.8zM460.2 300.1l-8-3.8l-2.3 .6l8 3.8zM457.9 300.7l-8-3.8l-2.3 .6l8 3.8zM455.6 301.3l-8-3.8l-2.3 .6l7.9 3.8zM453.2 301.9l-15.9-7.5l-2.3 .6l15.9 7.5zM443 298.7l-8-3.7l-2.3 .6l7.9 3.7zM440.6 299.3l-7.9-3.7l-2.3 .6l7.9 3.7zM438.3 299.9l-7.9-3.7l-2.4 .6l8 3.7zM436 300.5l-8-3.7l-2.3 .6l8 3.7zM433.7 301.1l-8-3.7l-2.3 .6l8 3.7zM431.4 301.7l-16-7.4l-2.3 .6l16 7.4zM421.1 298.6l-8-3.7l-2.3 .6l8 3.7zM418.8 299.2l-8-3.7l-2.3 .6l8 3.7zM416.5 299.8l-8-3.7l-2.3 .6l7.9 3.6zM414.1 300.3l-7.9-3.6l-2.3 .6l7.9 3.6zM411.8 300.9l-15.9-7.3l-2.3 .6l15.9 7.3zM401.5 297.9l-7.9-3.7l-2.3 .6l7.9 3.6zM399.2 298.4l-7.9-3.6l-2.4 .6l8 3.6zM396.9 299l-8-3.6l-2.3 .6l8 3.6zM394.6 299.6l-8-3.6l-2.3 .6l8 3.6zM392.3 300.2l-16-7.2l-2.3 .6l16 7.1zM382 297.1l-8-3.5l-2.3 .5l8 3.6zM379.7 297.7l-8-3.6l-2.3 .6l8 3.6zM377.4 298.3l-8-3.6l-2.3 .6l7.9 3.5zM375 298.8l-7.9-3.5l-2.3 .6l7.9 3.5zM372.7 299.4l-15.9-7.1l-2.3 .6l15.9 7.1zM362.4 296.4l-7.9-3.5l-2.3 .6l7.9 3.5zM360.1 297l-7.9-3.5l-2.4 .5l8 3.5zM357.8 297.5l-8-3.5l-2.3 .6l8 3.5zM355.5 298.1l-8-3.5l-2.3 .6l8 3.5zM353.2 298.7l-16-7.1l-2.3 .6l16 7zM350.9 299.2l-16-7l-2.3 .6l15.9 7zM340.6 296.3l-8-3.5l-2.3 .5l8 3.5zM338.3 296.8l-8-3.5l-2.3 .6l7.9 3.5zM335.9 297.4l-7.9-3.5l-2.3 .5l7.9 3.5zM333.6 297.9l-15.9-6.9l-2.3 .5l15.9 7zM331.3 298.5l-15.9-7l-2.3 .6l15.9 6.9zM321 295.5l-7.9-3.4l-2.4 .6l8 3.4zM318.7 296.1l-8-3.4l-2.3 .5l8 3.4zM316.4 296.6l-8-3.4l-2.3 .5l8 3.5zM314.1 297.2l-16-6.9l-2.3 .6l16 6.8zM311.8 297.7l-16-6.8l-2.3 .5l15.9 6.8zM301.5 294.8l-8-3.4l-2.3 .6l8 3.4zM299.2 295.4l-8-3.4l-2.3 .5l7.9 3.4zM296.8 295.9l-7.9-3.4l-2.3 .6l7.9 3.3zM294.5 296.4l-15.9-6.7l-2.3 .5l15.9 6.8zM292.2 297l-15.9-6.8l-2.3 .6l15.9 6.7zM289.9 297.5l-15.9-6.7l-2.4 .5l16 6.7zM279.6 294.7l-8-3.4l-2.3 .5l8 3.4zM277.3 295.2l-8-3.4l-2.3 .6l8 3.3zM275 295.7l-16-6.7l-2.3 .5l16 6.7zM272.7 296.2l-16-6.7l-2.3 .6l15.9 6.7zM270.3 296.8l-15.9-6.7l-2.3 .5l15.9 6.7zM260.1 293.9l-8-3.3l-2.3 .5l7.9 3.4zM257.7 294.5l-7.9-3.4l-2.3 .6l7.9 3.3zM255.4 295l-15.9-6.7l-2.3 .6l15.9 6.6zM253.1 295.5l-15.9-6.6l-2.3 .5l15.9 6.6zM250.8 296l-15.9-6.6l-2.4 .5l16 6.6zM240.5 293.2l-8-3.3l-2.3 .6l8 3.3zM238.2 293.8l-8-3.3l-2.3 .5l8 3.3zM235.9 294.3l-16-6.6l-2.3 .5l16 6.6zM233.6 294.8l-16-6.6l-2.3 .5l15.9 6.6zM231.2 295.3l-15.9-6.6l-2.3 .6l15.9 6.5zM221 292.5l-8-3.2l-2.3 .5l7.9 3.2zM218.6 293l-7.9-3.2l-2.3 .5l7.9 3.3zM216.3 293.6l-15.9-6.6l-2.3 .6l15.9 6.5zM214 294.1l-15.9-6.5l-2.3 .5l15.9 6.5zM211.7 294.6l-15.9-6.5l-2.4 .5l16 6.5zM209.4 295.1l-16-6.5l-2.3 .5l16 6.5zM199.1 292.3l-8-3.2l-2.3 .5l8 3.2zM196.8 292.8l-16-6.4l-2.3 .5l16 6.4zM194.5 293.3l-16-6.4l-2.3 .5l15.9 6.4zM192.1 293.8l-15.9-6.4l-2.3 .5l15.9 6.4zM189.8 294.3l-15.9-6.4l-2.3 .5l15.9 6.4zM179.5 291.6l-7.9-3.2l-2.3 .5l7.9 3.2zM177.2 292.1l-15.9-6.4l-2.3 .5l15.9 6.4zM174.9 292.6l-15.9-6.4l-2.3 .5l15.9 6.4zM172.6 293.1l-15.9-6.4l-2.4 .5l16 6.4zM170.3 293.6l-16-6.4l-2.3 .5l16 6.4zM160 290.9l-8-3.2l-2.3 .6l8 3.1zM157.7 291.4l-16-6.3l-2.3 .5l16 6.3zM155.4 291.9l-16-6.3l-2.3 .5l15.9 6.3zM153 292.4l-15.9-6.3l-2.3 .5l15.9 6.3zM150.7 292.9l-15.9-6.3l-2.3 .5l15.9 6.3zM140.4 290.2l-7.9-3.1l-2.3 .5l7.9 3.1zM138.1 290.7l-15.9-6.3l-2.3 .5l15.9 6.3zM135.8 291.2l-15.9-6.3l-2.3 .5l15.9 6.3zM133.5 291.7l-15.9-6.3l-2.4 .5l16 6.3zM131.2 292.2l-16-6.3l-2.3 .5l16 6.3zM128.9 292.7l-16-6.3l-2.3 .5l15.9 6.3zM118.6 290l-8-3.1l-2.3 .5l8 3.1zM116.3 290.5l-16-6.2l-2.3 .5l15.9 6.2zM113.9 291l-15.9-6.2l-2.3 .4l15.9 6.3zM111.6 291.5l-15.9-6.3l-2.3 .5l15.9 6.3zM109.3 292l-15.9-6.3l-2.3 .5l15.9 6.2zM99 289.3l-7.9-3.1l-2.4 .5l8 3.1zM96.7 289.8l-15.9-6.2l-2.3 .5l15.9 6.2z"/>
<path fill="#465bff" stroke="#465bff" d="M843.2 311.7l-7.9-7.1l-2.3 1.3l7.9 7zM840.9 312.9l-7.9-7l-2.4 1.2l8 7zM823.7 310.7l-8-6.7l-2.3 1.2l8 6.7zM821.4 311.9l-8-6.7l-2.3 1.2l7.9 6.6zM804.1 309.8l-7.9-6.4l-2.4 1.2l8 6.3zM801.8 310.9l-8-6.3l-2.3 1.1l8 6.2zM784.6 308.9l-8-6l-2.3 1.1l8 5.9zM782.3 309.9l-8-5.9l-2.3 1l7.9 5.9zM765 308l-7.9-5.7l-2.3 1l7.9 5.7zM762.7 309l-7.9-5.7l-2.4 1l8 5.7zM745.5 307.2l-8-5.5l-2.3 1l8 5.5zM743.2 308.2l-8-5.5l-2.3 .9l7.9 5.5zM740.8 309.1l-7.9-5.5l-2.3 1l7.9 5.4zM728.2 305.5l-7.9-5.3l-2.3 .9l7.9 5.3zM725.9 306.4l-7.9-5.3l-2.4 .9l8 5.3zM723.6 307.3l-8-5.3l-2.3 1l8 5.2zM721.3 308.2l-8-5.2l-2.3 .9l8 5.2zM708.7 304.7l-8-5.1l-2.3 .9l8 5.1zM706.4 305.6l-8-5.1l-2.3 .9l8 5.1zM704.1 306.5l-8-5.1l-2.3 .9l7.9 5zM701.7 307.3l-7.9-5l-2.3 .9l7.9 5zM689.1 304l-7.9-5l-2.3 .9l7.9 5zM686.8 304.9l-7.9-5l-2.3 .9l7.9 4.9zM684.5 305.7l-7.9-4.9l-2.4 .8l8 4.9zM682.2 306.5l-8-4.9l-2.3 .9l8 4.8zM669.6 303.3l-8-4.9l-2.3 .9l8 4.8zM667.3 304.1l-8-4.8l-2.3 .8l8 4.8zM665 304.9l-8-4.8l-2.3 .8l7.9 4.8zM662.6 305.7l-7.9-4.8l-2.3 .9l7.9 4.7zM650 302.6l-7.9-4.7l-2.3 .8l7.9 4.6zM647.7 303.3l-7.9-4.6l-2.4 .8l8 4.6zM645.4 304.1l-8-4.6l-2.3 .8l8 4.6zM643.1 304.9l-8-4.6l-2.3 .8l8 4.6zM630.5 301.8l-8-4.5l-2.3 .8l8 4.5zM628.2 302.6l-8-4.5l-2.3 .7l8 4.6zM625.9 303.4l-8-4.6l-2.3 .8l7.9 4.5zM623.5 304.1l-7.9-4.5l-2.3 .8l7.9 4.5zM610.9 301.1l-7.9-4.4l-2.3 .8l7.9 4.4zM608.6 301.9l-7.9-4.4l-2.3 .7l7.9 4.4zM606.3 302.6l-7.9-4.4l-2.4 .8l8 4.4zM604 303.4l-8-4.4l-2.3 .7l8 4.4zM591.4 300.4l-8-4.3l-2.3 .7l8 4.4zM589.1 301.2l-8-4.4l-2.3 .8l8 4.3zM586.8 301.9l-8-4.3l-2.3 .7l7.9 4.3zM584.4 302.6l-7.9-4.3l-2.3 .7l7.9 4.3zM574.2 299l-8-4.2l-2.3 .7l7.9 4.2zM571.8 299.7l-7.9-4.2l-2.3 .7l7.9 4.3zM569.5 300.5l-7.9-4.3l-2.4 .7l8 4.3zM567.2 301.2l-8-4.3l-2.3 .7l8 4.2zM564.9 301.8l-8-4.2l-2.3 .8l8 4.1zM554.6 298.4l-7.9-4.2l-2.4 .7l8 4.2zM552.3 299.1l-8-4.2l-2.3 .7l8 4.1zM550 299.7l-8-4.1l-2.3 .7l8 4.1zM547.7 300.4l-8-4.1l-2.3 .7l7.9 4.1zM545.3 301.1l-7.9-4.1l-2.3 .7l7.9 4.1zM535.1 297.7l-8-4.1l-2.3 .7l7.9 4.1zM532.7 298.4l-7.9-4.1l-2.3 .7l7.9 4zM530.4 299l-7.9-4l-2.3 .7l7.9 4zM528.1 299.7l-7.9-4l-2.4 .6l8 4.1zM525.8 300.4l-8-4.1l-2.3 .7l8 4zM515.5 297l-7.9-4l-2.4 .7l8 4zM513.2 297.7l-8-4l-2.3 .7l8 3.9zM510.9 298.3l-8-3.9l-2.3 .6l8 4zM508.6 299l-8-4l-2.3 .7l7.9 4zM506.2 299.7l-7.9-4l-2.3 .6l7.9 4zM496 296.3l-8-3.9l-2.3 .7l7.9 3.9zM493.6 297l-7.9-3.9l-2.3 .6l7.9 4zM491.3 297.7l-7.9-4l-2.4 .7l8 3.9zM489 298.3l-8-3.9l-2.3 .6l8 3.9zM486.7 298.9l-8-3.9l-2.3 .7l8 3.9zM476.4 295.7l-7.9-3.9l-2.4 .7l8 3.8zM474.1 296.3l-8-3.8l-2.3 .6l8 3.9zM471.8 297l-8-3.9l-2.3 .7l8 3.8zM469.5 297.6l-8-3.8l-2.3 .6l7.9 3.8zM467.1 298.2l-7.9-3.8l-2.3 .6l7.9 3.8zM456.9 295l-8-3.8l-2.3 .6l7.9 3.9zM454.5 295.7l-7.9-3.9l-2.3 .7l7.9 3.8zM452.2 296.3l-7.9-3.8l-2.3 .6l7.9 3.8zM449.9 296.9l-7.9-3.8l-2.4 .6l8 3.8zM447.6 297.5l-8-3.8l-2.3 .7l8 3.7zM437.3 294.4l-7.9-3.8l-2.4 .6l8 3.8zM435 295l-8-3.8l-2.3 .7l8 3.7zM432.7 295.6l-8-3.7l-2.3 .6l8 3.7zM430.4 296.2l-8-3.7l-2.3 .6l7.9 3.7zM428 296.8l-15.9-7.4l-2.3 .6l15.9 7.4zM425.7 297.4l-15.9-7.4l-2.3 .6l15.9 7.4zM415.4 294.3l-7.9-3.7l-2.3 .6l7.9 3.7zM413.1 294.9l-7.9-3.7l-2.4 .6l8 3.7zM410.8 295.5l-8-3.7l-2.3 .6l8 3.7zM408.5 296.1l-15.9-7.3l-2.3 .6l15.9 7.3zM406.2 296.7l-15.9-7.3l-2.4 .6l16 7.3zM395.9 293.6l-8-3.6l-2.3 .6l8 3.6zM393.6 294.2l-8-3.6l-2.3 .6l8 3.6zM391.3 294.8l-8-3.6l-2.3 .6l7.9 3.6zM388.9 295.4l-15.9-7.2l-2.3 .6l15.9 7.2zM386.6 296l-15.9-7.2l-2.3 .6l15.9 7.2zM376.3 293l-7.9-3.6l-2.3 .6l7.9 3.6zM374 293.6l-7.9-3.6l-2.3 .6l7.9 3.5zM371.7 294.1l-7.9-3.5l-2.4 .5l8 3.6zM369.4 294.7l-15.9-7.1l-2.3 .6l15.9 7.1zM367.1 295.3l-15.9-7.1l-2.4 .6l16 7.1zM356.8 292.3l-8-3.5l-2.3 .5l8 3.6zM354.5 292.9l-8-3.6l-2.3 .6l8 3.6zM352.2 293.5l-8-3.6l-2.3 .6l7.9 3.5zM349.8 294l-15.9-7l-2.3 .6l15.9 7zM347.5 294.6l-15.9-7l-2.3 .5l15.9 7.1zM337.2 291.6l-7.9-3.5l-2.3 .6l7.9 3.5zM334.9 292.2l-7.9-3.5l-2.4 .6l8 3.5zM332.6 292.8l-8-3.5l-2.3 .6l8 3.4zM330.3 293.3l-15.9-6.9l-2.3 .5l15.9 7zM328 293.9l-15.9-7l-2.4 .6l16 6.9zM317.7 291l-8-3.5l-2.3 .6l8 3.4zM315.4 291.5l-8-3.4l-2.3 .5l8 3.5zM313.1 292.1l-8-3.5l-2.3 .6l7.9 3.5zM310.7 292.7l-15.9-6.9l-2.3 .5l15.9 6.9zM308.4 293.2l-15.9-6.9l-2.3 .6l15.9 6.8zM298.1 290.3l-7.9-3.4l-2.3 .6l7.9 3.4zM295.8 290.9l-7.9-3.4l-2.4 .5l8 3.4zM293.5 291.4l-8-3.4l-2.3 .6l8 3.4zM291.2 292l-15.9-6.8l-2.3 .5l15.9 6.8zM288.9 292.5l-15.9-6.8l-2.4 .6l16 6.8zM278.6 289.7l-8-3.4l-2.3 .5l8 3.4zM276.3 290.2l-8-3.4l-2.3 .6l8 3.4zM274 290.8l-8-3.4l-2.3 .5l7.9 3.4zM271.6 291.3l-15.9-6.7l-2.3 .5l15.9 6.7zM269.3 291.8l-15.9-6.7l-2.3 .6l15.9 6.7zM259 289l-7.9-3.3l-2.3 .5l7.9 3.3zM256.7 289.5l-7.9-3.3l-2.3 .5l7.9 3.4zM254.4 290.1l-15.9-6.7l-2.3 .5l15.9 6.7zM252.1 290.6l-15.9-6.7l-2.3 .6l15.9 6.6zM249.8 291.1l-15.9-6.6l-2.4 .5l16 6.7zM239.5 288.3l-8-3.3l-2.3 .6l8 3.3zM237.2 288.9l-8-3.3l-2.3 .5l8 3.3zM234.9 289.4l-16-6.6l-2.3 .5l15.9 6.6zM232.5 289.9l-15.9-6.6l-2.3 .6l15.9 6.6zM230.2 290.5l-15.9-6.6l-2.3 .5l15.9 6.6zM219.9 287.7l-7.9-3.3l-2.3 .5l7.9 3.3zM217.6 288.2l-7.9-3.3l-2.3 .6l7.9 3.2zM215.3 288.7l-15.9-6.5l-2.3 .5l15.9 6.6zM213 289.3l-15.9-6.6l-2.3 .5l15.9 6.6zM210.7 289.8l-15.9-6.6l-2.4 .6l16 6.5zM200.4 287l-8-3.2l-2.3 .5l8 3.3zM198.1 287.6l-8-3.3l-2.3 .5l8 3.3zM195.8 288.1l-16-6.5l-2.3 .5l15.9 6.5zM193.4 288.6l-15.9-6.5l-2.3 .5l15.9 6.5zM191.1 289.1l-15.9-6.5l-2.3 .6l15.9 6.4zM180.8 286.4l-7.9-3.2l-2.3 .5l7.9 3.2zM178.5 286.9l-7.9-3.2l-2.4 .5l8 3.2zM176.2 287.4l-15.9-6.4l-2.3 .5l15.9 6.4zM173.9 287.9l-15.9-6.4l-2.3 .5l15.9 6.4zM171.6 288.4l-15.9-6.4l-2.4 .5l16 6.4zM161.3 285.7l-8-3.2l-2.3 .5l8 3.2zM159 286.2l-8-3.2l-2.3 .5l8 3.2zM156.7 286.7l-16-6.3l-2.3 .5l15.9 6.3zM154.3 287.2l-15.9-6.3l-2.3 .5l15.9 6.3zM152 287.7l-15.9-6.3l-2.3 .5l15.9 6.4zM141.7 285.1l-7.9-3.2l-2.3 .5l7.9 3.2zM139.4 285.6l-7.9-3.2l-2.3 .5l7.9 3.2zM137.1 286.1l-15.9-6.4l-2.3 .6l15.9 6.3zM134.8 286.6l-15.9-6.3l-2.3 .5l15.9 6.3zM132.5 287.1l-15.9-6.3l-2.4 .5l16 6.3zM122.2 284.4l-8-3.1l-2.3 .5l8 3.1zM119.9 284.9l-8-3.1l-2.3 .5l8 3.1zM117.6 285.4l-16-6.3l-2.3 .5l15.9 6.3zM115.2 285.9l-15.9-6.3l-2.3 .5l15.9 6.3zM112.9 286.4l-15.9-6.3l-2.3 .5l15.9 6.3zM110.6 286.9l-15.9-6.3l-2.3 .5l15.9 6.3zM100.3 284.3l-15.9-6.3l-2.3 .5l15.9 6.3zM98 284.8l-15.9-6.3l-2.3 .5l15.9 6.2zM95.7 285.2l-15.9-6.2l-2.3 .5l15.9 6.2zM93.4 285.7l-15.9-6.2l-2.4 .5l16 6.2zM91.1 286.2l-16-6.2l-2.3 .5l15.9 6.2zM80.8 283.6l-8-3.1l-2.3 .5l8 3.1z"/>
<path fill="#465fff" stroke="#465fff" d="M847.9 309.2l-8-7.4l-2.3 1.4l7.9 7.3zM845.5 310.5l-7.9-7.3l-2.3 1.4l7.9 7.1zM828.3 308.4l-7.9-6.9l-2.4 1.3l8 6.8zM826 309.6l-8-6.8l-2.3 1.2l8 6.7zM808.8 307.6l-8-6.5l-2.3 1.2l7.9 6.4zM806.4 308.7l-7.9-6.4l-2.3 1.1l7.9 6.4zM791.5 305.7l-7.9-6.2l-2.3 1.1l7.9 6.2zM789.2 306.8l-7.9-6.2l-2.4 1.2l8 6.1zM786.9 307.9l-8-6.1l-2.3 1.1l8 6zM772 305l-8-5.9l-2.3 1.1l8 5.8zM769.7 306l-8-5.8l-2.3 1l7.9 5.9zM767.3 307.1l-7.9-5.9l-2.3 1.1l7.9 5.7zM752.4 304.3l-7.9-5.6l-2.3 1l7.9 5.6zM750.1 305.3l-7.9-5.6l-2.4 1l8 5.6zM747.8 306.3l-8-5.6l-2.3 1l8 5.5zM732.9 303.6l-8-5.4l-2.3 1l8 5.4zM730.6 304.6l-8-5.4l-2.3 1l7.9 5.3zM715.6 302l-7.9-5.2l-2.3 .9l7.9 5.3zM713.3 303l-7.9-5.3l-2.3 1l7.9 5.2zM711 303.9l-7.9-5.2l-2.4 .9l8 5.1zM696.1 301.4l-8-5.1l-2.3 .9l8 5.1zM693.8 302.3l-8-5.1l-2.3 .9l8 5.1zM691.5 303.2l-8-5.1l-2.3 .9l7.9 5zM676.6 300.8l-8-5l-2.3 .9l7.9 4.9zM674.2 301.6l-7.9-4.9l-2.3 .9l7.9 4.9zM671.9 302.5l-7.9-4.9l-2.4 .8l8 4.9zM659.3 299.3l-7.9-4.8l-2.4 .8l8 4.8zM657 300.1l-8-4.8l-2.3 .9l8 4.7zM654.7 300.9l-8-4.7l-2.3 .8l8 4.8zM652.4 301.8l-8-4.8l-2.3 .9l7.9 4.7zM639.8 298.7l-8-4.7l-2.3 .8l7.9 4.7zM637.4 299.5l-7.9-4.7l-2.3 .9l7.9 4.6zM635.1 300.3l-7.9-4.6l-2.3 .8l7.9 4.6zM632.8 301.1l-7.9-4.6l-2.4 .8l8 4.5zM620.2 298.1l-7.9-4.6l-2.4 .8l8 4.5zM617.9 298.8l-8-4.5l-2.3 .8l8 4.5zM615.6 299.6l-8-4.5l-2.3 .8l8 4.5zM613.3 300.4l-8-4.5l-2.3 .8l7.9 4.4zM603 296.7l-8-4.5l-2.3 .8l8 4.5zM600.7 297.5l-8-4.5l-2.3 .8l8 4.4zM598.4 298.2l-8-4.4l-2.3 .8l7.9 4.4zM596 299l-7.9-4.4l-2.3 .7l7.9 4.4zM593.7 299.7l-7.9-4.4l-2.4 .8l8 4.3zM583.4 296.1l-7.9-4.4l-2.3 .8l7.9 4.3zM581.1 296.8l-7.9-4.3l-2.4 .8l8 4.3zM578.8 297.6l-8-4.3l-2.3 .7l8 4.3zM576.5 298.3l-8-4.3l-2.3 .8l8 4.2zM563.9 295.5l-8-4.3l-2.3 .8l8 4.2zM561.6 296.2l-8-4.2l-2.3 .7l7.9 4.2zM559.2 296.9l-7.9-4.2l-2.3 .8l7.9 4.1zM556.9 297.6l-7.9-4.1l-2.3 .7l7.9 4.2zM544.3 294.9l-7.9-4.2l-2.3 .8l7.9 4.1zM542 295.6l-7.9-4.1l-2.4 .7l8 4.1zM539.7 296.3l-8-4.1l-2.3 .7l8 4.1zM537.4 297l-8-4.1l-2.3 .7l8 4.1zM527.1 293.6l-8-4.1l-2.3 .7l8 4.1zM524.8 294.3l-8-4.1l-2.3 .7l8 4.1zM522.5 295l-8-4.1l-2.3 .7l8 4.1zM520.2 295.7l-8-4.1l-2.3 .7l7.9 4zM517.8 296.3l-7.9-4l-2.3 .7l7.9 4zM507.6 293l-8-4l-2.3 .7l7.9 4zM505.2 293.7l-7.9-4l-2.3 .7l7.9 4zM502.9 294.4l-7.9-4l-2.4 .6l8 4zM500.6 295l-8-4l-2.3 .7l8 4zM498.3 295.7l-8-4l-2.3 .7l8 3.9zM488 292.4l-8-3.9l-2.3 .6l8 4zM485.7 293.1l-8-4l-2.3 .7l8 3.9zM483.4 293.7l-8-3.9l-2.3 .7l7.9 3.9zM481 294.4l-7.9-3.9l-2.3 .6l7.9 3.9zM478.7 295l-15.9-7.7l-2.3 .6l15.9 7.8zM468.5 291.8l-8-3.9l-2.3 .7l7.9 3.9zM466.1 292.5l-7.9-3.9l-2.3 .7l7.9 3.8zM463.8 293.1l-7.9-3.8l-2.4 .6l8 3.9zM461.5 293.8l-8-3.9l-2.3 .7l8 3.8zM459.2 294.4l-15.9-7.7l-2.4 .7l16 7.6zM448.9 291.2l-8-3.8l-2.3 .6l8 3.8zM446.6 291.8l-8-3.8l-2.3 .7l8 3.8zM444.3 292.5l-8-3.8l-2.3 .6l8 3.8zM442 293.1l-8-3.8l-2.3 .7l7.9 3.7zM439.6 293.7l-15.9-7.5l-2.3 .6l15.9 7.6zM429.4 290.6l-8-3.8l-2.3 .7l7.9 3.7zM427 291.2l-7.9-3.7l-2.3 .6l7.9 3.8zM424.7 291.9l-7.9-3.8l-2.4 .7l8 3.7zM422.4 292.5l-8-3.7l-2.3 .6l8 3.7zM412.1 289.4l-7.9-3.7l-2.4 .6l8 3.7zM409.8 290l-8-3.7l-2.3 .6l8 3.7zM407.5 290.6l-8-3.7l-2.3 .6l8 3.7zM405.2 291.2l-8-3.7l-2.3 .7l7.9 3.6zM402.8 291.8l-15.9-7.3l-2.3 .6l15.9 7.3zM392.6 288.8l-8-3.7l-2.3 .6l8 3.7zM390.3 289.4l-8-3.7l-2.3 .7l7.9 3.6zM387.9 290l-7.9-3.6l-2.3 .6l7.9 3.6zM385.6 290.6l-7.9-3.6l-2.4 .6l8 3.6zM383.3 291.2l-15.9-7.2l-2.3 .6l15.9 7.2zM373 288.2l-7.9-3.6l-2.4 .6l8 3.6zM370.7 288.8l-8-3.6l-2.3 .6l8 3.6zM368.4 289.4l-8-3.6l-2.3 .6l8 3.6zM366.1 290l-8-3.6l-2.3 .6l8 3.6zM363.8 290.6l-16-7.2l-2.3 .6l15.9 7.1zM353.5 287.6l-8-3.6l-2.3 .6l8 3.6zM351.2 288.2l-8-3.6l-2.3 .6l7.9 3.6zM348.8 288.8l-7.9-3.6l-2.3 .6l7.9 3.5zM346.5 289.3l-15.9-7l-2.3 .6l15.9 7zM344.2 289.9l-15.9-7l-2.3 .6l15.9 7zM333.9 287l-7.9-3.5l-2.4 .5l8 3.6zM331.6 287.6l-8-3.6l-2.3 .6l8 3.5zM329.3 288.1l-8-3.5l-2.3 .6l8 3.5zM327 288.7l-16-7l-2.3 .6l15.9 7zM324.6 289.3l-15.9-7l-2.3 .6l15.9 7zM314.4 286.4l-8-3.5l-2.3 .6l8 3.4zM312.1 286.9l-8-3.4l-2.3 .6l7.9 3.4zM309.7 287.5l-7.9-3.4l-2.3 .5l7.9 3.5zM307.4 288.1l-15.9-6.9l-2.3 .6l15.9 6.8zM305.1 288.6l-15.9-6.8l-2.3 .5l15.9 6.9zM294.8 285.8l-7.9-3.5l-2.4 .6l8 3.4zM292.5 286.3l-8-3.4l-2.3 .6l8 3.4zM290.2 286.9l-15.9-6.9l-2.4 .6l16 6.9zM287.9 287.5l-16-6.9l-2.3 .6l15.9 6.8zM285.5 288l-15.9-6.8l-2.3 .6l15.9 6.8zM275.3 285.2l-8-3.4l-2.3 .5l8 3.4zM273 285.7l-8-3.4l-2.3 .6l7.9 3.4zM270.6 286.3l-15.9-6.8l-2.3 .6l15.9 6.7zM268.3 286.8l-15.9-6.7l-2.3 .5l15.9 6.8zM266 287.4l-15.9-6.8l-2.3 .6l15.9 6.7zM255.7 284.6l-7.9-3.4l-2.4 .5l8 3.4zM253.4 285.1l-8-3.4l-2.3 .6l8 3.4zM251.1 285.7l-15.9-6.8l-2.4 .6l16 6.7zM248.8 286.2l-16-6.7l-2.3 .6l16 6.6zM238.5 283.4l-8-3.3l-2.3 .5l8 3.3zM236.2 283.9l-8-3.3l-2.3 .6l8 3.3zM233.9 284.5l-8-3.3l-2.3 .5l7.9 3.3zM231.5 285l-15.9-6.6l-2.3 .5l15.9 6.7zM229.2 285.6l-15.9-6.7l-2.3 .6l15.9 6.6zM218.9 282.8l-7.9-3.3l-2.3 .5l7.9 3.3zM216.6 283.3l-7.9-3.3l-2.4 .6l8 3.3zM214.3 283.9l-15.9-6.6l-2.3 .5l15.9 6.6zM212 284.4l-15.9-6.6l-2.4 .6l16 6.5zM209.7 284.9l-16-6.5l-2.3 .5l16 6.6zM199.4 282.2l-8-3.3l-2.3 .5l8 3.3zM197.1 282.7l-8-3.3l-2.3 .6l8 3.2zM194.8 283.2l-16-6.5l-2.3 .6l15.9 6.5zM192.4 283.8l-15.9-6.5l-2.3 .5l15.9 6.5zM190.1 284.3l-15.9-6.5l-2.3 .5l15.9 6.5zM179.8 281.6l-7.9-3.3l-2.3 .6l7.9 3.2zM177.5 282.1l-7.9-3.2l-2.4 .5l8 3.2zM175.2 282.6l-15.9-6.4l-2.3 .5l15.9 6.5zM172.9 283.2l-15.9-6.5l-2.4 .5l16 6.5zM170.6 283.7l-16-6.5l-2.3 .5l15.9 6.5zM160.3 281l-8-3.3l-2.3 .6l8 3.2zM158 281.5l-16-6.4l-2.3 .5l16 6.4zM155.7 282l-16-6.4l-2.3 .5l15.9 6.4zM153.3 282.5l-15.9-6.4l-2.3 .5l15.9 6.4zM151 283l-15.9-6.4l-2.3 .6l15.9 6.3zM140.7 280.4l-7.9-3.2l-2.3 .5l7.9 3.2zM138.4 280.9l-15.9-6.4l-2.3 .5l15.9 6.4zM136.1 281.4l-15.9-6.4l-2.3 .5l15.9 6.4zM133.8 281.9l-15.9-6.4l-2.4 .6l16 6.3zM131.5 282.4l-16-6.3l-2.3 .5l16 6.3zM121.2 279.7l-8-3.1l-2.3 .5l8 3.2zM118.9 280.3l-16-6.4l-2.3 .6l16 6.3zM116.6 280.8l-16-6.3l-2.3 .5l15.9 6.3zM114.2 281.3l-15.9-6.3l-2.3 .5l15.9 6.3zM111.9 281.8l-15.9-6.3l-2.3 .5l15.9 6.3zM101.6 279.1l-7.9-3.1l-2.3 .5l7.9 3.1zM99.3 279.6l-7.9-3.1l-2.4 .5l8 3.1zM97 280.1l-8-3.1l-2.3 .5l8 3.1zM94.7 280.6l-8-3.1l-2.3 .5l8 3.1z"/>
<path fill="#4562ff" stroke="#4562ff" d="M850.2 307.9l-8-7.5l-2.3 1.4l8 7.4zM833 305.9l-8-7.1l-2.3 1.4l7.9 6.9zM830.6 307.1l-7.9-6.9l-2.3 1.3l7.9 6.9zM813.4 305.2l-8-6.6l-2.3 1.2l8 6.6zM811.1 306.4l-8-6.6l-2.3 1.3l8 6.5zM796.2 303.4l-8-6.3l-2.3 1.2l7.9 6.3zM793.8 304.6l-7.9-6.3l-2.3 1.2l7.9 6.2zM776.6 302.9l-7.9-6.1l-2.4 1.2l8 6zM774.3 304l-8-6l-2.3 1.1l8 5.9zM759.4 301.2l-8-5.8l-2.3 1.1l8 5.8zM757.1 302.3l-8-5.8l-2.3 1.1l8 5.7zM754.8 303.3l-8-5.7l-2.3 1.1l7.9 5.6zM739.8 300.7l-7.9-5.6l-2.3 1.1l7.9 5.5zM737.5 301.7l-7.9-5.5l-2.4 1l8 5.5zM735.2 302.7l-8-5.5l-2.3 1l8 5.4zM722.6 299.2l-8-5.4l-2.3 1l8 5.4zM720.3 300.2l-8-5.4l-2.3 1l8 5.3zM718 301.1l-8-5.3l-2.3 1l7.9 5.2zM703.1 298.7l-8-5.2l-2.3 .9l7.9 5.2zM700.7 299.6l-7.9-5.2l-2.3 1l7.9 5.1zM698.4 300.5l-7.9-5.1l-2.4 .9l8 5.1zM685.8 297.2l-7.9-5l-2.4 .9l8 5zM683.5 298.1l-8-5l-2.3 .9l8 5zM681.2 299l-8-5l-2.3 .9l8 5zM678.9 299.9l-8-5l-2.3 .9l8 5zM666.3 296.7l-8-4.9l-2.3 .9l8 4.9zM664 297.6l-8-4.9l-2.3 .9l7.9 4.8zM661.6 298.4l-7.9-4.8l-2.3 .9l7.9 4.8zM646.7 296.2l-7.9-4.7l-2.4 .8l8 4.7zM644.4 297l-8-4.7l-2.3 .9l8 4.7zM642.1 297.9l-8-4.7l-2.3 .8l8 4.7zM629.5 294.8l-8-4.6l-2.3 .9l8 4.6zM627.2 295.7l-8-4.6l-2.3 .8l8 4.6zM624.9 296.5l-8-4.6l-2.3 .8l7.9 4.6zM622.5 297.3l-7.9-4.6l-2.3 .8l7.9 4.6zM609.9 294.3l-7.9-4.5l-2.3 .8l7.9 4.5zM607.6 295.1l-7.9-4.5l-2.4 .8l8 4.5zM605.3 295.9l-8-4.5l-2.3 .8l8 4.5zM592.7 293l-8-4.4l-2.3 .8l8 4.4zM590.4 293.8l-8-4.4l-2.3 .8l8 4.4zM588.1 294.6l-8-4.4l-2.3 .8l8 4.3zM585.8 295.3l-8-4.3l-2.3 .7l7.9 4.4zM573.2 292.5l-8-4.3l-2.3 .8l7.9 4.3zM570.8 293.3l-7.9-4.3l-2.3 .7l7.9 4.3zM568.5 294l-7.9-4.3l-2.4 .8l8 4.3zM566.2 294.8l-8-4.3l-2.3 .7l8 4.3zM555.9 291.2l-7.9-4.2l-2.4 .8l8 4.2zM553.6 292l-8-4.2l-2.3 .7l8 4.2zM551.3 292.7l-8-4.2l-2.3 .8l8 4.2zM549 293.5l-8-4.2l-2.3 .7l8 4.2zM546.7 294.2l-8-4.2l-2.3 .7l7.9 4.2zM536.4 290.7l-8-4.1l-2.3 .7l8 4.2zM534.1 291.5l-8-4.2l-2.3 .7l7.9 4.2zM531.7 292.2l-7.9-4.2l-2.3 .8l7.9 4.1zM529.4 292.9l-7.9-4.1l-2.4 .7l8 4.1zM519.1 289.5l-7.9-4.1l-2.3 .7l7.9 4.1zM516.8 290.2l-7.9-4.1l-2.4 .7l8 4.1zM514.5 290.9l-8-4.1l-2.3 .8l8 4zM512.2 291.6l-8-4l-2.3 .7l8 4zM509.9 292.3l-8-4l-2.3 .7l8 4zM499.6 289l-8-4l-2.3 .7l8 4zM497.3 289.7l-8-4l-2.3 .7l8 4zM495 290.4l-8-4l-2.3 .7l7.9 3.9zM492.6 291l-7.9-3.9l-2.3 .7l7.9 3.9zM490.3 291.7l-15.9-7.9l-2.3 .7l15.9 7.9zM480 288.5l-7.9-4l-2.3 .7l7.9 3.9zM477.7 289.1l-7.9-3.9l-2.4 .7l8 3.9zM475.4 289.8l-8-3.9l-2.3 .7l8 3.9zM473.1 290.5l-8-3.9l-2.3 .7l8 3.8zM462.8 287.3l-8-3.9l-2.3 .6l8 3.9zM460.5 287.9l-8-3.9l-2.3 .7l8 3.9zM458.2 288.6l-8-3.9l-2.3 .7l8 3.9zM455.9 289.3l-8-3.9l-2.3 .7l7.9 3.8zM453.5 289.9l-7.9-3.8l-2.3 .6l7.9 3.9zM443.3 286.7l-8-3.8l-2.3 .7l7.9 3.8zM440.9 287.4l-7.9-3.8l-2.3 .6l7.9 3.8zM438.6 288l-7.9-3.8l-2.4 .7l8 3.8zM436.3 288.7l-8-3.8l-2.3 .6l8 3.8zM434 289.3l-15.9-7.5l-2.4 .6l16 7.6zM423.7 286.2l-8-3.8l-2.3 .7l8 3.7zM421.4 286.8l-8-3.7l-2.3 .6l8 3.8zM419.1 287.5l-8-3.8l-2.3 .7l8 3.7zM416.8 288.1l-8-3.7l-2.3 .6l7.9 3.8zM414.4 288.8l-15.9-7.5l-2.3 .6l15.9 7.5zM404.2 285.7l-8-3.8l-2.3 .7l7.9 3.7zM401.8 286.3l-7.9-3.7l-2.3 .6l7.9 3.7zM399.5 286.9l-7.9-3.7l-2.4 .7l8 3.6zM397.2 287.5l-15.9-7.3l-2.3 .6l15.9 7.4zM386.9 284.5l-7.9-3.7l-2.4 .7l8 3.6zM384.6 285.1l-8-3.6l-2.3 .6l8 3.6zM382.3 285.7l-8-3.6l-2.3 .6l8 3.7zM380 286.4l-8-3.7l-2.3 .6l8 3.7zM377.7 287l-16-7.3l-2.3 .6l15.9 7.3zM367.4 284l-8-3.7l-2.3 .7l8 3.6zM365.1 284.6l-8-3.6l-2.3 .6l7.9 3.6zM362.7 285.2l-7.9-3.6l-2.3 .6l7.9 3.6zM360.4 285.8l-15.9-7.2l-2.3 .6l15.9 7.2zM358.1 286.4l-15.9-7.2l-2.3 .6l15.9 7.2zM347.8 283.4l-7.9-3.6l-2.4 .7l8 3.5zM345.5 284l-8-3.5l-2.3 .6l8 3.5zM343.2 284.6l-8-3.5l-2.3 .6l8 3.5zM340.9 285.2l-16-7.1l-2.3 .6l16 7.1zM330.6 282.3l-8-3.6l-2.3 .6l8 3.6zM328.3 282.9l-8-3.6l-2.3 .6l8 3.6zM326 283.5l-8-3.6l-2.3 .6l7.9 3.5zM323.6 284l-15.9-7l-2.3 .6l15.9 7zM321.3 284.6l-15.9-7l-2.3 .6l15.9 7zM311 281.7l-7.9-3.5l-2.3 .6l7.9 3.5zM308.7 282.3l-7.9-3.5l-2.4 .6l8 3.5zM306.4 282.9l-8-3.5l-2.3 .6l8 3.5zM304.1 283.5l-15.9-7l-2.4 .6l16 7zM301.8 284.1l-16-7l-2.3 .6l16 6.9zM291.5 281.2l-8-3.5l-2.3 .6l8 3.5zM289.2 281.8l-8-3.5l-2.3 .6l8 3.4zM286.9 282.3l-16-6.9l-2.3 .6l15.9 6.9zM284.5 282.9l-15.9-6.9l-2.3 .6l15.9 6.9zM274.3 280l-8-3.4l-2.3 .6l7.9 3.4zM271.9 280.6l-7.9-3.4l-2.3 .6l7.9 3.4zM269.6 281.2l-7.9-3.4l-2.4 .6l8 3.4zM267.3 281.8l-15.9-6.8l-2.3 .5l15.9 6.8zM265 282.3l-15.9-6.8l-2.4 .6l16 6.8zM254.7 279.5l-8-3.4l-2.3 .6l8 3.4zM252.4 280.1l-8-3.4l-2.3 .5l8 3.4zM250.1 280.6l-8-3.4l-2.3 .6l8 3.4zM247.8 281.2l-16-6.8l-2.3 .6l15.9 6.7zM245.4 281.7l-15.9-6.7l-2.3 .6l15.9 6.7zM235.2 278.9l-8-3.3l-2.3 .6l7.9 3.3zM232.8 279.5l-7.9-3.3l-2.3 .5l7.9 3.4zM230.5 280.1l-15.9-6.7l-2.3 .5l15.9 6.7zM228.2 280.6l-15.9-6.7l-2.3 .6l15.9 6.7zM225.9 281.2l-15.9-6.7l-2.4 .6l16 6.6zM215.6 278.4l-8-3.3l-2.3 .5l8 3.3zM213.3 278.9l-8-3.3l-2.3 .6l8 3.3zM211 279.5l-16-6.6l-2.3 .5l16 6.6zM208.7 280l-16-6.6l-2.3 .6l15.9 6.6zM198.4 277.3l-8-3.3l-2.3 .5l8 3.3zM196.1 277.8l-8-3.3l-2.3 .6l7.9 3.3zM193.7 278.4l-15.9-6.6l-2.3 .6l15.9 6.5zM191.4 278.9l-15.9-6.5l-2.3 .5l15.9 6.5zM189.1 279.4l-15.9-6.5l-2.3 .6l15.9 6.5zM178.8 276.7l-7.9-3.2l-2.4 .5l8 3.3zM176.5 277.3l-8-3.3l-2.3 .5l8 3.3zM174.2 277.8l-15.9-6.5l-2.3 .5l15.9 6.5zM171.9 278.3l-15.9-6.5l-2.4 .6l16 6.5zM169.6 278.9l-16-6.5l-2.3 .5l15.9 6.5zM159.3 276.2l-8-3.3l-2.3 .6l8 3.2zM157 276.7l-16-6.5l-2.3 .6l15.9 6.4zM154.6 277.2l-15.9-6.4l-2.3 .5l15.9 6.4zM152.3 277.7l-15.9-6.4l-2.3 .5l15.9 6.5zM142 275.1l-7.9-3.3l-2.3 .6l7.9 3.2zM139.7 275.6l-7.9-3.2l-2.4 .5l8 3.2zM137.4 276.1l-15.9-6.4l-2.3 .5l15.9 6.4zM135.1 276.6l-15.9-6.4l-2.3 .6l15.9 6.4zM132.8 277.2l-15.9-6.4l-2.4 .5l16 6.4zM122.5 274.5l-8-3.2l-2.3 .5l8 3.2zM120.2 275l-8-3.2l-2.3 .6l8 3.1zM117.9 275.5l-8-3.1l-2.3 .5l7.9 3.2zM115.5 276.1l-7.9-3.2l-2.3 .5l7.9 3.2zM113.2 276.6l-7.9-3.2l-2.4 .5l8 3.2z"/>
<path fill="#4465ff" stroke="#4465ff" d="M852.5 306.5l-8-7.6l-2.3 1.5l8 7.5zM837.6 303.2l-8-7.2l-2.3 1.4l8 7.2zM835.3 304.6l-8-7.2l-2.3 1.4l8 7.1zM818 302.8l-7.9-6.8l-2.3 1.3l7.9 6.7zM815.7 304l-7.9-6.7l-2.4 1.3l8 6.6zM800.8 301.1l-8-6.5l-2.3 1.3l8 6.4zM798.5 302.3l-8-6.4l-2.3 1.2l8 6.3zM783.6 299.5l-8-6.2l-2.3 1.2l8 6.1zM781.3 300.6l-8-6.1l-2.3 1.2l7.9 6.1zM778.9 301.8l-7.9-6.1l-2.3 1.1l7.9 6.1zM764 299.1l-7.9-5.9l-2.4 1.1l8 5.9zM761.7 300.2l-8-5.9l-2.3 1.1l8 5.8zM746.8 297.6l-8-5.7l-2.3 1.1l8 5.7zM744.5 298.7l-8-5.7l-2.3 1.1l8 5.6zM742.2 299.7l-8-5.6l-2.3 1l7.9 5.6zM727.2 297.2l-7.9-5.5l-2.3 1.1l7.9 5.4zM724.9 298.2l-7.9-5.4l-2.4 1l8 5.4zM710 295.8l-8-5.3l-2.3 1l8 5.3zM707.7 296.8l-8-5.3l-2.3 1l8 5.2zM705.4 297.7l-8-5.2l-2.3 1l8 5.2zM692.8 294.4l-8-5.1l-2.3 1l8 5.1zM690.5 295.4l-8-5.1l-2.3 .9l7.9 5.1zM688.1 296.3l-7.9-5.1l-2.3 1l7.9 5zM673.2 294l-7.9-4.9l-2.4 .9l8 4.9zM670.9 294.9l-8-4.9l-2.3 .9l8 4.9zM668.6 295.8l-8-4.9l-2.3 .9l8 4.9zM656 292.7l-8-4.8l-2.3 .9l8 4.8zM653.7 293.6l-8-4.8l-2.3 .9l8 4.8zM651.4 294.5l-8-4.8l-2.3 .9l7.9 4.7zM649 295.3l-7.9-4.7l-2.3 .9l7.9 4.7zM636.4 292.3l-7.9-4.7l-2.3 .9l7.9 4.7zM634.1 293.2l-7.9-4.7l-2.4 .8l8 4.7zM631.8 294l-8-4.7l-2.3 .9l8 4.6zM619.2 291.1l-8-4.7l-2.3 .9l8 4.6zM616.9 291.9l-8-4.6l-2.3 .8l8 4.6zM614.6 292.7l-8-4.6l-2.3 .9l8 4.5zM612.3 293.5l-8-4.5l-2.3 .8l7.9 4.5zM602 289.8l-8-4.5l-2.3 .8l8 4.5zM599.7 290.6l-8-4.5l-2.3 .9l7.9 4.4zM597.3 291.4l-7.9-4.4l-2.3 .8l7.9 4.4zM595 292.2l-7.9-4.4l-2.4 .8l8 4.4zM582.4 289.4l-7.9-4.4l-2.4 .8l8 4.4zM580.1 290.2l-8-4.4l-2.3 .8l8 4.4zM577.8 291l-8-4.4l-2.3 .8l8 4.3zM575.5 291.7l-8-4.3l-2.3 .8l8 4.3zM565.2 288.2l-8-4.3l-2.3 .8l8 4.3zM562.9 289l-8-4.3l-2.3 .7l8 4.3zM560.6 289.7l-8-4.3l-2.3 .8l7.9 4.3zM558.2 290.5l-7.9-4.3l-2.3 .8l7.9 4.2zM545.6 287.8l-7.9-4.3l-2.3 .8l7.9 4.2zM543.3 288.5l-7.9-4.2l-2.4 .8l8 4.2zM541 289.3l-8-4.2l-2.3 .7l8 4.2zM538.7 290l-8-4.2l-2.3 .8l8 4.1zM528.4 286.6l-8-4.2l-2.3 .8l8 4.1zM526.1 287.3l-8-4.1l-2.3 .7l8 4.1zM523.8 288l-8-4.1l-2.3 .8l8 4.1zM521.5 288.8l-8-4.1l-2.3 .7l7.9 4.1zM511.2 285.4l-8-4.1l-2.3 .7l8 4.1zM508.9 286.1l-8-4.1l-2.3 .8l7.9 4zM506.5 286.8l-7.9-4l-2.3 .7l7.9 4.1zM504.2 287.6l-7.9-4.1l-2.4 .7l8 4.1zM501.9 288.3l-8-4.1l-2.3 .8l8 4zM491.6 285l-7.9-4.1l-2.4 .8l8 4zM489.3 285.7l-8-4l-2.3 .7l8 4zM487 286.4l-8-4l-2.3 .7l8 4zM484.7 287.1l-8-4l-2.3 .7l8 4zM474.4 283.8l-8-4l-2.3 .8l8 3.9zM472.1 284.5l-8-3.9l-2.3 .7l8 3.9zM469.8 285.2l-8-3.9l-2.3 .7l7.9 3.9zM467.4 285.9l-7.9-3.9l-2.3 .7l7.9 3.9zM465.1 286.6l-7.9-3.9l-2.4 .7l8 3.9zM454.8 283.4l-7.9-3.9l-2.3 .7l7.9 3.8zM452.5 284l-7.9-3.8l-2.4 .7l8 3.8zM450.2 284.7l-8-3.8l-2.3 .6l8 3.9zM447.9 285.4l-8-3.9l-2.3 .7l8 3.9zM445.6 286.1l-16-7.7l-2.3 .7l16 7.6zM435.3 282.9l-8-3.8l-2.3 .7l8 3.8zM433 283.6l-8-3.8l-2.3 .6l8 3.8zM430.7 284.2l-8-3.8l-2.3 .7l7.9 3.8zM428.3 284.9l-15.9-7.6l-2.3 .7l15.9 7.5zM418.1 281.8l-8-3.8l-2.3 .7l7.9 3.7zM415.7 282.4l-7.9-3.7l-2.3 .6l7.9 3.8zM413.4 283.1l-7.9-3.8l-2.4 .7l8 3.7zM411.1 283.7l-8-3.7l-2.3 .6l8 3.8zM408.8 284.4l-15.9-7.5l-2.3 .7l15.9 7.4zM398.5 281.3l-7.9-3.7l-2.4 .6l8 3.7zM396.2 281.9l-8-3.7l-2.3 .7l8 3.7zM393.9 282.6l-8-3.7l-2.3 .6l8 3.7zM391.6 283.2l-16-7.4l-2.3 .7l15.9 7.4zM381.3 280.2l-8-3.7l-2.3 .6l8 3.7zM379 280.8l-8-3.7l-2.3 .7l7.9 3.7zM376.6 281.5l-7.9-3.7l-2.3 .6l7.9 3.7zM374.3 282.1l-7.9-3.7l-2.4 .7l8 3.6zM372 282.7l-15.9-7.3l-2.3 .7l15.9 7.2zM361.7 279.7l-7.9-3.6l-2.3 .6l7.9 3.6zM359.4 280.3l-7.9-3.6l-2.4 .6l8 3.7zM357.1 281l-8-3.7l-2.3 .7l8 3.6zM354.8 281.6l-15.9-7.2l-2.4 .6l16 7.2zM344.5 278.6l-8-3.6l-2.3 .6l8 3.6zM342.2 279.2l-8-3.6l-2.3 .7l8 3.5zM339.9 279.8l-8-3.5l-2.3 .6l7.9 3.6zM337.5 280.5l-15.9-7.2l-2.3 .6l15.9 7.2zM335.2 281.1l-15.9-7.2l-2.3 .7l15.9 7.1zM324.9 278.1l-7.9-3.5l-2.3 .6l7.9 3.5zM322.6 278.7l-7.9-3.5l-2.3 .6l7.9 3.5zM320.3 279.3l-7.9-3.5l-2.4 .6l8 3.5zM318 279.9l-15.9-7l-2.3 .6l15.9 7zM307.7 277l-7.9-3.5l-2.4 .6l8 3.5zM305.4 277.6l-8-3.5l-2.3 .6l8 3.5zM303.1 278.2l-8-3.5l-2.3 .6l8 3.5zM300.8 278.8l-16-7l-2.3 .7l15.9 6.9zM298.4 279.4l-15.9-6.9l-2.3 .6l15.9 6.9zM288.2 276.5l-8-3.4l-2.3 .6l7.9 3.4zM285.8 277.1l-7.9-3.4l-2.3 .6l7.9 3.4zM283.5 277.7l-7.9-3.4l-2.4 .6l8 3.4zM281.2 278.3l-15.9-6.9l-2.3 .6l15.9 6.9zM270.9 275.4l-7.9-3.4l-2.3 .6l7.9 3.4zM268.6 276l-7.9-3.4l-2.4 .6l8 3.4zM266.3 276.6l-8-3.4l-2.3 .6l8 3.4zM264 277.2l-15.9-6.8l-2.4 .6l16 6.8zM261.7 277.8l-16-6.8l-2.3 .5l15.9 6.9zM251.4 275l-8-3.5l-2.3 .6l8 3.4zM249.1 275.5l-8-3.4l-2.3 .6l7.9 3.4zM246.7 276.1l-15.9-6.8l-2.3 .6l15.9 6.8zM244.4 276.7l-15.9-6.8l-2.3 .6l15.9 6.7zM242.1 277.2l-15.9-6.7l-2.3 .6l15.9 6.7zM231.8 274.4l-7.9-3.3l-2.3 .6l7.9 3.3zM229.5 275l-7.9-3.3l-2.4 .5l8 3.4zM227.2 275.6l-15.9-6.7l-2.3 .6l15.9 6.7zM224.9 276.2l-15.9-6.7l-2.4 .5l16 6.7zM214.6 273.4l-8-3.4l-2.3 .6l8 3.3zM212.3 273.9l-8-3.3l-2.3 .6l8 3.3zM210 274.5l-16-6.7l-2.3 .6l15.9 6.7zM207.6 275.1l-15.9-6.7l-2.3 .6l15.9 6.6zM205.3 275.6l-15.9-6.6l-2.3 .6l15.9 6.6zM195 272.9l-7.9-3.3l-2.3 .5l7.9 3.3zM192.7 273.4l-15.9-6.6l-2.3 .6l15.9 6.6zM190.4 274l-15.9-6.6l-2.3 .6l15.9 6.5zM188.1 274.5l-15.9-6.5l-2.3 .5l15.9 6.6zM177.8 271.8l-7.9-3.3l-2.4 .6l8 3.3zM175.5 272.4l-8-3.3l-2.3 .5l8 3.3zM173.2 272.9l-15.9-6.5l-2.4 .5l16 6.6zM170.9 273.5l-16-6.6l-2.3 .6l15.9 6.5zM168.5 274l-15.9-6.5l-2.3 .5l15.9 6.5zM158.3 271.3l-8-3.3l-2.3 .6l8 3.2zM156 271.8l-16-6.5l-2.3 .6l15.9 6.5zM153.6 272.4l-15.9-6.5l-2.3 .5l15.9 6.5zM151.3 272.9l-15.9-6.5l-2.3 .6l15.9 6.5zM141 270.2l-7.9-3.2l-2.3 .5l7.9 3.3zM138.7 270.8l-7.9-3.3l-2.4 .6l8 3.2zM136.4 271.3l-8-3.2l-2.3 .5l8 3.2zM134.1 271.8l-8-3.2l-2.3 .6l8 3.2zM131.8 272.4l-8-3.2l-2.3 .5l7.9 3.2z"/>
<path fill="#4468ff" stroke="#4468ff" d="M839.9 301.8l-8-7.3l-2.3 1.5l8 7.2zM822.7 300.2l-8-7l-2.3 1.4l8 6.9zM820.4 301.5l-8-6.9l-2.3 1.4l7.9 6.8zM805.4 298.6l-7.9-6.7l-2.3 1.4l7.9 6.5zM803.1 299.8l-7.9-6.5l-2.4 1.3l8 6.5zM788.2 297.1l-8-6.4l-2.3 1.3l8 6.3zM785.9 298.3l-8-6.3l-2.3 1.3l8 6.2zM768.7 296.8l-8-6l-2.3 1.2l7.9 6zM766.3 298l-7.9-6l-2.3 1.2l7.9 5.9zM751.4 295.4l-7.9-5.8l-2.4 1.2l8 5.7zM749.1 296.5l-8-5.7l-2.3 1.1l8 5.7zM734.2 294.1l-8-5.6l-2.3 1.1l8 5.5zM731.9 295.1l-8-5.5l-2.3 1.1l8 5.5zM729.6 296.2l-8-5.5l-2.3 1l7.9 5.5zM717 292.8l-8-5.5l-2.3 1.1l7.9 5.4zM714.6 293.8l-7.9-5.4l-2.3 1.1l7.9 5.3zM712.3 294.8l-7.9-5.3l-2.4 1l8 5.3zM697.4 292.5l-8-5.2l-2.3 1l8 5.2zM695.1 293.5l-8-5.2l-2.3 1l8 5.1zM680.2 291.2l-8-5.1l-2.3 1l8 5.1zM677.9 292.2l-8-5.1l-2.3 1l7.9 5zM675.5 293.1l-7.9-5l-2.3 1l7.9 4.9zM662.9 290l-7.9-5l-2.3 1l7.9 4.9zM660.6 290.9l-7.9-4.9l-2.4 .9l8 4.9zM658.3 291.8l-8-4.9l-2.3 1l8 4.8zM645.7 288.8l-8-4.8l-2.3 .9l8 4.8zM643.4 289.7l-8-4.8l-2.3 .9l8 4.8zM641.1 290.6l-8-4.8l-2.3 .9l8 4.8zM638.8 291.5l-8-4.8l-2.3 .9l7.9 4.7zM626.2 288.5l-8-4.7l-2.3 .9l7.9 4.6zM623.8 289.3l-7.9-4.6l-2.3 .9l7.9 4.6zM621.5 290.2l-7.9-4.6l-2.4 .8l8 4.7zM608.9 287.3l-7.9-4.6l-2.4 .9l8 4.5zM606.6 288.1l-8-4.5l-2.3 .8l8 4.6zM604.3 289l-8-4.6l-2.3 .9l8 4.5zM591.7 286.1l-8-4.5l-2.3 .9l8 4.5zM589.4 287l-8-4.5l-2.3 .8l8 4.5zM587.1 287.8l-8-4.5l-2.3 .9l7.9 4.4zM584.7 288.6l-7.9-4.4l-2.3 .8l7.9 4.4zM574.5 285l-8-4.4l-2.3 .8l7.9 4.4zM572.1 285.8l-7.9-4.4l-2.3 .8l7.9 4.4zM569.8 286.6l-7.9-4.4l-2.4 .8l8 4.4zM567.5 287.4l-8-4.4l-2.3 .9l8 4.3zM554.9 284.7l-7.9-4.4l-2.4 .8l8 4.3zM552.6 285.4l-8-4.3l-2.3 .8l8 4.3zM550.3 286.2l-8-4.3l-2.3 .8l8 4.3zM548 287l-8-4.3l-2.3 .8l7.9 4.3zM537.7 283.5l-8-4.2l-2.3 .8l8 4.2zM535.4 284.3l-8-4.2l-2.3 .8l7.9 4.2zM533 285.1l-7.9-4.2l-2.3 .7l7.9 4.2zM530.7 285.8l-7.9-4.2l-2.4 .8l8 4.2zM520.4 282.4l-7.9-4.2l-2.3 .8l7.9 4.2zM518.1 283.2l-7.9-4.2l-2.4 .8l8 4.1zM515.8 283.9l-8-4.1l-2.3 .7l8 4.2zM513.5 284.7l-8-4.2l-2.3 .8l8 4.1zM503.2 281.3l-7.9-4.1l-2.4 .8l8 4zM500.9 282l-8-4l-2.3 .7l8 4.1zM498.6 282.8l-8-4.1l-2.3 .8l8 4zM496.3 283.5l-8-4l-2.3 .7l7.9 4zM493.9 284.2l-7.9-4l-2.3 .7l7.9 4.1zM483.7 280.9l-8-4l-2.3 .8l7.9 4zM481.3 281.7l-7.9-4l-2.3 .7l7.9 4zM479 282.4l-7.9-4l-2.3 .7l7.9 4zM476.7 283.1l-7.9-4l-2.4 .7l8 4zM466.4 279.8l-7.9-3.9l-2.3 .7l7.9 4zM464.1 280.6l-7.9-4l-2.4 .7l8 4zM461.8 281.3l-8-4l-2.3 .8l8 3.9zM459.5 282l-8-3.9l-2.3 .7l8 3.9zM457.2 282.7l-16-7.8l-2.3 .7l15.9 7.8zM446.9 279.5l-8-3.9l-2.3 .7l8 3.9zM444.6 280.2l-8-3.9l-2.3 .7l7.9 3.9zM442.2 280.9l-7.9-3.9l-2.3 .7l7.9 3.8zM439.9 281.5l-15.9-7.7l-2.3 .7l15.9 7.7zM429.6 278.4l-7.9-3.9l-2.3 .7l7.9 3.9zM427.3 279.1l-7.9-3.9l-2.3 .7l7.9 3.9zM425 279.8l-7.9-3.9l-2.4 .7l8 3.8zM422.7 280.4l-8-3.8l-2.3 .7l8 3.8zM412.4 277.3l-7.9-3.8l-2.4 .7l8 3.8zM410.1 278l-8-3.8l-2.3 .7l8 3.8zM407.8 278.7l-8-3.8l-2.3 .7l8 3.7zM405.5 279.3l-8-3.7l-2.3 .6l7.9 3.8zM403.1 280l-15.9-7.5l-2.3 .7l15.9 7.4zM392.9 276.9l-8-3.7l-2.3 .6l8 3.8zM390.6 277.6l-8-3.8l-2.3 .7l7.9 3.7zM388.2 278.2l-7.9-3.7l-2.3 .7l7.9 3.7zM385.9 278.9l-15.9-7.4l-2.3 .7l15.9 7.3zM375.6 275.8l-7.9-3.6l-2.3 .6l7.9 3.7zM373.3 276.5l-7.9-3.7l-2.4 .7l8 3.6zM371 277.1l-8-3.6l-2.3 .6l8 3.7zM368.7 277.8l-15.9-7.3l-2.4 .6l16 7.3zM366.4 278.4l-16-7.3l-2.3 .7l15.9 7.3zM356.1 275.4l-8-3.6l-2.3 .6l8 3.7zM353.8 276.1l-8-3.7l-2.3 .7l8 3.6zM351.5 276.7l-8-3.6l-2.3 .6l7.9 3.6zM349.1 277.3l-15.9-7.2l-2.3 .7l15.9 7.2zM338.9 274.4l-8-3.6l-2.3 .6l7.9 3.6zM336.5 275l-7.9-3.6l-2.3 .7l7.9 3.5zM334.2 275.6l-7.9-3.5l-2.4 .6l8 3.6zM331.9 276.3l-15.9-7.2l-2.3 .7l15.9 7.1zM321.6 273.3l-7.9-3.5l-2.4 .6l8 3.5zM319.3 273.9l-8-3.5l-2.3 .6l8 3.6zM317 274.6l-8-3.6l-2.3 .6l8 3.6zM314.7 275.2l-16-7.1l-2.3 .6l16 7.1zM312.4 275.8l-16-7.1l-2.3 .7l15.9 7zM302.1 272.9l-8-3.5l-2.3 .6l8 3.5zM299.8 273.5l-8-3.5l-2.3 .6l7.9 3.5zM297.4 274.1l-15.9-7l-2.3 .6l15.9 7zM295.1 274.7l-15.9-7l-2.3 .7l15.9 6.9zM284.8 271.8l-7.9-3.4l-2.3 .6l7.9 3.5zM282.5 272.5l-7.9-3.5l-2.4 .6l8 3.5zM280.2 273.1l-8-3.5l-2.3 .6l8 3.5zM277.9 273.7l-15.9-7l-2.4 .6l16 7zM275.6 274.3l-16-7l-2.3 .7l15.9 6.9zM265.3 271.4l-8-3.4l-2.3 .6l8 3.4zM263 272l-8-3.4l-2.3 .6l8 3.4zM260.7 272.6l-16-6.9l-2.3 .6l15.9 6.9zM258.3 273.2l-15.9-6.9l-2.3 .6l15.9 6.9zM248.1 270.4l-8-3.5l-2.3 .6l7.9 3.5zM245.7 271l-7.9-3.5l-2.3 .6l7.9 3.4zM243.4 271.5l-15.9-6.8l-2.3 .6l15.9 6.8zM241.1 272.1l-15.9-6.8l-2.3 .6l15.9 6.8zM230.8 269.3l-7.9-3.4l-2.4 .6l8 3.4zM228.5 269.9l-8-3.4l-2.3 .6l8 3.4zM226.2 270.5l-8-3.4l-2.3 .6l8 3.4zM223.9 271.1l-16-6.8l-2.3 .6l16 6.8zM221.6 271.7l-16-6.8l-2.3 .6l15.9 6.7zM211.3 268.9l-8-3.4l-2.3 .6l8 3.4zM209 269.5l-8-3.4l-2.3 .6l7.9 3.3zM206.6 270l-15.9-6.6l-2.3 .5l15.9 6.7zM204.3 270.6l-15.9-6.7l-2.3 .6l15.9 6.7zM194 267.8l-7.9-3.3l-2.3 .6l7.9 3.3zM191.7 268.4l-7.9-3.3l-2.4 .6l8 3.3zM189.4 269l-15.9-6.6l-2.3 .5l15.9 6.7zM187.1 269.6l-15.9-6.7l-2.4 .6l16 6.6zM176.8 266.8l-8-3.3l-2.3 .6l8 3.3zM174.5 267.4l-8-3.3l-2.3 .6l8 3.3zM172.2 268l-16-6.6l-2.3 .5l16 6.6zM169.9 268.5l-16-6.6l-2.3 .6l15.9 6.6zM167.5 269.1l-15.9-6.6l-2.3 .6l15.9 6.5zM157.3 266.4l-8-3.3l-2.3 .6l7.9 3.2zM154.9 266.9l-7.9-3.2l-2.3 .5l7.9 3.3zM152.6 267.5l-7.9-3.3l-2.4 .6l8 3.2zM150.3 268l-8-3.2l-2.3 .5l8 3.3z"/>
<path fill="#426bff" stroke="#426bff" d="M844.5 298.9l-7.9-7.5l-2.3 1.5l7.9 7.5zM842.2 300.4l-7.9-7.5l-2.4 1.6l8 7.3zM827.3 297.4l-8-7.2l-2.3 1.5l8 7.1zM825 298.8l-8-7.1l-2.3 1.5l8 7zM810.1 296l-8-6.8l-2.3 1.4l8 6.7zM807.8 297.3l-8-6.7l-2.3 1.3l7.9 6.7zM792.8 294.6l-7.9-6.5l-2.3 1.3l7.9 6.5zM790.5 295.9l-7.9-6.5l-2.4 1.3l8 6.4zM775.6 293.3l-8-6.2l-2.3 1.2l8 6.2zM773.3 294.5l-8-6.2l-2.3 1.3l8 6.1zM771 295.7l-8-6.1l-2.3 1.2l8 6zM756.1 293.2l-8-5.9l-2.3 1.1l7.9 5.9zM753.7 294.3l-7.9-5.9l-2.3 1.2l7.9 5.8zM738.8 291.9l-7.9-5.7l-2.4 1.1l8 5.7zM736.5 293l-8-5.7l-2.3 1.2l8 5.6zM721.6 290.7l-8-5.6l-2.3 1.1l8 5.5zM719.3 291.7l-8-5.5l-2.3 1.1l8 5.5zM704.4 289.5l-8-5.4l-2.3 1.1l7.9 5.3zM702 290.5l-7.9-5.3l-2.3 1l7.9 5.3zM699.7 291.5l-7.9-5.3l-2.4 1.1l8 5.2zM687.1 288.3l-7.9-5.2l-2.4 1l8 5.2zM684.8 289.3l-8-5.2l-2.3 1l8 5.2zM682.5 290.3l-8-5.2l-2.3 1l8 5.1zM669.9 287.1l-8-5l-2.3 1l8 5zM667.6 288.1l-8-5l-2.3 1l8 5zM665.3 289.1l-8-5l-2.3 .9l7.9 5zM652.7 286l-8-4.9l-2.3 .9l7.9 4.9zM650.3 286.9l-7.9-4.9l-2.3 1l7.9 4.9zM648 287.9l-7.9-4.9l-2.4 1l8 4.8zM635.4 284.9l-7.9-4.8l-2.3 .9l7.9 4.8zM633.1 285.8l-7.9-4.8l-2.4 1l8 4.7zM630.8 286.7l-8-4.7l-2.3 .9l8 4.7zM628.5 287.6l-8-4.7l-2.3 .9l8 4.7zM615.9 284.7l-8-4.7l-2.3 .9l8 4.7zM613.6 285.6l-8-4.7l-2.3 .9l7.9 4.6zM611.2 286.4l-7.9-4.6l-2.3 .9l7.9 4.6zM598.6 283.6l-7.9-4.6l-2.3 .9l7.9 4.5zM596.3 284.4l-7.9-4.5l-2.4 .9l8 4.5zM594 285.3l-8-4.5l-2.3 .8l8 4.5zM581.4 282.5l-7.9-4.5l-2.4 .9l8 4.4zM579.1 283.3l-8-4.4l-2.3 .8l8 4.5zM576.8 284.2l-8-4.5l-2.3 .9l8 4.4zM564.2 281.4l-8-4.4l-2.3 .9l8 4.3zM561.9 282.2l-8-4.3l-2.3 .8l7.9 4.3zM559.5 283l-7.9-4.3l-2.3 .8l7.9 4.4zM557.2 283.9l-7.9-4.4l-2.3 .8l7.9 4.4zM547 280.3l-8-4.3l-2.3 .9l7.9 4.2zM544.6 281.1l-7.9-4.2l-2.3 .8l7.9 4.2zM542.3 281.9l-7.9-4.2l-2.4 .8l8 4.2zM540 282.7l-8-4.2l-2.3 .8l8 4.2zM529.7 279.3l-7.9-4.2l-2.4 .8l8 4.2zM527.4 280.1l-8-4.2l-2.3 .8l8 4.2zM525.1 280.9l-8-4.2l-2.3 .8l8 4.1zM522.8 281.6l-8-4.1l-2.3 .7l7.9 4.2zM512.5 278.2l-8-4.1l-2.3 .8l8 4.1zM510.2 279l-8-4.1l-2.3 .8l7.9 4.1zM507.8 279.8l-7.9-4.1l-2.3 .7l7.9 4.1zM505.5 280.5l-7.9-4.1l-2.3 .8l7.9 4.1zM495.3 277.2l-8-4.1l-2.3 .8l7.9 4.1zM492.9 278l-7.9-4.1l-2.3 .8l7.9 4zM490.6 278.7l-7.9-4l-2.4 .7l8 4.1zM488.3 279.5l-8-4.1l-2.3 .8l8 4zM486 280.2l-8-4l-2.3 .7l8 4zM475.7 276.9l-8-4l-2.3 .8l8 4zM473.4 277.7l-8-4l-2.3 .7l8 4zM471.1 278.4l-8-4l-2.3 .8l8 3.9zM468.8 279.1l-8-3.9l-2.3 .7l7.9 3.9zM458.5 275.9l-8-4l-2.3 .8l8 3.9zM456.2 276.6l-8-3.9l-2.3 .7l7.9 3.9zM453.8 277.3l-7.9-3.9l-2.3 .7l7.9 4zM451.5 278.1l-7.9-4l-2.4 .8l8 3.9zM441.2 274.9l-7.9-3.9l-2.3 .7l7.9 3.9zM438.9 275.6l-7.9-3.9l-2.4 .7l8 3.9zM436.6 276.3l-8-3.9l-2.3 .7l8 3.9zM434.3 277l-8-3.9l-2.3 .7l8 3.9zM424 273.8l-8-3.8l-2.3 .7l8 3.8zM421.7 274.5l-8-3.8l-2.3 .7l8 3.8zM419.4 275.2l-8-3.8l-2.3 .7l8 3.8zM417.1 275.9l-8-3.8l-2.3 .7l7.9 3.8zM414.7 276.6l-15.9-7.6l-2.3 .7l15.9 7.6zM404.5 273.5l-8-3.8l-2.3 .7l7.9 3.8zM402.1 274.2l-7.9-3.8l-2.3 .7l7.9 3.8zM399.8 274.9l-7.9-3.8l-2.4 .7l8 3.8zM397.5 275.6l-15.9-7.5l-2.3 .6l15.9 7.5zM387.2 272.5l-7.9-3.8l-2.4 .7l8 3.8zM384.9 273.2l-8-3.8l-2.3 .7l8 3.7zM382.6 273.8l-8-3.7l-2.3 .7l8 3.7zM380.3 274.5l-16-7.4l-2.3 .7l16 7.4zM370 271.5l-8-3.7l-2.3 .7l8 3.7zM367.7 272.2l-8-3.7l-2.3 .6l8 3.7zM365.4 272.8l-8-3.7l-2.3 .7l7.9 3.7zM363 273.5l-15.9-7.4l-2.3 .7l15.9 7.3zM352.8 270.5l-8-3.7l-2.3 .7l7.9 3.6zM350.4 271.1l-7.9-3.6l-2.3 .6l7.9 3.7zM348.1 271.8l-7.9-3.7l-2.4 .7l8 3.6zM345.8 272.4l-8-3.6l-2.3 .7l8 3.6zM343.5 273.1l-15.9-7.3l-2.4 .7l16 7.2zM333.2 270.1l-8-3.6l-2.3 .7l8 3.6zM330.9 270.8l-8-3.6l-2.3 .6l8 3.6zM328.6 271.4l-8-3.6l-2.3 .7l8 3.6zM326.3 272.1l-16-7.2l-2.3 .6l15.9 7.2zM316 269.1l-8-3.6l-2.3 .7l8 3.6zM313.7 269.8l-8-3.6l-2.3 .6l7.9 3.6zM311.3 270.4l-7.9-3.6l-2.3 .7l7.9 3.5zM309 271l-15.9-7.1l-2.3 .7l15.9 7zM298.7 268.1l-7.9-3.5l-2.3 .6l7.9 3.5zM296.4 268.7l-7.9-3.5l-2.4 .6l8 3.6zM294.1 269.4l-8-3.6l-2.3 .7l8 3.5zM291.8 270l-15.9-7l-2.4 .6l16 7zM281.5 267.1l-8-3.5l-2.3 .6l8 3.5zM279.2 267.7l-8-3.5l-2.3 .7l8 3.5zM276.9 268.4l-8-3.5l-2.3 .6l8 3.5zM274.6 269l-16-7l-2.3 .6l15.9 7zM272.2 269.6l-15.9-7l-2.3 .7l15.9 6.9zM262 266.7l-8-3.4l-2.3 .6l7.9 3.4zM259.6 267.3l-7.9-3.4l-2.3 .6l7.9 3.5zM257.3 268l-15.9-6.9l-2.3 .6l15.9 6.9zM255 268.6l-15.9-6.9l-2.3 .6l15.9 6.9zM244.7 265.7l-7.9-3.4l-2.4 .6l8 3.4zM242.4 266.3l-8-3.4l-2.3 .6l8 3.4zM240.1 266.9l-15.9-6.8l-2.4 .6l16 6.8zM237.8 267.5l-16-6.8l-2.3 .6l16 6.8zM227.5 264.7l-8-3.4l-2.3 .6l8 3.4zM225.2 265.3l-8-3.4l-2.3 .7l8 3.3zM222.9 265.9l-16-6.7l-2.3 .6l15.9 6.7zM220.5 266.5l-15.9-6.7l-2.3 .6l15.9 6.7zM218.2 267.1l-15.9-6.7l-2.3 .6l15.9 6.7zM207.9 264.3l-7.9-3.3l-2.3 .6l7.9 3.3zM205.6 264.9l-7.9-3.3l-2.4 .6l8 3.3zM203.3 265.5l-15.9-6.7l-2.3 .6l15.9 6.7zM201 266.1l-15.9-6.7l-2.3 .6l15.9 6.7zM190.7 263.4l-7.9-3.4l-2.4 .6l8 3.3zM188.4 263.9l-8-3.3l-2.3 .6l8 3.3zM186.1 264.5l-15.9-6.6l-2.4 .6l16 6.6zM183.8 265.1l-16-6.6l-2.3 .5l15.9 6.7zM173.5 262.4l-8-3.4l-2.3 .6l8 3.3zM171.2 262.9l-8-3.3l-2.3 .6l7.9 3.3zM168.8 263.5l-7.9-3.3l-2.3 .6l7.9 3.3zM166.5 264.1l-7.9-3.3l-2.4 .6l8 3.3z"/>
<path fill="#416fff" stroke="#416fff" d="M829.6 296l-7.9-7.3l-2.4 1.5l8 7.2zM812.4 294.6l-8-6.9l-2.3 1.5l8 6.8zM795.2 293.3l-8-6.6l-2.3 1.4l7.9 6.5zM777.9 292l-7.9-6.3l-2.4 1.4l8 6.2zM763 289.6l-8-6.1l-2.3 1.3l8 6zM760.7 290.8l-8-6l-2.3 1.2l8 6zM758.4 292l-8-6l-2.3 1.3l8 5.9zM743.5 289.6l-8-5.8l-2.3 1.2l7.9 5.8zM741.1 290.8l-7.9-5.8l-2.3 1.2l7.9 5.7zM726.2 288.5l-7.9-5.6l-2.4 1.1l8 5.6zM723.9 289.6l-8-5.6l-2.3 1.1l8 5.6zM709 287.3l-8-5.4l-2.3 1.1l8 5.4zM706.7 288.4l-8-5.4l-2.3 1.1l8 5.4zM691.8 286.2l-8-5.2l-2.3 1l7.9 5.3zM689.4 287.3l-7.9-5.3l-2.3 1.1l7.9 5.2zM674.5 285.1l-7.9-5.1l-2.4 1.1l8 5zM672.2 286.1l-8-5l-2.3 1l8 5zM657.3 284.1l-8-5l-2.3 1l8 4.9zM655 285l-8-4.9l-2.3 1l8 4.9zM640.1 283l-8-4.9l-2.3 1l7.9 4.9zM637.7 284l-7.9-4.9l-2.3 1l7.9 4.8zM622.8 282l-7.9-4.8l-2.3 1l7.9 4.7zM620.5 282.9l-7.9-4.7l-2.4 .9l8 4.7zM618.2 283.8l-8-4.7l-2.3 .9l8 4.7zM605.6 280.9l-8-4.6l-2.3 .9l8 4.6zM603.3 281.8l-8-4.6l-2.3 .9l8 4.6zM601 282.7l-8-4.6l-2.3 .9l7.9 4.6zM588.4 279.9l-8-4.6l-2.3 .9l7.9 4.6zM586 280.8l-7.9-4.6l-2.3 .9l7.9 4.5zM583.7 281.6l-7.9-4.5l-2.3 .9l7.9 4.5zM571.1 278.9l-7.9-4.5l-2.3 .9l7.9 4.4zM568.8 279.7l-7.9-4.4l-2.4 .9l8 4.4zM566.5 280.6l-8-4.4l-2.3 .8l8 4.4zM553.9 277.9l-8-4.4l-2.3 .9l8 4.3zM551.6 278.7l-8-4.3l-2.3 .8l8 4.3zM549.3 279.5l-8-4.3l-2.3 .8l8 4.3zM536.7 276.9l-8-4.3l-2.3 .8l8 4.3zM534.4 277.7l-8-4.3l-2.3 .8l7.9 4.3zM532 278.5l-7.9-4.3l-2.3 .9l7.9 4.2zM519.4 275.9l-7.9-4.3l-2.3 .9l7.9 4.2zM517.1 276.7l-7.9-4.2l-2.4 .8l8 4.2zM514.8 277.5l-8-4.2l-2.3 .8l8 4.1zM502.2 274.9l-8-4.2l-2.3 .8l8 4.2zM499.9 275.7l-8-4.2l-2.3 .8l8 4.1zM497.6 276.4l-8-4.1l-2.3 .8l8 4.1zM485 273.9l-8-4.1l-2.3 .8l8 4.1zM482.7 274.7l-8-4.1l-2.3 .8l7.9 4zM480.3 275.4l-7.9-4l-2.3 .7l7.9 4.1zM478 276.2l-15.9-8.1l-2.3 .8l15.9 8zM467.7 272.9l-7.9-4l-2.3 .8l7.9 4zM465.4 273.7l-7.9-4l-2.4 .7l8 4zM463.1 274.4l-8-4l-2.3 .8l8 4zM460.8 275.2l-8-4l-2.3 .7l8 4zM450.5 271.9l-8-3.9l-2.3 .7l8 4zM448.2 272.7l-8-4l-2.3 .8l8 3.9zM445.9 273.4l-8-3.9l-2.3 .7l8 3.9zM443.6 274.1l-8-3.9l-2.3 .8l7.9 3.9zM433.3 271l-8-4l-2.3 .8l8 3.9zM431 271.7l-8-3.9l-2.3 .7l7.9 3.9zM428.6 272.4l-7.9-3.9l-2.3 .8l7.9 3.8zM426.3 273.1l-7.9-3.8l-2.4 .7l8 3.8zM416 270l-7.9-3.9l-2.3 .8l7.9 3.8zM413.7 270.7l-7.9-3.8l-2.4 .7l8 3.8zM411.4 271.4l-8-3.8l-2.3 .7l8 3.8zM409.1 272.1l-8-3.8l-2.3 .7l8 3.8zM398.8 269l-8-3.8l-2.3 .7l8 3.8zM396.5 269.7l-8-3.8l-2.3 .7l8 3.8zM394.2 270.4l-8-3.8l-2.3 .7l8 3.8zM391.9 271.1l-8-3.8l-2.3 .8l7.9 3.7zM381.6 268.1l-8-3.8l-2.3 .7l8 3.7zM379.3 268.7l-8-3.7l-2.3 .7l7.9 3.7zM376.9 269.4l-7.9-3.7l-2.3 .7l7.9 3.7zM374.6 270.1l-7.9-3.7l-2.4 .7l8 3.7zM364.3 267.1l-7.9-3.7l-2.3 .7l7.9 3.7zM362 267.8l-7.9-3.7l-2.4 .7l8 3.7zM359.7 268.5l-8-3.7l-2.3 .7l8 3.6zM357.4 269.1l-8-3.6l-2.3 .6l8 3.7zM347.1 266.1l-7.9-3.6l-2.4 .6l8 3.7zM344.8 266.8l-8-3.7l-2.3 .7l8 3.7zM342.5 267.5l-8-3.7l-2.3 .7l8 3.6zM340.2 268.1l-8-3.6l-2.3 .7l7.9 3.6zM337.8 268.8l-15.9-7.3l-2.3 .7l15.9 7.3zM327.6 265.8l-8-3.6l-2.3 .7l7.9 3.6zM325.2 266.5l-7.9-3.6l-2.3 .7l7.9 3.6zM322.9 267.2l-7.9-3.6l-2.4 .6l8 3.6zM320.6 267.8l-15.9-7.2l-2.3 .7l15.9 7.2zM310.3 264.9l-7.9-3.6l-2.4 .7l8 3.5zM308 265.5l-8-3.5l-2.3 .6l8 3.6zM305.7 266.2l-8-3.6l-2.3 .7l8 3.5zM303.4 266.8l-15.9-7.1l-2.4 .7l16 7.1zM293.1 263.9l-8-3.5l-2.3 .6l8 3.6zM290.8 264.6l-8-3.6l-2.3 .7l8 3.5zM288.5 265.2l-8-3.5l-2.3 .6l7.9 3.5zM286.1 265.8l-15.9-7l-2.3 .7l15.9 7zM275.9 263l-8-3.5l-2.3 .6l7.9 3.5zM273.5 263.6l-7.9-3.5l-2.3 .6l7.9 3.5zM271.2 264.2l-7.9-3.5l-2.3 .7l7.9 3.5zM268.9 264.9l-15.9-7l-2.3 .6l15.9 7zM258.6 262l-7.9-3.5l-2.3 .7l7.9 3.4zM256.3 262.6l-7.9-3.4l-2.4 .6l8 3.5zM254 263.3l-8-3.5l-2.3 .6l8 3.5zM251.7 263.9l-15.9-6.9l-2.4 .6l16 6.9zM241.4 261.1l-8-3.5l-2.3 .6l8 3.5zM239.1 261.7l-8-3.5l-2.3 .7l8 3.4zM236.8 262.3l-8-3.4l-2.3 .6l7.9 3.4zM234.4 262.9l-15.9-6.8l-2.3 .6l15.9 6.8zM224.2 260.1l-8-3.4l-2.3 .6l7.9 3.4zM221.8 260.7l-7.9-3.4l-2.3 .6l7.9 3.4zM219.5 261.3l-7.9-3.4l-2.3 .6l7.9 3.4zM217.2 261.9l-15.9-6.7l-2.3 .6l15.9 6.8zM206.9 259.2l-7.9-3.4l-2.3 .6l7.9 3.4zM204.6 259.8l-7.9-3.4l-2.4 .6l8 3.4zM202.3 260.4l-8-3.4l-2.3 .6l8 3.4zM200 261l-15.9-6.8l-2.4 .7l16 6.7zM197.7 261.6l-16-6.7l-2.3 .6l15.9 6.7zM187.4 258.8l-8-3.3l-2.3 .6l8 3.3zM185.1 259.4l-8-3.3l-2.3 .6l8 3.3zM182.8 260l-8-3.3l-2.3 .6l7.9 3.3zM180.4 260.6l-7.9-3.3l-2.3 .6l7.9 3.3z"/>
<path fill="#3f72ff" stroke="#3f72ff" d="M834.3 292.9l-8-7.4l-2.3 1.6l7.9 7.4zM831.9 294.5l-7.9-7.4l-2.3 1.6l7.9 7.3zM817 291.7l-7.9-7l-2.4 1.5l8 7zM814.7 293.2l-8-7l-2.3 1.5l8 6.9zM799.8 290.6l-8-6.8l-2.3 1.5l8 6.6zM797.5 291.9l-8-6.6l-2.3 1.4l8 6.6zM782.6 289.4l-8-6.4l-2.3 1.4l7.9 6.3zM780.2 290.7l-7.9-6.3l-2.3 1.3l7.9 6.3zM765.3 288.3l-7.9-6.1l-2.4 1.3l8 6.1zM750.4 286l-8-6l-2.3 1.3l8 6zM748.1 287.3l-8-6l-2.3 1.3l8 5.8zM745.8 288.4l-8-5.8l-2.3 1.2l8 5.8zM733.2 285l-8-5.7l-2.3 1.2l8 5.7zM730.9 286.2l-8-5.7l-2.3 1.2l7.9 5.6zM728.5 287.3l-7.9-5.6l-2.3 1.2l7.9 5.6zM715.9 284l-7.9-5.6l-2.3 1.2l7.9 5.5zM713.6 285.1l-7.9-5.5l-2.4 1.2l8 5.4zM711.3 286.2l-8-5.4l-2.3 1.1l8 5.4zM698.7 283l-7.9-5.4l-2.4 1.2l8 5.3zM696.4 284.1l-8-5.3l-2.3 1.1l8 5.3zM694.1 285.2l-8-5.3l-2.3 1.1l8 5.2zM681.5 282l-8-5.2l-2.3 1.1l8 5.2zM679.2 283.1l-8-5.2l-2.3 1.1l7.9 5.1zM676.8 284.1l-7.9-5.1l-2.3 1l7.9 5.1zM664.2 281.1l-7.9-5.1l-2.3 1l7.9 5.1zM661.9 282.1l-7.9-5.1l-2.3 1.1l7.9 5zM659.6 283.1l-7.9-5l-2.4 1l8 5zM647 280.1l-7.9-5l-2.4 1.1l8 4.9zM644.7 281.1l-8-4.9l-2.3 1l8 4.8zM642.4 282l-8-4.8l-2.3 .9l8 4.9zM629.8 279.1l-8-4.8l-2.3 1l8 4.8zM627.5 280.1l-8-4.8l-2.3 .9l8 4.8zM625.2 281l-8-4.8l-2.3 1l7.9 4.8zM614.9 277.2l-8-4.7l-2.3 .9l8 4.8zM612.6 278.2l-8-4.8l-2.3 1l7.9 4.7zM610.2 279.1l-7.9-4.7l-2.3 .9l7.9 4.7zM607.9 280l-7.9-4.7l-2.4 1l8 4.6zM597.6 276.3l-7.9-4.7l-2.3 1l7.9 4.6zM595.3 277.2l-7.9-4.6l-2.4 .9l8 4.6zM593 278.1l-8-4.6l-2.3 .9l8 4.6zM590.7 279l-8-4.6l-2.3 .9l8 4.6zM580.4 275.3l-8-4.5l-2.3 .9l8 4.5zM578.1 276.2l-8-4.5l-2.3 .9l8 4.5zM575.8 277.1l-8-4.5l-2.3 .9l8 4.5zM573.5 278l-8-4.5l-2.3 .9l7.9 4.5zM563.2 274.4l-8-4.4l-2.3 .9l8 4.4zM560.9 275.3l-8-4.4l-2.3 .9l7.9 4.4zM558.5 276.2l-7.9-4.4l-2.3 .8l7.9 4.4zM556.2 277l-7.9-4.4l-2.4 .9l8 4.4zM545.9 273.5l-7.9-4.4l-2.3 .9l7.9 4.4zM543.6 274.4l-7.9-4.4l-2.4 .9l8 4.3zM541.3 275.2l-8-4.3l-2.3 .8l8 4.3zM539 276l-8-4.3l-2.3 .9l8 4.3zM528.7 272.6l-8-4.3l-2.3 .8l8 4.3zM526.4 273.4l-8-4.3l-2.3 .9l8 4.2zM524.1 274.2l-8-4.2l-2.3 .8l8 4.3zM521.8 275.1l-8-4.3l-2.3 .8l7.9 4.3zM511.5 271.6l-8-4.2l-2.3 .9l8 4.2zM509.2 272.5l-8-4.2l-2.3 .8l7.9 4.2zM506.8 273.3l-7.9-4.2l-2.3 .8l7.9 4.2zM504.5 274.1l-7.9-4.2l-2.4 .8l8 4.2zM494.2 270.7l-7.9-4.1l-2.3 .8l7.9 4.1zM491.9 271.5l-7.9-4.1l-2.4 .8l8 4.1zM489.6 272.3l-8-4.1l-2.3 .8l8 4.1zM487.3 273.1l-8-4.1l-2.3 .8l8 4.1zM477 269.8l-8-4.1l-2.3 .8l8 4.1zM474.7 270.6l-8-4.1l-2.3 .8l8 4.1zM472.4 271.4l-8-4.1l-2.3 .8l8 4zM462.1 268.1l-8-4l-2.3 .8l8 4zM459.8 268.9l-8-4l-2.3 .8l8 4zM457.5 269.7l-8-4l-2.3 .7l7.9 4zM455.1 270.4l-7.9-4l-2.3 .8l7.9 4zM452.8 271.2l-15.9-8l-2.3 .8l15.9 7.9zM442.5 268l-7.9-4l-2.3 .8l7.9 3.9zM440.2 268.7l-7.9-3.9l-2.4 .7l8 4zM437.9 269.5l-8-4l-2.3 .8l8 3.9zM435.6 270.2l-15.9-7.8l-2.3 .7l15.9 7.9zM425.3 267l-7.9-3.9l-2.4 .8l8 3.9zM423 267.8l-8-3.9l-2.3 .7l8 3.9zM420.7 268.5l-8-3.9l-2.3 .8l8 3.9zM418.4 269.3l-16-7.8l-2.3 .8l15.9 7.7zM408.1 266.1l-8-3.8l-2.3 .7l8 3.9zM405.8 266.9l-8-3.9l-2.3 .8l7.9 3.8zM403.4 267.6l-7.9-3.8l-2.3 .7l7.9 3.8zM401.1 268.3l-15.9-7.6l-2.3 .7l15.9 7.6zM390.8 265.2l-7.9-3.8l-2.3 .7l7.9 3.8zM388.5 265.9l-7.9-3.8l-2.4 .8l8 3.7zM386.2 266.6l-8-3.7l-2.3 .7l8 3.7zM383.9 267.3l-15.9-7.5l-2.3 .7l15.9 7.6zM373.6 264.3l-7.9-3.8l-2.4 .8l8 3.7zM371.3 265l-8-3.7l-2.3 .7l8 3.7zM369 265.7l-8-3.7l-2.3 .7l8 3.7zM366.7 266.4l-16-7.4l-2.3 .7l15.9 7.4zM356.4 263.4l-8-3.7l-2.3 .7l8 3.7zM354.1 264.1l-8-3.7l-2.3 .7l7.9 3.7zM351.7 264.8l-7.9-3.7l-2.3 .7l7.9 3.7zM349.4 265.5l-15.9-7.4l-2.3 .7l15.9 7.3zM339.2 262.5l-8-3.7l-2.3 .7l7.9 3.6zM336.8 263.1l-7.9-3.6l-2.3 .7l7.9 3.6zM334.5 263.8l-15.9-7.3l-2.3 .7l15.9 7.3zM332.2 264.5l-15.9-7.3l-2.3 .7l15.9 7.3zM321.9 261.5l-7.9-3.6l-2.4 .7l8 3.6zM319.6 262.2l-8-3.6l-2.3 .7l8 3.6zM317.3 262.9l-15.9-7.2l-2.4 .7l16 7.2zM315 263.6l-16-7.2l-2.3 .6l15.9 7.2zM304.7 260.6l-8-3.6l-2.3 .7l8 3.6zM302.4 261.3l-8-3.6l-2.3 .7l7.9 3.6zM300 262l-15.9-7.2l-2.3 .7l15.9 7.1zM297.7 262.6l-15.9-7.1l-2.3 .7l15.9 7.1zM287.5 259.7l-8-3.5l-2.3 .6l7.9 3.6zM285.1 260.4l-7.9-3.6l-2.3 .7l7.9 3.5zM282.8 261l-15.9-7l-2.3 .6l15.9 7.1zM280.5 261.7l-15.9-7.1l-2.3 .7l15.9 7zM270.2 258.8l-7.9-3.5l-2.4 .6l8 3.6zM267.9 259.5l-8-3.6l-2.3 .7l8 3.5zM265.6 260.1l-15.9-7l-2.4 .6l16 7zM263.3 260.7l-16-7l-2.3 .7l16 7zM253 257.9l-8-3.5l-2.3 .7l8 3.4zM250.7 258.5l-8-3.4l-2.3 .6l8 3.5zM248.4 259.2l-16-7l-2.3 .7l15.9 6.9zM246 259.8l-15.9-6.9l-2.3 .6l15.9 6.9zM235.8 257l-8-3.5l-2.3 .7l7.9 3.4zM233.4 257.6l-7.9-3.4l-2.3 .6l7.9 3.4zM231.1 258.2l-15.9-6.8l-2.3 .6l15.9 6.9zM228.8 258.9l-15.9-6.9l-2.3 .6l15.9 6.9zM218.5 256.1l-7.9-3.5l-2.4 .7l8 3.4zM216.2 256.7l-8-3.4l-2.3 .6l8 3.4zM213.9 257.3l-15.9-6.8l-2.4 .6l16 6.8zM211.6 257.9l-16-6.8l-2.3 .7l16 6.7zM201.3 255.2l-8-3.4l-2.3 .6l8 3.4zM199 255.8l-8-3.4l-2.3 .6l8 3.4zM196.7 256.4l-8-3.4l-2.3 .6l7.9 3.4zM194.3 257l-7.9-3.4l-2.3 .6l7.9 3.4z"/>
<path fill="#3c75ff" stroke="#3c75ff" d="M836.6 291.4l-8-7.6l-2.3 1.7l8 7.4zM821.7 288.7l-8-7.3l-2.3 1.7l7.9 7.1zM819.3 290.2l-7.9-7.1l-2.3 1.6l7.9 7zM804.4 287.7l-7.9-6.9l-2.4 1.6l8 6.8zM802.1 289.2l-8-6.8l-2.3 1.4l8 6.8zM787.2 286.7l-8-6.6l-2.3 1.5l8 6.5zM784.9 288.1l-8-6.5l-2.3 1.4l8 6.4zM770 285.7l-8-6.2l-2.3 1.3l7.9 6.3zM767.6 287.1l-7.9-6.3l-2.3 1.4l7.9 6.1zM755 283.5l-7.9-6.1l-2.3 1.3l7.9 6.1zM752.7 284.8l-7.9-6.1l-2.4 1.3l8 6zM737.8 282.6l-7.9-5.9l-2.4 1.3l8 5.8zM735.5 283.8l-8-5.8l-2.3 1.3l8 5.7zM720.6 281.7l-8-5.7l-2.3 1.2l8 5.7zM718.3 282.9l-8-5.7l-2.3 1.2l7.9 5.6zM703.3 280.8l-7.9-5.5l-2.3 1.2l7.9 5.4zM701 281.9l-7.9-5.4l-2.3 1.1l7.9 5.4zM686.1 279.9l-7.9-5.3l-2.4 1.1l8 5.3zM683.8 281l-8-5.3l-2.3 1.1l8 5.2zM671.2 277.9l-8-5.2l-2.3 1.1l8 5.2zM668.9 279l-8-5.2l-2.3 1.1l8 5.1zM666.6 280l-8-5.1l-2.3 1.1l7.9 5.1zM654 277l-8-5l-2.3 1l8 5.1zM651.7 278.1l-8-5.1l-2.3 1.1l7.9 5zM649.3 279.1l-7.9-5l-2.3 1l7.9 5zM636.7 276.2l-7.9-5l-2.3 1.1l7.9 4.9zM634.4 277.2l-7.9-4.9l-2.4 1l8 4.8zM632.1 278.1l-8-4.8l-2.3 1l8 4.8zM619.5 275.3l-8-4.8l-2.3 1l8 4.7zM617.2 276.2l-8-4.7l-2.3 1l8 4.7zM604.6 273.4l-8-4.7l-2.3 1l8 4.7zM602.3 274.4l-8-4.7l-2.3 1l8 4.6zM600 275.3l-8-4.6l-2.3 .9l7.9 4.7zM587.4 272.6l-8-4.6l-2.3 .9l7.9 4.6zM585 273.5l-7.9-4.6l-2.3 1l7.9 4.5zM582.7 274.4l-7.9-4.5l-2.4 .9l8 4.5zM570.1 271.7l-7.9-4.5l-2.4 .9l8 4.5zM567.8 272.6l-8-4.5l-2.3 1l8 4.4zM565.5 273.5l-8-4.4l-2.3 .9l8 4.4zM552.9 270.9l-8-4.5l-2.3 .9l8 4.5zM550.6 271.8l-8-4.5l-2.3 .9l8 4.4zM548.3 272.6l-8-4.4l-2.3 .9l7.9 4.4zM538 269.1l-8-4.3l-2.3 .9l8 4.3zM535.7 270l-8-4.3l-2.3 .8l7.9 4.4zM533.3 270.9l-7.9-4.4l-2.3 .9l7.9 4.3zM531 271.7l-7.9-4.3l-2.4 .9l8 4.3zM520.7 268.3l-7.9-4.3l-2.3 .9l7.9 4.2zM518.4 269.1l-7.9-4.2l-2.4 .8l8 4.3zM516.1 270l-8-4.3l-2.3 .9l8 4.2zM513.8 270.8l-8-4.2l-2.3 .8l8 4.2zM503.5 267.4l-7.9-4.2l-2.4 .9l8 4.2zM501.2 268.3l-8-4.2l-2.3 .8l8 4.2zM498.9 269.1l-8-4.2l-2.3 .9l8 4.1zM496.6 269.9l-8-4.1l-2.3 .8l7.9 4.1zM486.3 266.6l-8-4.2l-2.3 .9l8 4.1zM484 267.4l-8-4.1l-2.3 .8l7.9 4.1zM481.6 268.2l-7.9-4.1l-2.3 .8l7.9 4.1zM479.3 269l-7.9-4.1l-2.4 .8l8 4.1zM469 265.7l-7.9-4.1l-2.3 .9l7.9 4zM466.7 266.5l-7.9-4l-2.4 .8l8 4zM464.4 267.3l-8-4l-2.3 .8l8 4zM454.1 264.1l-7.9-4.1l-2.3 .8l7.9 4.1zM451.8 264.9l-7.9-4.1l-2.4 .8l8 4.1zM449.5 265.7l-8-4.1l-2.3 .8l8 4zM447.2 266.4l-8-4l-2.3 .8l8 4zM436.9 263.2l-8-4l-2.3 .8l8 4zM434.6 264l-8-4l-2.3 .8l8 4zM432.3 264.8l-8-4l-2.3 .8l7.9 3.9zM429.9 265.5l-7.9-3.9l-2.3 .8l7.9 3.9zM419.7 262.4l-8-3.9l-2.3 .7l8 3.9zM417.4 263.1l-8-3.9l-2.3 .8l7.9 3.9zM415 263.9l-7.9-3.9l-2.3 .8l7.9 3.8zM412.7 264.6l-7.9-3.8l-2.4 .7l8 3.9zM402.4 261.5l-7.9-3.8l-2.3 .7l7.9 3.9zM400.1 262.3l-7.9-3.9l-2.4 .8l8 3.8zM397.8 263l-8-3.8l-2.3 .7l8 3.9zM395.5 263.8l-15.9-7.7l-2.4 .8l16 7.6zM385.2 260.7l-8-3.8l-2.3 .7l8 3.8zM382.9 261.4l-8-3.8l-2.3 .7l8 3.8zM380.6 262.1l-8-3.8l-2.3 .8l7.9 3.8zM378.2 262.9l-15.9-7.6l-2.3 .7l15.9 7.6zM368 259.8l-8-3.8l-2.3 .8l8 3.7zM365.7 260.5l-8-3.7l-2.3 .7l7.9 3.8zM363.3 261.3l-7.9-3.8l-2.3 .7l7.9 3.8zM361 262l-15.9-7.5l-2.3 .7l15.9 7.5zM350.7 259l-7.9-3.8l-2.3 .7l7.9 3.8zM348.4 259.7l-7.9-3.8l-2.4 .8l8 3.7zM346.1 260.4l-8-3.7l-2.3 .7l8 3.7zM343.8 261.1l-15.9-7.4l-2.4 .7l16 7.4zM333.5 258.1l-8-3.7l-2.3 .7l8 3.7zM331.2 258.8l-8-3.7l-2.3 .7l8 3.7zM328.9 259.5l-8-3.7l-2.3 .7l8 3.7zM318.6 256.5l-8-3.6l-2.3 .7l8 3.6zM316.3 257.2l-8-3.6l-2.3 .7l8 3.6zM314 257.9l-8-3.6l-2.3 .7l7.9 3.6zM311.6 258.6l-15.9-7.2l-2.3 .7l15.9 7.2zM301.4 255.7l-8-3.6l-2.3 .7l7.9 3.6zM299 256.4l-7.9-3.6l-2.3 .6l7.9 3.6zM296.7 257l-7.9-3.6l-2.4 .7l8 3.6zM294.4 257.7l-15.9-7.2l-2.3 .7l15.9 7.2zM284.1 254.8l-7.9-3.6l-2.4 .7l8 3.6zM281.8 255.5l-8-3.6l-2.3 .7l8 3.6zM279.5 256.2l-8-3.6l-2.3 .7l8 3.5zM277.2 256.8l-16-7.1l-2.3 .7l16 7.1zM266.9 254l-8-3.6l-2.3 .7l8 3.5zM264.6 254.6l-8-3.5l-2.3 .7l8 3.5zM262.3 255.3l-8-3.5l-2.3 .6l7.9 3.5zM259.9 255.9l-15.9-7l-2.3 .7l15.9 7zM249.7 253.1l-8-3.5l-2.3 .7l7.9 3.4zM247.3 253.7l-7.9-3.4l-2.3 .6l7.9 3.5zM245 254.4l-15.9-7l-2.3 .7l15.9 7zM242.7 255.1l-15.9-7l-2.3 .7l15.9 6.9zM232.4 252.2l-7.9-3.4l-2.4 .6l8 3.5zM230.1 252.9l-8-3.5l-2.3 .7l8 3.4zM227.8 253.5l-15.9-6.9l-2.3 .7l15.9 6.9zM225.5 254.2l-15.9-6.9l-2.4 .6l16 6.9zM215.2 251.4l-8-3.5l-2.3 .7l8 3.4zM212.9 252l-8-3.4l-2.3 .6l8 3.4zM210.6 252.6l-8-3.4l-2.3 .7l7.9 3.4zM208.2 253.3l-7.9-3.4l-2.3 .6l7.9 3.4z"/>
<path fill="#3979ff" stroke="#3979ff" d="M824 287.1l-8-7.3l-2.3 1.6l8 7.3zM806.7 286.2l-7.9-7l-2.3 1.6l7.9 6.9zM791.8 283.8l-7.9-6.7l-2.3 1.6l7.9 6.6zM789.5 285.3l-7.9-6.6l-2.4 1.4l8 6.6zM774.6 283l-8-6.4l-2.3 1.4l8 6.4zM772.3 284.4l-8-6.4l-2.3 1.5l8 6.2zM757.4 282.2l-8-6.2l-2.3 1.4l7.9 6.1zM742.4 280l-7.9-5.9l-2.3 1.3l7.9 5.9zM740.1 281.3l-7.9-5.9l-2.3 1.3l7.9 5.9zM725.2 279.3l-7.9-5.8l-2.4 1.3l8 5.7zM722.9 280.5l-8-5.7l-2.3 1.2l8 5.7zM708 278.4l-8-5.5l-2.3 1.2l8 5.5zM705.7 279.6l-8-5.5l-2.3 1.2l7.9 5.5zM693.1 276.5l-8-5.5l-2.3 1.2l8 5.4zM690.8 277.6l-8-5.4l-2.3 1.2l7.9 5.4zM688.4 278.8l-7.9-5.4l-2.3 1.2l7.9 5.3zM675.8 275.7l-7.9-5.3l-2.3 1.2l7.9 5.2zM673.5 276.8l-7.9-5.2l-2.4 1.1l8 5.2zM658.6 274.9l-8-5.1l-2.3 1.1l8 5.1zM656.3 276l-8-5.1l-2.3 1.1l8 5zM643.7 273l-8-5l-2.3 1.1l8 5zM641.4 274.1l-8-5l-2.3 1.1l8 4.9zM639.1 275.1l-8-4.9l-2.3 1l7.9 5zM626.5 272.3l-8-4.9l-2.3 1l7.9 4.9zM624.1 273.3l-7.9-4.9l-2.3 1.1l7.9 4.8zM621.8 274.3l-7.9-4.8l-2.4 1l8 4.8zM609.2 271.5l-7.9-4.8l-2.4 1l8 4.8zM606.9 272.5l-8-4.8l-2.3 1l8 4.7zM594.3 269.7l-8-4.7l-2.3 1l8 4.7zM592 270.7l-8-4.7l-2.3 1l8 4.6zM589.7 271.6l-8-4.6l-2.3 1l8 4.6zM577.1 268.9l-8-4.6l-2.3 1l8 4.6zM574.8 269.9l-8-4.6l-2.3 1l7.9 4.5zM572.4 270.8l-7.9-4.5l-2.3 .9l7.9 4.5zM559.8 268.1l-7.9-4.5l-2.3 1l7.9 4.5zM557.5 269.1l-7.9-4.5l-2.4 .9l8 4.5zM555.2 270l-8-4.5l-2.3 .9l8 4.5zM544.9 266.4l-7.9-4.4l-2.4 .9l8 4.4zM542.6 267.3l-8-4.4l-2.3 1l8 4.3zM540.3 268.2l-8-4.3l-2.3 .9l8 4.3zM527.7 265.7l-8-4.4l-2.3 .9l8 4.3zM525.4 266.5l-8-4.3l-2.3 .9l8 4.3zM523.1 267.4l-8-4.3l-2.3 .9l7.9 4.3zM510.5 264.9l-8-4.3l-2.3 .9l7.9 4.2zM508.1 265.7l-7.9-4.2l-2.3 .9l7.9 4.2zM505.8 266.6l-7.9-4.2l-2.3 .8l7.9 4.2zM495.6 263.2l-8-4.2l-2.3 .9l7.9 4.2zM493.2 264.1l-7.9-4.2l-2.3 .8l7.9 4.2zM490.9 264.9l-7.9-4.2l-2.4 .9l8 4.2zM488.6 265.8l-8-4.2l-2.3 .8l8 4.2zM478.3 262.4l-7.9-4.1l-2.4 .8l8 4.2zM476 263.3l-8-4.2l-2.3 .9l8 4.1zM473.7 264.1l-8-4.1l-2.3 .8l8 4.1zM471.4 264.9l-8-4.1l-2.3 .8l7.9 4.1zM461.1 261.6l-8-4l-2.3 .8l8 4.1zM458.8 262.5l-8-4.1l-2.3 .8l7.9 4.1zM456.4 263.3l-7.9-4.1l-2.3 .8l7.9 4.1zM446.2 260l-8-4l-2.3 .8l8 4zM443.9 260.8l-8-4l-2.3 .8l7.9 4zM441.5 261.6l-7.9-4l-2.3 .9l7.9 3.9zM439.2 262.4l-7.9-3.9l-2.4 .7l8 4zM428.9 259.2l-7.9-3.9l-2.3 .8l7.9 3.9zM426.6 260l-7.9-3.9l-2.4 .8l8 3.9zM424.3 260.8l-8-3.9l-2.3 .8l8 3.9zM422 261.6l-8-3.9l-2.3 .8l8 3.9zM411.7 258.5l-8-4l-2.3 .8l8 3.9zM409.4 259.2l-8-3.9l-2.3 .8l8 3.9zM407.1 260l-8-3.9l-2.3 .8l8 3.9zM404.8 260.8l-16-7.8l-2.3 .8l15.9 7.7zM394.5 257.7l-8-3.9l-2.3 .8l8 3.8zM392.2 258.4l-8-3.8l-2.3 .7l7.9 3.9zM389.8 259.2l-7.9-3.9l-2.3 .8l7.9 3.8zM379.6 256.1l-8-3.8l-2.3 .7l7.9 3.9zM377.2 256.9l-7.9-3.9l-2.3 .8l7.9 3.8zM374.9 257.6l-7.9-3.8l-2.4 .7l8 3.8zM372.6 258.3l-8-3.8l-2.3 .8l8 3.8zM362.3 255.3l-7.9-3.8l-2.4 .8l8 3.7zM360 256l-8-3.7l-2.3 .7l8 3.8zM357.7 256.8l-8-3.8l-2.3 .8l8 3.7zM355.4 257.5l-16-7.5l-2.3 .8l16 7.4zM345.1 254.5l-8-3.7l-2.3 .7l8 3.7zM342.8 255.2l-8-3.7l-2.3 .7l8 3.7zM340.5 255.9l-8-3.7l-2.3 .8l7.9 3.7zM338.1 256.7l-15.9-7.4l-2.3 .7l15.9 7.4zM327.9 253.7l-8-3.7l-2.3 .7l7.9 3.7zM325.5 254.4l-7.9-3.7l-2.3 .7l7.9 3.7zM323.2 255.1l-7.9-3.7l-2.4 .8l8 3.6zM320.9 255.8l-15.9-7.3l-2.3 .7l15.9 7.3zM310.6 252.9l-7.9-3.7l-2.4 .7l8 3.7zM308.3 253.6l-8-3.7l-2.3 .8l8 3.6zM306 254.3l-15.9-7.3l-2.3 .7l15.9 7.3zM295.7 251.4l-7.9-3.7l-2.4 .7l8 3.7zM293.4 252.1l-8-3.7l-2.3 .8l8 3.6zM291.1 252.8l-8-3.6l-2.3 .7l8 3.5zM288.8 253.4l-16-7.1l-2.3 .7l15.9 7.1zM278.5 250.5l-8-3.5l-2.3 .7l8 3.5zM276.2 251.2l-8-3.5l-2.3 .7l7.9 3.5zM273.8 251.9l-7.9-3.5l-2.3 .6l7.9 3.6zM271.5 252.6l-15.9-7.1l-2.3 .7l15.9 7.1zM261.2 249.7l-7.9-3.5l-2.3 .7l7.9 3.5zM258.9 250.4l-7.9-3.5l-2.4 .7l8 3.5zM256.6 251.1l-15.9-7.1l-2.3 .7l15.9 7.1zM254.3 251.8l-15.9-7.1l-2.3 .7l15.9 7zM244 248.9l-7.9-3.5l-2.4 .7l8 3.5zM241.7 249.6l-8-3.5l-2.3 .7l8 3.5zM239.4 250.3l-15.9-7l-2.4 .6l16 7zM229.1 247.4l-8-3.5l-2.3 .7l8 3.5zM226.8 248.1l-8-3.5l-2.3 .7l8 3.5zM224.5 248.8l-8-3.5l-2.3 .6l7.9 3.5zM222.1 249.4l-7.9-3.5l-2.3 .7l7.9 3.5z"/>
<path fill="#367cff" stroke="#367cff" d="M826.3 285.5l-8-7.5l-2.3 1.8l8 7.3zM811.4 283.1l-8-7.2l-2.3 1.7l8 7.1zM809.1 284.7l-8-7.1l-2.3 1.6l7.9 7zM794.1 282.4l-7.9-6.9l-2.3 1.6l7.9 6.7zM779.2 280.1l-7.9-6.5l-2.3 1.5l7.9 6.5zM776.9 281.6l-7.9-6.5l-2.4 1.5l8 6.4zM762 279.5l-8-6.3l-2.3 1.4l8 6.2zM759.7 280.8l-8-6.2l-2.3 1.4l8 6.2zM747.1 277.4l-8-6.1l-2.3 1.4l8 6zM744.8 278.7l-8-6l-2.3 1.4l7.9 5.9zM729.9 276.7l-8-5.8l-2.3 1.3l7.9 5.8zM727.5 278l-7.9-5.8l-2.3 1.3l7.9 5.8zM712.6 276l-7.9-5.6l-2.4 1.2l8 5.6zM710.3 277.2l-8-5.6l-2.3 1.3l8 5.5zM697.7 274.1l-8-5.5l-2.3 1.2l8 5.5zM695.4 275.3l-8-5.5l-2.3 1.2l8 5.5zM680.5 273.4l-8-5.3l-2.3 1.2l8 5.3zM678.2 274.6l-8-5.3l-2.3 1.1l7.9 5.3zM665.6 271.6l-8-5.3l-2.3 1.2l7.9 5.2zM663.2 272.7l-7.9-5.2l-2.3 1.2l7.9 5.1zM660.9 273.8l-7.9-5.1l-2.4 1.1l8 5.1zM648.3 270.9l-7.9-5.1l-2.4 1.1l8 5.1zM646 272l-8-5.1l-2.3 1.1l8 5zM633.4 269.1l-8-5l-2.3 1.1l8 5zM631.1 270.2l-8-5l-2.3 1.1l8 4.9zM628.8 271.2l-8-4.9l-2.3 1.1l8 4.9zM616.2 268.4l-8-4.8l-2.3 1l8 4.9zM613.9 269.5l-8-4.9l-2.3 1.1l7.9 4.8zM611.5 270.5l-7.9-4.8l-2.3 1l7.9 4.8zM598.9 267.7l-7.9-4.7l-2.3 1l7.9 4.7zM596.6 268.7l-7.9-4.7l-2.4 1l8 4.7zM584 266l-7.9-4.7l-2.3 1.1l7.9 4.6zM581.7 267l-7.9-4.6l-2.4 1l8 4.6zM579.4 268l-8-4.6l-2.3 .9l8 4.6zM566.8 265.3l-8-4.6l-2.3 1l8 4.6zM564.5 266.3l-8-4.6l-2.3 1l8 4.5zM562.2 267.2l-8-4.5l-2.3 .9l7.9 4.5zM551.9 263.6l-8-4.5l-2.3 1l8 4.5zM549.6 264.6l-8-4.5l-2.3 1l7.9 4.4zM547.2 265.5l-7.9-4.4l-2.3 .9l7.9 4.4zM534.6 262.9l-7.9-4.4l-2.3 1l7.9 4.4zM532.3 263.9l-7.9-4.4l-2.3 .9l7.9 4.4zM530 264.8l-7.9-4.4l-2.4 .9l8 4.4zM519.7 261.3l-7.9-4.3l-2.3 .9l7.9 4.3zM517.4 262.2l-7.9-4.3l-2.4 .9l8 4.3zM515.1 263.1l-8-4.3l-2.3 .9l8 4.3zM512.8 264l-8-4.3l-2.3 .9l8 4.3zM502.5 260.6l-8-4.3l-2.3 .9l8 4.3zM500.2 261.5l-8-4.3l-2.3 .9l8 4.3zM497.9 262.4l-8-4.3l-2.3 .9l8 4.2zM485.3 259.9l-8-4.2l-2.3 .9l8 4.1zM483 260.7l-8-4.1l-2.3 .8l7.9 4.2zM480.6 261.6l-7.9-4.2l-2.3 .9l7.9 4.1zM470.4 258.3l-8-4.2l-2.3 .9l7.9 4.1zM468 259.1l-7.9-4.1l-2.3 .9l7.9 4.1zM465.7 260l-7.9-4.1l-2.4 .8l8 4.1zM463.4 260.8l-8-4.1l-2.3 .9l8 4zM453.1 257.6l-7.9-4.1l-2.4 .8l8 4.1zM450.8 258.4l-8-4.1l-2.3 .9l8 4zM448.5 259.2l-8-4l-2.3 .8l8 4zM438.2 256l-8-4l-2.3 .8l8 4zM435.9 256.8l-8-4l-2.3 .8l8 4zM433.6 257.6l-8-4l-2.3 .9l8 4zM431.3 258.5l-8-4l-2.3 .8l7.9 3.9zM421 255.3l-8-4l-2.3 .8l8 4zM418.7 256.1l-8-4l-2.3 .8l7.9 4zM416.3 256.9l-7.9-4l-2.3 .8l7.9 4zM414 257.7l-15.9-7.9l-2.3 .8l15.9 7.9zM403.7 254.5l-7.9-3.9l-2.3 .8l7.9 3.9zM401.4 255.3l-7.9-3.9l-2.4 .8l8 3.9zM399.1 256.1l-8-3.9l-2.3 .8l8 3.9zM388.8 253l-7.9-3.9l-2.4 .8l8 3.9zM386.5 253.8l-8-3.9l-2.3 .8l8 3.9zM384.2 254.6l-8-3.9l-2.3 .8l8 3.8zM381.9 255.3l-8-3.8l-2.3 .8l8 3.8zM371.6 252.3l-8-3.9l-2.3 .8l8 3.8zM369.3 253l-8-3.8l-2.3 .8l8 3.8zM367 253.8l-8-3.8l-2.3 .8l7.9 3.7zM364.6 254.5l-15.9-7.5l-2.3 .7l15.9 7.6zM354.4 251.5l-8-3.8l-2.3 .8l7.9 3.8zM352 252.3l-7.9-3.8l-2.3 .8l7.9 3.7zM349.7 253l-7.9-3.7l-2.4 .7l8 3.8zM339.4 250l-7.9-3.7l-2.3 .7l7.9 3.8zM337.1 250.8l-7.9-3.8l-2.4 .8l8 3.7zM334.8 251.5l-8-3.7l-2.3 .7l8 3.7zM332.5 252.2l-15.9-7.4l-2.3 .8l15.9 7.4zM322.2 249.3l-7.9-3.7l-2.4 .7l8 3.7zM319.9 250l-8-3.7l-2.3 .7l8 3.7zM317.6 250.7l-8-3.7l-2.3 .8l8 3.6zM315.3 251.4l-16-7.3l-2.3 .7l15.9 7.4zM305 248.5l-8-3.7l-2.3 .8l8 3.6zM302.7 249.2l-8-3.6l-2.3 .7l7.9 3.6zM300.3 249.9l-15.9-7.2l-2.3 .7l15.9 7.3zM290.1 247l-8-3.6l-2.3 .7l8 3.6zM287.8 247.7l-8-3.6l-2.3 .7l7.9 3.6zM285.4 248.4l-7.9-3.6l-2.3 .7l7.9 3.7zM283.1 249.2l-15.9-7.3l-2.3 .8l15.9 7.2zM272.8 246.3l-7.9-3.6l-2.3 .7l7.9 3.6zM270.5 247l-7.9-3.6l-2.4 .7l8 3.6zM268.2 247.7l-8-3.6l-2.3 .7l8 3.6zM265.9 248.4l-15.9-7.2l-2.4 .7l16 7.1zM255.6 245.5l-8-3.6l-2.3 .7l8 3.6zM253.3 246.2l-8-3.6l-2.3 .7l8 3.6zM251 246.9l-16-7.1l-2.3 .7l15.9 7.1zM240.7 244l-8-3.5l-2.3 .7l8 3.5zM238.4 244.7l-8-3.5l-2.3 .7l8 3.5zM236.1 245.4l-8-3.5l-2.3 .7l7.9 3.5zM233.7 246.1l-7.9-3.5l-2.3 .7l7.9 3.5z"/>
<path fill="#3380ff" stroke="#3380ff" d="M828.6 283.8l-8-7.6l-2.3 1.8l8 7.5zM813.7 281.4l-8-7.2l-2.3 1.7l8 7.2zM798.8 279.2l-8-6.9l-2.3 1.6l8 6.9zM796.5 280.8l-8-6.9l-2.3 1.6l7.9 6.9zM781.6 278.7l-8-6.7l-2.3 1.6l7.9 6.5zM766.6 276.6l-7.9-6.4l-2.3 1.5l7.9 6.3zM764.3 278l-7.9-6.3l-2.4 1.5l8 6.3zM749.4 276l-8-6.1l-2.3 1.4l8 6.1zM734.5 274.1l-8-6l-2.3 1.4l8 5.9zM732.2 275.4l-8-5.9l-2.3 1.4l8 5.8zM717.3 273.5l-8-5.8l-2.3 1.4l7.9 5.7zM714.9 274.8l-7.9-5.7l-2.3 1.3l7.9 5.6zM702.3 271.6l-7.9-5.6l-2.3 1.3l7.9 5.6zM700 272.9l-7.9-5.6l-2.4 1.3l8 5.5zM685.1 271l-8-5.4l-2.3 1.2l8 5.4zM682.8 272.2l-8-5.4l-2.3 1.3l8 5.3zM670.2 269.3l-8-5.4l-2.3 1.3l8 5.2zM667.9 270.4l-8-5.2l-2.3 1.1l8 5.3zM655.3 267.5l-8-5.2l-2.3 1.2l8 5.2zM653 268.7l-8-5.2l-2.3 1.2l7.9 5.1zM650.6 269.8l-7.9-5.1l-2.3 1.1l7.9 5.1zM638 266.9l-7.9-5l-2.3 1.1l7.9 5zM635.7 268l-7.9-5l-2.4 1.1l8 5zM623.1 265.2l-7.9-4.9l-2.4 1.1l8 4.9zM620.8 266.3l-8-4.9l-2.3 1.1l8 4.9zM618.5 267.4l-8-4.9l-2.3 1.1l8 4.8zM605.9 264.6l-8-4.8l-2.3 1.1l8 4.8zM603.6 265.7l-8-4.8l-2.3 1l8 4.8zM601.3 266.7l-8-4.8l-2.3 1.1l7.9 4.7zM591 263l-8-4.8l-2.3 1.1l8 4.7zM588.7 264l-8-4.7l-2.3 1l7.9 4.7zM586.3 265l-7.9-4.7l-2.3 1l7.9 4.7zM573.8 262.4l-8-4.7l-2.3 1l7.9 4.7zM571.4 263.4l-7.9-4.7l-2.3 1l7.9 4.6zM569.1 264.3l-7.9-4.6l-2.4 1l8 4.6zM558.8 260.7l-7.9-4.5l-2.3 1l7.9 4.5zM556.5 261.7l-7.9-4.5l-2.4 1l8 4.5zM554.2 262.7l-8-4.5l-2.3 .9l8 4.5zM541.6 260.1l-8-4.5l-2.3 1l8 4.5zM539.3 261.1l-8-4.5l-2.3 1l8 4.4zM537 262l-8-4.4l-2.3 .9l7.9 4.4zM526.7 258.5l-8-4.4l-2.3 1l8 4.4zM524.4 259.5l-8-4.4l-2.3 .9l8 4.4zM522.1 260.4l-8-4.4l-2.3 1l7.9 4.3zM509.5 257.9l-8-4.3l-2.3 .9l7.9 4.3zM507.1 258.8l-7.9-4.3l-2.3 .9l7.9 4.3zM504.8 259.7l-7.9-4.3l-2.4 .9l8 4.3zM494.5 256.3l-7.9-4.2l-2.3 .9l7.9 4.2zM492.2 257.2l-7.9-4.2l-2.4 .9l8 4.2zM489.9 258.1l-8-4.2l-2.3 .9l8 4.2zM487.6 259l-8-4.2l-2.3 .9l8 4.2zM477.3 255.7l-8-4.2l-2.3 .9l8 4.2zM475 256.6l-8-4.2l-2.3 .9l8 4.1zM472.7 257.4l-8-4.1l-2.3 .8l8 4.2zM462.4 254.1l-8-4.1l-2.3 .9l8 4.1zM460.1 255l-8-4.1l-2.3 .9l8 4.1zM457.8 255.9l-8-4.1l-2.3 .8l7.9 4.1zM455.4 256.7l-7.9-4.1l-2.3 .9l7.9 4.1zM445.2 253.5l-8-4.1l-2.3 .9l7.9 4zM442.8 254.3l-7.9-4l-2.3 .8l7.9 4.1zM440.5 255.2l-7.9-4.1l-2.4 .9l8 4zM430.2 252l-7.9-4.1l-2.3 .9l7.9 4zM427.9 252.8l-7.9-4l-2.4 .8l8 4zM425.6 253.6l-8-4l-2.3 .9l8 4zM423.3 254.5l-8-4l-2.3 .8l8 4zM413 251.3l-8-4l-2.3 .9l8 3.9zM410.7 252.1l-8-3.9l-2.3 .8l8 3.9zM408.4 252.9l-8-3.9l-2.3 .8l8 3.9zM398.1 249.8l-8-3.9l-2.3 .8l8 3.9zM395.8 250.6l-8-3.9l-2.3 .8l8 3.9zM393.5 251.4l-8-3.9l-2.3 .8l7.9 3.9zM391.1 252.2l-7.9-3.9l-2.3 .8l7.9 3.9zM380.9 249.1l-8-3.9l-2.3 .9l7.9 3.8zM378.5 249.9l-7.9-3.8l-2.3 .8l7.9 3.8zM376.2 250.7l-7.9-3.8l-2.3 .8l7.9 3.8zM373.9 251.5l-15.9-7.7l-2.3 .8l15.9 7.7zM363.6 248.4l-7.9-3.8l-2.3 .8l7.9 3.8zM361.3 249.2l-7.9-3.8l-2.4 .8l8 3.8zM359 250l-8-3.8l-2.3 .8l8 3.8zM348.7 247l-7.9-3.8l-2.4 .8l8 3.7zM346.4 247.7l-8-3.7l-2.3 .7l8 3.8zM344.1 248.5l-8-3.8l-2.3 .8l8 3.8zM341.8 249.3l-16-7.6l-2.3 .8l15.9 7.5zM331.5 246.3l-8-3.8l-2.3 .8l8 3.7zM329.2 247l-8-3.7l-2.3 .7l7.9 3.8zM326.8 247.8l-7.9-3.8l-2.3 .8l7.9 3.7zM316.6 244.8l-8-3.7l-2.3 .8l8 3.7zM314.3 245.6l-8-3.7l-2.3 .7l7.9 3.7zM311.9 246.3l-7.9-3.7l-2.3 .8l7.9 3.6zM309.6 247l-15.9-7.3l-2.3 .7l15.9 7.4zM299.3 244.1l-7.9-3.7l-2.3 .8l7.9 3.6zM297 244.8l-7.9-3.6l-2.4 .7l8 3.7zM294.7 245.6l-15.9-7.3l-2.3 .7l15.9 7.3zM284.4 242.7l-7.9-3.7l-2.4 .8l8 3.6zM282.1 243.4l-8-3.6l-2.3 .7l8 3.6zM279.8 244.1l-8-3.6l-2.3 .7l8 3.6zM277.5 244.8l-16-7.2l-2.3 .7l16 7.2zM267.2 241.9l-8-3.6l-2.3 .8l8 3.6zM264.9 242.7l-8-3.6l-2.3 .7l8 3.6zM262.6 243.4l-16-7.2l-2.3 .7l15.9 7.2zM260.2 244.1l-15.9-7.2l-2.3 .8l15.9 7.1zM250 241.2l-8-3.5l-2.3 .7l7.9 3.5zM247.6 241.9l-7.9-3.5l-2.3 .7l7.9 3.5zM245.3 242.6l-7.9-3.5l-2.4 .7l8 3.5z"/>
<path fill="#3283ff" stroke="#3283ff" d="M818.3 278l-7.9-7.5l-2.3 1.9l7.9 7.4zM816 279.8l-7.9-7.4l-2.4 1.8l8 7.2zM801.1 277.6l-8-7.1l-2.3 1.8l8 6.9zM786.2 275.5l-8-6.8l-2.3 1.7l8 6.7zM783.9 277.1l-8-6.7l-2.3 1.6l8 6.7zM769 275.1l-8-6.5l-2.3 1.6l7.9 6.4zM754 273.2l-7.9-6.3l-2.3 1.5l7.9 6.2zM751.7 274.6l-7.9-6.2l-2.4 1.5l8 6.1zM739.1 271.3l-7.9-6.1l-2.4 1.5l8 6zM736.8 272.7l-8-6l-2.3 1.4l8 6zM721.9 270.9l-8-5.9l-2.3 1.4l8 5.8zM719.6 272.2l-8-5.8l-2.3 1.3l8 5.8zM707 269.1l-8-5.7l-2.3 1.3l8 5.7zM704.7 270.4l-8-5.7l-2.3 1.3l7.9 5.6zM692.1 267.3l-8-5.5l-2.3 1.3l7.9 5.5zM689.7 268.6l-7.9-5.5l-2.3 1.2l7.9 5.5zM687.4 269.8l-7.9-5.5l-2.4 1.3l8 5.4zM674.8 266.8l-7.9-5.3l-2.4 1.2l8 5.4zM672.5 268.1l-8-5.4l-2.3 1.2l8 5.4zM659.9 265.2l-7.9-5.3l-2.4 1.2l8 5.2zM657.6 266.3l-8-5.2l-2.3 1.2l8 5.2zM642.7 264.7l-8-5.2l-2.3 1.2l8 5.1zM640.4 265.8l-8-5.1l-2.3 1.2l7.9 5zM627.8 263l-8-5l-2.3 1.1l7.9 5zM625.4 264.1l-7.9-5l-2.3 1.2l7.9 4.9zM612.8 261.4l-7.9-4.9l-2.3 1.1l7.9 4.9zM610.5 262.5l-7.9-4.9l-2.3 1.1l7.9 4.9zM608.2 263.6l-7.9-4.9l-2.4 1.1l8 4.8zM595.6 260.9l-7.9-4.8l-2.4 1.1l8 4.7zM593.3 261.9l-8-4.7l-2.3 1l8 4.8zM580.7 259.3l-8-4.7l-2.3 1l8 4.7zM578.4 260.3l-8-4.7l-2.3 1.1l8 4.6zM576.1 261.3l-8-4.6l-2.3 1l8 4.7zM563.5 258.7l-8-4.6l-2.3 1.1l8 4.5zM561.2 259.7l-8-4.5l-2.3 1l7.9 4.5zM548.6 257.2l-8-4.6l-2.3 1l7.9 4.6zM546.2 258.2l-7.9-4.6l-2.3 1l7.9 4.5zM543.9 259.1l-7.9-4.5l-2.4 1l8 4.5zM533.6 255.6l-7.9-4.4l-2.3 1l7.9 4.4zM531.3 256.6l-7.9-4.4l-2.4 .9l8 4.5zM529 257.6l-8-4.5l-2.3 1l8 4.4zM516.4 255.1l-8-4.4l-2.3 1l8 4.3zM514.1 256l-8-4.3l-2.3 .9l8 4.4zM511.8 257l-8-4.4l-2.3 1l8 4.3zM501.5 253.6l-8-4.4l-2.3 1l8 4.3zM499.2 254.5l-8-4.3l-2.3 .9l8 4.3zM496.9 255.4l-8-4.3l-2.3 1l7.9 4.2zM484.3 253l-8-4.3l-2.3 1l7.9 4.2zM481.9 253.9l-7.9-4.2l-2.3 .9l7.9 4.2zM479.6 254.8l-7.9-4.2l-2.4 .9l8 4.2zM469.3 251.5l-7.9-4.2l-2.3 .9l7.9 4.2zM467 252.4l-7.9-4.2l-2.4 .9l8 4.2zM464.7 253.3l-8-4.2l-2.3 .9l8 4.1zM454.4 250l-7.9-4.1l-2.3 .9l7.9 4.1zM452.1 250.9l-7.9-4.1l-2.4 .8l8 4.2zM449.8 251.8l-8-4.2l-2.3 .9l8 4.1zM447.5 252.6l-8-4.1l-2.3 .9l8 4.1zM437.2 249.4l-8-4.1l-2.3 .9l8 4.1zM434.9 250.3l-8-4.1l-2.3 .9l8 4zM432.6 251.1l-8-4l-2.3 .8l7.9 4.1zM422.3 247.9l-8-4l-2.3 .9l8 4zM420 248.8l-8-4l-2.3 .8l7.9 4zM417.6 249.6l-7.9-4l-2.3 .9l7.9 4zM415.3 250.5l-15.9-8l-2.3 .8l15.9 8zM405 247.3l-7.9-4l-2.3 .9l7.9 4zM402.7 248.2l-7.9-4l-2.3 .8l7.9 4zM400.4 249l-7.9-4l-2.4 .9l8 3.9zM390.1 245.9l-7.9-4l-2.3 .9l7.9 3.9zM387.8 246.7l-7.9-3.9l-2.4 .8l8 3.9zM385.5 247.5l-8-3.9l-2.3 .8l8 3.9zM383.2 248.3l-15.9-7.8l-2.4 .9l16 7.7zM372.9 245.2l-8-3.8l-2.3 .8l8 3.9zM370.6 246.1l-8-3.9l-2.3 .8l8 3.9zM368.3 246.9l-8-3.9l-2.3 .8l8 3.9zM358 243.8l-8-3.8l-2.3 .8l8 3.8zM355.7 244.6l-8-3.8l-2.3 .8l8 3.8zM353.4 245.4l-8-3.8l-2.3 .8l7.9 3.8zM351 246.2l-15.9-7.6l-2.3 .8l15.9 7.6zM340.8 243.2l-8-3.8l-2.3 .8l7.9 3.8zM338.4 244l-7.9-3.8l-2.3 .8l7.9 3.7zM336.1 244.7l-15.9-7.5l-2.3 .8l15.9 7.5zM325.8 241.7l-7.9-3.7l-2.3 .8l7.9 3.7zM323.5 242.5l-7.9-3.7l-2.4 .8l8 3.7zM321.2 243.3l-8-3.7l-2.3 .7l8 3.7zM318.9 244l-15.9-7.4l-2.4 .8l16 7.4zM308.6 241.1l-8-3.7l-2.3 .8l8 3.7zM306.3 241.9l-8-3.7l-2.3 .7l8 3.7zM304 242.6l-16-7.4l-2.3 .8l16 7.4zM293.7 239.7l-8-3.7l-2.3 .8l8 3.6zM291.4 240.4l-8-3.6l-2.3 .7l8 3.7zM289.1 241.2l-8-3.7l-2.3 .8l7.9 3.6zM278.8 238.3l-8-3.7l-2.3 .8l8 3.6zM276.5 239l-8-3.6l-2.3 .7l7.9 3.7zM274.1 239.8l-7.9-3.7l-2.3 .8l7.9 3.6zM271.8 240.5l-15.9-7.3l-2.3 .8l15.9 7.2zM261.5 237.6l-7.9-3.6l-2.3 .7l7.9 3.6zM259.2 238.3l-7.9-3.6l-2.4 .8l8 3.6zM256.9 239.1l-8-3.6l-2.3 .7l8 3.6z"/>
<path fill="#3087ff" stroke="#3087ff" d="M820.6 276.2l-7.9-7.6l-2.3 1.9l7.9 7.5zM805.7 274.2l-7.9-7.3l-2.3 1.9l7.9 7.1zM803.4 275.9l-7.9-7.1l-2.4 1.7l8 7.1zM788.5 273.9l-8-6.9l-2.3 1.7l8 6.8zM773.6 272l-8-6.6l-2.3 1.6l8 6.6zM771.3 273.6l-8-6.6l-2.3 1.6l8 6.5zM758.7 270.2l-8-6.4l-2.3 1.5l8 6.4zM756.4 271.7l-8-6.4l-2.3 1.6l7.9 6.3zM741.4 269.9l-7.9-6.2l-2.3 1.5l7.9 6.1zM726.5 268.1l-7.9-6l-2.4 1.5l8 5.9zM724.2 269.5l-8-5.9l-2.3 1.4l8 5.9zM711.6 266.4l-8-5.8l-2.3 1.4l8 5.7zM709.3 267.7l-8-5.7l-2.3 1.4l8 5.7zM694.4 266l-8-5.6l-2.3 1.4l8 5.5zM679.5 264.3l-8-5.4l-2.3 1.3l7.9 5.4zM677.1 265.6l-7.9-5.4l-2.3 1.3l7.9 5.3zM664.5 262.7l-7.9-5.3l-2.3 1.2l7.9 5.3zM662.2 263.9l-7.9-5.3l-2.3 1.3l7.9 5.3zM649.6 261.1l-7.9-5.2l-2.3 1.2l7.9 5.2zM647.3 262.3l-7.9-5.2l-2.4 1.2l8 5.2zM645 263.5l-8-5.2l-2.3 1.2l8 5.2zM632.4 260.7l-8-5.1l-2.3 1.2l8 5.1zM630.1 261.9l-8-5.1l-2.3 1.2l8 5zM617.5 259.1l-8-4.9l-2.3 1.1l8 5zM615.2 260.3l-8-5l-2.3 1.2l7.9 4.9zM602.6 257.6l-8-4.9l-2.3 1.1l8 4.9zM600.3 258.7l-8-4.9l-2.3 1.2l7.9 4.8zM597.9 259.8l-7.9-4.8l-2.3 1.1l7.9 4.8zM585.3 257.2l-7.9-4.8l-2.3 1.1l7.9 4.7zM583 258.2l-7.9-4.7l-2.4 1.1l8 4.7zM570.4 255.6l-7.9-4.7l-2.4 1.1l8 4.7zM568.1 256.7l-8-4.7l-2.3 1.1l8 4.6zM565.8 257.7l-8-4.6l-2.3 1l8 4.6zM555.5 254.1l-8-4.6l-2.3 1.1l8 4.6zM553.2 255.2l-8-4.6l-2.3 1l8 4.6zM550.9 256.2l-8-4.6l-2.3 1l8 4.6zM538.3 253.6l-8-4.5l-2.3 1l8 4.5zM536 254.6l-8-4.5l-2.3 1.1l7.9 4.4zM523.4 252.2l-8-4.5l-2.3 1l7.9 4.4zM521 253.1l-7.9-4.4l-2.3 1l7.9 4.4zM518.7 254.1l-7.9-4.4l-2.4 1l8 4.4zM508.4 250.7l-7.9-4.4l-2.3 1l7.9 4.4zM506.1 251.7l-7.9-4.4l-2.4 1l8 4.3zM503.8 252.6l-8-4.3l-2.3 .9l8 4.4zM491.2 250.2l-7.9-4.3l-2.4 .9l8 4.3zM488.9 251.1l-8-4.3l-2.3 1l8 4.3zM486.6 252.1l-8-4.3l-2.3 .9l8 4.3zM476.3 248.7l-8-4.2l-2.3 .9l8 4.3zM474 249.7l-8-4.3l-2.3 1l8 4.2zM471.7 250.6l-8-4.2l-2.3 .9l7.9 4.2zM461.4 247.3l-8-4.2l-2.3 .9l8 4.2zM459.1 248.2l-8-4.2l-2.3 .9l7.9 4.2zM456.7 249.1l-7.9-4.2l-2.3 1l7.9 4.1zM446.5 245.9l-8-4.2l-2.3 .9l8 4.2zM444.2 246.8l-8-4.2l-2.3 .9l7.9 4.1zM441.8 247.6l-7.9-4.1l-2.3 .9l7.9 4.1zM439.5 248.5l-7.9-4.1l-2.4 .9l8 4.1zM429.2 245.3l-7.9-4.1l-2.3 .9l7.9 4.1zM426.9 246.2l-7.9-4.1l-2.4 .9l8 4.1zM424.6 247.1l-8-4.1l-2.3 .9l8 4zM414.3 243.9l-7.9-4l-2.4 .9l8 4zM412 244.8l-8-4l-2.3 .8l8 4zM409.7 245.6l-8-4l-2.3 .9l8 4zM399.4 242.5l-8-4l-2.3 .9l8 3.9zM397.1 243.3l-8-3.9l-2.3 .8l8 4zM394.8 244.2l-8-4l-2.3 .9l8 3.9zM392.5 245l-8-3.9l-2.3 .8l7.9 4zM382.2 241.9l-8-3.9l-2.3 .9l8 3.9zM379.9 242.8l-8-3.9l-2.3 .8l7.9 3.9zM377.5 243.6l-7.9-3.9l-2.3 .8l7.9 3.9zM367.3 240.5l-8-3.9l-2.3 .9l7.9 3.9zM364.9 241.4l-7.9-3.9l-2.3 .8l7.9 3.9zM362.6 242.2l-7.9-3.9l-2.4 .8l8 3.9zM360.3 243l-15.9-7.7l-2.3 .8l15.9 7.7zM350 240l-7.9-3.9l-2.4 .8l8 3.9zM347.7 240.8l-8-3.9l-2.3 .9l8 3.8zM345.4 241.6l-8-3.8l-2.3 .8l8 3.8zM335.1 238.6l-8-3.8l-2.3 .8l8 3.8zM332.8 239.4l-8-3.8l-2.3 .8l8 3.8zM330.5 240.2l-8-3.8l-2.3 .8l8 3.8zM320.2 237.2l-8-3.8l-2.3 .8l8 3.8zM317.9 238l-8-3.8l-2.3 .8l8 3.8zM315.6 238.8l-8-3.8l-2.3 .8l7.9 3.8zM313.2 239.6l-15.9-7.5l-2.3 .8l15.9 7.4zM303 236.6l-8-3.7l-2.3 .8l7.9 3.7zM300.6 237.4l-7.9-3.7l-2.3 .7l7.9 3.8zM298.3 238.2l-15.9-7.5l-2.3 .8l15.9 7.4zM288 235.2l-7.9-3.7l-2.3 .8l7.9 3.7zM285.7 236l-7.9-3.7l-2.3 .8l7.9 3.7zM283.4 236.8l-7.9-3.7l-2.4 .8l8 3.6zM281.1 237.5l-15.9-7.3l-2.3 .8l15.9 7.3zM270.8 234.6l-7.9-3.6l-2.4 .7l8 3.7zM268.5 235.4l-8-3.7l-2.3 .8l8 3.6zM266.2 236.1l-8-3.6l-2.3 .7l8 3.7z"/>
<path fill="#308aff" stroke="#308aff" d="M808.1 272.4l-8-7.4l-2.3 1.9l7.9 7.3zM793.1 270.5l-7.9-7l-2.3 1.8l7.9 7zM790.8 272.3l-7.9-7l-2.4 1.7l8 6.9zM775.9 270.4l-8-6.7l-2.3 1.7l8 6.6zM761 268.6l-8-6.5l-2.3 1.7l8 6.4zM746.1 266.9l-8-6.3l-2.3 1.6l8 6.2zM743.8 268.4l-8-6.2l-2.3 1.5l7.9 6.2zM731.2 265.2l-8-6.1l-2.3 1.5l7.9 6.1zM728.8 266.7l-7.9-6.1l-2.3 1.5l7.9 6zM716.2 263.6l-7.9-5.9l-2.3 1.4l7.9 5.9zM713.9 265l-7.9-5.9l-2.4 1.5l8 5.8zM699 263.4l-8-5.8l-2.3 1.4l8 5.7zM696.7 264.7l-8-5.7l-2.3 1.4l8 5.6zM684.1 261.8l-8-5.6l-2.3 1.3l8 5.6zM681.8 263.1l-8-5.6l-2.3 1.4l8 5.4zM669.2 260.2l-8-5.5l-2.3 1.4l8 5.4zM666.9 261.5l-8-5.4l-2.3 1.3l7.9 5.3zM654.3 258.6l-8-5.3l-2.3 1.3l8 5.3zM652 259.9l-8-5.3l-2.3 1.3l7.9 5.2zM637 258.3l-7.9-5.1l-2.3 1.2l7.9 5.1zM634.7 259.5l-7.9-5.1l-2.4 1.2l8 5.1zM622.1 256.8l-7.9-5l-2.4 1.2l8 5zM619.8 258l-8-5l-2.3 1.2l8 4.9zM607.2 255.3l-8-4.9l-2.3 1.1l8 5zM604.9 256.5l-8-5l-2.3 1.2l8 4.9zM592.3 253.8l-8-4.8l-2.3 1.1l8 4.9zM590 255l-8-4.9l-2.3 1.2l8 4.8zM587.7 256.1l-8-4.8l-2.3 1.1l7.9 4.8zM575.1 253.5l-8-4.8l-2.3 1.1l7.9 4.8zM572.7 254.6l-7.9-4.8l-2.3 1.1l7.9 4.7zM560.1 252l-7.9-4.7l-2.3 1.1l7.9 4.7zM557.8 253.1l-7.9-4.7l-2.4 1.1l8 4.6zM545.2 250.6l-7.9-4.6l-2.4 1l8 4.6zM542.9 251.6l-8-4.6l-2.3 1.1l8 4.5zM540.6 252.6l-8-4.5l-2.3 1l8 4.5zM530.3 249.1l-8-4.5l-2.3 1.1l8 4.4zM528 250.1l-8-4.4l-2.3 1l8 4.5zM525.7 251.2l-8-4.5l-2.3 1l8 4.5zM515.4 247.7l-8-4.4l-2.3 1l8 4.4zM513.1 248.7l-8-4.4l-2.3 1l8 4.4zM510.8 249.7l-8-4.4l-2.3 1l7.9 4.4zM498.2 247.3l-8-4.4l-2.3 1l7.9 4.4zM495.8 248.3l-7.9-4.4l-2.3 1l7.9 4.3zM493.5 249.2l-7.9-4.3l-2.3 1l7.9 4.3zM483.3 245.9l-8-4.3l-2.3 .9l7.9 4.3zM480.9 246.8l-7.9-4.3l-2.3 1l7.9 4.3zM478.6 247.8l-7.9-4.3l-2.4 1l8 4.2zM468.3 244.5l-7.9-4.3l-2.3 1l7.9 4.2zM466 245.4l-7.9-4.2l-2.4 .9l8 4.3zM463.7 246.4l-8-4.3l-2.3 1l8 4.2zM453.4 243.1l-7.9-4.2l-2.4 .9l8 4.2zM451.1 244l-8-4.2l-2.3 1l8 4.1zM448.8 244.9l-8-4.1l-2.3 .9l8 4.2zM436.2 242.6l-8-4.1l-2.3 .9l8 4.1zM433.9 243.5l-8-4.1l-2.3 .9l8 4.1zM431.6 244.4l-8-4.1l-2.3 .9l7.9 4.1zM421.3 241.2l-8-4l-2.3 .9l8 4zM419 242.1l-8-4l-2.3 .9l7.9 4zM416.6 243l-7.9-4l-2.3 .9l7.9 4zM406.4 239.9l-8-4.1l-2.3 .9l7.9 4.1zM404 240.8l-7.9-4.1l-2.3 .9l7.9 4zM401.7 241.6l-7.9-4l-2.4 .9l8 4zM391.4 238.5l-7.9-4l-2.3 .9l7.9 4zM389.1 239.4l-7.9-4l-2.4 .9l8 3.9zM386.8 240.2l-8-3.9l-2.3 .8l8 4zM384.5 241.1l-15.9-7.9l-2.4 .9l16 7.8zM374.2 238l-8-3.9l-2.3 .8l8 4zM371.9 238.9l-8-4l-2.3 .9l8 3.9zM369.6 239.7l-8-3.9l-2.3 .8l8 3.9zM359.3 236.6l-8-3.8l-2.3 .8l8 3.9zM357 237.5l-8-3.9l-2.3 .9l8 3.8zM354.7 238.3l-8-3.8l-2.3 .8l7.9 3.8zM344.4 235.3l-8-3.9l-2.3 .9l8 3.8zM342.1 236.1l-8-3.8l-2.3 .8l7.9 3.8zM339.7 236.9l-7.9-3.8l-2.3 .8l7.9 3.9zM337.4 237.8l-15.9-7.7l-2.3 .9l15.9 7.6zM327.1 234.8l-7.9-3.8l-2.3 .8l7.9 3.8zM324.8 235.6l-7.9-3.8l-2.3 .8l7.9 3.8zM322.5 236.4l-15.9-7.6l-2.3 .9l15.9 7.5zM312.2 233.4l-7.9-3.7l-2.3 .8l7.9 3.7zM309.9 234.2l-7.9-3.7l-2.4 .8l8 3.7zM307.6 235l-8-3.7l-2.3 .8l8 3.7zM297.3 232.1l-7.9-3.8l-2.4 .9l8 3.7zM295 232.9l-8-3.7l-2.3 .8l8 3.7zM292.7 233.7l-8-3.7l-2.3 .7l8 3.7zM282.4 230.7l-8-3.7l-2.3 .8l8 3.7zM280.1 231.5l-8-3.7l-2.3 .8l8 3.7zM277.8 232.3l-8-3.7l-2.3 .8l8 3.7zM275.5 233.1l-8-3.7l-2.3 .8l7.9 3.7z"/>
<path fill="#2f8dff" stroke="#2f8dff" d="M810.4 270.5l-8-7.4l-2.3 1.9l8 7.4zM795.5 268.8l-8-7.2l-2.3 1.9l7.9 7zM780.5 267l-7.9-6.8l-2.3 1.7l7.9 6.8zM778.2 268.7l-7.9-6.8l-2.4 1.8l8 6.7zM765.6 265.4l-7.9-6.7l-2.4 1.8l8 6.5zM763.3 267l-8-6.5l-2.3 1.6l8 6.5zM750.7 263.8l-8-6.5l-2.3 1.7l8 6.3zM748.4 265.3l-8-6.3l-2.3 1.6l8 6.3zM733.5 263.7l-8-6.1l-2.3 1.5l8 6.1zM718.6 262.1l-8-5.9l-2.3 1.5l7.9 5.9zM703.6 260.6l-7.9-5.8l-2.3 1.4l7.9 5.8zM701.3 262l-7.9-5.8l-2.4 1.4l8 5.8zM688.7 259l-7.9-5.6l-2.3 1.4l7.9 5.6zM686.4 260.4l-7.9-5.6l-2.4 1.4l8 5.6zM673.8 257.5l-7.9-5.5l-2.4 1.4l8 5.5zM671.5 258.9l-8-5.5l-2.3 1.3l8 5.5zM658.9 256.1l-8-5.4l-2.3 1.3l8 5.4zM656.6 257.4l-8-5.4l-2.3 1.3l8 5.3zM641.7 255.9l-8-5.3l-2.3 1.3l8 5.2zM639.4 257.1l-8-5.2l-2.3 1.3l7.9 5.1zM626.8 254.4l-8-5.1l-2.3 1.2l7.9 5.1zM624.4 255.6l-7.9-5.1l-2.3 1.3l7.9 5zM611.8 253l-7.9-5.1l-2.3 1.3l7.9 5zM609.5 254.2l-7.9-5l-2.4 1.2l8 4.9zM596.9 251.5l-7.9-4.9l-2.4 1.2l8 4.9zM594.6 252.7l-8-4.9l-2.3 1.2l8 4.8zM582 250.1l-8-4.8l-2.3 1.2l8 4.8zM579.7 251.3l-8-4.8l-2.3 1.1l8 4.8zM577.4 252.4l-8-4.8l-2.3 1.1l8 4.8zM567.1 248.7l-8-4.7l-2.3 1.1l8 4.7zM564.8 249.8l-8-4.7l-2.3 1.1l8 4.7zM562.5 250.9l-8-4.7l-2.3 1.1l7.9 4.7zM552.2 247.3l-8-4.6l-2.3 1.1l8 4.6zM549.9 248.4l-8-4.6l-2.3 1.1l7.9 4.6zM547.5 249.5l-7.9-4.6l-2.3 1.1l7.9 4.6zM534.9 247l-7.9-4.5l-2.3 1l7.9 4.6zM532.6 248.1l-7.9-4.6l-2.4 1.1l8 4.5zM520 245.7l-7.9-4.5l-2.3 1l7.9 4.5zM517.7 246.7l-7.9-4.5l-2.4 1.1l8 4.4zM505.1 244.3l-7.9-4.5l-2.4 1.1l8 4.4zM502.8 245.3l-8-4.4l-2.3 1l8 4.4zM500.5 246.3l-8-4.4l-2.3 1l8 4.4zM490.2 242.9l-8-4.3l-2.3 1l8 4.3zM487.9 243.9l-8-4.3l-2.3 1l8 4.3zM485.6 244.9l-8-4.3l-2.3 1l8 4.3zM475.3 241.6l-8-4.3l-2.3 1l8 4.2zM473 242.5l-8-4.2l-2.3 .9l8 4.3zM470.7 243.5l-8-4.3l-2.3 1l7.9 4.3zM460.4 240.2l-8-4.2l-2.3 1l8 4.2zM458.1 241.2l-8-4.2l-2.3 .9l7.9 4.2zM455.7 242.1l-7.9-4.2l-2.3 1l7.9 4.2zM445.5 238.9l-8-4.2l-2.3 1l7.9 4.1zM443.1 239.8l-7.9-4.1l-2.3 .9l7.9 4.2zM440.8 240.8l-7.9-4.2l-2.4 1l8 4.1zM438.5 241.7l-8-4.1l-2.3 .9l8 4.1zM428.2 238.5l-7.9-4.1l-2.4 .9l8 4.1zM425.9 239.4l-8-4.1l-2.3 .9l8 4.1zM423.6 240.3l-8-4.1l-2.3 1l8 4zM413.3 237.2l-8-4.1l-2.3 .9l8 4.1zM411 238.1l-8-4.1l-2.3 .9l8 4.1zM408.7 239l-8-4.1l-2.3 .9l8 4.1zM398.4 235.8l-8-4l-2.3 .9l8 4zM396.1 236.7l-8-4l-2.3 .9l8 4zM393.8 237.6l-8-4l-2.3 .9l7.9 4zM383.5 234.5l-8-4l-2.3 .9l8 4zM381.2 235.4l-8-4l-2.3 .9l7.9 4zM378.8 236.3l-7.9-4l-2.3 .9l7.9 3.9zM368.6 233.2l-8-3.9l-2.3 .8l7.9 4zM366.2 234.1l-7.9-4l-2.3 .9l7.9 3.9zM363.9 234.9l-7.9-3.9l-2.4 .9l8 3.9zM361.6 235.8l-15.9-7.8l-2.3 .9l15.9 7.7zM351.3 232.8l-7.9-3.9l-2.3 .8l7.9 3.9zM349 233.6l-7.9-3.9l-2.4 .9l8 3.9zM346.7 234.5l-8-3.9l-2.3 .8l8 3.9zM336.4 231.4l-7.9-3.8l-2.4 .8l8 3.9zM334.1 232.3l-8-3.9l-2.3 .9l8 3.8zM331.8 233.1l-8-3.8l-2.3 .8l8 3.8zM321.5 230.1l-8-3.8l-2.3 .9l8 3.8zM319.2 231l-8-3.8l-2.3 .8l8 3.8zM316.9 231.8l-8-3.8l-2.3 .8l8 3.8zM306.6 228.8l-8-3.8l-2.3 .9l8 3.8zM304.3 229.7l-8-3.8l-2.3 .8l8 3.8zM302 230.5l-8-3.8l-2.3 .8l7.9 3.8zM299.6 231.3l-15.9-7.5l-2.3 .8l15.9 7.5zM289.4 228.3l-8-3.7l-2.3 .8l7.9 3.8zM287 229.2l-7.9-3.8l-2.3 .8l7.9 3.8zM284.7 230l-7.9-3.8l-2.4 .8l8 3.7z"/>
<path fill="#2f90ff" stroke="#2f90ff" d="M812.7 268.6l-8-7.6l-2.3 2.1l8 7.4zM797.8 266.9l-8-7.2l-2.3 1.9l8 7.2zM782.9 265.3l-8-7l-2.3 1.9l7.9 6.8zM767.9 263.7l-7.9-6.7l-2.3 1.7l7.9 6.7zM753 262.1l-7.9-6.5l-2.4 1.7l8 6.5zM738.1 260.6l-7.9-6.3l-2.4 1.7l8 6.2zM735.8 262.2l-8-6.2l-2.3 1.6l8 6.1zM723.2 259.1l-8-6.1l-2.3 1.6l8 6zM720.9 260.6l-8-6l-2.3 1.6l8 5.9zM708.3 257.7l-8-6l-2.3 1.6l8 5.8zM706 259.1l-8-5.8l-2.3 1.5l7.9 5.8zM693.4 256.2l-8-5.7l-2.3 1.4l7.9 5.7zM691 257.6l-7.9-5.7l-2.3 1.5l7.9 5.6zM678.5 254.8l-8-5.6l-2.3 1.4l7.9 5.6zM676.1 256.2l-7.9-5.6l-2.3 1.4l7.9 5.5zM661.2 254.7l-7.9-5.4l-2.4 1.4l8 5.4zM646.3 253.3l-8-5.3l-2.3 1.3l8 5.3zM644 254.6l-8-5.3l-2.3 1.3l8 5.3zM631.4 251.9l-8-5.2l-2.3 1.3l8 5.2zM629.1 253.2l-8-5.2l-2.3 1.3l8 5.1zM616.5 250.5l-8-5l-2.3 1.2l8 5.1zM614.2 251.8l-8-5.1l-2.3 1.2l7.9 5.1zM601.6 249.2l-8-5l-2.3 1.2l7.9 5zM599.2 250.4l-7.9-5l-2.3 1.2l7.9 4.9zM586.6 247.8l-7.9-4.9l-2.3 1.2l7.9 4.9zM584.3 249l-7.9-4.9l-2.4 1.2l8 4.8zM571.7 246.5l-7.9-4.8l-2.4 1.1l8 4.8zM569.4 247.6l-8-4.8l-2.3 1.2l8 4.7zM556.8 245.1l-7.9-4.7l-2.4 1.1l8 4.7zM554.5 246.2l-8-4.7l-2.3 1.2l8 4.6zM541.9 243.8l-8-4.7l-2.3 1.2l8 4.6zM539.6 244.9l-8-4.6l-2.3 1.1l8 4.6zM537.3 246l-8-4.6l-2.3 1.1l7.9 4.5zM527 242.5l-8-4.6l-2.3 1.1l8 4.5zM524.7 243.5l-8-4.5l-2.3 1.1l7.9 4.5zM522.3 244.6l-7.9-4.5l-2.3 1.1l7.9 4.5zM512.1 241.2l-8-4.5l-2.3 1l8 4.5zM509.8 242.2l-8-4.5l-2.3 1.1l7.9 4.5zM507.4 243.3l-7.9-4.5l-2.3 1l7.9 4.5zM497.2 239.8l-8-4.4l-2.3 1.1l7.9 4.4zM494.8 240.9l-7.9-4.4l-2.3 1l7.9 4.4zM492.5 241.9l-7.9-4.4l-2.4 1.1l8 4.3zM482.2 238.6l-7.9-4.4l-2.3 1l7.9 4.4zM479.9 239.6l-7.9-4.4l-2.4 1l8 4.4zM477.6 240.6l-8-4.4l-2.3 1.1l8 4.3zM465 238.3l-8-4.3l-2.3 1l8 4.2zM462.7 239.2l-8-4.2l-2.3 1l8 4.2zM450.1 237l-8-4.3l-2.3 1l8 4.2zM447.8 237.9l-8-4.2l-2.3 1l8 4.2zM435.2 235.7l-8-4.2l-2.3 1l8 4.1zM432.9 236.6l-8-4.1l-2.3 .9l7.9 4.2zM430.5 237.6l-7.9-4.2l-2.3 1l7.9 4.1zM420.3 234.4l-8-4.2l-2.3 1l7.9 4.1zM417.9 235.3l-7.9-4.1l-2.3 .9l7.9 4.1zM415.6 236.2l-7.9-4.1l-2.4 1l8 4.1zM405.3 233.1l-7.9-4.1l-2.3 .9l7.9 4.1zM403 234l-7.9-4.1l-2.3 1l7.9 4zM400.7 234.9l-7.9-4l-2.4 .9l8 4zM390.4 231.8l-7.9-4l-2.3 .9l7.9 4zM388.1 232.7l-7.9-4l-2.4 .9l8 4zM385.8 233.6l-8-4l-2.3 .9l8 4zM375.5 230.5l-7.9-4l-2.4 .9l8 4zM373.2 231.4l-8-4l-2.3 1l8 3.9zM370.9 232.3l-8-3.9l-2.3 .9l8 3.9zM360.6 229.3l-8-4l-2.3 .9l8 3.9zM358.3 230.1l-8-3.9l-2.3 .9l8 3.9zM356 231l-8-3.9l-2.3 .9l7.9 3.9zM345.7 228l-8-3.9l-2.3 .9l8 3.9zM343.4 228.9l-8-3.9l-2.3 .8l8 3.9zM341.1 229.7l-8-3.9l-2.3 .9l7.9 3.9zM338.7 230.6l-15.9-7.7l-2.3 .8l15.9 7.7zM328.5 227.6l-8-3.9l-2.3 .9l7.9 3.8zM326.1 228.4l-7.9-3.8l-2.3 .9l7.9 3.8zM323.8 229.3l-15.9-7.7l-2.3 .9l15.9 7.6zM313.5 226.3l-7.9-3.8l-2.3 .9l7.9 3.8zM311.2 227.2l-7.9-3.8l-2.4 .8l8 3.8zM308.9 228l-15.9-7.6l-2.3 .9l15.9 7.5zM298.6 225l-7.9-3.7l-2.4 .8l8 3.8zM296.3 225.9l-8-3.8l-2.3 .9l8 3.7zM294 226.7l-8-3.7l-2.3 .8l8 3.7z"/>
<path fill="#2f93ff" stroke="#2f93ff" d="M800.1 265l-8-7.3l-2.3 2l8 7.2zM785.2 263.5l-8-7.1l-2.3 1.9l8 7zM770.3 261.9l-8-6.8l-2.3 1.9l7.9 6.7zM755.3 260.5l-7.9-6.6l-2.3 1.7l7.9 6.5zM740.4 259l-7.9-6.4l-2.3 1.7l7.9 6.3zM725.5 257.6l-7.9-6.2l-2.4 1.6l8 6.1zM710.6 256.2l-8-6l-2.3 1.5l8 6zM695.7 254.8l-8-5.9l-2.3 1.6l8 5.7zM680.8 253.4l-8-5.7l-2.3 1.5l8 5.6zM665.9 252l-8-5.5l-2.3 1.4l7.9 5.5zM663.5 253.4l-7.9-5.5l-2.3 1.4l7.9 5.4zM650.9 250.7l-7.9-5.4l-2.3 1.4l7.9 5.3zM648.6 252l-7.9-5.3l-2.4 1.3l8 5.3zM636 249.3l-7.9-5.2l-2.4 1.3l8 5.2zM633.7 250.6l-8-5.2l-2.3 1.3l8 5.2zM621.1 248l-8-5.1l-2.3 1.3l8 5.1zM618.8 249.3l-8-5.1l-2.3 1.3l8 5zM606.2 246.7l-8-5l-2.3 1.2l8 5zM603.9 247.9l-8-5l-2.3 1.3l8 5zM591.3 245.4l-8-4.9l-2.3 1.2l8 4.9zM589 246.6l-8-4.9l-2.3 1.2l7.9 4.9zM576.4 244.1l-8-4.8l-2.3 1.2l7.9 4.8zM574 245.3l-7.9-4.8l-2.3 1.2l7.9 4.8zM561.4 242.8l-7.9-4.8l-2.3 1.2l7.9 4.8zM559.1 244l-7.9-4.8l-2.3 1.2l7.9 4.7zM546.5 241.5l-7.9-4.6l-2.3 1.1l7.9 4.7zM544.2 242.7l-7.9-4.7l-2.4 1.1l8 4.7zM531.6 240.3l-7.9-4.6l-2.4 1.1l8 4.6zM529.3 241.4l-8-4.6l-2.3 1.1l8 4.6zM516.7 239l-8-4.5l-2.3 1.1l8 4.5zM514.4 240.1l-8-4.5l-2.3 1.1l8 4.5zM501.8 237.7l-8-4.4l-2.3 1l8 4.5zM499.5 238.8l-8-4.5l-2.3 1.1l8 4.4zM486.9 236.5l-8-4.4l-2.3 1l8 4.4zM484.6 237.5l-8-4.4l-2.3 1.1l7.9 4.4zM472 235.2l-8-4.3l-2.3 1l7.9 4.3zM469.6 236.2l-7.9-4.3l-2.3 1.1l7.9 4.3zM467.3 237.3l-7.9-4.3l-2.4 1l8 4.3zM457 234l-7.9-4.3l-2.3 1l7.9 4.3zM454.7 235l-7.9-4.3l-2.4 1l8 4.3zM452.4 236l-8-4.3l-2.3 1l8 4.3zM442.1 232.7l-7.9-4.2l-2.4 1l8 4.2zM439.8 233.7l-8-4.2l-2.3 1l8 4.2zM437.5 234.7l-8-4.2l-2.3 1l8 4.2zM427.2 231.5l-7.9-4.2l-2.4 1l8 4.2zM424.9 232.5l-8-4.2l-2.3 1l8 4.1zM422.6 233.4l-8-4.1l-2.3 .9l8 4.2zM412.3 230.2l-8-4.1l-2.3 1l8 4.1zM410 231.2l-8-4.1l-2.3 .9l8 4.1zM407.7 232.1l-8-4.1l-2.3 1l7.9 4.1zM397.4 229l-8-4.1l-2.3 1l8 4zM395.1 229.9l-8-4l-2.3 .9l8 4.1zM392.8 230.9l-8-4.1l-2.3 1l7.9 4zM382.5 227.8l-8-4.1l-2.3 1l8 4zM380.2 228.7l-8-4l-2.3 .9l7.9 4zM377.8 229.6l-7.9-4l-2.3 .9l7.9 4zM367.6 226.5l-8-4l-2.3 1l7.9 3.9zM365.2 227.4l-7.9-3.9l-2.3 .9l7.9 4zM362.9 228.4l-7.9-4l-2.4 .9l8 4zM352.6 225.3l-7.9-3.9l-2.3 .9l7.9 3.9zM350.3 226.2l-7.9-3.9l-2.4 .9l8 3.9zM348 227.1l-8-3.9l-2.3 .9l8 3.9zM337.7 224.1l-7.9-3.9l-2.4 .9l8 3.9zM335.4 225l-8-3.9l-2.3 .9l8 3.8zM333.1 225.8l-8-3.8l-2.3 .9l8 3.8zM322.8 222.9l-8-3.9l-2.3 .9l8 3.8zM320.5 223.7l-8-3.8l-2.3 .9l8 3.8zM318.2 224.6l-8-3.8l-2.3 .8l8 3.9zM307.9 221.6l-8-3.8l-2.3 .9l8 3.8zM305.6 222.5l-8-3.8l-2.3 .8l8 3.9zM303.3 223.4l-8-3.9l-2.3 .9l7.9 3.8z"/>
<path fill="#2e96ff" stroke="#2e96ff" d="M802.4 263.1l-8-7.5l-2.3 2.1l8 7.3zM789.8 259.7l-8-7.3l-2.3 2l8 7.2zM787.5 261.6l-8-7.2l-2.3 2l8 7.1zM774.9 258.3l-8-7l-2.3 2l8 6.9zM772.6 260.2l-8-6.9l-2.3 1.8l8 6.8zM760 257l-8-6.8l-2.3 1.9l8 6.6zM757.7 258.7l-8-6.6l-2.3 1.8l7.9 6.6zM745.1 255.6l-8-6.5l-2.3 1.8l7.9 6.4zM742.7 257.3l-7.9-6.4l-2.3 1.7l7.9 6.4zM730.2 254.3l-8-6.3l-2.3 1.7l7.9 6.3zM727.8 256l-7.9-6.3l-2.3 1.7l7.9 6.2zM715.2 253l-7.9-6.1l-2.3 1.7l7.9 6zM712.9 254.6l-7.9-6l-2.4 1.6l8 6zM700.3 251.7l-7.9-5.9l-2.4 1.6l8 5.9zM698 253.3l-8-5.9l-2.3 1.5l8 5.9zM685.4 250.5l-8-5.8l-2.3 1.5l8 5.7zM683.1 251.9l-8-5.7l-2.3 1.5l8 5.7zM670.5 249.2l-8-5.6l-2.3 1.5l8 5.5zM668.2 250.6l-8-5.5l-2.3 1.4l8 5.5zM655.6 247.9l-8-5.5l-2.3 1.5l8 5.4zM653.3 249.3l-8-5.4l-2.3 1.4l7.9 5.4zM640.7 246.7l-8-5.4l-2.3 1.4l7.9 5.3zM638.3 248l-7.9-5.3l-2.3 1.4l7.9 5.2zM625.7 245.4l-7.9-5.2l-2.3 1.3l7.9 5.2zM623.4 246.7l-7.9-5.2l-2.4 1.4l8 5.1zM610.8 244.2l-7.9-5.1l-2.3 1.3l7.9 5.1zM608.5 245.5l-7.9-5.1l-2.4 1.3l8 5zM595.9 242.9l-7.9-5l-2.4 1.3l8 5zM593.6 244.2l-8-5l-2.3 1.3l8 4.9zM581 241.7l-8-4.9l-2.3 1.2l8 4.9zM578.7 242.9l-8-4.9l-2.3 1.3l8 4.8zM566.1 240.5l-8-4.9l-2.3 1.2l8 4.9zM563.8 241.7l-8-4.9l-2.3 1.2l7.9 4.8zM551.2 239.2l-8-4.7l-2.3 1.2l8 4.7zM548.9 240.4l-8-4.7l-2.3 1.2l7.9 4.6zM538.6 236.9l-8-4.7l-2.3 1.1l8 4.7zM536.3 238l-8-4.7l-2.3 1.2l7.9 4.6zM533.9 239.1l-7.9-4.6l-2.3 1.2l7.9 4.6zM523.7 235.7l-8-4.7l-2.3 1.2l7.9 4.6zM521.3 236.8l-7.9-4.6l-2.3 1.1l7.9 4.6zM519 237.9l-7.9-4.6l-2.4 1.2l8 4.5zM508.7 234.5l-7.9-4.6l-2.3 1.1l7.9 4.6zM506.4 235.6l-7.9-4.6l-2.4 1.2l8 4.5zM504.1 236.7l-8-4.5l-2.3 1.1l8 4.4zM493.8 233.3l-7.9-4.5l-2.4 1.1l8 4.4zM491.5 234.3l-8-4.4l-2.3 1.1l8 4.4zM489.2 235.4l-8-4.4l-2.3 1.1l8 4.4zM478.9 232.1l-7.9-4.4l-2.4 1l8 4.4zM476.6 233.1l-8-4.4l-2.3 1.1l8 4.4zM474.3 234.2l-8-4.4l-2.3 1.1l8 4.3zM464 230.9l-8-4.4l-2.3 1.1l8 4.3zM461.7 231.9l-8-4.3l-2.3 1l8 4.4zM459.4 233l-8-4.4l-2.3 1.1l7.9 4.3zM449.1 229.7l-8-4.3l-2.3 1l8 4.3zM446.8 230.7l-8-4.3l-2.3 1.1l7.9 4.2zM444.4 231.7l-7.9-4.2l-2.3 1l7.9 4.2zM434.2 228.5l-8-4.2l-2.3 1l7.9 4.2zM431.8 229.5l-7.9-4.2l-2.3 1l7.9 4.2zM429.5 230.5l-7.9-4.2l-2.3 1l7.9 4.2zM419.3 227.3l-8-4.2l-2.3 1l7.9 4.2zM416.9 228.3l-7.9-4.2l-2.3 1l7.9 4.2zM414.6 229.3l-7.9-4.2l-2.4 1l8 4.1zM404.3 226.1l-7.9-4.1l-2.3 1l7.9 4.1zM402 227.1l-7.9-4.1l-2.4 1l8 4zM399.7 228l-8-4l-2.3 .9l8 4.1zM389.4 224.9l-7.9-4.1l-2.4 1l8 4.1zM387.1 225.9l-8-4.1l-2.3 1l8 4zM384.8 226.8l-8-4l-2.3 .9l8 4.1zM374.5 223.7l-8-4l-2.3 1l8 4zM372.2 224.7l-8-4l-2.3 .9l8 4zM369.9 225.6l-8-4l-2.3 .9l8 4zM359.6 222.5l-8-3.9l-2.3 .9l8 4zM357.3 223.5l-8-4l-2.3 .9l8 4zM355 224.4l-8-4l-2.3 1l7.9 3.9zM344.7 221.4l-8-4l-2.3 .9l8 4zM342.4 222.3l-8-4l-2.3 1l7.9 3.9zM340 223.2l-7.9-3.9l-2.3 .9l7.9 3.9zM329.8 220.2l-8-3.9l-2.3 .9l7.9 3.9zM327.4 221.1l-7.9-3.9l-2.3 .9l7.9 3.9zM325.1 222l-7.9-3.9l-2.4 .9l8 3.9zM314.8 219l-7.9-3.9l-2.3 .9l7.9 3.9zM312.5 219.9l-7.9-3.9l-2.4 .9l8 3.9zM310.2 220.8l-8-3.9l-2.3 .9l8 3.8z"/>
<path fill="#2e99ff" stroke="#2e99ff" d="M804.7 261l-7.9-7.5l-2.4 2.1l8 7.5zM792.1 257.7l-7.9-7.4l-2.4 2.1l8 7.3zM777.2 256.4l-8-7.1l-2.3 2l8 7zM762.3 255.1l-8-6.8l-2.3 1.9l8 6.8zM747.4 253.9l-8-6.6l-2.3 1.8l8 6.5zM732.5 252.6l-8-6.3l-2.3 1.7l8 6.3zM717.6 251.4l-8-6.1l-2.3 1.6l7.9 6.1zM702.6 250.2l-7.9-6l-2.3 1.6l7.9 5.9zM690 247.4l-7.9-5.9l-2.3 1.6l7.9 5.8zM687.7 248.9l-7.9-5.8l-2.4 1.6l8 5.8zM675.1 246.2l-7.9-5.7l-2.4 1.6l8 5.6zM672.8 247.7l-8-5.6l-2.3 1.5l8 5.6zM660.2 245.1l-8-5.6l-2.3 1.5l8 5.5zM657.9 246.5l-8-5.5l-2.3 1.4l8 5.5zM645.3 243.9l-8-5.4l-2.3 1.4l8 5.4zM643 245.3l-8-5.4l-2.3 1.4l8 5.4zM630.4 242.7l-8-5.3l-2.3 1.4l8 5.3zM628.1 244.1l-8-5.3l-2.3 1.4l7.9 5.2zM615.5 241.5l-8-5.2l-2.3 1.4l7.9 5.2zM613.1 242.9l-7.9-5.2l-2.3 1.4l7.9 5.1zM600.6 240.4l-8-5.1l-2.3 1.3l7.9 5.1zM598.2 241.7l-7.9-5.1l-2.3 1.3l7.9 5zM585.6 239.2l-7.9-5l-2.3 1.3l7.9 5zM583.3 240.5l-7.9-5l-2.4 1.3l8 4.9zM573 236.8l-7.9-5l-2.3 1.3l7.9 4.9zM570.7 238l-7.9-4.9l-2.4 1.3l8 4.9zM568.4 239.3l-8-4.9l-2.3 1.2l8 4.9zM558.1 235.6l-7.9-4.8l-2.4 1.2l8 4.8zM555.8 236.8l-8-4.8l-2.3 1.3l8 4.7zM553.5 238l-8-4.7l-2.3 1.2l8 4.7zM543.2 234.5l-8-4.8l-2.3 1.3l8 4.7zM540.9 235.7l-8-4.7l-2.3 1.2l8 4.7zM528.3 233.3l-8-4.6l-2.3 1.2l8 4.6zM526 234.5l-8-4.6l-2.3 1.1l8 4.7zM513.4 232.2l-8-4.6l-2.3 1.2l8 4.5zM511.1 233.3l-8-4.5l-2.3 1.1l7.9 4.6zM498.5 231l-8-4.5l-2.3 1.2l7.9 4.5zM496.1 232.2l-7.9-4.5l-2.3 1.1l7.9 4.5zM483.5 229.9l-7.9-4.5l-2.3 1.2l7.9 4.4zM481.2 231l-7.9-4.4l-2.3 1.1l7.9 4.4zM468.6 228.7l-7.9-4.3l-2.3 1l7.9 4.4zM466.3 229.8l-7.9-4.4l-2.4 1.1l8 4.4zM456 226.5l-7.9-4.3l-2.3 1.1l7.9 4.3zM453.7 227.6l-7.9-4.3l-2.4 1l8 4.3zM451.4 228.6l-8-4.3l-2.3 1.1l8 4.3zM441.1 225.4l-7.9-4.3l-2.4 1.1l8 4.2zM438.8 226.4l-8-4.2l-2.3 1l8 4.3zM436.5 227.5l-8-4.3l-2.3 1.1l8 4.2zM426.2 224.3l-8-4.3l-2.3 1.1l8 4.2zM423.9 225.3l-8-4.2l-2.3 1l8 4.2zM421.6 226.3l-8-4.2l-2.3 1l8 4.2zM411.3 223.1l-8-4.2l-2.3 1.1l8 4.1zM409 224.1l-8-4.1l-2.3 1l8 4.1zM406.7 225.1l-8-4.1l-2.3 1l7.9 4.1zM396.4 222l-8-4.1l-2.3 1l8 4.1zM394.1 223l-8-4.1l-2.3 1l7.9 4.1zM391.7 224l-7.9-4.1l-2.3 .9l7.9 4.1zM381.5 220.8l-8-4l-2.3 1l7.9 4zM379.1 221.8l-7.9-4l-2.3 .9l7.9 4.1zM376.8 222.8l-7.9-4.1l-2.4 1l8 4zM366.5 219.7l-7.9-4l-2.3 .9l7.9 4.1zM364.2 220.7l-7.9-4.1l-2.4 1l8 4zM361.9 221.6l-8-4l-2.3 1l8 3.9zM351.6 218.6l-7.9-4l-2.3 .9l7.9 4zM349.3 219.5l-7.9-4l-2.4 1l8 3.9zM347 220.4l-8-3.9l-2.3 .9l8 4zM336.7 217.4l-7.9-3.9l-2.4 .9l8 3.9zM334.4 218.3l-8-3.9l-2.3 .9l8 4zM332.1 219.3l-15.9-7.9l-2.4 1l16 7.8zM321.8 216.3l-8-3.9l-2.3 .9l8 3.9zM319.5 217.2l-8-3.9l-2.3 .9l8 3.9zM317.2 218.1l-8-3.9l-2.3 .9l7.9 3.9z"/>
<path fill="#2c9dff" stroke="#2c9dff" d="M794.4 255.6l-7.9-7.5l-2.3 2.2l7.9 7.4zM779.5 254.4l-7.9-7.1l-2.4 2l8 7.1zM764.6 253.3l-7.9-6.9l-2.4 1.9l8 6.8zM749.7 252.1l-8-6.7l-2.3 1.9l8 6.6zM737.1 249.1l-8-6.4l-2.3 1.8l8 6.4zM734.8 250.9l-8-6.4l-2.3 1.8l8 6.3zM722.2 248l-8-6.2l-2.3 1.7l8 6.2zM719.9 249.7l-8-6.2l-2.3 1.8l8 6.1zM707.3 246.9l-8-6.1l-2.3 1.7l8 6.1zM705 248.6l-8-6.1l-2.3 1.7l7.9 6zM692.4 245.8l-8-5.9l-2.3 1.6l7.9 5.9zM677.4 244.7l-7.9-5.8l-2.3 1.6l7.9 5.7zM662.5 243.6l-7.9-5.6l-2.4 1.5l8 5.6zM649.9 241l-7.9-5.5l-2.4 1.5l8 5.4zM647.6 242.4l-8-5.4l-2.3 1.5l8 5.4zM635 239.9l-7.9-5.4l-2.4 1.5l8 5.3zM632.7 241.3l-8-5.3l-2.3 1.4l8 5.3zM620.1 238.8l-8-5.3l-2.3 1.5l8 5.2zM617.8 240.2l-8-5.2l-2.3 1.3l8 5.2zM605.2 237.7l-8-5.1l-2.3 1.3l8 5.2zM602.9 239.1l-8-5.2l-2.3 1.4l8 5.1zM590.3 236.6l-8-5l-2.3 1.3l8 5zM588 237.9l-8-5l-2.3 1.3l7.9 5zM577.7 234.2l-8-5l-2.3 1.3l8 5zM575.4 235.5l-8-5l-2.3 1.3l7.9 5zM562.8 233.1l-8-4.9l-2.3 1.3l7.9 4.9zM560.4 234.4l-7.9-4.9l-2.3 1.3l7.9 4.8zM547.8 232l-7.9-4.8l-2.3 1.3l7.9 4.8zM545.5 233.3l-7.9-4.8l-2.4 1.2l8 4.8zM532.9 231l-7.9-4.8l-2.4 1.3l8 4.7zM530.6 232.2l-8-4.7l-2.3 1.2l8 4.6zM518 229.9l-8-4.7l-2.3 1.2l8 4.6zM515.7 231l-8-4.6l-2.3 1.2l8 4.6zM503.1 228.8l-8-4.6l-2.3 1.2l8 4.5zM500.8 229.9l-8-4.5l-2.3 1.1l8 4.5zM490.5 226.5l-8-4.5l-2.3 1.2l8 4.5zM488.2 227.7l-8-4.5l-2.3 1.1l8 4.5zM485.9 228.8l-8-4.5l-2.3 1.1l7.9 4.5zM475.6 225.4l-8-4.4l-2.3 1.1l8 4.5zM473.3 226.6l-8-4.5l-2.3 1.1l8 4.5zM471 227.7l-8-4.5l-2.3 1.2l7.9 4.3zM460.7 224.4l-8-4.4l-2.3 1.1l8 4.3zM458.4 225.4l-8-4.3l-2.3 1.1l7.9 4.3zM445.8 223.3l-8-4.4l-2.3 1.1l7.9 4.3zM443.4 224.3l-7.9-4.3l-2.3 1.1l7.9 4.3zM430.8 222.2l-7.9-4.3l-2.3 1.1l7.9 4.2zM428.5 223.2l-7.9-4.2l-2.4 1l8 4.3zM418.2 220l-7.9-4.2l-2.3 1.1l7.9 4.2zM415.9 221.1l-7.9-4.2l-2.4 1l8 4.2zM413.6 222.1l-8-4.2l-2.3 1l8 4.2zM403.3 218.9l-7.9-4.1l-2.4 1l8 4.2zM401 220l-8-4.2l-2.3 1l8 4.2zM398.7 221l-8-4.2l-2.3 1.1l8 4.1zM388.4 217.9l-8-4.2l-2.3 1l8 4.2zM386.1 218.9l-8-4.2l-2.3 1.1l8 4.1zM383.8 219.9l-8-4.1l-2.3 1l8 4zM373.5 216.8l-8-4.1l-2.3 1l8 4.1zM371.2 217.8l-8-4.1l-2.3 1l8 4zM368.9 218.7l-8-4l-2.3 1l7.9 4zM358.6 215.7l-8-4.1l-2.3 1l8 4zM356.3 216.6l-8-4l-2.3 1l7.9 4zM353.9 217.6l-7.9-4l-2.3 1l7.9 4zM343.7 214.6l-8-4l-2.3 1l8 3.9zM341.4 215.5l-8-3.9l-2.3 .9l7.9 4zM339 216.5l-15.9-7.9l-2.3 .9l15.9 7.9zM328.8 213.5l-8-4l-2.3 1l7.9 3.9zM326.4 214.4l-7.9-3.9l-2.3 .9l7.9 3.9z"/>
<path fill="#2aa0fd" stroke="#2aa0fd" d="M796.8 253.5l-8-7.6l-2.3 2.2l7.9 7.5zM781.8 252.4l-7.9-7.2l-2.3 2.1l7.9 7.1zM766.9 251.3l-7.9-6.9l-2.3 2l7.9 6.9zM754.3 248.3l-7.9-6.8l-2.3 2l7.9 6.7zM752 250.2l-7.9-6.7l-2.4 1.9l8 6.7zM739.4 247.3l-7.9-6.5l-2.4 1.9l8 6.4zM724.5 246.3l-8-6.4l-2.3 1.9l8 6.2zM709.6 245.3l-8-6.2l-2.3 1.7l8 6.1zM697 242.5l-8-6l-2.3 1.7l8 6zM694.7 244.2l-8-6l-2.3 1.7l8 5.9zM682.1 241.5l-8-5.8l-2.3 1.6l8 5.8zM679.8 243.1l-8-5.8l-2.3 1.6l7.9 5.8zM667.2 240.5l-8-5.7l-2.3 1.6l7.9 5.7zM664.8 242.1l-7.9-5.7l-2.3 1.6l7.9 5.6zM652.2 239.5l-7.9-5.6l-2.3 1.6l7.9 5.5zM639.6 237l-7.9-5.5l-2.3 1.5l7.9 5.5zM637.3 238.5l-7.9-5.5l-2.3 1.5l7.9 5.4zM624.7 236l-7.9-5.4l-2.3 1.5l7.9 5.3zM622.4 237.4l-7.9-5.3l-2.4 1.4l8 5.3zM609.8 235l-7.9-5.3l-2.4 1.5l8 5.1zM607.5 236.3l-8-5.1l-2.3 1.4l8 5.1zM594.9 233.9l-8-5.1l-2.3 1.4l8 5.1zM592.6 235.3l-8-5.1l-2.3 1.4l8 5zM580 232.9l-8-5l-2.3 1.3l8 5zM567.4 230.5l-8-4.9l-2.3 1.3l8 4.9zM565.1 231.8l-8-4.9l-2.3 1.3l8 4.9zM552.5 229.5l-8-4.8l-2.3 1.3l8 4.8zM550.2 230.8l-8-4.8l-2.3 1.2l7.9 4.8zM537.6 228.5l-8-4.8l-2.3 1.3l7.9 4.7zM535.2 229.7l-7.9-4.7l-2.3 1.2l7.9 4.8zM522.6 227.5l-7.9-4.7l-2.3 1.2l7.9 4.7zM520.3 228.7l-7.9-4.7l-2.4 1.2l8 4.7zM510 225.2l-7.9-4.6l-2.3 1.2l7.9 4.6zM507.7 226.4l-7.9-4.6l-2.3 1.2l7.9 4.6zM505.4 227.6l-7.9-4.6l-2.4 1.2l8 4.6zM495.1 224.2l-7.9-4.6l-2.3 1.2l7.9 4.6zM492.8 225.4l-7.9-4.6l-2.4 1.2l8 4.5zM480.2 223.2l-7.9-4.5l-2.4 1.1l8 4.5zM477.9 224.3l-8-4.5l-2.3 1.2l8 4.4zM465.3 222.1l-8-4.4l-2.3 1.1l8 4.4zM463 223.2l-8-4.4l-2.3 1.2l8 4.4zM452.7 220l-8-4.4l-2.3 1.1l8 4.4zM450.4 221.1l-8-4.4l-2.3 1.1l8 4.4zM448.1 222.2l-8-4.4l-2.3 1.1l8 4.4zM437.8 218.9l-8-4.3l-2.3 1.1l8 4.3zM435.5 220l-8-4.3l-2.3 1.1l8 4.3zM433.2 221.1l-8-4.3l-2.3 1.1l7.9 4.3zM422.9 217.9l-8-4.3l-2.3 1.1l8 4.3zM420.6 219l-8-4.3l-2.3 1.1l7.9 4.2zM408 216.9l-8-4.3l-2.3 1.1l7.9 4.2zM405.6 217.9l-7.9-4.2l-2.3 1.1l7.9 4.1zM395.4 214.8l-8-4.2l-2.3 1l7.9 4.2zM393 215.8l-7.9-4.2l-2.3 1.1l7.9 4.1zM390.7 216.8l-7.9-4.1l-2.4 1l8 4.2zM380.4 213.7l-7.9-4.1l-2.3 1l7.9 4.1zM378.1 214.7l-7.9-4.1l-2.3 1.1l7.9 4.1zM375.8 215.8l-7.9-4.1l-2.4 1l8 4.1zM365.5 212.7l-7.9-4.1l-2.3 1l7.9 4.1zM363.2 213.7l-7.9-4.1l-2.4 1l8 4.1zM360.9 214.7l-8-4.1l-2.3 1l8 4.1zM350.6 211.6l-7.9-4l-2.4 1l8 4zM348.3 212.6l-8-4l-2.3 1l8 4zM346 213.6l-15.9-8l-2.4 1l16 8zM335.7 210.6l-8-4l-2.3 1l8 4zM333.4 211.6l-8-4l-2.3 1l8 3.9z"/>
<path fill="#29a3fb" stroke="#29a3fb" d="M784.2 250.3l-8-7.3l-2.3 2.2l7.9 7.2zM769.2 249.3l-7.9-7l-2.3 2.1l7.9 6.9zM756.7 246.4l-8-6.9l-2.3 2l7.9 6.8zM741.7 245.4l-7.9-6.6l-2.3 2l7.9 6.5zM726.8 244.5l-7.9-6.4l-2.4 1.8l8 6.4zM714.2 241.8l-7.9-6.3l-2.4 1.8l8 6.2zM711.9 243.5l-8-6.2l-2.3 1.8l8 6.2zM699.3 240.8l-8-6.1l-2.3 1.8l8 6zM684.4 239.9l-8-5.9l-2.3 1.7l8 5.8zM671.8 237.3l-8-5.8l-2.3 1.7l8 5.7zM669.5 238.9l-8-5.7l-2.3 1.6l8 5.7zM656.9 236.4l-8-5.7l-2.3 1.7l8 5.6zM654.6 238l-8-5.6l-2.3 1.5l7.9 5.6zM642 235.5l-8-5.6l-2.3 1.6l7.9 5.5zM627.1 234.5l-8-5.4l-2.3 1.5l7.9 5.4zM614.5 232.1l-8-5.3l-2.3 1.5l7.9 5.2zM612.1 233.5l-7.9-5.2l-2.3 1.4l7.9 5.3zM599.5 231.2l-7.9-5.2l-2.3 1.4l7.9 5.2zM597.2 232.6l-7.9-5.2l-2.4 1.4l8 5.1zM584.6 230.2l-7.9-5.1l-2.4 1.4l8 5.1zM582.3 231.6l-8-5.1l-2.3 1.4l8 5zM572 227.9l-7.9-5l-2.4 1.3l8 5zM569.7 229.2l-8-5l-2.3 1.4l8 4.9zM557.1 226.9l-7.9-4.9l-2.4 1.3l8 4.9zM554.8 228.2l-8-4.9l-2.3 1.4l8 4.8zM542.2 226l-8-4.9l-2.3 1.3l8 4.8zM539.9 227.2l-8-4.8l-2.3 1.3l8 4.8zM527.3 225l-8-4.8l-2.3 1.3l8 4.7zM525 226.2l-8-4.7l-2.3 1.3l7.9 4.7zM514.7 222.8l-8-4.7l-2.3 1.2l8 4.7zM512.4 224l-8-4.7l-2.3 1.3l7.9 4.6zM499.8 221.8l-8-4.6l-2.3 1.2l8 4.6zM497.5 223l-8-4.6l-2.3 1.2l7.9 4.6zM484.9 220.8l-8-4.5l-2.3 1.2l7.9 4.5zM482.5 222l-7.9-4.5l-2.3 1.2l7.9 4.5zM472.3 218.7l-8-4.5l-2.3 1.2l7.9 4.4zM469.9 219.8l-7.9-4.4l-2.3 1.1l7.9 4.5zM467.6 221l-7.9-4.5l-2.4 1.2l8 4.4zM457.3 217.7l-7.9-4.4l-2.3 1.1l7.9 4.4zM455 218.8l-7.9-4.4l-2.4 1.2l8 4.4zM442.4 216.7l-7.9-4.4l-2.4 1.2l8 4.3zM440.1 217.8l-8-4.3l-2.3 1.1l8 4.3zM429.8 214.6l-7.9-4.3l-2.3 1.1l7.9 4.3zM427.5 215.7l-7.9-4.3l-2.4 1.1l8 4.3zM425.2 216.8l-8-4.3l-2.3 1.1l8 4.3zM414.9 213.6l-7.9-4.2l-2.4 1.1l8 4.2zM412.6 214.7l-8-4.2l-2.3 1.1l8 4.2zM410.3 215.8l-8-4.2l-2.3 1l8 4.3zM400 212.6l-8-4.2l-2.3 1.1l8 4.2zM397.7 213.7l-8-4.2l-2.3 1.1l8 4.2zM385.1 211.6l-8-4.1l-2.3 1l8 4.2zM382.8 212.7l-8-4.2l-2.3 1.1l7.9 4.1zM372.5 209.6l-8-4.1l-2.3 1l8 4.1zM370.2 210.6l-8-4.1l-2.3 1.1l8 4.1zM367.9 211.7l-8-4.1l-2.3 1l7.9 4.1zM357.6 208.6l-8-4.1l-2.3 1.1l8 4zM355.3 209.6l-8-4l-2.3 1l7.9 4zM352.9 210.6l-7.9-4l-2.3 1l7.9 4zM342.7 207.6l-8-4l-2.3 1l7.9 4zM340.3 208.6l-7.9-4l-2.3 1l7.9 4z"/>
<path fill="#28a6f8" stroke="#28a6f8" d="M786.5 248.1l-8-7.4l-2.3 2.3l8 7.3zM773.9 245.2l-8-7.3l-2.3 2.2l8 7.2zM771.6 247.3l-8-7.2l-2.3 2.2l7.9 7zM759 244.4l-8-7l-2.3 2.1l8 6.9zM744.1 243.5l-8-6.7l-2.3 2l7.9 6.6zM731.5 240.8l-8-6.6l-2.3 2l7.9 6.5zM729.1 242.7l-7.9-6.5l-2.3 1.9l7.9 6.4zM716.5 239.9l-7.9-6.3l-2.3 1.9l7.9 6.3zM701.6 239.1l-7.9-6.2l-2.4 1.8l8 6.1zM689 236.5l-7.9-6l-2.3 1.7l7.9 6zM686.7 238.2l-7.9-6l-2.4 1.8l8 5.9zM674.1 235.7l-7.9-5.9l-2.4 1.7l8 5.8zM659.2 234.8l-8-5.7l-2.3 1.6l8 5.7zM646.6 232.4l-8-5.7l-2.3 1.7l8 5.5zM644.3 233.9l-8-5.5l-2.3 1.5l8 5.6zM631.7 231.5l-8-5.5l-2.3 1.6l8 5.4zM629.4 233l-8-5.4l-2.3 1.5l8 5.4zM616.8 230.6l-8-5.3l-2.3 1.5l8 5.3zM604.2 228.3l-8-5.3l-2.3 1.5l8 5.2zM601.9 229.7l-8-5.2l-2.3 1.5l7.9 5.2zM589.3 227.4l-8-5.2l-2.3 1.5l7.9 5.1zM586.9 228.8l-7.9-5.1l-2.3 1.4l7.9 5.1zM574.3 226.5l-7.9-5l-2.3 1.4l7.9 5zM561.7 224.2l-7.9-4.9l-2.3 1.3l7.9 5zM559.4 225.6l-7.9-5l-2.3 1.4l7.9 4.9zM546.8 223.3l-7.9-4.8l-2.3 1.3l7.9 4.9zM544.5 224.7l-7.9-4.9l-2.4 1.3l8 4.9zM531.9 222.4l-7.9-4.8l-2.4 1.4l8 4.7zM529.6 223.7l-8-4.7l-2.3 1.2l8 4.8zM519.3 220.2l-7.9-4.7l-2.4 1.3l8 4.7zM517 221.5l-8-4.7l-2.3 1.3l8 4.7zM504.4 219.3l-8-4.6l-2.3 1.2l8 4.7zM502.1 220.6l-8-4.7l-2.3 1.3l8 4.6zM491.8 217.2l-8-4.6l-2.3 1.2l8 4.6zM489.5 218.4l-8-4.6l-2.3 1.3l8 4.5zM487.2 219.6l-8-4.5l-2.3 1.2l8 4.5zM476.9 216.3l-8-4.6l-2.3 1.3l8 4.5zM474.6 217.5l-8-4.5l-2.3 1.2l8 4.5zM462 215.4l-8-4.5l-2.3 1.2l8 4.4zM459.7 216.5l-8-4.4l-2.3 1.2l7.9 4.4zM449.4 213.3l-8-4.5l-2.3 1.2l8 4.4zM447.1 214.4l-8-4.4l-2.3 1.2l7.9 4.4zM444.7 215.6l-7.9-4.4l-2.3 1.1l7.9 4.4zM434.5 212.3l-8-4.3l-2.3 1.1l7.9 4.4zM432.1 213.5l-7.9-4.4l-2.3 1.2l7.9 4.3zM419.6 211.4l-8-4.3l-2.3 1.1l7.9 4.3zM417.2 212.5l-7.9-4.3l-2.3 1.2l7.9 4.2zM407 209.4l-8-4.3l-2.3 1.1l7.9 4.3zM404.6 210.5l-7.9-4.3l-2.3 1.1l7.9 4.3zM402.3 211.6l-7.9-4.3l-2.4 1.1l8 4.2zM392 208.4l-7.9-4.2l-2.3 1.1l7.9 4.2zM389.7 209.5l-7.9-4.2l-2.4 1.1l8 4.2zM387.4 210.6l-8-4.2l-2.3 1.1l8 4.1zM377.1 207.5l-7.9-4.2l-2.4 1.1l8 4.1zM374.8 208.5l-8-4.1l-2.3 1.1l8 4.1zM364.5 205.5l-7.9-4.2l-2.4 1.1l8 4.1zM362.2 206.5l-8-4.1l-2.3 1.1l8 4.1zM359.9 207.6l-8-4.1l-2.3 1l8 4.1zM349.6 204.5l-8-4.1l-2.3 1.1l8 4.1zM347.3 205.6l-8-4.1l-2.3 1l8 4.1zM345 206.6l-8-4.1l-2.3 1.1l8 4z"/>
<path fill="#27a8f7" stroke="#27a8f7" d="M788.8 245.9l-8-7.6l-2.3 2.4l8 7.4zM776.2 243l-8-7.4l-2.3 2.3l8 7.3zM761.3 242.3l-8-7.1l-2.3 2.2l8 7zM746.4 241.5l-8-6.8l-2.3 2.1l8 6.7zM733.8 238.8l-8-6.6l-2.3 2l8 6.6zM718.9 238.1l-8-6.4l-2.3 1.9l7.9 6.3zM706.3 235.5l-8-6.3l-2.3 1.9l7.9 6.2zM703.9 237.3l-7.9-6.2l-2.3 1.8l7.9 6.2zM691.3 234.7l-7.9-6l-2.3 1.8l7.9 6zM676.4 234l-7.9-5.9l-2.3 1.7l7.9 5.9zM663.8 231.5l-7.9-5.8l-2.3 1.7l7.9 5.8zM661.5 233.2l-7.9-5.8l-2.4 1.7l8 5.7zM648.9 230.7l-7.9-5.6l-2.4 1.6l8 5.7zM636.3 228.4l-7.9-5.6l-2.4 1.6l8 5.5zM634 229.9l-8-5.5l-2.3 1.6l8 5.5zM621.4 227.6l-8-5.4l-2.3 1.5l8 5.4zM619.1 229.1l-8-5.4l-2.3 1.6l8 5.3zM606.5 226.8l-8-5.3l-2.3 1.5l8 5.3zM593.9 224.5l-8-5.2l-2.3 1.5l8 5.2zM591.6 226l-8-5.2l-2.3 1.4l8 5.2zM579 223.7l-8-5.1l-2.3 1.4l8 5.1zM576.7 225.1l-8-5.1l-2.3 1.5l7.9 5zM566.4 221.5l-8-5.1l-2.3 1.4l8 5.1zM564.1 222.9l-8-5.1l-2.3 1.5l7.9 4.9zM551.5 220.6l-8-4.9l-2.3 1.4l8 4.9zM549.2 222l-8-4.9l-2.3 1.4l7.9 4.8zM536.6 219.8l-8-4.9l-2.3 1.4l7.9 4.8zM534.2 221.1l-7.9-4.8l-2.3 1.3l7.9 4.8zM524 217.6l-8-4.8l-2.3 1.4l7.9 4.8zM521.6 219l-7.9-4.8l-2.3 1.3l7.9 4.7zM509 216.8l-7.9-4.7l-2.3 1.3l7.9 4.7zM506.7 218.1l-7.9-4.7l-2.4 1.3l8 4.6zM496.4 214.7l-7.9-4.7l-2.3 1.3l7.9 4.6zM494.1 215.9l-7.9-4.6l-2.4 1.3l8 4.6zM481.5 213.8l-7.9-4.6l-2.4 1.3l8 4.6zM479.2 215.1l-8-4.6l-2.3 1.2l8 4.6zM466.6 213l-8-4.6l-2.3 1.3l8 4.5zM464.3 214.2l-8-4.5l-2.3 1.2l8 4.5zM454 210.9l-7.9-4.5l-2.4 1.2l8 4.5zM451.7 212.1l-8-4.5l-2.3 1.2l8 4.5zM439.1 210l-8-4.4l-2.3 1.2l8 4.4zM436.8 211.2l-8-4.4l-2.3 1.2l8 4.3zM426.5 208l-8-4.4l-2.3 1.2l8 4.3zM424.2 209.1l-8-4.3l-2.3 1.2l8 4.3zM421.9 210.3l-8-4.3l-2.3 1.1l8 4.3zM411.6 207.1l-8-4.3l-2.3 1.1l8 4.3zM409.3 208.2l-8-4.3l-2.3 1.2l8 4.3zM396.7 206.2l-8-4.2l-2.3 1.1l8 4.2zM394.4 207.3l-8-4.2l-2.3 1.1l7.9 4.2zM384.1 204.2l-8-4.2l-2.3 1.1l8 4.2zM381.8 205.3l-8-4.2l-2.3 1.1l7.9 4.2zM379.4 206.4l-7.9-4.2l-2.3 1.1l7.9 4.2zM369.2 203.3l-8-4.1l-2.3 1.1l7.9 4.1zM366.8 204.4l-7.9-4.1l-2.3 1l7.9 4.2zM356.6 201.3l-8-4.1l-2.3 1.1l7.9 4.1zM354.2 202.4l-7.9-4.1l-2.3 1.1l7.9 4.1zM351.9 203.5l-7.9-4.1l-2.4 1l8 4.1z"/>
<path fill="#26abf5" stroke="#26abf5" d="M778.5 240.7l-7.9-7.5l-2.4 2.4l8 7.4zM763.6 240.1l-8-7.1l-2.3 2.2l8 7.1zM748.7 239.5l-8-6.9l-2.3 2.1l8 6.8zM736.1 236.8l-8-6.7l-2.3 2.1l8 6.6zM721.2 236.2l-8-6.5l-2.3 2l8 6.4zM708.6 233.6l-8-6.4l-2.3 2l8 6.3zM693.7 232.9l-8-6.1l-2.3 1.9l7.9 6zM681.1 230.5l-8-6.1l-2.3 1.9l8 5.9zM678.8 232.2l-8-5.9l-2.3 1.8l7.9 5.9zM666.2 229.8l-8-5.9l-2.3 1.8l7.9 5.8zM653.6 227.4l-8-5.7l-2.3 1.7l7.9 5.7zM651.2 229.1l-7.9-5.7l-2.3 1.7l7.9 5.6zM638.6 226.7l-7.9-5.6l-2.3 1.7l7.9 5.6zM626 224.4l-7.9-5.5l-2.3 1.6l7.9 5.5zM623.7 226l-7.9-5.5l-2.4 1.7l8 5.4zM611.1 223.7l-7.9-5.4l-2.4 1.6l8 5.4zM608.8 225.3l-8-5.4l-2.3 1.6l8 5.3zM596.2 223l-8-5.3l-2.3 1.6l8 5.2zM583.6 220.8l-7.9-5.2l-2.4 1.5l8 5.1zM581.3 222.2l-8-5.1l-2.3 1.5l8 5.1zM568.7 220l-8-5.1l-2.3 1.5l8 5.1zM556.1 217.8l-8-5l-2.3 1.5l8 5zM553.8 219.3l-8-5l-2.3 1.4l8 4.9zM541.2 217.1l-8-4.9l-2.3 1.4l8 4.9zM538.9 218.5l-8-4.9l-2.3 1.3l8 4.9zM528.6 214.9l-8-4.8l-2.3 1.4l8 4.8zM526.3 216.3l-8-4.8l-2.3 1.3l8 4.8zM513.7 214.2l-8-4.8l-2.3 1.3l8 4.8zM511.4 215.5l-8-4.8l-2.3 1.4l7.9 4.7zM501.1 212.1l-8-4.7l-2.3 1.3l8 4.7zM498.8 213.4l-8-4.7l-2.3 1.3l7.9 4.7zM486.2 211.3l-8-4.6l-2.3 1.3l7.9 4.6zM483.8 212.6l-7.9-4.6l-2.3 1.2l7.9 4.6zM471.2 210.5l-7.9-4.6l-2.3 1.3l7.9 4.5zM468.9 211.7l-7.9-4.5l-2.4 1.2l8 4.6zM458.6 208.4l-7.9-4.5l-2.3 1.3l7.9 4.5zM456.3 209.7l-7.9-4.5l-2.3 1.2l7.9 4.5zM443.7 207.6l-7.9-4.4l-2.3 1.2l7.9 4.4zM441.4 208.8l-7.9-4.4l-2.4 1.2l8 4.4zM431.1 205.6l-7.9-4.4l-2.3 1.2l7.9 4.4zM428.8 206.8l-7.9-4.4l-2.4 1.2l8 4.4zM416.2 204.8l-7.9-4.4l-2.4 1.2l8 4.4zM413.9 206l-8-4.4l-2.3 1.2l8 4.3zM403.6 202.8l-7.9-4.3l-2.4 1.2l8 4.2zM401.3 203.9l-8-4.2l-2.3 1.1l8 4.3zM399 205.1l-8-4.3l-2.3 1.2l8 4.2zM388.7 202l-8-4.3l-2.3 1.2l8 4.2zM386.4 203.1l-8-4.2l-2.3 1.1l8 4.2zM376.1 200l-7.9-4.2l-2.4 1.1l8 4.2zM373.8 201.1l-8-4.2l-2.3 1.1l8 4.2zM371.5 202.2l-8-4.2l-2.3 1.2l8 4.1zM361.2 199.2l-8-4.2l-2.3 1.1l8 4.2zM358.9 200.3l-8-4.2l-2.3 1.1l8 4.1z"/>
<path fill="#24adf4" stroke="#24adf4" d="M765.9 237.9l-7.9-7.3l-2.4 2.4l8 7.1zM751 237.4l-8-7l-2.3 2.2l8 6.9zM738.4 234.7l-8-6.8l-2.3 2.2l8 6.7zM723.5 234.2l-8-6.6l-2.3 2.1l8 6.5zM710.9 231.7l-8-6.5l-2.3 2l8 6.4zM696 231.1l-8-6.2l-2.3 1.9l8 6.1zM683.4 228.7l-8-6.1l-2.3 1.8l8 6.1zM668.5 228.1l-8-6l-2.3 1.8l8 5.9zM655.9 225.7l-8-5.8l-2.3 1.8l8 5.7zM641 225.1l-8-5.7l-2.3 1.7l7.9 5.6zM628.4 222.8l-8-5.6l-2.3 1.7l7.9 5.5zM613.4 222.2l-7.9-5.5l-2.3 1.6l7.9 5.4zM600.8 219.9l-7.9-5.3l-2.3 1.6l7.9 5.3zM598.5 221.5l-7.9-5.3l-2.4 1.5l8 5.3zM585.9 219.3l-7.9-5.3l-2.3 1.6l7.9 5.2zM573.3 217.1l-7.9-5.2l-2.3 1.5l7.9 5.2zM571 218.6l-7.9-5.2l-2.4 1.5l8 5.1zM558.4 216.4l-7.9-5.1l-2.4 1.5l8 5zM545.8 214.3l-7.9-5l-2.4 1.4l8 5zM543.5 215.7l-8-5l-2.3 1.5l8 4.9zM530.9 213.6l-8-4.9l-2.3 1.4l8 4.8zM518.3 211.5l-8-4.9l-2.3 1.4l8 4.8zM516 212.8l-8-4.8l-2.3 1.4l8 4.8zM503.4 210.7l-8-4.7l-2.3 1.4l8 4.7zM490.8 208.7l-8-4.7l-2.3 1.3l8 4.7zM488.5 210l-8-4.7l-2.3 1.4l8 4.6zM475.9 208l-8-4.7l-2.3 1.3l8 4.6zM473.6 209.2l-8-4.6l-2.3 1.3l7.9 4.6zM463.3 205.9l-8-4.5l-2.3 1.2l8 4.6zM461 207.2l-8-4.6l-2.3 1.3l7.9 4.5zM448.4 205.2l-8-4.5l-2.3 1.2l8 4.5zM446.1 206.4l-8-4.5l-2.3 1.3l7.9 4.4zM435.8 203.2l-8-4.5l-2.3 1.3l8 4.4zM433.5 204.4l-8-4.4l-2.3 1.2l7.9 4.4zM420.9 202.4l-8-4.4l-2.3 1.2l7.9 4.4zM418.5 203.6l-7.9-4.4l-2.3 1.2l7.9 4.4zM408.3 200.4l-8-4.3l-2.3 1.2l7.9 4.3zM405.9 201.6l-7.9-4.3l-2.3 1.2l7.9 4.3zM393.3 199.7l-7.9-4.3l-2.3 1.1l7.9 4.3zM391 200.8l-7.9-4.3l-2.4 1.2l8 4.3zM380.7 197.7l-7.9-4.2l-2.3 1.1l7.9 4.3zM378.4 198.9l-7.9-4.3l-2.3 1.2l7.9 4.2zM365.8 196.9l-7.9-4.2l-2.3 1.2l7.9 4.1zM363.5 198l-7.9-4.1l-2.4 1.1l8 4.2z"/>
<path fill="#23b0f3" stroke="#23b0f3" d="M780.8 238.3l-7.9-7.5l-2.3 2.4l7.9 7.5zM768.2 235.6l-7.9-7.4l-2.3 2.4l7.9 7.3zM755.6 233l-7.9-7.2l-2.3 2.3l7.9 7.1zM753.3 235.2l-7.9-7.1l-2.4 2.3l8 7zM740.7 232.6l-7.9-6.9l-2.4 2.2l8 6.8zM728.1 230.1l-7.9-6.7l-2.4 2.1l8 6.7zM725.8 232.2l-8-6.7l-2.3 2.1l8 6.6zM713.2 229.7l-7.9-6.5l-2.4 2l8 6.5zM700.6 227.2l-7.9-6.3l-2.4 2l8 6.3zM698.3 229.2l-8-6.3l-2.3 2l8 6.2zM685.7 226.8l-8-6.2l-2.3 2l8 6.1zM673.1 224.4l-8-6l-2.3 1.9l8 6zM670.8 226.3l-8-6l-2.3 1.8l8 6zM658.2 223.9l-8-5.8l-2.3 1.8l8 5.8zM645.6 221.7l-8-5.8l-2.3 1.8l8 5.7zM643.3 223.4l-8-5.7l-2.3 1.7l8 5.7zM630.7 221.1l-8-5.6l-2.3 1.7l8 5.6zM618.1 218.9l-8-5.5l-2.3 1.7l8 5.4zM615.8 220.5l-8-5.4l-2.3 1.6l7.9 5.5zM605.5 216.7l-8-5.4l-2.3 1.7l8 5.3zM603.2 218.3l-8-5.3l-2.3 1.6l7.9 5.3zM590.6 216.2l-8-5.3l-2.3 1.6l7.9 5.2zM588.2 217.7l-7.9-5.2l-2.3 1.5l7.9 5.3zM578 214l-8-5.2l-2.3 1.6l8 5.2zM575.7 215.6l-8-5.2l-2.3 1.5l7.9 5.2zM563.1 213.4l-8-5.1l-2.3 1.5l7.9 5.1zM560.7 214.9l-7.9-5.1l-2.3 1.5l7.9 5.1zM550.5 211.3l-8-5l-2.3 1.5l7.9 5zM548.1 212.8l-7.9-5l-2.3 1.5l7.9 5zM535.5 210.7l-7.9-4.9l-2.3 1.4l7.9 5zM533.2 212.2l-7.9-5l-2.4 1.5l8 4.9zM522.9 208.7l-7.9-4.9l-2.3 1.4l7.9 4.9zM520.6 210.1l-7.9-4.9l-2.4 1.4l8 4.9zM508 208l-7.9-4.8l-2.3 1.4l7.9 4.8zM505.7 209.4l-7.9-4.8l-2.4 1.4l8 4.7zM495.4 206l-7.9-4.7l-2.3 1.3l7.9 4.8zM493.1 207.4l-7.9-4.8l-2.4 1.4l8 4.7zM480.5 205.3l-7.9-4.6l-2.4 1.3l8 4.7zM478.2 206.7l-8-4.7l-2.3 1.3l8 4.7zM467.9 203.3l-7.9-4.6l-2.4 1.3l8 4.6zM465.6 204.6l-8-4.6l-2.3 1.4l8 4.5zM455.3 201.4l-7.9-4.6l-2.4 1.3l8 4.5zM453 202.6l-8-4.5l-2.3 1.3l8 4.5zM450.7 203.9l-8-4.5l-2.3 1.3l8 4.5zM440.4 200.7l-8-4.5l-2.3 1.3l8 4.4zM438.1 201.9l-8-4.4l-2.3 1.2l8 4.5zM427.8 198.7l-8-4.4l-2.3 1.2l8 4.5zM425.5 200l-8-4.5l-2.3 1.3l8 4.4zM423.2 201.2l-8-4.4l-2.3 1.2l8 4.4zM412.9 198l-8-4.4l-2.3 1.3l8 4.3zM410.6 199.2l-8-4.3l-2.3 1.2l8 4.3zM400.3 196.1l-8-4.4l-2.3 1.3l8 4.3zM398 197.3l-8-4.3l-2.3 1.2l8 4.3zM395.7 198.5l-8-4.3l-2.3 1.2l7.9 4.3zM385.4 195.4l-8-4.3l-2.3 1.2l8 4.2zM383.1 196.5l-8-4.2l-2.3 1.2l7.9 4.2zM372.8 193.5l-8-4.3l-2.3 1.2l8 4.2zM370.5 194.6l-8-4.2l-2.3 1.2l8 4.2zM368.2 195.8l-8-4.2l-2.3 1.1l7.9 4.2z"/>
<path fill="#21b2f1" stroke="#21b2f1" d="M770.6 233.2l-8-7.5l-2.3 2.5l7.9 7.4zM743 230.4l-7.9-7l-2.3 2.3l7.9 6.9zM730.4 227.9l-7.9-6.8l-2.3 2.3l7.9 6.7zM715.5 227.6l-7.9-6.5l-2.3 2.1l7.9 6.5zM702.9 225.2l-7.9-6.4l-2.3 2.1l7.9 6.3zM688 224.9l-7.9-6.2l-2.4 1.9l8 6.2zM675.4 222.6l-7.9-6.1l-2.4 1.9l8 6zM662.8 220.3l-7.9-6l-2.4 1.9l8 5.9zM660.5 222.1l-8-5.9l-2.3 1.9l8 5.8zM647.9 219.9l-8-5.8l-2.3 1.8l8 5.8zM635.3 217.7l-7.9-5.7l-2.4 1.8l8 5.6zM633 219.4l-8-5.6l-2.3 1.7l8 5.6zM620.4 217.2l-8-5.5l-2.3 1.7l8 5.5zM607.8 215.1l-8-5.5l-2.3 1.7l8 5.4zM595.2 213l-8-5.4l-2.3 1.6l8 5.4zM592.9 214.6l-8-5.4l-2.3 1.7l8 5.3zM580.3 212.5l-8-5.3l-2.3 1.6l8 5.2zM567.7 210.4l-8-5.2l-2.3 1.6l8 5.1zM565.4 211.9l-8-5.1l-2.3 1.5l8 5.1zM552.8 209.8l-8-5l-2.3 1.5l8 5zM540.2 207.8l-8-5l-2.3 1.5l8 5zM537.9 209.3l-8-5l-2.3 1.5l7.9 4.9zM527.6 205.8l-8-5l-2.3 1.5l8 4.9zM525.3 207.2l-8-4.9l-2.3 1.5l7.9 4.9zM512.7 205.2l-8-4.8l-2.3 1.4l7.9 4.8zM510.3 206.6l-7.9-4.8l-2.3 1.4l7.9 4.8zM500.1 203.2l-8-4.8l-2.3 1.4l8 4.8zM497.8 204.6l-8-4.8l-2.3 1.5l7.9 4.7zM485.2 202.6l-8-4.7l-2.3 1.4l7.9 4.7zM482.8 204l-7.9-4.7l-2.3 1.4l7.9 4.6zM472.6 200.7l-8-4.7l-2.3 1.4l7.9 4.6zM470.2 202l-7.9-4.6l-2.3 1.3l7.9 4.6zM457.6 200l-7.9-4.5l-2.3 1.3l7.9 4.6zM445 198.1l-7.9-4.5l-2.3 1.3l7.9 4.5zM442.7 199.4l-7.9-4.5l-2.4 1.3l8 4.5zM432.4 196.2l-7.9-4.5l-2.3 1.3l7.9 4.5zM430.1 197.5l-7.9-4.5l-2.4 1.3l8 4.4zM417.5 195.5l-7.9-4.4l-2.4 1.3l8 4.4zM415.2 196.8l-8-4.4l-2.3 1.2l8 4.4zM404.9 193.6l-7.9-4.4l-2.3 1.3l7.9 4.4zM402.6 194.9l-7.9-4.4l-2.4 1.2l8 4.4zM390 193l-7.9-4.4l-2.4 1.3l8 4.3zM387.7 194.2l-8-4.3l-2.3 1.2l8 4.3zM377.4 191.1l-7.9-4.3l-2.4 1.2l8 4.3zM375.1 192.3l-8-4.3l-2.3 1.2l8 4.3z"/>
<path fill="#1fb4f0" stroke="#1fb4f0" d="M772.9 230.8l-8-7.6l-2.3 2.5l8 7.5zM758 230.6l-8-7.2l-2.3 2.4l7.9 7.2zM745.4 228.1l-8-7l-2.3 2.3l7.9 7zM732.8 225.7l-8-6.9l-2.3 2.3l7.9 6.8zM717.8 225.5l-7.9-6.6l-2.3 2.2l7.9 6.5zM705.3 223.2l-8-6.5l-2.3 2.1l7.9 6.4zM692.7 220.9l-8-6.4l-2.3 2.1l7.9 6.3zM690.3 222.9l-7.9-6.3l-2.3 2.1l7.9 6.2zM677.7 220.6l-7.9-6.1l-2.3 2l7.9 6.1zM665.1 218.4l-7.9-6l-2.3 1.9l7.9 6zM650.2 218.1l-7.9-5.9l-2.4 1.9l8 5.8zM637.6 215.9l-7.9-5.8l-2.3 1.9l7.9 5.7zM625 213.8l-7.9-5.7l-2.3 1.8l7.9 5.6zM622.7 215.5l-7.9-5.6l-2.4 1.8l8 5.5zM610.1 213.4l-7.9-5.5l-2.4 1.7l8 5.5zM597.5 211.3l-7.9-5.4l-2.4 1.7l8 5.4zM584.9 209.2l-7.9-5.3l-2.4 1.7l8 5.3zM582.6 210.9l-8-5.3l-2.3 1.6l8 5.3zM570 208.8l-8-5.2l-2.3 1.6l8 5.2zM557.4 206.8l-8-5.2l-2.3 1.6l8 5.1zM555.1 208.3l-8-5.1l-2.3 1.6l8 5zM544.8 204.8l-8-5.1l-2.3 1.5l8 5.1zM542.5 206.3l-8-5.1l-2.3 1.6l8 5zM529.9 204.3l-8-5l-2.3 1.5l8 5zM517.3 202.3l-8-4.9l-2.3 1.5l8 4.9zM515 203.8l-8-4.9l-2.3 1.5l8 4.8zM502.4 201.8l-8-4.8l-2.3 1.4l8 4.8zM489.8 199.8l-8-4.7l-2.3 1.4l8 4.8zM487.5 201.3l-8-4.8l-2.3 1.4l8 4.7zM477.2 197.9l-8-4.7l-2.3 1.4l8 4.7zM474.9 199.3l-8-4.7l-2.3 1.4l8 4.7zM462.3 197.4l-8-4.7l-2.3 1.4l8 4.6zM460 198.7l-8-4.6l-2.3 1.4l7.9 4.5zM449.7 195.5l-8-4.6l-2.3 1.3l8 4.6zM447.4 196.8l-8-4.6l-2.3 1.4l7.9 4.5zM437.1 193.6l-8-4.6l-2.3 1.4l8 4.5zM434.8 194.9l-8-4.5l-2.3 1.3l7.9 4.5zM422.2 193l-8-4.5l-2.3 1.3l7.9 4.5zM419.8 194.3l-7.9-4.5l-2.3 1.3l7.9 4.4zM409.6 191.1l-8-4.4l-2.3 1.3l7.9 4.4zM407.2 192.4l-7.9-4.4l-2.3 1.2l7.9 4.4zM397 189.2l-8-4.3l-2.3 1.2l8 4.4zM394.7 190.5l-8-4.4l-2.3 1.3l7.9 4.3zM392.3 191.7l-7.9-4.3l-2.3 1.2l7.9 4.4zM382.1 188.6l-8-4.3l-2.3 1.3l7.9 4.3zM379.7 189.9l-7.9-4.3l-2.3 1.2l7.9 4.3z"/>
<path fill="#1db7ee" stroke="#1db7ee" d="M760.3 228.2l-8-7.3l-2.3 2.5l8 7.2zM747.7 225.8l-8-7.2l-2.3 2.5l8 7zM735.1 223.4l-8-6.9l-2.3 2.3l8 6.9zM720.2 223.4l-8-6.8l-2.3 2.3l7.9 6.6zM707.6 221.1l-8-6.6l-2.3 2.2l8 6.5zM695 218.8l-8-6.4l-2.3 2.1l8 6.4zM680.1 218.7l-8-6.3l-2.3 2.1l7.9 6.1zM667.5 216.5l-8-6.1l-2.3 2l7.9 6zM654.9 214.3l-8-5.9l-2.3 1.9l7.9 5.9zM652.5 216.2l-7.9-5.9l-2.3 1.9l7.9 5.9zM639.9 214.1l-7.9-5.8l-2.3 1.8l7.9 5.8zM627.4 212l-8-5.7l-2.3 1.8l7.9 5.7zM614.8 209.9l-8-5.6l-2.3 1.8l7.9 5.6zM612.4 211.7l-7.9-5.6l-2.3 1.8l7.9 5.5zM599.8 209.6l-7.9-5.5l-2.3 1.8l7.9 5.4zM587.2 207.6l-7.9-5.4l-2.3 1.7l7.9 5.3zM574.6 205.6l-7.9-5.4l-2.3 1.7l7.9 5.3zM572.3 207.2l-7.9-5.3l-2.4 1.7l8 5.2zM559.7 205.2l-7.9-5.2l-2.4 1.6l8 5.2zM547.1 203.2l-7.9-5.1l-2.4 1.6l8 5.1zM534.5 201.2l-7.9-5l-2.3 1.6l7.9 5zM532.2 202.8l-7.9-5l-2.4 1.5l8 5zM519.6 200.8l-7.9-4.9l-2.4 1.5l8 4.9zM507 198.9l-7.9-4.9l-2.4 1.5l8 4.9zM504.7 200.4l-8-4.9l-2.3 1.5l8 4.8zM494.4 197l-7.9-4.9l-2.4 1.5l8 4.8zM492.1 198.4l-8-4.8l-2.3 1.5l8 4.7zM479.5 196.5l-8-4.7l-2.3 1.4l8 4.7zM466.9 194.6l-8-4.7l-2.3 1.4l8 4.7zM464.6 196l-8-4.7l-2.3 1.4l8 4.7zM454.3 192.7l-7.9-4.6l-2.4 1.4l8 4.6zM452 194.1l-8-4.6l-2.3 1.4l8 4.6zM441.7 190.9l-7.9-4.6l-2.4 1.4l8 4.5zM439.4 192.2l-8-4.5l-2.3 1.3l8 4.6zM426.8 190.4l-8-4.6l-2.3 1.4l8 4.5zM424.5 191.7l-8-4.5l-2.3 1.3l8 4.5zM414.2 188.5l-8-4.5l-2.3 1.4l8 4.4zM411.9 189.8l-8-4.4l-2.3 1.3l8 4.4zM401.6 186.7l-8-4.5l-2.3 1.4l8 4.4zM399.3 188l-8-4.4l-2.3 1.3l8 4.3zM386.7 186.1l-8-4.3l-2.3 1.2l8 4.4zM384.4 187.4l-8-4.4l-2.3 1.3l8 4.3z"/>
<path fill="#1bb9eb" stroke="#1bb9eb" d="M762.6 225.7l-8-7.4l-2.3 2.6l8 7.3zM750 223.4l-8-7.3l-2.3 2.5l8 7.2zM737.4 221.1l-8-7.1l-2.3 2.5l8 6.9zM722.5 221.1l-8-6.8l-2.3 2.3l8 6.8zM709.9 218.9l-8-6.7l-2.3 2.3l8 6.6zM697.3 216.7l-8-6.5l-2.3 2.2l8 6.4zM682.4 216.6l-8-6.3l-2.3 2.1l8 6.3zM669.8 214.5l-8-6.2l-2.3 2.1l8 6.1zM657.2 212.4l-8-6.1l-2.3 2.1l8 5.9zM644.6 210.3l-8-5.9l-2.3 2l8 5.8zM642.3 212.2l-8-5.8l-2.3 1.9l7.9 5.8zM629.7 210.1l-8-5.7l-2.3 1.9l8 5.7zM617.1 208.1l-8-5.6l-2.3 1.8l8 5.6zM604.5 206.1l-8-5.6l-2.3 1.9l8 5.5zM602.2 207.9l-8-5.5l-2.3 1.7l7.9 5.5zM589.6 205.9l-8-5.5l-2.3 1.8l7.9 5.4zM577 203.9l-8-5.4l-2.3 1.7l7.9 5.4zM564.4 201.9l-8-5.2l-2.3 1.6l7.9 5.3zM562 203.6l-7.9-5.3l-2.3 1.7l7.9 5.2zM551.8 200l-8-5.2l-2.3 1.7l7.9 5.1zM549.4 201.6l-7.9-5.1l-2.3 1.6l7.9 5.1zM536.8 199.7l-7.9-5.1l-2.3 1.6l7.9 5zM524.3 197.8l-8-5.1l-2.3 1.6l7.9 5zM521.9 199.3l-7.9-5l-2.3 1.6l7.9 4.9zM511.7 195.9l-8-5l-2.3 1.6l7.9 4.9zM509.3 197.4l-7.9-4.9l-2.3 1.5l7.9 4.9zM496.7 195.5l-7.9-4.9l-2.3 1.5l7.9 4.9zM484.1 193.6l-7.9-4.8l-2.3 1.5l7.9 4.8zM481.8 195.1l-7.9-4.8l-2.4 1.5l8 4.7zM471.5 191.8l-7.9-4.8l-2.3 1.5l7.9 4.7zM469.2 193.2l-7.9-4.7l-2.4 1.4l8 4.7zM458.9 189.9l-7.9-4.7l-2.3 1.5l7.9 4.6zM456.6 191.3l-7.9-4.6l-2.3 1.4l7.9 4.6zM444 189.5l-7.9-4.6l-2.3 1.4l7.9 4.6zM431.4 187.7l-7.9-4.6l-2.3 1.4l7.9 4.5zM429.1 189l-7.9-4.5l-2.4 1.3l8 4.6zM418.8 185.8l-7.9-4.5l-2.3 1.4l7.9 4.5zM416.5 187.2l-7.9-4.5l-2.4 1.3l8 4.5zM406.2 184l-7.9-4.4l-2.3 1.3l7.9 4.5zM403.9 185.4l-7.9-4.5l-2.4 1.3l8 4.5zM391.3 183.6l-7.9-4.5l-2.4 1.4l8 4.4zM389 184.9l-8-4.4l-2.3 1.3l8 4.3z"/>
<path fill="#18bbe9" stroke="#18bbe9" d="M764.9 223.2l-7.9-7.6l-2.4 2.7l8 7.4zM752.3 220.9l-7.9-7.4l-2.4 2.6l8 7.3zM739.7 218.6l-7.9-7.1l-2.4 2.5l8 7.1zM724.8 218.8l-8-6.9l-2.3 2.4l8 6.8zM712.2 216.6l-8-6.7l-2.3 2.3l8 6.7zM699.6 214.5l-8-6.6l-2.3 2.3l8 6.5zM687 212.4l-8-6.4l-2.3 2.2l8 6.3zM684.7 214.5l-8-6.3l-2.3 2.1l8 6.3zM672.1 212.4l-8-6.2l-2.3 2.1l8 6.2zM659.5 210.4l-8-6.1l-2.3 2l8 6.1zM646.9 208.4l-8-6l-2.3 2l8 5.9zM634.3 206.4l-8-5.9l-2.3 2l8 5.8zM632 208.3l-8-5.8l-2.3 1.9l8 5.7zM619.4 206.3l-8-5.7l-2.3 1.9l8 5.6zM606.8 204.3l-8-5.6l-2.3 1.8l8 5.6zM594.2 202.4l-8-5.6l-2.3 1.8l8 5.5zM591.9 204.1l-8-5.5l-2.3 1.8l8 5.5zM581.6 200.4l-8-5.4l-2.3 1.8l8 5.4zM579.3 202.2l-8-5.4l-2.3 1.7l8 5.4zM566.7 200.2l-8-5.3l-2.3 1.8l8 5.2zM554.1 198.3l-8-5.2l-2.3 1.7l8 5.2zM541.5 196.5l-8-5.2l-2.3 1.7l8 5.1zM539.2 198.1l-8-5.1l-2.3 1.6l7.9 5.1zM528.9 194.6l-8-5.1l-2.3 1.6l8 5.1zM526.6 196.2l-8-5.1l-2.3 1.6l8 5.1zM514 194.3l-8-5l-2.3 1.6l8 5zM501.4 192.5l-8-5l-2.3 1.6l8 4.9zM499.1 194l-8-4.9l-2.3 1.5l7.9 4.9zM488.8 190.6l-8-4.8l-2.3 1.5l8 4.8zM486.5 192.1l-8-4.8l-2.3 1.5l7.9 4.8zM476.2 188.8l-8-4.8l-2.3 1.5l8 4.8zM473.9 190.3l-8-4.8l-2.3 1.5l7.9 4.8zM461.3 188.5l-8-4.7l-2.3 1.4l7.9 4.7zM448.7 186.7l-8-4.7l-2.3 1.4l8 4.7zM446.4 188.1l-8-4.7l-2.3 1.5l7.9 4.6zM436.1 184.9l-8-4.6l-2.3 1.4l8 4.6zM433.8 186.3l-8-4.6l-2.3 1.4l7.9 4.6zM423.5 183.1l-8-4.6l-2.3 1.4l8 4.6zM421.2 184.5l-8-4.6l-2.3 1.4l7.9 4.5zM408.6 182.7l-8-4.5l-2.3 1.4l7.9 4.4zM396 180.9l-8-4.4l-2.3 1.3l7.9 4.4zM393.6 182.2l-7.9-4.4l-2.3 1.3l7.9 4.5z"/>
<path fill="#14bde6" stroke="#14bde6" d="M754.6 218.3l-7.9-7.5l-2.3 2.7l7.9 7.4zM727.1 216.5l-7.9-7l-2.4 2.4l8 6.9zM714.5 214.3l-7.9-6.8l-2.4 2.4l8 6.7zM701.9 212.2l-7.9-6.6l-2.4 2.3l8 6.6zM689.3 210.2l-7.9-6.5l-2.4 2.3l8 6.4zM674.4 210.3l-8-6.2l-2.3 2.1l8 6.2zM661.8 208.3l-7.9-6.1l-2.4 2.1l8 6.1zM649.2 206.3l-7.9-6l-2.4 2.1l8 6zM636.6 204.4l-7.9-5.9l-2.4 2l8 5.9zM624 202.5l-7.9-5.8l-2.4 1.9l8 5.8zM621.7 204.4l-8-5.8l-2.3 2l8 5.7zM609.1 202.5l-8-5.7l-2.3 1.9l8 5.6zM596.5 200.5l-8-5.5l-2.3 1.8l8 5.6zM583.9 198.6l-7.9-5.4l-2.4 1.8l8 5.4zM571.3 196.8l-7.9-5.4l-2.4 1.8l8 5.3zM569 198.5l-8-5.3l-2.3 1.7l8 5.3zM558.7 194.9l-7.9-5.3l-2.4 1.8l8 5.3zM556.4 196.7l-8-5.3l-2.3 1.7l8 5.2zM543.8 194.8l-8-5.2l-2.3 1.7l8 5.2zM531.2 193l-8-5.2l-2.3 1.7l8 5.1zM518.6 191.1l-8-5l-2.3 1.6l8 5zM516.3 192.7l-8-5l-2.3 1.6l8 5zM506 189.3l-8-4.9l-2.3 1.6l8 4.9zM503.7 190.9l-8-4.9l-2.3 1.5l8 5zM491.1 189.1l-8-4.9l-2.3 1.6l8 4.8zM478.5 187.3l-8-4.8l-2.3 1.5l8 4.8zM465.9 185.5l-8-4.7l-2.3 1.5l8 4.7zM463.6 187l-8-4.7l-2.3 1.5l8 4.7zM453.3 183.8l-8-4.8l-2.3 1.5l8 4.7zM451 185.2l-8-4.7l-2.3 1.5l8 4.7zM440.7 182l-8-4.7l-2.3 1.5l8 4.6zM438.4 183.4l-8-4.6l-2.3 1.5l8 4.6zM425.8 181.7l-8-4.6l-2.3 1.4l8 4.6zM413.2 179.9l-8-4.5l-2.3 1.4l8 4.5zM410.9 181.3l-8-4.5l-2.3 1.4l8 4.5zM400.6 178.2l-8-4.5l-2.3 1.4l8 4.5zM398.3 179.6l-8-4.5l-2.3 1.4l8 4.4z"/>
<path fill="#0fbfe3" stroke="#0fbfe3" d="M742 216.1l-7.9-7.2l-2.3 2.6l7.9 7.1zM729.4 214l-7.9-7.1l-2.3 2.6l7.9 7zM716.8 211.9l-7.9-6.8l-2.3 2.4l7.9 6.8zM704.2 209.9l-7.9-6.7l-2.3 2.4l7.9 6.6zM691.6 207.9l-7.9-6.5l-2.3 2.3l7.9 6.5zM676.7 208.2l-7.9-6.4l-2.4 2.3l8 6.2zM664.1 206.2l-7.9-6.2l-2.3 2.2l7.9 6.1zM651.5 204.3l-7.9-6.1l-2.3 2.1l7.9 6zM638.9 202.4l-7.9-6l-2.3 2.1l7.9 5.9zM626.3 200.5l-7.9-5.9l-2.3 2.1l7.9 5.8zM613.7 198.6l-7.9-5.7l-2.3 2l7.9 5.7zM611.4 200.6l-7.9-5.7l-2.4 1.9l8 5.7zM598.8 198.7l-7.9-5.6l-2.4 1.9l8 5.5zM586.2 196.8l-7.9-5.5l-2.3 1.9l7.9 5.4zM573.6 195l-7.9-5.4l-2.3 1.8l7.9 5.4zM561 193.2l-7.9-5.4l-2.3 1.8l7.9 5.3zM548.4 191.4l-7.9-5.3l-2.3 1.8l7.9 5.2zM546.1 193.1l-7.9-5.2l-2.4 1.7l8 5.2zM535.8 189.6l-7.9-5.2l-2.3 1.7l7.9 5.2zM533.5 191.3l-7.9-5.2l-2.4 1.7l8 5.2zM520.9 189.5l-7.9-5.1l-2.4 1.7l8 5zM508.3 187.7l-7.9-5l-2.4 1.7l8 4.9zM495.7 186l-7.9-5l-2.4 1.6l8 4.9zM493.4 187.5l-8-4.9l-2.3 1.6l8 4.9zM483.1 184.2l-7.9-4.9l-2.3 1.6l7.9 4.9zM480.8 185.8l-7.9-4.9l-2.4 1.6l8 4.8zM470.5 182.5l-7.9-4.9l-2.3 1.6l7.9 4.8zM468.2 184l-7.9-4.8l-2.4 1.6l8 4.7zM455.6 182.3l-7.9-4.8l-2.4 1.5l8 4.8zM443 180.5l-7.9-4.7l-2.4 1.5l8 4.7zM430.4 178.8l-7.9-4.6l-2.4 1.4l8 4.7zM428.1 180.3l-8-4.7l-2.3 1.5l8 4.6zM417.8 177.1l-7.9-4.6l-2.4 1.5l8 4.5zM415.5 178.5l-8-4.5l-2.3 1.4l8 4.5zM405.2 175.4l-7.9-4.6l-2.3 1.5l7.9 4.5zM402.9 176.8l-7.9-4.5l-2.4 1.4l8 4.5z"/>
<path fill="#0ac1e0" stroke="#0ac1e0" d="M757 215.6l-8-7.6l-2.3 2.8l7.9 7.5zM744.4 213.5l-8-7.3l-2.3 2.7l7.9 7.2zM731.8 211.5l-8-7.2l-2.3 2.6l7.9 7.1zM719.2 209.5l-8-7l-2.3 2.6l7.9 6.8zM706.6 207.5l-8-6.8l-2.3 2.5l7.9 6.7zM694 205.6l-8-6.6l-2.3 2.4l7.9 6.5zM679 206l-7.9-6.4l-2.3 2.2l7.9 6.4zM666.4 204.1l-7.9-6.3l-2.3 2.2l7.9 6.2zM653.9 202.2l-8-6.2l-2.3 2.2l7.9 6.1zM641.3 200.3l-8-6l-2.3 2.1l7.9 6zM628.7 198.5l-8-5.9l-2.3 2l7.9 5.9zM616.1 196.7l-8-5.9l-2.3 2.1l7.9 5.7zM603.5 194.9l-8-5.8l-2.3 2l7.9 5.7zM601.1 196.8l-7.9-5.7l-2.3 2l7.9 5.6zM588.5 195l-7.9-5.6l-2.3 1.9l7.9 5.5zM576 193.2l-8-5.5l-2.3 1.9l7.9 5.4zM563.4 191.4l-8-5.4l-2.3 1.8l7.9 5.4zM550.8 189.6l-8-5.3l-2.3 1.8l7.9 5.3zM538.2 187.9l-8-5.3l-2.3 1.8l7.9 5.2zM525.6 186.1l-8-5.1l-2.3 1.7l7.9 5.1zM523.2 187.8l-7.9-5.1l-2.3 1.7l7.9 5.1zM513 184.4l-8-5.1l-2.3 1.7l7.9 5.1zM510.6 186.1l-7.9-5.1l-2.3 1.7l7.9 5zM500.4 182.7l-8-5l-2.3 1.7l7.9 5zM498 184.4l-7.9-5l-2.3 1.6l7.9 5zM485.4 182.6l-7.9-4.9l-2.3 1.6l7.9 4.9zM472.9 180.9l-8-4.8l-2.3 1.5l7.9 4.9zM460.3 179.2l-8-4.8l-2.3 1.6l7.9 4.8zM457.9 180.8l-7.9-4.8l-2.3 1.5l7.9 4.8zM447.7 177.5l-8-4.7l-2.3 1.5l7.9 4.7zM445.3 179l-7.9-4.7l-2.3 1.5l7.9 4.7zM435.1 175.8l-8-4.7l-2.3 1.6l7.9 4.6zM432.7 177.3l-7.9-4.6l-2.3 1.5l7.9 4.6zM422.5 174.2l-8-4.7l-2.3 1.5l7.9 4.6zM420.1 175.6l-7.9-4.6l-2.3 1.5l7.9 4.6zM409.9 172.5l-8-4.6l-2.3 1.5l7.9 4.6zM407.5 174l-7.9-4.6l-2.3 1.4l7.9 4.6z"/>
<path fill="#06c2dd" stroke="#06c2dd" d="M746.7 210.8l-8-7.4l-2.3 2.8l8 7.3zM734.1 208.9l-8-7.3l-2.3 2.7l8 7.2zM721.5 206.9l-8-7l-2.3 2.6l8 7zM708.9 205.1l-8-6.9l-2.3 2.5l8 6.8zM696.3 203.2l-8-6.7l-2.3 2.5l8 6.6zM681.4 203.7l-8-6.5l-2.3 2.4l7.9 6.4zM668.8 201.8l-8-6.3l-2.3 2.3l7.9 6.3zM656.2 200l-8-6.2l-2.3 2.2l8 6.2zM643.6 198.2l-8-6.1l-2.3 2.2l8 6zM631 196.4l-8-6l-2.3 2.2l8 5.9zM618.4 194.6l-8-5.8l-2.3 2l8 5.9zM605.8 192.9l-8-5.8l-2.3 2l8 5.8zM593.2 191.1l-8-5.6l-2.3 2l8 5.6zM590.9 193.1l-8-5.6l-2.3 1.9l7.9 5.6zM580.6 189.4l-8-5.6l-2.3 2l8 5.5zM578.3 191.3l-8-5.5l-2.3 1.9l8 5.5zM565.7 189.6l-8-5.5l-2.3 1.9l8 5.4zM553.1 187.8l-8-5.3l-2.3 1.8l8 5.3zM540.5 186.1l-8-5.3l-2.3 1.8l8 5.3zM527.9 184.4l-8-5.2l-2.3 1.8l8 5.1zM515.3 182.7l-8-5.1l-2.3 1.7l8 5.1zM502.7 181l-8-5l-2.3 1.7l8 5zM490.1 179.4l-8-5l-2.3 1.7l8 4.9zM487.8 181l-8-4.9l-2.3 1.6l7.9 4.9zM477.5 177.7l-8-4.9l-2.3 1.6l8 4.9zM475.2 179.3l-8-4.9l-2.3 1.7l8 4.8zM464.9 176.1l-8-4.9l-2.3 1.6l8 4.8zM462.6 177.6l-8-4.8l-2.3 1.6l8 4.8zM452.3 174.4l-8-4.8l-2.3 1.6l8 4.8zM450 176l-8-4.8l-2.3 1.6l8 4.7zM437.4 174.3l-8-4.7l-2.3 1.5l8 4.7zM424.8 172.7l-8-4.7l-2.3 1.5l8 4.7zM412.2 171l-8-4.6l-2.3 1.5l8 4.6z"/>
<path fill="#02c4d9" stroke="#02c4d9" d="M749 208l-8-7.5l-2.3 2.9l8 7.4zM736.4 206.2l-8-7.4l-2.3 2.8l8 7.3zM723.8 204.3l-8-7.1l-2.3 2.7l8 7zM711.2 202.5l-8-7l-2.3 2.7l8 6.9zM683.7 201.4l-8-6.6l-2.3 2.4l8 6.5zM671.1 199.6l-8-6.5l-2.3 2.4l8 6.3zM658.5 197.8l-8-6.3l-2.3 2.3l8 6.2zM645.9 196l-8-6.1l-2.3 2.2l8 6.1zM633.3 194.3l-8-6.1l-2.3 2.2l8 6zM620.7 192.6l-8-6l-2.3 2.2l8 5.8zM608.1 190.8l-8-5.8l-2.3 2.1l8 5.8zM595.5 189.1l-8-5.7l-2.3 2.1l8 5.6zM582.9 187.5l-8-5.6l-2.3 1.9l8 5.6zM570.3 185.8l-8-5.5l-2.3 1.9l8 5.5zM568 187.7l-8-5.5l-2.3 1.9l8 5.5zM557.7 184.1l-8-5.4l-2.3 1.9l8 5.4zM555.4 186l-8-5.4l-2.3 1.9l8 5.3zM545.1 182.5l-8-5.4l-2.3 1.9l8 5.3zM542.8 184.3l-8-5.3l-2.3 1.8l8 5.3zM532.5 180.8l-7.9-5.2l-2.4 1.8l8 5.2zM530.2 182.6l-8-5.2l-2.3 1.8l8 5.2zM517.6 181l-8-5.2l-2.3 1.8l8 5.1zM505 179.3l-8-5.1l-2.3 1.8l8 5zM492.4 177.7l-8-5l-2.3 1.7l8 5zM479.8 176.1l-8-5l-2.3 1.7l8 4.9zM467.2 174.4l-8-4.9l-2.3 1.7l8 4.9zM454.6 172.8l-8-4.8l-2.3 1.6l8 4.8zM442 171.2l-8-4.8l-2.3 1.6l8 4.8zM439.7 172.8l-8-4.8l-2.3 1.6l8 4.7zM429.4 169.6l-7.9-4.7l-2.4 1.5l8 4.7zM427.1 171.1l-8-4.7l-2.3 1.6l8 4.7zM416.8 168l-7.9-4.7l-2.4 1.6l8 4.6zM414.5 169.5l-8-4.6l-2.3 1.5l8 4.6z"/>
<path fill="#01c5d6" stroke="#01c5d6" d="M698.6 200.7l-8-6.8l-2.3 2.6l8 6.7zM686 199l-8-6.7l-2.3 2.5l8 6.6zM673.4 197.2l-8-6.5l-2.3 2.4l8 6.5zM660.8 195.5l-8-6.4l-2.3 2.4l8 6.3zM648.2 193.8l-8-6.2l-2.3 2.3l8 6.1zM635.6 192.1l-8-6.1l-2.3 2.2l8 6.1zM623 190.4l-8-5.9l-2.3 2.1l8 6zM610.4 188.8l-7.9-5.9l-2.4 2.1l8 5.8zM597.8 187.1l-7.9-5.7l-2.4 2l8 5.7zM585.2 185.5l-7.9-5.7l-2.4 2.1l8 5.6zM572.6 183.8l-7.9-5.5l-2.4 2l8 5.5zM560 182.2l-7.9-5.4l-2.4 1.9l8 5.4zM547.4 180.6l-7.9-5.4l-2.4 1.9l8 5.4zM534.8 179l-7.9-5.3l-2.3 1.9l7.9 5.2zM522.2 177.4l-7.9-5.2l-2.3 1.8l7.9 5.2zM519.9 179.2l-7.9-5.2l-2.4 1.8l8 5.2zM509.6 175.8l-7.9-5.1l-2.3 1.8l7.9 5.1zM507.3 177.6l-7.9-5.1l-2.4 1.7l8 5.1zM497 174.2l-7.9-5l-2.3 1.7l7.9 5.1zM494.7 176l-7.9-5.1l-2.4 1.8l8 5zM484.4 172.7l-7.9-5l-2.3 1.7l7.9 5zM482.1 174.4l-7.9-5l-2.4 1.7l8 5zM471.8 171.1l-7.9-5l-2.3 1.8l7.9 4.9zM469.5 172.8l-7.9-4.9l-2.4 1.6l8 4.9zM459.2 169.5l-7.9-4.9l-2.3 1.7l7.9 4.9zM456.9 171.2l-7.9-4.9l-2.4 1.7l8 4.8zM446.6 168l-7.9-4.9l-2.3 1.7l7.9 4.8zM444.3 169.6l-7.9-4.8l-2.4 1.6l8 4.8zM431.7 168l-7.9-4.7l-2.3 1.6l7.9 4.7zM419.1 166.4l-7.9-4.6l-2.3 1.5l7.9 4.7z"/>
<path fill="#02c7d3" stroke="#02c7d3" d="M738.7 203.4l-8-7.5l-2.3 2.9l8 7.4zM726.1 201.6l-8-7.3l-2.3 2.9l8 7.1zM713.5 199.9l-7.9-7.1l-2.4 2.7l8 7zM700.9 198.2l-7.9-6.9l-2.4 2.6l8 6.8zM688.3 196.5l-7.9-6.7l-2.4 2.5l8 6.7zM675.7 194.8l-7.9-6.6l-2.4 2.5l8 6.5zM663.1 193.1l-7.9-6.4l-2.4 2.4l8 6.4zM650.5 191.5l-7.9-6.3l-2.4 2.4l8 6.2zM637.9 189.9l-7.9-6.2l-2.4 2.3l8 6.1zM625.3 188.2l-7.9-6l-2.4 2.3l8 5.9zM612.7 186.6l-7.9-5.9l-2.3 2.2l7.9 5.9zM600.1 185l-7.9-5.8l-2.3 2.2l7.9 5.7zM587.5 183.4l-7.9-5.7l-2.3 2.1l7.9 5.7zM574.9 181.9l-7.9-5.7l-2.3 2.1l7.9 5.5zM562.3 180.3l-7.9-5.5l-2.3 2l7.9 5.4zM549.7 178.7l-7.9-5.4l-2.3 1.9l7.9 5.4zM537.1 177.1l-7.9-5.3l-2.3 1.9l7.9 5.3zM524.6 175.6l-8-5.3l-2.3 1.9l7.9 5.2zM512 174l-8-5.2l-2.3 1.9l7.9 5.1zM499.4 172.5l-8-5.1l-2.3 1.8l7.9 5zM486.8 170.9l-8-5l-2.3 1.8l7.9 5zM474.2 169.4l-8-5l-2.3 1.7l7.9 5zM461.6 167.9l-8-5l-2.3 1.7l7.9 4.9zM449 166.3l-8-4.8l-2.3 1.6l7.9 4.9zM436.4 164.8l-8-4.8l-2.3 1.7l7.9 4.7zM434 166.4l-7.9-4.7l-2.3 1.6l7.9 4.7zM423.8 163.3l-8-4.8l-2.3 1.7l8 4.7zM421.5 164.9l-8-4.7l-2.3 1.6l7.9 4.6z"/>
<path fill="#05c8cf" stroke="#05c8cf" d="M741 200.5l-7.9-7.6l-2.4 3l8 7.5zM728.4 198.8l-7.9-7.4l-2.4 2.9l8 7.3zM715.8 197.2l-7.9-7.2l-2.3 2.8l7.9 7.1zM703.2 195.5l-7.9-6.9l-2.3 2.7l7.9 6.9zM690.6 193.9l-7.9-6.8l-2.3 2.7l7.9 6.7zM678 192.3l-7.9-6.6l-2.3 2.5l7.9 6.6zM665.4 190.7l-7.9-6.5l-2.3 2.5l7.9 6.4zM652.8 189.1l-7.9-6.3l-2.3 2.4l7.9 6.3zM640.2 187.6l-7.9-6.2l-2.3 2.3l7.9 6.2zM627.6 186l-7.9-6.1l-2.3 2.3l7.9 6zM615 184.5l-7.9-6l-2.3 2.2l7.9 5.9zM602.5 182.9l-8-5.9l-2.3 2.2l7.9 5.8zM589.9 181.4l-8-5.8l-2.3 2.1l7.9 5.7zM577.3 179.8l-8-5.6l-2.3 2l7.9 5.7zM564.7 178.3l-8-5.6l-2.3 2.1l7.9 5.5zM552.1 176.8l-8-5.5l-2.3 2l7.9 5.4zM539.5 175.2l-8-5.4l-2.3 2l7.9 5.3zM526.9 173.7l-8-5.3l-2.3 1.9l8 5.3zM514.3 172.2l-8-5.2l-2.3 1.8l8 5.2zM501.7 170.7l-8-5.2l-2.3 1.9l8 5.1zM489.1 169.2l-8-5.1l-2.3 1.8l8 5zM476.5 167.7l-8-5.1l-2.3 1.8l8 5zM463.9 166.1l-8-4.9l-2.3 1.7l8 5zM451.3 164.6l-8-4.8l-2.3 1.7l8 4.8zM438.7 163.1l-8-4.8l-2.3 1.7l8 4.8zM426.1 161.7l-8-4.8l-2.3 1.6l8 4.8z"/>
<path fill="#09cacb" stroke="#09cacb" d="M730.7 195.9l-7.9-7.5l-2.3 3l7.9 7.4zM718.1 194.3l-7.9-7.2l-2.3 2.9l7.9 7.2zM705.6 192.8l-8-7.1l-2.3 2.9l7.9 6.9zM693 191.3l-8-6.9l-2.3 2.7l7.9 6.8zM680.4 189.8l-8-6.8l-2.3 2.7l7.9 6.6zM667.8 188.2l-8-6.5l-2.3 2.5l7.9 6.5zM655.2 186.7l-8-6.4l-2.3 2.5l7.9 6.3zM642.6 185.2l-8-6.3l-2.3 2.5l7.9 6.2zM630 183.7l-8-6.1l-2.3 2.3l7.9 6.1zM617.4 182.2l-8-6l-2.3 2.3l7.9 6zM604.8 180.7l-8-5.9l-2.3 2.2l8 5.9zM592.2 179.2l-8-5.8l-2.3 2.2l8 5.8zM579.6 177.7l-8-5.7l-2.3 2.2l8 5.6zM567 176.2l-8-5.6l-2.3 2.1l8 5.6zM554.4 174.8l-8-5.6l-2.3 2.1l8 5.5zM541.8 173.3l-8-5.5l-2.3 2l8 5.4zM531.5 169.8l-8-5.4l-2.3 2l8 5.4zM529.2 171.8l-8-5.4l-2.3 2l8 5.3zM518.9 168.4l-8-5.3l-2.3 1.9l8 5.3zM516.6 170.3l-8-5.3l-2.3 2l8 5.2zM506.3 167l-8-5.3l-2.3 1.9l8 5.2zM504 168.8l-8-5.2l-2.3 1.9l8 5.2zM493.7 165.5l-8-5.1l-2.3 1.8l8 5.2zM491.4 167.4l-8-5.2l-2.3 1.9l8 5.1zM481.1 164.1l-7.9-5.1l-2.4 1.8l8 5.1zM478.8 165.9l-8-5.1l-2.3 1.8l8 5.1zM468.5 162.6l-7.9-5l-2.4 1.8l8 5zM466.2 164.4l-8-5l-2.3 1.8l8 4.9zM455.9 161.2l-7.9-5l-2.4 1.8l8 4.9zM453.6 162.9l-8-4.9l-2.3 1.8l8 4.8zM443.3 159.8l-7.9-4.9l-2.4 1.7l8 4.9zM441 161.5l-8-4.9l-2.3 1.7l8 4.8zM430.7 158.3l-7.9-4.8l-2.4 1.7l8 4.8zM428.4 160l-8-4.8l-2.3 1.7l8 4.8z"/>
<path fill="#0fcbc8" stroke="#0fcbc8" d="M720.5 191.4l-8-7.3l-2.3 3l7.9 7.2zM707.9 190l-8-7.2l-2.3 2.9l8 7.1zM695.3 188.6l-8-7l-2.3 2.8l8 6.9zM682.7 187.1l-8-6.8l-2.3 2.7l8 6.8zM670.1 185.7l-8-6.7l-2.3 2.7l8 6.5zM657.5 184.2l-8-6.5l-2.3 2.6l8 6.4zM644.9 182.8l-8-6.4l-2.3 2.5l8 6.3zM632.3 181.4l-8-6.3l-2.3 2.5l8 6.1zM619.7 179.9l-8-6.1l-2.3 2.4l8 6zM607.1 178.5l-8-6l-2.3 2.3l8 5.9zM594.5 177l-8-5.8l-2.3 2.2l8 5.8zM581.9 175.6l-8-5.8l-2.3 2.2l8 5.7zM569.3 174.2l-8-5.7l-2.3 2.1l8 5.6zM559 170.6l-7.9-5.6l-2.4 2.2l8 5.5zM556.7 172.7l-8-5.5l-2.3 2l8 5.6zM546.4 169.2l-7.9-5.5l-2.4 2.1l8 5.5zM544.1 171.3l-8-5.5l-2.3 2l8 5.5zM533.8 167.8l-7.9-5.4l-2.4 2l8 5.4zM521.2 166.4l-7.9-5.3l-2.4 2l8 5.3zM508.6 165l-7.9-5.2l-2.4 1.9l8 5.3zM496 163.6l-7.9-5.2l-2.4 2l8 5.1zM483.4 162.2l-7.9-5.1l-2.3 1.9l7.9 5.1zM470.8 160.8l-7.9-5l-2.3 1.8l7.9 5zM458.2 159.4l-7.9-5l-2.3 1.8l7.9 5zM445.6 158l-7.9-4.9l-2.3 1.8l7.9 4.9zM433 156.6l-7.9-4.9l-2.3 1.8l7.9 4.8z"/>
<path fill="#17ccc4" stroke="#17ccc4" d="M733.1 192.9l-8-7.6l-2.3 3.1l7.9 7.5zM697.6 185.7l-8-7l-2.3 2.9l8 7zM685 184.4l-8-6.9l-2.3 2.8l8 6.8zM672.4 183l-8-6.7l-2.3 2.7l8 6.7zM659.8 181.7l-8-6.6l-2.3 2.6l8 6.5zM647.2 180.3l-8-6.4l-2.3 2.5l8 6.4zM634.6 178.9l-8-6.2l-2.3 2.4l8 6.3zM622 177.6l-8-6.2l-2.3 2.4l8 6.1zM609.4 176.2l-8-6.1l-2.3 2.4l8 6zM596.8 174.8l-8-5.9l-2.3 2.3l8 5.8zM584.2 173.4l-8-5.8l-2.3 2.2l8 5.8zM573.9 169.8l-7.9-5.7l-2.4 2.2l8 5.7zM571.6 172l-8-5.7l-2.3 2.2l8 5.7zM561.3 168.5l-7.9-5.7l-2.3 2.2l7.9 5.6zM548.7 167.2l-7.9-5.6l-2.3 2.1l7.9 5.5zM536.1 165.8l-7.9-5.5l-2.3 2.1l7.9 5.4zM523.5 164.4l-7.9-5.3l-2.3 2l7.9 5.3zM510.9 163.1l-7.9-5.3l-2.3 2l7.9 5.2zM498.3 161.7l-7.9-5.2l-2.3 1.9l7.9 5.2zM485.7 160.4l-7.9-5.2l-2.3 1.9l7.9 5.1zM473.2 159l-8-5.1l-2.3 1.9l7.9 5zM462.9 155.8l-8-5.1l-2.3 1.9l8 5zM460.6 157.6l-8-5l-2.3 1.8l7.9 5zM450.3 154.4l-8-4.9l-2.3 1.8l8 4.9zM448 156.2l-8-4.9l-2.3 1.8l7.9 4.9zM437.7 153.1l-8-4.9l-2.3 1.8l8 4.9zM435.4 154.9l-8-4.9l-2.3 1.7l7.9 4.9z"/>
<path fill="#1dcdc0" stroke="#1dcdc0" d="M722.8 188.4l-8-7.4l-2.3 3.1l8 7.3zM710.2 187.1l-8-7.3l-2.3 3l8 7.2zM674.7 180.3l-8-6.8l-2.3 2.8l8 6.7zM662.1 179l-7.9-6.6l-2.4 2.7l8 6.6zM649.5 177.7l-7.9-6.4l-2.4 2.6l8 6.4zM636.9 176.4l-7.9-6.3l-2.4 2.6l8 6.2zM624.3 175.1l-7.9-6.2l-2.4 2.5l8 6.2zM611.7 173.8l-7.9-6.1l-2.4 2.4l8 6.1zM599.1 172.5l-7.9-6l-2.4 2.4l8 5.9zM586.5 171.2l-7.9-5.9l-2.4 2.3l8 5.8zM576.2 167.6l-7.9-5.8l-2.3 2.3l7.9 5.7zM563.6 166.3l-7.9-5.7l-2.3 2.2l7.9 5.7zM551.1 165l-8-5.6l-2.3 2.2l7.9 5.6zM538.5 163.7l-8-5.5l-2.3 2.1l7.9 5.5zM525.9 162.4l-8-5.4l-2.3 2.1l7.9 5.3zM513.3 161.1l-8-5.4l-2.3 2.1l7.9 5.3zM500.7 159.8l-8-5.3l-2.3 2l7.9 5.2zM490.4 156.5l-8-5.2l-2.3 2l8 5.1zM488.1 158.4l-8-5.1l-2.3 1.9l7.9 5.2zM477.8 155.2l-8-5.2l-2.3 2l8 5.1zM475.5 157.1l-8-5.1l-2.3 1.9l8 5.1zM465.2 153.9l-8-5.1l-2.3 1.9l8 5.1zM452.6 152.6l-8-5l-2.3 1.9l8 4.9zM440 151.3l-8-5l-2.3 1.9l8 4.9z"/>
<path fill="#23cebd" stroke="#23cebd" d="M725.1 185.3l-8-7.6l-2.3 3.3l8 7.4zM712.5 184.1l-8-7.4l-2.3 3.1l8 7.3zM699.9 182.8l-8-7.1l-2.3 3l8 7zM687.3 181.6l-8-7l-2.3 2.9l8 6.9zM664.4 176.3l-7.9-6.7l-2.3 2.8l7.9 6.6zM651.8 175.1l-7.9-6.6l-2.3 2.8l7.9 6.4zM639.2 173.9l-7.9-6.4l-2.3 2.6l7.9 6.3zM626.6 172.7l-7.9-6.3l-2.3 2.5l7.9 6.2zM614 171.4l-7.9-6.2l-2.3 2.5l7.9 6.1zM601.4 170.1l-7.9-6l-2.3 2.4l7.9 6zM588.8 168.9l-7.9-5.9l-2.3 2.3l7.9 5.9zM578.6 165.3l-8-5.9l-2.3 2.4l7.9 5.8zM566 164.1l-8-5.8l-2.3 2.3l7.9 5.7zM553.4 162.8l-8-5.6l-2.3 2.2l8 5.6zM540.8 161.6l-8-5.6l-2.3 2.2l8 5.5zM528.2 160.3l-8-5.5l-2.3 2.2l8 5.4zM515.6 159.1l-8-5.4l-2.3 2l8 5.4zM505.3 155.7l-8-5.3l-2.3 2.1l8 5.3zM503 157.8l-8-5.3l-2.3 2l8 5.3zM492.7 154.5l-8-5.3l-2.3 2.1l8 5.2zM480.1 153.3l-8-5.2l-2.3 1.9l8 5.2zM467.5 152l-8-5.1l-2.3 1.9l8 5.1zM454.9 150.7l-8-5l-2.3 1.9l8 5zM442.3 149.5l-8-5l-2.3 1.8l8 5z"/>
<path fill="#28cfb9" stroke="#28cfb9" d="M714.8 181l-7.9-7.5l-2.4 3.2l8 7.4zM702.2 179.8l-7.9-7.2l-2.4 3.1l8 7.1zM689.6 178.7l-7.9-7.1l-2.4 3l8 7zM677 177.5l-7.9-6.9l-2.4 2.9l8 6.8zM641.6 171.3l-8-6.5l-2.3 2.7l7.9 6.4zM629 170.1l-8-6.4l-2.3 2.7l7.9 6.3zM616.4 168.9l-8-6.2l-2.3 2.5l7.9 6.2zM603.8 167.7l-8-6.1l-2.3 2.5l7.9 6zM591.2 166.5l-8-5.9l-2.3 2.4l7.9 5.9zM580.9 163l-8-6l-2.3 2.4l8 5.9zM568.3 161.8l-8-5.8l-2.3 2.3l8 5.8zM555.7 160.6l-8-5.7l-2.3 2.3l8 5.6zM543.1 159.4l-8-5.6l-2.3 2.2l8 5.6zM530.5 158.2l-8-5.5l-2.3 2.1l8 5.5zM517.9 157l-8-5.5l-2.3 2.2l8 5.4zM507.6 153.7l-7.9-5.4l-2.4 2.1l8 5.3zM495 152.5l-7.9-5.3l-2.4 2l8 5.3zM482.4 151.3l-7.9-5.3l-2.4 2.1l8 5.2zM469.8 150l-7.9-5.1l-2.4 2l8 5.1zM457.2 148.8l-7.9-5.1l-2.4 2l8 5zM446.9 145.7l-7.9-5.1l-2.3 2l7.9 5zM444.6 147.6l-7.9-5l-2.4 1.9l8 5z"/>
<path fill="#2cd1b5" stroke="#2cd1b5" d="M691.9 175.7l-7.9-7.2l-2.3 3.1l7.9 7.1zM679.3 174.6l-7.9-7l-2.3 3l7.9 6.9zM666.7 173.5l-7.9-6.8l-2.3 2.9l7.9 6.7zM654.2 172.4l-8-6.6l-2.3 2.7l7.9 6.6zM643.9 168.5l-8-6.5l-2.3 2.8l8 6.5zM631.3 167.5l-8-6.5l-2.3 2.7l8 6.4zM618.7 166.4l-8-6.3l-2.3 2.6l8 6.2zM606.1 165.2l-8-6.1l-2.3 2.5l8 6.1zM593.5 164.1l-8-6l-2.3 2.5l8 5.9zM583.2 160.6l-8-6l-2.3 2.4l8 6zM570.6 159.4l-8-5.8l-2.3 2.4l8 5.8zM558 158.3l-8-5.7l-2.3 2.3l8 5.7zM545.4 157.2l-8-5.7l-2.3 2.3l8 5.6zM532.8 156l-8-5.5l-2.3 2.2l8 5.5zM522.5 152.7l-7.9-5.5l-2.4 2.2l8 5.4zM520.2 154.8l-8-5.4l-2.3 2.1l8 5.5zM509.9 151.5l-7.9-5.4l-2.3 2.2l7.9 5.4zM497.3 150.4l-7.9-5.4l-2.3 2.2l7.9 5.3zM484.7 149.2l-7.9-5.2l-2.3 2l7.9 5.3zM472.1 148.1l-7.9-5.2l-2.3 2l7.9 5.1zM461.9 144.9l-8-5.2l-2.3 2.1l7.9 5.1zM459.5 146.9l-7.9-5.1l-2.3 1.9l7.9 5.1zM449.3 143.7l-8-5.1l-2.3 2l7.9 5.1z"/>
<path fill="#30d2b1" stroke="#30d2b1" d="M717.1 177.7l-7.9-7.6l-2.3 3.4l7.9 7.5zM704.5 176.7l-7.9-7.3l-2.3 3.2l7.9 7.2zM681.7 171.6l-8-7.1l-2.3 3.1l7.9 7zM669.1 170.6l-8-6.9l-2.3 3l7.9 6.8zM656.5 169.6l-8-6.7l-2.3 2.9l8 6.6zM633.6 164.8l-8-6.5l-2.3 2.7l8 6.5zM621 163.7l-8-6.3l-2.3 2.7l8 6.3zM608.4 162.7l-8-6.2l-2.3 2.6l8 6.1zM595.8 161.6l-8-6.1l-2.3 2.6l8 6zM572.9 157l-7.9-5.9l-2.4 2.5l8 5.8zM560.3 156l-7.9-5.8l-2.4 2.4l8 5.7zM547.7 154.9l-7.9-5.7l-2.4 2.3l8 5.7zM535.1 153.8l-7.9-5.6l-2.4 2.3l8 5.5zM524.8 150.5l-7.9-5.6l-2.3 2.3l7.9 5.5zM512.2 149.4l-7.9-5.5l-2.3 2.2l7.9 5.4zM499.7 148.3l-8-5.4l-2.3 2.1l7.9 5.4zM487.1 147.2l-8-5.3l-2.3 2.1l7.9 5.2zM476.8 144l-8-5.3l-2.3 2.1l8 5.2zM474.5 146l-8-5.2l-2.3 2.1l7.9 5.2zM464.2 142.9l-8-5.2l-2.3 2l8 5.2zM451.6 141.8l-8-5.2l-2.3 2l8 5.1z"/>
<path fill="#33d3ad" stroke="#33d3ad" d="M706.9 173.5l-8-7.5l-2.3 3.4l7.9 7.3zM694.3 172.6l-8-7.3l-2.3 3.2l7.9 7.2zM671.4 167.6l-8-6.9l-2.3 3l8 6.9zM658.8 166.7l-8-6.8l-2.3 3l8 6.7zM646.2 165.8l-8-6.7l-2.3 2.9l8 6.5zM623.3 161l-8-6.4l-2.3 2.8l8 6.3zM610.7 160.1l-7.9-6.3l-2.4 2.7l8 6.2zM598.1 159.1l-7.9-6.2l-2.4 2.6l8 6.1zM585.5 158.1l-7.9-6.1l-2.4 2.6l8 6zM575.2 154.6l-7.9-6l-2.3 2.5l7.9 5.9zM562.6 153.6l-7.9-5.9l-2.3 2.5l7.9 5.8zM550 152.6l-7.9-5.8l-2.3 2.4l7.9 5.7zM537.4 151.5l-7.9-5.6l-2.3 2.3l7.9 5.6zM527.2 148.2l-8-5.6l-2.3 2.3l7.9 5.6zM514.6 147.2l-8-5.6l-2.3 2.3l7.9 5.5zM502 146.1l-8-5.4l-2.3 2.2l8 5.4zM489.4 145l-8-5.3l-2.3 2.2l8 5.3zM479.1 141.9l-8-5.4l-2.3 2.2l8 5.3zM466.5 140.8l-8-5.2l-2.3 2.1l8 5.2zM453.9 139.7l-8-5.1l-2.3 2l8 5.2z"/>
<path fill="#36d4a9" stroke="#36d4a9" d="M709.2 170.1l-8-7.5l-2.3 3.4l8 7.5zM696.6 169.4l-8-7.4l-2.3 3.3l8 7.3zM684 168.5l-8-7.1l-2.3 3.1l8 7.1zM661.1 163.7l-8-6.9l-2.3 3.1l8 6.8zM648.5 162.9l-8-6.7l-2.3 2.9l8 6.7zM635.9 162l-8-6.6l-2.3 2.9l8 6.5zM613 157.4l-7.9-6.4l-2.3 2.8l7.9 6.3zM600.4 156.5l-7.9-6.2l-2.3 2.6l7.9 6.2zM587.8 155.5l-7.9-6l-2.3 2.5l7.9 6.1zM577.6 152l-8-6l-2.3 2.6l7.9 6zM565 151.1l-8-5.9l-2.3 2.5l7.9 5.9zM552.4 150.2l-8-5.8l-2.3 2.4l7.9 5.8zM539.8 149.2l-8-5.7l-2.3 2.4l7.9 5.6zM529.5 145.9l-8-5.7l-2.3 2.4l8 5.6zM516.9 144.9l-8-5.6l-2.3 2.3l8 5.6zM504.3 143.9l-8-5.5l-2.3 2.3l8 5.4zM491.7 142.9l-8-5.4l-2.3 2.2l8 5.3zM481.4 139.7l-8-5.4l-2.3 2.2l8 5.4zM468.8 138.7l-8-5.3l-2.3 2.2l8 5.2zM456.2 137.7l-7.9-5.2l-2.4 2.1l8 5.1z"/>
<path fill="#39d5a4" stroke="#39d5a4" d="M686.3 165.3l-8-7.2l-2.3 3.3l8 7.1zM673.7 164.5l-8-7l-2.3 3.2l8 6.9zM650.8 159.9l-7.9-6.8l-2.4 3.1l8 6.7zM638.2 159.1l-7.9-6.6l-2.4 2.9l8 6.6zM625.6 158.3l-7.9-6.5l-2.4 2.8l8 6.4zM615.3 154.6l-7.9-6.4l-2.3 2.8l7.9 6.4zM602.8 153.8l-8-6.3l-2.3 2.8l7.9 6.2zM590.2 152.9l-8-6.1l-2.3 2.7l7.9 6zM567.3 148.6l-8-6l-2.3 2.6l8 5.9zM554.7 147.7l-8-5.8l-2.3 2.5l8 5.8zM542.1 146.8l-8-5.8l-2.3 2.5l8 5.7zM531.8 143.5l-8-5.7l-2.3 2.4l8 5.7zM519.2 142.6l-8-5.6l-2.3 2.3l8 5.6zM506.6 141.6l-8-5.5l-2.3 2.3l8 5.5zM494 140.7l-8-5.5l-2.3 2.3l8 5.4zM483.7 137.5l-7.9-5.4l-2.4 2.2l8 5.4zM471.1 136.5l-7.9-5.3l-2.4 2.2l8 5.3zM458.5 135.6l-7.9-5.3l-2.3 2.2l7.9 5.2z"/>
<path fill="#3cd6a0" stroke="#3cd6a0" d="M698.9 166l-8-7.4l-2.3 3.4l8 7.4zM676 161.4l-7.9-7.2l-2.4 3.3l8 7zM663.4 160.7l-7.9-7l-2.4 3.1l8 6.9zM640.5 156.2l-7.9-6.8l-2.3 3.1l7.9 6.6zM627.9 155.4l-7.9-6.6l-2.3 3l7.9 6.5zM605.1 151l-8-6.3l-2.3 2.8l8 6.3zM592.5 150.3l-8-6.2l-2.3 2.7l8 6.1zM579.9 149.5l-8-6.1l-2.3 2.6l8 6zM569.6 146l-8-6l-2.3 2.6l8 6zM557 145.2l-8-5.9l-2.3 2.6l8 5.8zM544.4 144.4l-8-5.9l-2.3 2.5l8 5.8zM534.1 141l-7.9-5.7l-2.4 2.5l8 5.7zM521.5 140.2l-7.9-5.7l-2.4 2.5l8 5.6zM508.9 139.3l-7.9-5.5l-2.4 2.3l8 5.5zM498.6 136.1l-7.9-5.5l-2.3 2.4l7.9 5.4zM496.3 138.4l-7.9-5.4l-2.4 2.2l8 5.5zM486 135.2l-7.9-5.4l-2.3 2.3l7.9 5.4zM473.4 134.3l-7.9-5.3l-2.3 2.2l7.9 5.3zM460.8 133.4l-7.9-5.2l-2.3 2.1l7.9 5.3z"/>
<path fill="#41d79b" stroke="#41d79b" d="M701.2 162.6l-8-7.6l-2.3 3.6l8 7.4zM688.6 162l-7.9-7.4l-2.4 3.5l8 7.2zM665.7 157.5l-7.9-7.1l-2.3 3.3l7.9 7zM653.1 156.8l-7.9-6.8l-2.3 3.1l7.9 6.8zM630.3 152.5l-8-6.7l-2.3 3l7.9 6.6zM617.7 151.8l-8-6.5l-2.3 2.9l7.9 6.4zM594.8 147.5l-8-6.3l-2.3 2.9l8 6.2zM582.2 146.8l-8-6.2l-2.3 2.8l8 6.1zM559.3 142.6l-7.9-5.9l-2.4 2.6l8 5.9zM546.7 141.9l-7.9-5.9l-2.4 2.5l8 5.9zM523.8 137.8l-7.9-5.7l-2.3 2.4l7.9 5.7zM511.2 137l-7.9-5.7l-2.3 2.5l7.9 5.5zM488.4 133l-8-5.5l-2.3 2.3l7.9 5.4zM475.8 132.1l-8-5.4l-2.3 2.3l7.9 5.3zM465.5 129l-8-5.3l-2.3 2.2l8 5.3zM463.2 131.2l-8-5.3l-2.3 2.3l7.9 5.2z"/>
<path fill="#45d896" stroke="#45d896" d="M690.9 158.6l-7.9-7.5l-2.3 3.5l7.9 7.4zM678.3 158.1l-7.9-7.3l-2.3 3.4l7.9 7.2zM655.5 153.7l-8-7l-2.3 3.3l7.9 6.8zM642.9 153.1l-8-6.8l-2.3 3.1l7.9 6.8zM620 148.8l-8-6.5l-2.3 3l8 6.5zM607.4 148.2l-8-6.4l-2.3 2.9l8 6.3zM597.1 144.7l-8-6.4l-2.3 2.9l8 6.3zM584.5 144.1l-8-6.3l-2.3 2.8l8 6.2zM571.9 143.4l-8-6.1l-2.3 2.7l8 6zM561.6 140l-7.9-6.1l-2.3 2.8l7.9 5.9zM549 139.3l-7.9-5.9l-2.3 2.6l7.9 5.9zM536.4 138.5l-7.9-5.8l-2.3 2.6l7.9 5.7zM526.2 135.3l-8-5.8l-2.3 2.6l7.9 5.7zM513.6 134.5l-8-5.6l-2.3 2.4l7.9 5.7zM501 133.8l-8-5.6l-2.3 2.4l7.9 5.5zM490.7 130.6l-8-5.5l-2.3 2.4l8 5.5zM478.1 129.8l-8-5.4l-2.3 2.3l8 5.4zM467.8 126.7l-8-5.4l-2.3 2.4l8 5.3z"/>
<path fill="#4bd991" stroke="#4bd991" d="M680.7 154.6l-8-7.3l-2.3 3.5l7.9 7.3zM668.1 154.2l-8-7.2l-2.3 3.4l7.9 7.1zM645.2 150l-8-6.9l-2.3 3.2l8 6.8zM632.6 149.4l-8-6.7l-2.3 3.1l8 6.7zM622.3 145.8l-8-6.6l-2.3 3.1l8 6.5zM609.7 145.3l-8-6.5l-2.3 3l8 6.4zM586.8 141.2l-7.9-6.2l-2.4 2.8l8 6.3zM574.2 140.6l-7.9-6.1l-2.4 2.8l8 6.1zM551.4 136.7l-8-6l-2.3 2.7l7.9 5.9zM538.8 136l-8-5.9l-2.3 2.6l7.9 5.8zM528.5 132.7l-8-5.8l-2.3 2.6l8 5.8zM515.9 132.1l-8-5.7l-2.3 2.5l8 5.6zM503.3 131.3l-8-5.6l-2.3 2.5l8 5.6zM493 128.2l-8-5.6l-2.3 2.5l8 5.5zM480.4 127.5l-8-5.5l-2.3 2.4l8 5.4zM470.1 124.4l-7.9-5.4l-2.4 2.3l8 5.4z"/>
<path fill="#51da8c" stroke="#51da8c" d="M693.2 155l-7.9-7.6l-2.3 3.7l7.9 7.5zM670.4 150.8l-8-7.3l-2.3 3.5l8 7.2zM657.8 150.4l-8-7.1l-2.3 3.4l8 7zM647.5 146.7l-8-7l-2.3 3.4l8 6.9zM634.9 146.3l-8-6.8l-2.3 3.2l8 6.7zM612 142.3l-7.9-6.6l-2.4 3.1l8 6.5zM599.4 141.8l-7.9-6.4l-2.4 2.9l8 6.4zM576.5 137.8l-7.9-6.2l-2.3 2.9l7.9 6.1zM563.9 137.3l-7.9-6.1l-2.3 2.7l7.9 6.1zM553.7 133.9l-8-6l-2.3 2.8l8 6zM541.1 133.4l-8-6l-2.3 2.7l8 5.9zM518.2 129.5l-8-5.7l-2.3 2.6l8 5.7zM505.6 128.9l-8-5.7l-2.3 2.5l8 5.6zM495.3 125.7l-7.9-5.6l-2.4 2.5l8 5.6zM482.7 125.1l-7.9-5.5l-2.4 2.4l8 5.5z"/>
<path fill="#58da87" stroke="#58da87" d="M683 151.1l-8-7.5l-2.3 3.7l8 7.3zM660.1 147l-8-7.1l-2.3 3.4l8 7.1zM637.2 143.1l-7.9-6.9l-2.4 3.3l8 6.8zM624.6 142.7l-7.9-6.7l-2.4 3.2l8 6.6zM601.7 138.8l-7.9-6.5l-2.3 3.1l7.9 6.4zM589.1 138.3l-7.9-6.3l-2.3 3l7.9 6.2zM578.9 135l-8-6.3l-2.3 2.9l7.9 6.2zM566.3 134.5l-8-6.2l-2.3 2.9l7.9 6.1zM556 131.2l-8-6.1l-2.3 2.8l8 6zM543.4 130.7l-8-6l-2.3 2.7l8 6zM530.8 130.1l-8-5.8l-2.3 2.6l8 5.8zM520.5 126.9l-8-5.8l-2.3 2.7l8 5.7zM507.9 126.4l-7.9-5.8l-2.4 2.6l8 5.7zM497.6 123.2l-7.9-5.6l-2.3 2.5l7.9 5.6zM485 122.6l-7.9-5.5l-2.3 2.5l7.9 5.5zM472.4 122l-7.9-5.5l-2.3 2.5l7.9 5.4z"/>
<path fill="#5fdb81" stroke="#5fdb81" d="M672.7 147.3l-8-7.4l-2.3 3.6l8 7.3zM649.8 143.3l-8-7l-2.3 3.4l8 7zM626.9 139.5l-7.9-6.8l-2.3 3.3l7.9 6.7zM614.3 139.2l-7.9-6.7l-2.3 3.2l7.9 6.6zM604.1 135.7l-8-6.5l-2.3 3.1l7.9 6.5zM591.5 135.4l-8-6.5l-2.3 3.1l7.9 6.3zM568.6 131.6l-8-6.2l-2.3 2.9l8 6.2zM545.7 127.9l-8-6l-2.3 2.8l8 6zM533.1 127.4l-8-5.9l-2.3 2.8l8 5.8zM522.8 124.3l-7.9-5.9l-2.4 2.7l8 5.8zM510.2 123.8l-7.9-5.8l-2.3 2.6l7.9 5.8zM487.4 120.1l-8-5.6l-2.3 2.6l7.9 5.5zM474.8 119.6l-8-5.6l-2.3 2.5l7.9 5.5z"/>
<path fill="#65db7b" stroke="#65db7b" d="M685.3 147.4l-8-7.5l-2.3 3.7l8 7.5zM675 143.6l-8-7.4l-2.3 3.7l8 7.4zM662.4 143.5l-8-7.2l-2.3 3.6l8 7.1zM639.5 139.7l-7.9-6.9l-2.3 3.4l7.9 6.9zM616.7 136l-8-6.7l-2.3 3.2l7.9 6.7zM593.8 132.3l-8-6.5l-2.3 3.1l8 6.5zM581.2 132l-8-6.4l-2.3 3.1l8 6.3zM570.9 128.7l-8-6.3l-2.3 3l8 6.2zM558.3 128.3l-8-6.1l-2.3 2.9l8 6.1zM548 125.1l-7.9-6.1l-2.4 2.9l8 6zM535.4 124.7l-7.9-6l-2.4 2.8l8 5.9zM512.5 121.1l-7.9-5.8l-2.3 2.7l7.9 5.8zM500 120.6l-8-5.7l-2.3 2.7l7.9 5.6zM489.7 117.6l-8-5.7l-2.3 2.6l8 5.6zM477.1 117.1l-8-5.6l-2.3 2.5l8 5.6z"/>
<path fill="#6cdb75" stroke="#6cdb75" d="M664.7 139.9l-7.9-7.3l-2.4 3.7l8 7.2zM652.1 139.9l-7.9-7.2l-2.4 3.6l8 7zM641.8 136.3l-7.9-7.1l-2.3 3.6l7.9 6.9zM629.3 136.2l-8-6.9l-2.3 3.4l7.9 6.8zM606.4 132.5l-8-6.6l-2.3 3.3l8 6.5zM583.5 128.9l-8-6.4l-2.3 3.1l8 6.4zM560.6 125.4l-7.9-6.2l-2.4 3l8 6.1zM537.7 121.9l-7.9-6.1l-2.3 2.9l7.9 6zM525.1 121.5l-7.9-5.9l-2.3 2.8l7.9 5.9zM514.9 118.4l-8-5.9l-2.3 2.8l7.9 5.8zM502.3 118l-8-5.8l-2.3 2.7l8 5.7zM492 114.9l-8-5.7l-2.3 2.7l8 5.7zM479.4 114.5l-8-5.6l-2.3 2.6l8 5.6z"/>
<path fill="#74db6f" stroke="#74db6f" d="M677.3 139.9l-7.9-7.6l-2.4 3.9l8 7.4zM654.4 136.3l-7.9-7.3l-2.3 3.7l7.9 7.2zM631.6 132.8l-8-7l-2.3 3.5l8 6.9zM619 132.7l-8-6.8l-2.3 3.4l8 6.7zM608.7 129.3l-8-6.8l-2.3 3.4l8 6.6zM596.1 129.2l-8-6.6l-2.3 3.2l8 6.5zM585.8 125.8l-7.9-6.5l-2.4 3.2l8 6.4zM573.2 125.6l-7.9-6.3l-2.4 3.1l8 6.3zM562.9 122.4l-7.9-6.3l-2.3 3.1l7.9 6.2zM550.3 122.2l-7.9-6.2l-2.3 3l7.9 6.1zM540.1 119l-8-6.1l-2.3 2.9l7.9 6.1zM527.5 118.7l-8-5.9l-2.3 2.8l7.9 5.9zM517.2 115.6l-8-5.9l-2.3 2.8l8 5.9zM504.6 115.3l-8-5.8l-2.3 2.7l8 5.8zM494.3 112.2l-8-5.7l-2.3 2.7l8 5.7zM481.7 111.9l-8-5.7l-2.3 2.7l8 5.6z"/>
<path fill="#7bdb6a" stroke="#7bdb6a" d="M667 136.2l-7.9-7.5l-2.3 3.9l7.9 7.3zM644.2 132.7l-8-7.1l-2.3 3.6l7.9 7.1zM621.3 129.3l-8-6.9l-2.3 3.5l8 6.8zM598.4 125.9l-8-6.6l-2.3 3.3l8 6.6zM575.5 122.5l-7.9-6.4l-2.3 3.2l7.9 6.3zM552.7 119.2l-8-6.2l-2.3 3l7.9 6.2zM529.8 115.8l-8-6l-2.3 3l8 5.9zM506.9 112.5l-8-5.8l-2.3 2.8l8 5.8zM484 109.2l-7.9-5.7l-2.4 2.7l8 5.7z"/>
<path fill="#83da64" stroke="#83da64" d="M656.8 132.6l-8-7.4l-2.3 3.8l7.9 7.3zM633.9 129.2l-8-7.1l-2.3 3.7l8 7zM611 125.9l-8-6.8l-2.3 3.4l8 6.8zM588.1 122.6l-7.9-6.6l-2.3 3.3l7.9 6.5zM577.9 119.3l-8-6.5l-2.3 3.3l7.9 6.4zM565.3 119.3l-8-6.4l-2.3 3.2l7.9 6.3zM555 116.1l-8-6.3l-2.3 3.2l8 6.2zM542.4 116l-8-6.1l-2.3 3l8 6.1zM532.1 112.9l-8-6.1l-2.3 3l8 6zM519.5 112.8l-8-6l-2.3 2.9l8 5.9zM509.2 109.7l-7.9-5.9l-2.4 2.9l8 5.8zM496.6 109.5l-7.9-5.8l-2.4 2.8l8 5.7zM486.3 106.5l-7.9-5.8l-2.3 2.8l7.9 5.7z"/>
<path fill="#8bda5e" stroke="#8bda5e" d="M669.4 132.3l-8-7.6l-2.3 4l7.9 7.5zM646.5 129l-8-7.2l-2.3 3.8l8 7.1zM623.6 125.8l-8-7l-2.3 3.6l8 6.9zM613.3 122.4l-7.9-6.9l-2.4 3.6l8 6.8zM600.7 122.5l-7.9-6.7l-2.4 3.5l8 6.6zM590.4 119.3l-7.9-6.7l-2.3 3.4l7.9 6.6zM567.6 116.1l-8-6.4l-2.3 3.2l8 6.4zM544.7 113l-8-6.3l-2.3 3.2l8 6.1zM521.8 109.8l-7.9-6l-2.4 3l8 6zM498.9 106.7l-7.9-5.9l-2.3 2.9l7.9 5.8zM488.7 103.7l-8-5.8l-2.3 2.8l7.9 5.8z"/>
<path fill="#93d958" stroke="#93d958" d="M659.1 128.7l-8-7.5l-2.3 4l8 7.4zM648.8 125.2l-8-7.4l-2.3 4l8 7.2zM636.2 125.6l-8-7.2l-2.3 3.7l8 7.1zM625.9 122.1l-7.9-7l-2.4 3.7l8 7zM603 119.1l-7.9-6.8l-2.3 3.5l7.9 6.7zM580.2 116l-8-6.5l-2.3 3.3l8 6.5zM557.3 112.9l-8-6.3l-2.3 3.2l8 6.3zM547 109.8l-8-6.3l-2.3 3.2l8 6.3zM534.4 109.9l-7.9-6.2l-2.4 3.1l8 6.1zM524.1 106.8l-7.9-6.1l-2.3 3.1l7.9 6zM511.5 106.8l-7.9-6l-2.3 3l7.9 5.9zM501.3 103.8l-8-5.9l-2.3 2.9l7.9 5.9z"/>
<path fill="#9ad952" stroke="#9ad952" d="M638.5 121.8l-7.9-7.3l-2.4 3.9l8 7.2zM615.6 118.8l-7.9-7l-2.3 3.7l7.9 6.9zM592.8 115.8l-8-6.7l-2.3 3.5l7.9 6.7zM569.9 112.8l-8-6.5l-2.3 3.4l8 6.4zM559.6 109.7l-8-6.4l-2.3 3.3l8 6.3zM536.7 106.7l-7.9-6.2l-2.3 3.2l7.9 6.2zM513.9 103.8l-8-6.1l-2.3 3.1l7.9 6zM491 100.8l-8-5.9l-2.3 3l8 5.8z"/>
<path fill="#a2d84c" stroke="#a2d84c" d="M661.4 124.7l-8-7.6l-2.3 4.1l8 7.5zM651.1 121.2l-7.9-7.4l-2.4 4l8 7.4zM628.2 118.4l-7.9-7.2l-2.3 3.9l7.9 7zM605.4 115.5l-8-6.9l-2.3 3.7l7.9 6.8zM595.1 112.3l-8-6.8l-2.3 3.6l8 6.7zM582.5 112.6l-8-6.6l-2.3 3.5l8 6.5zM572.2 109.5l-8-6.6l-2.3 3.4l8 6.5zM549.3 106.6l-7.9-6.4l-2.4 3.3l8 6.3zM526.5 103.7l-8-6.1l-2.3 3.1l7.9 6.1zM516.2 100.7l-8-6.1l-2.3 3.1l8 6.1zM503.6 100.8l-8-6l-2.3 3.1l8 5.9zM493.3 97.9l-8-6l-2.3 3l8 5.9z"/>
<path fill="#a9d747" stroke="#a9d747" d="M640.8 117.8l-7.9-7.3l-2.3 4l7.9 7.3zM618 115.1l-8-7.1l-2.3 3.8l7.9 7zM607.7 111.8l-8-6.9l-2.3 3.7l8 6.9zM584.8 109.1l-8-6.7l-2.3 3.6l8 6.6zM561.9 106.3l-7.9-6.4l-2.4 3.4l8 6.4zM551.6 103.3l-7.9-6.4l-2.3 3.3l7.9 6.4zM539 103.5l-7.9-6.2l-2.3 3.2l7.9 6.2zM528.8 100.5l-8-6.2l-2.3 3.3l8 6.1zM505.9 97.7l-8-6l-2.3 3.1l8 6zM495.6 94.8l-8-5.9l-2.3 3l8 6z"/>
<path fill="#b1d642" stroke="#b1d642" d="M653.4 117.1l-7.9-7.6l-2.3 4.3l7.9 7.4zM630.6 114.5l-8-7.3l-2.3 4l7.9 7.2zM620.3 111.2l-8-7.1l-2.3 3.9l8 7.1zM597.4 108.6l-8-6.9l-2.3 3.8l8 6.8zM574.5 106l-7.9-6.7l-2.4 3.6l8 6.6zM564.2 102.9l-7.9-6.6l-2.3 3.6l7.9 6.4zM541.4 100.2l-8-6.3l-2.3 3.4l7.9 6.2zM518.5 97.6l-8-6.2l-2.3 3.2l8 6.1zM508.2 94.6l-8-6.1l-2.3 3.2l8 6z"/>
<path fill="#b8d53c" stroke="#b8d53c" d="M643.2 113.8l-8-7.5l-2.3 4.2l7.9 7.3zM610 108l-8-7l-2.3 3.9l8 6.9zM587.1 105.5l-7.9-6.8l-2.4 3.7l8 6.7zM576.8 102.4l-7.9-6.7l-2.3 3.6l7.9 6.7zM554 99.9l-8-6.5l-2.3 3.5l7.9 6.4zM531.1 97.3l-8-6.3l-2.3 3.3l8 6.2zM520.8 94.3l-8-6.2l-2.3 3.3l8 6.2zM497.9 91.7l-7.9-6l-2.4 3.2l8 5.9z"/>
<path fill="#bfd338" stroke="#bfd338" d="M632.9 110.5l-8-7.4l-2.3 4.1l8 7.3zM622.6 107.2l-8-7.2l-2.3 4.1l8 7.1zM599.7 104.9l-7.9-7l-2.4 3.8l8 6.9zM589.4 101.7l-7.9-6.8l-2.3 3.8l7.9 6.8zM566.6 99.3l-8-6.6l-2.3 3.6l7.9 6.6zM543.7 96.9l-8-6.5l-2.3 3.5l8 6.3zM533.4 93.9l-8-6.4l-2.3 3.5l8 6.3zM510.5 91.4l-7.9-6.2l-2.4 3.3l8 6.1zM500.2 88.5l-7.9-6.1l-2.3 3.3l7.9 6z"/>
<path fill="#c6d234" stroke="#c6d234" d="M645.5 109.5l-8-7.5l-2.3 4.3l8 7.5zM612.3 104.1l-7.9-7.2l-2.4 4.1l8 7zM579.2 98.7l-8-6.8l-2.3 3.8l7.9 6.7zM556.3 96.3l-8-6.5l-2.3 3.6l8 6.5zM546 93.4l-8-6.5l-2.3 3.5l8 6.5zM523.1 91l-7.9-6.3l-2.4 3.4l8 6.2zM512.8 88.1l-7.9-6.2l-2.3 3.3l7.9 6.2z"/>
<path fill="#cdd130" stroke="#cdd130" d="M635.2 106.3l-8-7.5l-2.3 4.3l8 7.4zM624.9 103.1l-7.9-7.3l-2.4 4.2l8 7.2zM602 101l-7.9-7.1l-2.3 4l7.9 7zM591.8 97.9l-8-7l-2.3 4l7.9 6.8zM568.9 95.7l-8-6.8l-2.3 3.8l8 6.6zM558.6 92.7l-8-6.6l-2.3 3.7l8 6.5zM535.7 90.4l-7.9-6.4l-2.4 3.5l8 6.4zM525.4 87.5l-7.9-6.3l-2.3 3.5l7.9 6.3zM502.6 85.2l-8-6.1l-2.3 3.3l7.9 6.1z"/>
<path fill="#d3cf2d" stroke="#d3cf2d" d="M614.6 100l-7.9-7.3l-2.3 4.2l7.9 7.2zM604.4 96.9l-8-7.1l-2.3 4.1l7.9 7.1zM581.5 94.9l-8-6.9l-2.3 3.9l8 6.8zM571.2 91.9l-8-6.8l-2.3 3.8l8 6.8zM548.3 89.8l-7.9-6.6l-2.4 3.7l8 6.5zM538 86.9l-7.9-6.5l-2.3 3.6l7.9 6.4zM515.2 84.7l-8-6.3l-2.3 3.5l7.9 6.2zM504.9 81.9l-8-6.2l-2.3 3.4l8 6.1z"/>
<path fill="#d9ce2b" stroke="#d9ce2b" d="M637.5 102l-7.9-7.6l-2.4 4.4l8 7.5zM627.2 98.8l-7.9-7.4l-2.3 4.4l7.9 7.3zM594.1 93.9l-8-7.1l-2.3 4.1l8 7zM560.9 88.9l-7.9-6.7l-2.4 3.9l8 6.6zM550.6 86.1l-7.9-6.7l-2.3 3.8l7.9 6.6zM527.8 84l-8-6.4l-2.3 3.6l7.9 6.3zM517.5 81.2l-8-6.4l-2.3 3.6l8 6.3z"/>
<path fill="#e0cd2a" stroke="#e0cd2a" d="M617 95.8l-8-7.4l-2.3 4.3l7.9 7.3zM606.7 92.7l-8-7.2l-2.3 4.3l8 7.1zM583.8 90.9l-8-7l-2.3 4.1l8 6.9zM573.5 88l-7.9-6.9l-2.4 4l8 6.8zM540.4 83.2l-8-6.6l-2.3 3.8l7.9 6.5zM530.1 80.4l-8-6.5l-2.3 3.7l8 6.4zM507.2 78.4l-8-6.3l-2.3 3.6l8 6.2z"/>
<path fill="#e5cb2b" stroke="#e5cb2b" d="M629.6 94.4l-8-7.6l-2.3 4.6l7.9 7.4zM596.4 89.8l-8-7.2l-2.3 4.2l8 7.1zM586.1 86.8l-7.9-7l-2.4 4.1l8 7zM563.2 85.1l-7.9-6.8l-2.3 3.9l7.9 6.7zM553 82.2l-8-6.7l-2.3 3.9l7.9 6.7zM519.8 77.6l-8-6.4l-2.3 3.6l8 6.4zM509.5 74.8l-7.9-6.3l-2.4 3.6l8 6.3z"/>
<path fill="#ebca2c" stroke="#ebca2c" d="M619.3 91.4l-8-7.5l-2.3 4.5l8 7.4zM609 88.4l-8-7.4l-2.3 4.5l8 7.2zM575.8 83.9l-7.9-6.9l-2.3 4.1l7.9 6.9zM565.6 81.1l-8-6.9l-2.3 4.1l7.9 6.8zM542.7 79.4l-8-6.6l-2.3 3.8l8 6.6zM532.4 76.6l-8-6.5l-2.3 3.8l8 6.5z"/>
<path fill="#f1c92e" stroke="#f1c92e" d="M598.7 85.5l-8-7.3l-2.3 4.4l8 7.2zM588.4 82.6l-7.9-7.2l-2.3 4.4l7.9 7zM555.3 78.3l-8-6.8l-2.3 4l8 6.7zM545 75.5l-8-6.7l-2.3 4l8 6.6zM522.1 73.9l-7.9-6.5l-2.4 3.8l8 6.4zM511.8 71.2l-7.9-6.4l-2.3 3.7l7.9 6.3z"/>
<path fill="#f6c830" stroke="#f6c830" d="M621.6 86.8l-8-7.6l-2.3 4.7l8 7.5zM611.3 83.9l-8-7.5l-2.3 4.6l8 7.4zM578.2 79.8l-8-7.1l-2.3 4.3l7.9 6.9zM567.9 77l-8-7l-2.3 4.2l8 6.9zM534.7 72.8l-7.9-6.7l-2.4 4l8 6.5zM524.4 70.1l-7.9-6.6l-2.3 3.9l7.9 6.5z"/>
<path fill="#fbc734" stroke="#fbc734" d="M601 81l-7.9-7.3l-2.4 4.5l8 7.3zM590.7 78.2l-7.9-7.2l-2.3 4.4l7.9 7.2zM557.6 74.2l-8-6.9l-2.3 4.2l8 6.8zM547.3 71.5l-8-6.8l-2.3 4.1l8 6.7zM514.2 67.4l-8-6.5l-2.3 3.9l7.9 6.4z"/>
<path fill="#ffc739" stroke="#ffc739" d="M580.5 75.4l-8-7.1l-2.3 4.4l8 7.1zM570.2 72.7l-8-7.1l-2.3 4.4l8 7zM537 68.8l-7.9-6.7l-2.3 4l7.9 6.7zM526.8 66.1l-8-6.6l-2.3 4l7.9 6.6zM516.5 63.5l-8-6.6l-2.3 4l8 6.5z"/>
<path fill="#ffc73d" stroke="#ffc73d" d="M613.6 79.2l-7.9-7.5l-2.4 4.7l8 7.5zM603.3 76.4l-7.9-7.4l-2.3 4.7l7.9 7.3zM593.1 73.7l-8-7.4l-2.3 4.7l7.9 7.2zM559.9 70l-8-7l-2.3 4.3l8 6.9zM549.6 67.3l-7.9-6.9l-2.4 4.3l8 6.8z"/>
<path fill="#ffc741" stroke="#ffc741" d="M582.8 71l-8-7.3l-2.3 4.6l8 7.1zM572.5 68.3l-8-7.2l-2.3 4.5l8 7.1zM539.3 64.7l-7.9-6.8l-2.3 4.2l7.9 6.7zM529.1 62.1l-8-6.8l-2.3 4.2l8 6.6zM518.8 59.5l-8-6.7l-2.3 4.1l8 6.6z"/>
<path fill="#ffc941" stroke="#ffc941" d="M605.7 71.7l-8-7.6l-2.3 4.9l7.9 7.4zM562.2 65.6l-7.9-7l-2.4 4.4l8 7zM551.9 63l-7.9-7l-2.3 4.4l7.9 6.9zM541.7 60.4l-8-6.9l-2.3 4.4l7.9 6.8z"/>
<path fill="#ffcb41" stroke="#ffcb41" d="M595.4 69l-8-7.5l-2.3 4.8l8 7.4zM585.1 66.3l-8-7.3l-2.3 4.7l8 7.3zM574.8 63.7l-7.9-7.3l-2.4 4.7l8 7.2zM531.4 57.9l-8-6.8l-2.3 4.2l8 6.8zM521.1 55.3l-8-6.7l-2.3 4.2l8 6.7z"/>
<path fill="#ffcd3f" stroke="#ffcd3f" d="M564.5 61.1l-7.9-7.1l-2.3 4.6l7.9 7zM554.3 58.6l-8-7.1l-2.3 4.5l7.9 7zM544 56l-8-6.9l-2.3 4.4l8 6.9z"/>
<path fill="#ffd03c" stroke="#ffd03c" d="M597.7 64.1l-8-7.6l-2.3 5l8 7.5zM587.4 61.5l-7.9-7.5l-2.4 5l8 7.3zM533.7 53.5l-8-6.9l-2.3 4.5l8 6.8zM523.4 51.1l-7.9-6.8l-2.4 4.3l8 6.7z"/>
<path fill="#ffd33a" stroke="#ffd33a" d="M577.1 59l-7.9-7.4l-2.3 4.8l7.9 7.3zM566.9 56.4l-8-7.2l-2.3 4.8l7.9 7.1zM556.6 54l-8-7.2l-2.3 4.7l8 7.1z"/>
<path fill="#ffd738" stroke="#ffd738" d="M546.3 51.5l-8-7.1l-2.3 4.7l8 6.9zM536 49.1l-7.9-7l-2.4 4.5l8 6.9zM525.7 46.6l-7.9-6.8l-2.3 4.5l7.9 6.8z"/>
<path fill="#ffda36" stroke="#ffda36" d="M589.7 56.5l-7.9-7.5l-2.3 5l7.9 7.5zM579.5 54l-8-7.4l-2.3 5l7.9 7.4zM569.2 51.6l-8-7.4l-2.3 5l8 7.2zM558.9 49.2l-8-7.3l-2.3 4.9l8 7.2z"/>
<path fill="#ffdd34" stroke="#ffdd34" d="M548.6 46.8l-7.9-7.2l-2.4 4.8l8 7.1zM538.3 44.4l-7.9-7l-2.3 4.7l7.9 7zM528.1 42.1l-8-7l-2.3 4.7l7.9 6.8z"/>
<path fill="#ffe032" stroke="#ffe032" d="M581.8 49l-8-7.6l-2.3 5.2l8 7.4zM571.5 46.6l-8-7.5l-2.3 5.1l8 7.4z"/>
<path fill="#ffe431" stroke="#ffe431" d="M561.2 44.2l-7.9-7.3l-2.4 5l8 7.3zM550.9 41.9l-7.9-7.2l-2.3 4.9l7.9 7.2zM540.7 39.6l-8-7.1l-2.3 4.9l7.9 7zM530.4 37.4l-8-7.1l-2.3 4.8l8 7z"/>
<path fill="#ffeb2d" stroke="#ffeb2d" d="M573.8 41.4l-8-7.6l-2.3 5.3l8 7.5zM563.5 39.1l-7.9-7.4l-2.3 5.2l7.9 7.3zM553.3 36.9l-8-7.4l-2.3 5.2l7.9 7.2zM543 34.7l-8-7.3l-2.3 5.1l8 7.1z"/>
<path fill="#ffee2c" stroke="#ffee2c" d="M532.7 32.5l-8-7.2l-2.3 5l8 7.1z"/>
<path fill="#fff529" stroke="#fff529" d="M565.8 33.8l-7.9-7.6l-2.3 5.5l7.9 7.4zM555.6 31.7l-8-7.5l-2.3 5.3l8 7.4zM545.3 29.5l-8-7.3l-2.3 5.2l8 7.3zM535 27.4l-8-7.2l-2.3 5.1l8 7.2z"/>
<path fill="#fffb26" stroke="#fffb26" d="M557.9 26.2l-8-7.5l-2.3 5.5l8 7.5zM547.6 24.2l-8-7.5l-2.3 5.5l8 7.3zM537.3 22.2l-7.9-7.4l-2.4 5.4l8 7.2z"/>
<path fill="#ffff1e" stroke="#ffff1e" d="M549.9 18.7l-7.9-7.6l-2.4 5.6l8 7.5zM539.6 16.7l-7.9-7.4l-2.3 5.5l7.9 7.4z"/>
<path fill="#ffff18" stroke="#ffff18" d="M542 11.1l-8-7.6l-2.3 5.8l7.9 7.4z"/>
</g>
<clipPath id="sc"><path d="M534 3.5 L531.7 9.3 L529.4 14.8 L527 20.2 L524.7 25.3 L522.4 30.3 L520.1 35.1 L517.8 39.8 L515.5 44.3 L513.1 48.6 L510.8 52.8 L508.5 56.9 L506.2 60.9 L503.9 64.8 L501.6 68.5 L499.2 72.1 L496.9 75.7 L494.6 79.1 L492.3 82.4 L490 85.7 L487.7 88.9 L485.3 91.9 L483 94.9 L480.7 97.9 L478.4 100.7 L476.1 103.5 L473.7 106.2 L471.4 108.9 L469.1 111.5 L466.8 114 L464.5 116.5 L462.2 119 L459.8 121.3 L457.5 123.7 L455.2 125.9 L452.9 128.2 L450.6 130.3 L448.3 132.5 L445.9 134.6 L443.6 136.6 L441.3 138.6 L439 140.6 L436.7 142.6 L434.3 144.5 L432 146.3 L429.7 148.2 L427.4 150 L425.1 151.7 L422.8 153.5 L420.4 155.2 L418.1 156.9 L415.8 158.5 L413.5 160.2 L411.2 161.8 L408.9 163.3 L406.5 164.9 L404.2 166.4 L401.9 167.9 L399.6 169.4 L397.3 170.8 L394.9 172.3 L392.6 173.7 L390.3 175.1 L388 176.5 L385.7 177.8 L383.4 179.1 L381 180.5 L378.7 181.8 L376.4 183 L374.1 184.3 L371.8 185.6 L369.5 186.8 L367.1 188 L364.8 189.2 L362.5 190.4 L360.2 191.6 L357.9 192.7 L355.6 193.9 L353.2 195 L350.9 196.1 L348.6 197.2 L346.3 198.3 L344 199.4 L341.6 200.4 L339.3 201.5 L337 202.5 L334.7 203.6 L332.4 204.6 L330.1 205.6 L327.7 206.6 L325.4 207.6 L323.1 208.6 L320.8 209.5 L318.5 210.5 L316.2 211.4 L313.8 212.4 L311.5 213.3 L309.2 214.2 L306.9 215.1 L304.6 216 L302.2 216.9 L299.9 217.8 L297.6 218.7 L295.3 219.5 L293 220.4 L290.7 221.3 L288.3 222.1 L286 223 L283.7 223.8 L281.4 224.6 L279.1 225.4 L276.8 226.2 L274.4 227 L272.1 227.8 L269.8 228.6 L267.5 229.4 L265.2 230.2 L262.9 231 L260.5 231.7 L258.2 232.5 L255.9 233.2 L253.6 234 L251.3 234.7 L248.9 235.5 L246.6 236.2 L244.3 236.9 L242 237.7 L239.7 238.4 L237.4 239.1 L235 239.8 L232.7 240.5 L230.4 241.2 L228.1 241.9 L225.8 242.6 L223.5 243.3 L221.1 243.9 L218.8 244.6 L216.5 245.3 L214.2 245.9 L211.9 246.6 L209.6 247.3 L207.2 247.9 L204.9 248.6 L202.6 249.2 L200.3 249.9 L198 250.5 L195.6 251.1 L193.3 251.8 L191 252.4 L188.7 253 L186.4 253.6 L184.1 254.2 L181.7 254.9 L179.4 255.5 L177.1 256.1 L174.8 256.7 L172.5 257.3 L170.2 257.9 L167.8 258.5 L165.5 259 L163.2 259.6 L160.9 260.2 L158.6 260.8 L156.2 261.4 L153.9 261.9 L151.6 262.5 L149.3 263.1 L147 263.7 L144.7 264.2 L142.3 264.8 L140 265.3 L137.7 265.9 L135.4 266.4 L133.1 267 L130.8 267.5 L128.4 268.1 L126.1 268.6 L123.8 269.2 L121.5 269.7 L119.2 270.2 L116.9 270.8 L114.5 271.3 L112.2 271.8 L109.9 272.4 L107.6 272.9 L105.3 273.4 L102.9 273.9 L100.6 274.5 L98.3 275 L96 275.5 L93.7 276 L91.4 276.5 L89 277 L86.7 277.5 L84.4 278 L82.1 278.5 L79.8 279 L77.5 279.5 L75.1 280 L72.8 280.5 L70.5 281 L389 404.8 L391.3 404.5 L393.6 404.2 L396 403.9 L398.3 403.5 L400.6 403.2 L402.9 402.9 L405.2 402.6 L407.5 402.3 L409.9 402 L412.2 401.7 L414.5 401.3 L416.8 401 L419.1 400.7 L421.4 400.4 L423.8 400.1 L426.1 399.8 L428.4 399.4 L430.7 399.1 L433 398.8 L435.4 398.5 L437.7 398.2 L440 397.8 L442.3 397.5 L444.6 397.2 L446.9 396.9 L449.3 396.5 L451.6 396.2 L453.9 395.9 L456.2 395.6 L458.5 395.2 L460.8 394.9 L463.2 394.6 L465.5 394.3 L467.8 393.9 L470.1 393.6 L472.4 393.3 L474.7 393 L477.1 392.6 L479.4 392.3 L481.7 392 L484 391.6 L486.3 391.3 L488.7 391 L491 390.6 L493.3 390.3 L495.6 390 L497.9 389.6 L500.2 389.3 L502.6 389 L504.9 388.6 L507.2 388.3 L509.5 387.9 L511.8 387.6 L514.1 387.3 L516.5 386.9 L518.8 386.6 L521.1 386.2 L523.4 385.9 L525.7 385.6 L528 385.2 L530.4 384.9 L532.7 384.5 L535 384.2 L537.3 383.8 L539.6 383.5 L542 383.1 L544.3 382.8 L546.6 382.4 L548.9 382.1 L551.2 381.7 L553.5 381.4 L555.9 381 L558.2 380.7 L560.5 380.3 L562.8 379.9 L565.1 379.6 L567.4 379.2 L569.8 378.9 L572.1 378.5 L574.4 378.1 L576.7 377.8 L579 377.4 L581.4 377 L583.7 376.7 L586 376.3 L588.3 375.9 L590.6 375.5 L592.9 375.2 L595.3 374.8 L597.6 374.4 L599.9 374 L602.2 373.7 L604.5 373.3 L606.8 372.9 L609.2 372.5 L611.5 372.1 L613.8 371.8 L616.1 371.4 L618.4 371 L620.8 370.6 L623.1 370.2 L625.4 369.8 L627.7 369.4 L630 369 L632.3 368.6 L634.7 368.2 L637 367.8 L639.3 367.4 L641.6 367 L643.9 366.6 L646.2 366.2 L648.6 365.8 L650.9 365.3 L653.2 364.9 L655.5 364.5 L657.8 364.1 L660.1 363.6 L662.5 363.2 L664.8 362.8 L667.1 362.4 L669.4 361.9 L671.7 361.5 L674.1 361.1 L676.4 360.6 L678.7 360.2 L681 359.7 L683.3 359.3 L685.6 358.8 L688 358.4 L690.3 357.9 L692.6 357.4 L694.9 357 L697.2 356.5 L699.5 356 L701.9 355.5 L704.2 355.1 L706.5 354.6 L708.8 354.1 L711.1 353.6 L713.5 353.1 L715.8 352.6 L718.1 352.1 L720.4 351.6 L722.7 351.1 L725 350.5 L727.4 350 L729.7 349.5 L732 349 L734.3 348.4 L736.6 347.9 L738.9 347.3 L741.3 346.8 L743.6 346.2 L745.9 345.6 L748.2 345.1 L750.5 344.5 L752.8 343.9 L755.2 343.3 L757.5 342.7 L759.8 342.1 L762.1 341.5 L764.4 340.8 L766.8 340.2 L769.1 339.6 L771.4 338.9 L773.7 338.3 L776 337.6 L778.3 336.9 L780.7 336.2 L783 335.5 L785.3 334.8 L787.6 334.1 L789.9 333.4 L792.2 332.6 L794.6 331.9 L796.9 331.1 L799.2 330.3 L801.5 329.5 L803.8 328.7 L806.2 327.9 L808.5 327 L810.8 326.1 L813.1 325.3 L815.4 324.4 L817.7 323.4 L820.1 322.5 L822.4 321.5 L824.7 320.5 L827 319.5 L829.3 318.5 L831.6 317.4 L834 316.4 L836.3 315.2 L838.6 314.1 L840.9 312.9 L843.2 311.7 L845.5 310.5 L847.9 309.2 L850.2 307.9 L852.5 306.5 Z"/></clipPath>
<g clip-path="url(#sc)">
<path d="M511.8 387.6 L503.9 384.2 M509.5 387.9 L501.5 384.6 M507.2 388.3 L499.2 384.9 M504.9 388.6 L488.9 381.9 M502.6 389 L486.6 382.2 M500.2 389.3 L484.3 382.6 M497.9 389.6 L474 379.6 M495.6 390 L471.7 379.9 M493.3 390.3 L469.4 380.3 M491 390.6 L459.1 377.3 M488.7 391 L456.8 377.7 M486.3 391.3 L446.5 374.7 M484 391.6 L444.2 375.1 M481.7 392 L441.9 375.4 M479.4 392.3 L431.6 372.5 M477.1 392.6 L429.3 372.9 M474.7 393 L427 373.2 M472.4 393.3 L416.7 370.3 M470.1 393.6 L414.4 370.7 M467.8 393.9 L404.1 367.8 M465.5 394.3 L401.8 368.1 M463.2 394.6 L399.5 368.5 M460.8 394.9 L389.2 365.6 M458.5 395.2 L386.9 366 M456.2 395.6 L376.6 363.2 M453.9 395.9 L374.3 363.5 M451.6 396.2 L371.9 363.9 M449.3 396.5 L361.7 361.1 M446.9 396.9 L359.4 361.5 M444.6 397.2 L349.1 358.6 M442.3 397.5 L346.8 359 M440 397.8 L336.5 356.2 M437.7 398.2 L334.2 356.6 M435.4 398.5 L331.8 357 M433 398.8 L321.6 354.2 M430.7 399.1 L319.2 354.6 M428.4 399.4 L309 351.8 M426.1 399.8 L306.6 352.2 M423.8 400.1 L296.4 349.4 M421.4 400.4 L294 349.8 M419.1 400.7 L283.8 347 M416.8 401 L281.4 347.5 M414.5 401.3 L271.2 344.7 M412.2 401.7 L268.9 345.1 M409.9 402 L266.5 345.5 M407.5 402.3 L256.3 342.8 M405.2 402.6 L253.9 343.2 M402.9 402.9 L243.7 340.5 M400.6 403.2 L241.3 340.9 M398.3 403.5 L231.1 338.2 M396 403.9 L228.7 338.6 M393.6 404.2 L218.5 335.9 M391.3 404.5 L216.1 336.3 M389 404.8 L205.9 333.6" stroke="#000" stroke-width="1.25" stroke-opacity="0.4" fill="none"/>
<path d="M812.7 268.6 L534 3.5 M802.4 263.1 L531.7 9.3 M792.1 257.7 L529.4 14.8 M781.8 252.4 L527 20.2 M771.6 247.3 L524.7 25.3 M761.3 242.3 L522.4 30.3 M751 237.4 L520.1 35.1 M740.7 232.6 L517.8 39.8 M730.4 227.9 L515.5 44.3 M712.2 216.6 L513.1 48.6 M701.9 212.2 L510.8 52.8 M691.6 207.9 L508.5 56.9 M681.4 203.7 L506.2 60.9 M671.1 199.6 L503.9 64.8 M652.8 189.1 L501.6 68.5 M642.6 185.2 L499.2 72.1 M632.3 181.4 L496.9 75.7 M622 177.6 L494.6 79.1 M603.8 167.7 L492.3 82.4 M593.5 164.1 L490 85.7 M575.2 154.6 L487.7 88.9 M565 151.1 L485.3 91.9 M554.7 147.7 L483 94.9 M536.4 138.5 L480.7 97.9 M526.2 135.3 L478.4 100.7 M507.9 126.4 L476.1 103.5 M489.7 117.6 L473.7 106.2 M479.4 114.5 L471.4 108.9" stroke="#000" stroke-width="1.25" stroke-opacity="0.72" fill="none"/>
<path d="M555.9 381 L547.9 377.5 M553.5 381.4 L545.6 377.8 M551.2 381.7 L543.3 378.2 M540.9 378.6 L533 375 M538.6 378.9 L530.7 375.4 M536.3 379.3 L528.3 375.8 M526 376.1 L518.1 372.6 M523.7 376.5 L515.8 373 M521.4 376.9 L505.5 369.9 M511.1 373.8 L503.2 370.3 M508.8 374.1 L500.8 370.7 M506.5 374.5 L490.6 367.6 M496.2 371.4 L488.2 368 M493.9 371.8 L485.9 368.4 M483.6 368.7 L475.6 365.3 M481.3 369.1 L473.3 365.7 M479 369.5 L463 362.7 M468.7 366.5 L460.7 363.1 M466.4 366.8 L458.4 363.4 M456.1 363.8 L448.1 360.4 M453.8 364.2 L445.8 360.8 M451.5 364.6 L435.5 357.8 M441.2 361.6 L433.2 358.2 M438.9 362 L422.9 355.3 M428.6 359 L420.6 355.7 M426.3 359.4 L418.3 356.1 M423.9 359.8 L408 353.1 M413.7 356.9 L405.7 353.6 M411.3 357.3 L395.4 350.6 M401.1 354.4 L393.1 351 M398.7 354.8 L382.8 348.1 M388.5 351.9 L380.5 348.5 M386.2 352.3 L370.2 345.7 M383.8 352.7 L367.9 346.1 M373.6 349.8 L365.6 346.5 M371.2 350.2 L355.3 343.6 M361 347.3 L353 344 M358.6 347.7 L342.7 341.2 M348.4 344.9 L340.4 341.6 M346 345.3 L330.1 338.8 M335.8 342.4 L327.8 339.2 M333.4 342.9 L317.5 336.4 M323.2 340 L315.2 336.8 M320.8 340.5 L304.9 334 M310.6 337.6 L302.6 334.4 M308.2 338.1 L292.3 331.6 M305.9 338.5 L290 332 M295.6 335.7 L279.7 329.3 M293.3 336.1 L277.4 329.7 M283.1 333.3 L267.1 326.9 M280.7 333.8 L264.8 327.4 M270.5 331 L254.5 324.6 M268.1 331.4 L252.2 325.1 M257.9 328.7 L241.9 322.3 M255.5 329.1 L239.6 322.8 M245.3 326.4 L229.3 320 M242.9 326.8 L227 320.5 M232.7 324.1 L216.7 317.7 M222.4 321.4 L214.4 318.2 M220.1 321.8 L204.1 315.5 M209.8 319.1 L193.9 312.8 M207.5 319.5 L191.5 313.2 M197.2 316.8 L181.3 310.6 M194.9 317.3 L178.9 311 M184.6 314.6 L168.7 308.3 M182.3 315 L166.3 308.8 M172 312.4 L156.1 306.1 M169.7 312.8 L153.7 306.6 M159.4 310.2 L143.5 303.9 M149.1 307.5 L133.2 301.3 M146.8 307.9 L130.9 301.7 M136.5 305.3 L120.6 299.1 M134.2 305.8 L118.3 299.6" stroke="#000" stroke-width="1.3" stroke-opacity="0.36" fill="none"/>
<path d="M548.9 382.1 L540.9 378.6 M546.6 382.4 L538.6 378.9 M544.3 382.8 L536.3 379.3 M542 383.1 L526 376.1 M539.6 383.5 L523.7 376.5 M537.3 383.8 L521.4 376.9 M535 384.2 L511.1 373.8 M532.7 384.5 L508.8 374.1 M530.4 384.9 L506.5 374.5 M528 385.2 L496.2 371.4 M525.7 385.6 L493.9 371.8 M523.4 385.9 L483.6 368.7 M521.1 386.2 L481.3 369.1 M518.8 386.6 L479 369.5 M516.5 386.9 L468.7 366.5 M514.1 387.3 L466.4 366.8 M503.9 384.2 L456.1 363.8 M501.5 384.6 L453.8 364.2 M499.2 384.9 L451.5 364.6 M488.9 381.9 L441.2 361.6 M486.6 382.2 L438.9 362 M484.3 382.6 L428.6 359 M474 379.6 L426.3 359.4 M471.7 379.9 L423.9 359.8 M469.4 380.3 L413.7 356.9 M459.1 377.3 L411.3 357.3 M456.8 377.7 L401.1 354.4 M446.5 374.7 L398.7 354.8 M444.2 375.1 L388.5 351.9 M441.9 375.4 L386.2 352.3 M431.6 372.5 L383.8 352.7 M429.3 372.9 L373.6 349.8 M427 373.2 L371.2 350.2 M416.7 370.3 L361 347.3 M414.4 370.7 L358.6 347.7 M404.1 367.8 L348.4 344.9 M401.8 368.1 L346 345.3 M399.5 368.5 L335.8 342.4 M389.2 365.6 L333.4 342.9 M386.9 366 L323.2 340 M376.6 363.2 L320.8 340.5 M374.3 363.5 L310.6 337.6 M371.9 363.9 L308.2 338.1 M361.7 361.1 L305.9 338.5 M359.4 361.5 L295.6 335.7 M349.1 358.6 L293.3 336.1 M346.8 359 L283.1 333.3 M336.5 356.2 L280.7 333.8 M334.2 356.6 L270.5 331 M331.8 357 L268.1 331.4 M321.6 354.2 L257.9 328.7 M319.2 354.6 L255.5 329.1 M309 351.8 L245.3 326.4 M306.6 352.2 L242.9 326.8 M296.4 349.4 L232.7 324.1 M294 349.8 L222.4 321.4 M283.8 347 L220.1 321.8 M281.4 347.5 L209.8 319.1 M271.2 344.7 L207.5 319.5 M268.9 345.1 L197.2 316.8 M266.5 345.5 L194.9 317.3 M256.3 342.8 L184.6 314.6 M253.9 343.2 L182.3 315 M243.7 340.5 L172 312.4 M241.3 340.9 L169.7 312.8 M231.1 338.2 L159.4 310.2 M228.7 338.6 L149.1 307.5 M218.5 335.9 L146.8 307.9 M216.1 336.3 L136.5 305.3 M205.9 333.6 L134.2 305.8" stroke="#000" stroke-width="1.3" stroke-opacity="0.4" fill="none"/>
<path d="M820.6 276.2 L812.7 268.6 M818.3 278 L802.4 263.1 M808.1 272.4 L792.1 257.7 M797.8 266.9 L781.8 252.4 M787.5 261.6 L771.6 247.3 M785.2 263.5 L761.3 242.3 M774.9 258.3 L751 237.4 M764.6 253.3 L740.7 232.6 M754.3 248.3 L730.4 227.9 M744.1 243.5 L720.2 223.4 M733.8 238.8 L709.9 218.9 M715.5 227.6 L691.6 207.9 M705.3 223.2 L681.4 203.7 M695 218.8 L671.1 199.6 M684.7 214.5 L660.8 195.5 M674.4 210.3 L642.6 185.2 M664.1 206.2 L632.3 181.4 M653.9 202.2 L622 177.6 M635.6 192.1 L611.7 173.8 M625.3 188.2 L593.5 164.1 M615 184.5 L583.2 160.6 M596.8 174.8 L565 151.1 M586.5 171.2 L554.7 147.7 M576.2 167.6 L536.4 138.5 M558 158.3 L526.2 135.3 M547.7 154.9 L515.9 132.1 M537.4 151.5 L497.6 123.2 M519.2 142.6 L479.4 114.5 M508.9 139.3 L469.1 111.5 M490.7 130.6 L466.8 114 M480.4 127.5 L464.5 116.5" stroke="#000" stroke-width="1.3" stroke-opacity="0.68" fill="none"/>
<path d="M720.2 223.4 L712.2 216.6 M709.9 218.9 L701.9 212.2 M660.8 195.5 L652.8 189.1 M611.7 173.8 L603.8 167.7 M583.2 160.6 L575.2 154.6 M515.9 132.1 L507.9 126.4 M497.6 123.2 L489.7 117.6" stroke="#000" stroke-width="1.3" stroke-opacity="0.72" fill="none"/>
<path d="M592.9 375.2 L585 371.5 M590.6 375.5 L582.7 371.9 M588.3 375.9 L580.3 372.2 M586 376.3 L570.1 368.9 M583.7 376.7 L567.7 369.3 M581.4 377 L565.4 369.7 M579 377.4 L555.1 366.5 M576.7 377.8 L552.8 366.9 M574.4 378.1 L550.5 367.3 M572.1 378.5 L540.2 364 M569.8 378.9 L537.9 364.4 M567.4 379.2 L527.6 361.3 M565.1 379.6 L525.3 361.7 M562.8 379.9 L523 362.1 M560.5 380.3 L512.7 358.9 M558.2 380.7 L510.4 359.3 M547.9 377.5 L500.1 356.2 M545.6 377.8 L497.8 356.6 M543.3 378.2 L495.5 357 M533 375 L485.2 353.9 M530.7 375.4 L482.9 354.3 M528.3 375.8 L472.6 351.2 M518.1 372.6 L470.3 351.7 M515.8 373 L460 348.6 M505.5 369.9 L457.7 349 M503.2 370.3 L447.4 346 M500.8 370.7 L445.1 346.4 M490.6 367.6 L442.8 346.8 M488.2 368 L432.5 343.8 M485.9 368.4 L430.2 344.3 M475.6 365.3 L419.9 341.3 M473.3 365.7 L417.6 341.7 M463 362.7 L407.3 338.7 M460.7 363.1 L405 339.2 M458.4 363.4 L394.7 336.2 M448.1 360.4 L392.4 336.7 M445.8 360.8 L382.1 333.7 M435.5 357.8 L379.8 334.2 M433.2 358.2 L369.5 331.2 M422.9 355.3 L367.2 331.7 M420.6 355.7 L356.9 328.8 M418.3 356.1 L354.6 329.3 M408 353.1 L344.3 326.4 M405.7 353.6 L342 326.8 M395.4 350.6 L331.7 324 M393.1 351 L329.4 324.4 M382.8 348.1 L319.1 321.6 M380.5 348.5 L316.8 322 M370.2 345.7 L306.5 319.2 M367.9 346.1 L304.2 319.7 M365.6 346.5 L293.9 316.8 M355.3 343.6 L291.6 317.3 M353 344 L281.3 314.5 M342.7 341.2 L279 315 M340.4 341.6 L268.7 312.2 M330.1 338.8 L266.4 312.6 M327.8 339.2 L256.1 309.9 M317.5 336.4 L245.9 307.1 M315.2 336.8 L243.5 307.6 M304.9 334 L233.3 304.8 M302.6 334.4 L230.9 305.3 M292.3 331.6 L220.7 302.5 M290 332 L218.3 303 M279.7 329.3 L208.1 300.3 M277.4 329.7 L197.8 297.6 M267.1 326.9 L195.5 298 M264.8 327.4 L185.2 295.3 M254.5 324.6 L182.9 295.8 M252.2 325.1 L172.6 293.1 M241.9 322.3 L162.3 290.4 M239.6 322.8 L160 290.9 M229.3 320 L149.7 288.3 M227 320.5 L147.4 288.7 M216.7 317.7 L137.1 286.1 M214.4 318.2 L126.8 283.4 M204.1 315.5 L124.5 283.9 M193.9 312.8 L114.2 281.3 M191.5 313.2 L104 278.6 M181.3 310.6 L101.6 279.1 M178.9 311 L91.4 276.5 M168.7 308.3 L89 277 M166.3 308.8 L86.7 277.5 M156.1 306.1 L84.4 278 M153.7 306.6 L82.1 278.5 M143.5 303.9 L79.8 279 M133.2 301.3 L77.5 279.5 M130.9 301.7 L75.1 280 M120.6 299.1 L72.8 280.5 M118.3 299.6 L70.5 281" stroke="#000" stroke-width="1.35" stroke-opacity="0.36" fill="none"/>
<path d="M836.6 291.4 L828.6 283.8 M826.3 285.5 L818.3 278 M816 279.8 L808.1 272.4 M813.7 281.4 L805.7 274.2 M803.4 275.9 L795.5 268.8 M793.1 270.5 L785.2 263.5 M782.9 265.3 L774.9 258.3 M780.5 267 L764.6 253.3 M770.3 261.9 L754.3 248.3 M760 257 L744.1 243.5 M749.7 252.1 L733.8 238.8 M739.4 247.3 L723.5 234.2 M729.1 242.7 L713.2 229.7 M718.9 238.1 L702.9 225.2 M708.6 233.6 L692.7 220.9 M698.3 229.2 L682.4 216.6 M680.1 218.7 L664.1 206.2 M669.8 214.5 L653.9 202.2 M659.5 210.4 L643.6 198.2 M649.2 206.3 L633.3 194.3 M638.9 202.4 L623 190.4 M628.7 198.5 L604.8 180.7 M610.4 188.8 L594.5 177 M600.1 185 L584.2 173.4 M589.9 181.4 L566 164.1 M571.6 172 L555.7 160.6 M561.3 168.5 L545.4 157.2 M551.1 165 L527.2 148.2 M532.8 156 L516.9 144.9 M522.5 152.7 L498.6 136.1 M504.3 143.9 L488.4 132.9 M494 140.7 L470.1 124.4 M483.7 137.5 L459.8 121.3 M465.5 129 L457.5 123.7" stroke="#000" stroke-width="1.35" stroke-opacity="0.64" fill="none"/>
<path d="M828.6 283.8 L820.6 276.2 M805.7 274.2 L797.8 266.9 M795.5 268.8 L787.5 261.6 M723.5 234.2 L715.5 227.6 M713.2 229.7 L705.3 223.2 M702.9 225.2 L695 218.8 M692.7 220.9 L684.7 214.5 M682.4 216.6 L674.4 210.3 M643.6 198.2 L635.6 192.1 M633.3 194.3 L625.3 188.2 M623 190.4 L615 184.5 M604.8 180.7 L596.8 174.8 M594.5 177 L586.5 171.2 M584.2 173.4 L576.2 167.6 M566 164.1 L558 158.3 M555.7 160.6 L547.7 154.9 M545.4 157.2 L537.4 151.5 M527.2 148.2 L519.2 142.6 M516.9 144.9 L508.9 139.3 M498.6 136.1 L490.7 130.6 M488.4 132.9 L480.4 127.5 M470.1 124.4 L462.2 119" stroke="#000" stroke-width="1.35" stroke-opacity="0.68" fill="none"/>
<path d="M623.1 370.2 L615.1 366.3 M620.8 370.6 L612.8 366.7 M618.4 371 L610.5 367.1 M616.1 371.4 L600.2 363.7 M613.8 371.8 L597.9 364.1 M611.5 372.1 L595.6 364.6 M609.2 372.5 L585.3 361.2 M606.8 372.9 L583 361.6 M604.5 373.3 L572.7 358.3 M602.2 373.7 L570.4 358.7 M599.9 374 L568 359.1 M597.6 374.4 L557.8 355.8 M595.3 374.8 L555.4 356.2 M585 371.5 L545.2 353 M582.7 371.9 L542.8 353.4 M580.3 372.2 L540.5 353.8 M570.1 368.9 L530.2 350.6 M567.7 369.3 L527.9 351 M565.4 369.7 L517.7 347.8 M555.1 366.5 L515.3 348.3 M552.8 366.9 L505.1 345.1 M550.5 367.3 L502.7 345.5 M540.2 364 L500.4 346 M537.9 364.4 L490.1 342.8 M527.6 361.3 L487.8 343.3 M525.3 361.7 L477.5 340.2 M523 362.1 L475.2 340.6 M512.7 358.9 L464.9 337.5 M510.4 359.3 L462.6 338 M500.1 356.2 L452.3 334.9 M497.8 356.6 L450 335.4 M495.5 357 L439.8 332.3 M485.2 353.9 L437.4 332.8 M482.9 354.3 L427.2 329.7 M472.6 351.2 L424.8 330.2 M470.3 351.7 L414.6 327.2 M460 348.6 L412.2 327.7 M457.7 349 L402 324.7 M447.4 346 L399.6 325.1 M445.1 346.4 L389.4 322.2 M442.8 346.8 L387 322.7 M432.5 343.8 L376.8 319.7 M430.2 344.3 L374.4 320.2 M419.9 341.3 L364.2 317.2 M417.6 341.7 L361.8 317.7 M407.3 338.7 L351.6 314.8 M405 339.2 L349.2 315.3 M394.7 336.2 L339 312.4 M392.4 336.7 L336.7 312.9 M382.1 333.7 L326.4 310 M379.8 334.2 L324.1 310.5 M369.5 331.2 L313.8 307.6 M367.2 331.7 L303.5 304.8 M356.9 328.8 L301.2 305.3 M354.6 329.3 L290.9 302.4 M344.3 326.4 L288.6 302.9 M342 326.8 L278.3 300.1 M331.7 324 L268 297.3 M329.4 324.4 L265.7 297.8 M319.1 321.6 L255.4 295 M316.8 322 L253.1 295.5 M306.5 319.2 L242.8 292.7 M304.2 319.7 L232.5 289.9 M293.9 316.8 L230.2 290.5 M291.6 317.3 L219.9 287.7 M281.3 314.5 L217.6 288.2 M279 315 L207.4 285.5 M268.7 312.2 L197.1 282.7 M266.4 312.6 L194.8 283.2 M256.1 309.9 L184.5 280.5 M245.9 307.1 L174.2 277.8 M243.5 307.6 L171.9 278.3 M233.3 304.8 L161.6 275.6 M230.9 305.3 L159.3 276.2 M220.7 302.5 L149 273.5 M218.3 303 L138.7 270.8 M208.1 300.3 L136.4 271.3 M197.8 297.6 L126.1 268.6 M195.5 298 L123.8 269.2 M185.2 295.3 L121.5 269.7 M182.9 295.8 L119.2 270.2 M172.6 293.1 L116.9 270.8 M162.3 290.4 L114.5 271.3 M160 290.9 L112.2 271.8 M149.7 288.3 L109.9 272.4 M147.4 288.7 L107.6 272.9 M137.1 286.1 L105.3 273.4 M126.8 283.4 L102.9 273.9 M124.5 283.9 L100.6 274.5 M114.2 281.3 L98.3 275 M104 278.6 L96 275.5 M101.6 279.1 L93.7 276" stroke="#000" stroke-width="1.4" stroke-opacity="0.36" fill="none"/>
<path d="M844.5 298.9 L836.6 291.4 M834.3 292.9 L826.3 285.5 M821.7 288.7 L813.7 281.4 M811.4 283.1 L803.4 275.9 M809.1 284.7 L801.1 277.6 M798.8 279.2 L790.8 272.3 M788.5 273.9 L780.5 267 M778.2 268.7 L770.3 261.9 M765.6 265.4 L757.7 258.7 M755.3 260.5 L747.4 253.9 M745.1 255.6 L737.1 249.1 M734.8 250.9 L726.8 244.5 M724.5 246.3 L716.5 239.9 M714.2 241.8 L706.3 235.5 M703.9 237.3 L696 231.1 M693.7 232.9 L677.7 220.6 M683.4 228.7 L667.5 216.5 M665.1 218.4 L657.2 212.4 M654.9 214.3 L646.9 208.4 M644.6 210.3 L636.6 204.4 M634.3 206.4 L626.3 200.5 M624 202.5 L608.1 190.8 M613.7 198.6 L597.8 187.1 M595.5 189.1 L587.5 183.4 M585.2 185.5 L577.3 179.8 M574.9 181.9 L559 170.6 M556.7 172.7 L548.7 167.2 M546.4 169.2 L538.5 163.7 M536.1 165.8 L520.2 154.8 M517.9 157 L509.9 151.5 M507.6 153.7 L491.7 142.9 M489.4 145 L481.4 139.7 M479.1 141.9 L463.2 131.2 M468.8 138.7 L452.9 128.2" stroke="#000" stroke-width="1.4" stroke-opacity="0.6" fill="none"/>
<path d="M824 287.1 L816 279.8 M801.1 277.6 L793.1 270.5 M790.8 272.3 L782.9 265.3 M767.9 263.7 L760 257 M757.7 258.7 L749.7 252.1 M747.4 253.9 L739.4 247.3 M737.1 249.1 L729.1 242.7 M726.8 244.5 L718.9 238.1 M716.5 239.9 L708.6 233.6 M706.3 235.5 L698.3 229.2 M696 231.1 L680.1 218.7 M677.7 220.6 L669.8 214.5 M667.5 216.5 L659.5 210.4 M657.2 212.4 L649.2 206.3 M646.9 208.4 L638.9 202.4 M636.6 204.4 L628.7 198.5 M626.3 200.5 L610.4 188.8 M608.1 190.8 L600.1 185 M597.8 187.1 L589.9 181.4 M587.5 183.4 L571.6 172 M577.3 179.8 L561.3 168.5 M559 170.6 L551.1 165 M548.7 167.2 L532.8 156 M538.5 163.7 L522.5 152.7 M520.2 154.8 L504.3 143.9 M509.9 151.5 L494 140.7 M491.7 142.9 L483.7 137.5 M481.4 139.7 L465.5 129 M463.2 131.2 L455.2 125.9" stroke="#000" stroke-width="1.4" stroke-opacity="0.64" fill="none"/>
<path d="M648.6 365.8 L640.6 361.7 M633.6 363 L625.7 359.1 M618.7 360.4 L610.8 356.4 M606.1 357.3 L598.2 353.4 M591.2 354.8 L583.3 350.9 M578.6 351.8 L570.7 348 M563.7 349.4 L555.7 345.6 M551.1 346.5 L543.1 342.7 M538.5 343.7 L530.5 339.9 M525.9 340.9 L518 337.2 M513.3 338.1 L505.4 334.4 M498.4 335.9 L490.4 332.2 M485.8 333.2 L477.8 329.6 M473.2 330.6 L465.2 326.9 M460.6 327.9 L452.6 324.3 M448 325.3 L440 321.7 M435.4 322.7 L427.4 319.2 M425.1 319.7 L417.2 316.1 M412.5 317.1 L404.6 313.6 M399.9 314.6 L392 311.1 M387.3 312.2 L379.4 308.6 M374.7 309.7 L366.8 306.2 M362.1 307.3 L354.2 303.8 M351.9 304.3 L343.9 300.8 M339.3 301.9 L331.3 298.5 M326.7 299.5 L318.7 296.1 M316.4 296.6 L308.4 293.2 M303.8 294.3 L295.8 290.9 M291.2 292 L283.2 288.6 M280.9 289.1 L273 285.7 M268.3 286.8 L260.4 283.4 M258 284 L250.1 280.6 M255.7 284.6 L247.8 281.2 M245.4 281.7 L237.5 278.4 M232.8 279.5 L224.9 276.2 M222.6 276.7 L214.6 273.4 M210 274.5 L202 271.2 M199.7 271.7 L191.7 268.4 M187.1 269.6 L179.1 266.2 M176.8 266.8 L168.8 263.5 M164.2 264.7 L156.2 261.4" stroke="#000" stroke-width="1.45" stroke-opacity="0.32" fill="none"/>
<path d="M646.2 366.2 L638.3 362.2 M643.9 366.6 L636 362.6 M641.6 367 L633.6 363 M639.3 367.4 L623.4 359.5 M637 367.8 L621 359.9 M634.7 368.2 L618.7 360.4 M632.3 368.6 L608.5 356.9 M630 369 L606.1 357.3 M627.7 369.4 L595.9 353.9 M625.4 369.8 L593.5 354.3 M615.1 366.3 L591.2 354.8 M612.8 366.7 L580.9 351.4 M610.5 367.1 L578.6 351.8 M600.2 363.7 L568.3 348.5 M597.9 364.1 L566 348.9 M595.6 364.6 L563.7 349.4 M585.3 361.2 L553.4 346.1 M583 361.6 L551.1 346.5 M572.7 358.3 L540.8 343.2 M570.4 358.7 L538.5 343.7 M568 359.1 L528.2 340.4 M557.8 355.8 L525.9 340.9 M555.4 356.2 L515.6 337.7 M545.2 353 L513.3 338.1 M542.8 353.4 L503 334.9 M540.5 353.8 L500.7 335.4 M530.2 350.6 L498.4 335.9 M527.9 351 L488.1 332.7 M517.7 347.8 L485.8 333.2 M515.3 348.3 L475.5 330.1 M505.1 345.1 L473.2 330.6 M502.7 345.5 L462.9 327.4 M500.4 346 L460.6 327.9 M490.1 342.8 L450.3 324.8 M487.8 343.3 L448 325.3 M477.5 340.2 L437.7 322.2 M475.2 340.6 L435.4 322.7 M464.9 337.5 L425.1 319.7 M462.6 338 L414.9 316.6 M452.3 334.9 L412.5 317.1 M450 335.4 L402.3 314.1 M439.8 332.3 L399.9 314.6 M437.4 332.8 L389.7 311.6 M427.2 329.7 L387.3 312.2 M424.8 330.2 L377.1 309.2 M414.6 327.2 L374.7 309.7 M412.2 327.7 L364.5 306.7 M402 324.7 L362.1 307.3 M399.6 325.1 L351.9 304.3 M389.4 322.2 L341.6 301.4 M387 322.7 L339.3 301.9 M376.8 319.7 L329 299 M374.4 320.2 L326.7 299.5 M364.2 317.2 L316.4 296.6 M361.8 317.7 L306.1 293.7 M351.6 314.8 L303.8 294.3 M349.2 315.3 L293.5 291.4 M339 312.4 L291.2 292 M336.7 312.9 L280.9 289.1 M326.4 310 L270.6 286.3 M324.1 310.5 L268.3 286.8 M313.8 307.6 L258 284 M303.5 304.8 L255.7 284.6 M301.2 305.3 L245.4 281.7 M290.9 302.4 L235.2 278.9 M288.6 302.9 L232.8 279.5 M278.3 300.1 L222.6 276.7 M268 297.3 L212.3 273.9 M265.7 297.8 L210 274.5 M255.4 295 L199.7 271.7 M253.1 295.5 L189.4 269 M242.8 292.7 L187.1 269.6 M232.5 289.9 L176.8 266.8 M230.2 290.5 L166.5 264.1 M219.9 287.7 L164.2 264.7 M217.6 288.2 L153.9 261.9 M207.4 285.5 L151.6 262.5 M197.1 282.7 L149.3 263.1 M194.8 283.2 L147 263.7 M184.5 280.5 L144.7 264.2 M174.2 277.8 L142.3 264.8 M171.9 278.3 L140 265.3 M161.6 275.6 L137.7 265.9 M159.3 276.2 L135.4 266.4 M149 273.5 L133.1 267 M138.7 270.8 L130.8 267.5 M136.4 271.3 L128.4 268.1" stroke="#000" stroke-width="1.45" stroke-opacity="0.36" fill="none"/>
<path d="M852.5 306.5 L844.5 298.9 M817 291.7 L809.1 284.7 M794.1 282.4 L786.2 275.5 M783.9 277.1 L775.9 270.4 M750.7 263.8 L742.7 257.3 M740.4 259 L732.5 252.6 M730.2 254.3 L722.2 248 M719.9 249.7 L711.9 243.5 M709.6 245.3 L701.6 239.1 M699.3 240.8 L691.3 234.7 M689 236.5 L681.1 230.5 M678.8 232.2 L670.8 226.3 M619.4 206.3 L611.4 200.6 M609.1 202.5 L601.1 196.8 M570.3 185.8 L562.3 180.3 M560 182.2 L552.1 176.8 M521.2 166.4 L513.3 161.1 M492.7 154.5 L484.7 149.2" stroke="#000" stroke-width="1.45" stroke-opacity="0.56" fill="none"/>
<path d="M842.2 300.4 L834.3 292.9 M831.9 294.5 L824 287.1 M829.6 296 L821.7 288.7 M819.3 290.2 L811.4 283.1 M806.7 286.2 L798.8 279.2 M796.5 280.8 L788.5 273.9 M786.2 275.5 L778.2 268.7 M775.9 270.4 L767.9 263.7 M773.6 272 L765.6 265.4 M763.3 267 L755.3 260.5 M753 262.1 L745.1 255.6 M742.7 257.3 L734.8 250.9 M732.5 252.6 L724.5 246.3 M722.2 248 L714.2 241.8 M711.9 243.5 L703.9 237.3 M701.6 239.1 L693.7 232.9 M691.3 234.7 L683.4 228.7 M681.1 230.5 L665.1 218.4 M670.8 226.3 L654.9 214.3 M660.5 222.1 L644.6 210.3 M650.2 218.1 L634.3 206.4 M639.9 214.1 L624 202.5 M629.7 210.1 L613.7 198.6 M611.4 200.6 L595.5 189.1 M601.1 196.8 L585.2 185.5 M590.9 193.1 L574.9 181.9 M580.6 189.4 L556.7 172.7 M562.3 180.3 L546.4 169.2 M552.1 176.8 L536.1 165.8 M541.8 173.3 L517.9 157 M531.5 169.8 L507.6 153.7 M513.3 161.1 L489.4 145 M503 157.8 L479.1 141.9 M484.7 149.2 L468.8 138.7 M474.5 146 L450.6 130.3 M464.2 142.9 L448.3 132.5" stroke="#000" stroke-width="1.45" stroke-opacity="0.6" fill="none"/>
<path d="M669.4 361.9 L661.5 357.8 M667.1 362.4 L659.1 358.2 M664.8 362.8 L656.8 358.7 M662.5 363.2 L646.5 355 M660.1 363.6 L644.2 355.5 M657.8 364.1 L633.9 351.9 M655.5 364.5 L631.6 352.3 M653.2 364.9 L629.3 352.8 M650.9 365.3 L619 349.3 M640.6 361.7 L616.7 349.7 M638.3 362.2 L606.4 346.2 M636 362.6 L604.1 346.7 M625.7 359.1 L601.8 347.2 M623.4 359.5 L591.5 343.7 M621 359.9 L589.2 344.2 M610.8 356.4 L578.9 340.8 M608.5 356.9 L576.6 341.3 M598.2 353.4 L566.3 337.9 M595.9 353.9 L564 338.4 M593.5 354.3 L553.7 335 M583.3 350.9 L551.4 335.5 M580.9 351.4 L549.1 336 M570.7 348 L538.8 332.7 M568.3 348.5 L536.5 333.2 M566 348.9 L526.2 329.9 M555.7 345.6 L523.9 330.4 M553.4 346.1 L513.6 327.1 M543.1 342.7 L511.3 327.7 M540.8 343.2 L501 324.4 M530.5 339.9 L498.7 325 M528.2 340.4 L488.4 321.7 M518 337.2 L486.1 322.3 M515.6 337.7 L475.8 319.1 M505.4 334.4 L473.5 319.6 M503 334.9 L463.2 316.5 M500.7 335.4 L452.9 313.3 M490.4 332.2 L450.6 313.9 M488.1 332.7 L440.3 310.8 M477.8 329.6 L438 311.3 M475.5 330.1 L427.7 308.2 M465.2 326.9 L425.4 308.8 M462.9 327.4 L415.1 305.7 M452.6 324.3 L412.8 306.2 M450.3 324.8 L402.6 303.2 M440 321.7 L392.3 300.2 M437.7 322.2 L390 300.7 M427.4 319.2 L379.7 297.7 M417.2 316.1 L377.4 298.3 M414.9 316.6 L367.1 295.3 M404.6 313.6 L356.8 292.3 M402.3 314.1 L354.5 292.9 M392 311.1 L344.2 289.9 M389.7 311.6 L341.9 290.5 M379.4 308.6 L331.6 287.6 M377.1 309.2 L321.3 284.6 M366.8 306.2 L319 285.2 M364.5 306.7 L308.7 282.3 M354.2 303.8 L298.4 279.4 M343.9 300.8 L296.1 280 M341.6 301.4 L285.8 277.1 M331.3 298.5 L283.5 277.7 M329 299 L273.2 274.9 M318.7 296.1 L263 272 M308.4 293.2 L260.7 272.6 M306.1 293.7 L250.4 269.8 M295.8 290.9 L240.1 266.9 M293.5 291.4 L237.8 267.5 M283.2 288.6 L227.5 264.7 M273 285.7 L217.2 261.9 M270.6 286.3 L206.9 259.2 M260.4 283.4 L204.6 259.8 M250.1 280.6 L194.3 257 M247.8 281.2 L184.1 254.2 M237.5 278.4 L181.7 254.9 M235.2 278.9 L179.4 255.5 M224.9 276.2 L177.1 256.1 M214.6 273.4 L174.8 256.7 M212.3 273.9 L172.5 257.3 M202 271.2 L170.2 257.9 M191.7 268.4 L167.8 258.5 M189.4 269 L165.5 259 M179.1 266.2 L163.2 259.6 M168.8 263.5 L160.9 260.2 M166.5 264.1 L158.6 260.8" stroke="#000" stroke-width="1.5" stroke-opacity="0.32" fill="none"/>
<path d="M850.2 307.9 L842.2 300.4 M839.9 301.8 L831.9 294.5 M837.6 303.2 L829.6 296 M827.3 297.4 L819.3 290.2 M825 298.8 L817 291.7 M814.7 293.2 L806.7 286.2 M804.4 287.7 L796.5 280.8 M802.1 289.2 L794.1 282.4 M791.8 283.8 L783.9 277.1 M781.5 278.7 L773.6 272 M779.2 280.1 L763.3 267 M769 275.1 L753 262.1 M758.7 270.2 L750.7 263.8 M748.4 265.3 L740.4 259 M738.1 260.6 L730.2 254.3 M735.8 262.2 L719.9 249.7 M725.5 257.6 L709.6 245.3 M715.2 253 L699.3 240.8 M705 248.6 L689 236.5 M694.7 244.2 L678.8 232.2 M684.4 239.9 L660.5 222.1 M674.1 235.7 L650.2 218.1 M655.9 225.7 L639.9 214.1 M645.6 221.7 L629.7 210.1 M635.3 217.7 L619.4 206.3 M625 213.8 L609.1 202.5 M614.8 209.9 L590.9 193.1 M604.5 206.1 L580.6 189.4 M586.2 196.8 L570.3 185.8 M576 193.2 L560 182.2 M565.7 189.6 L541.8 173.3 M555.4 186 L531.5 169.8 M537.1 177.1 L521.2 166.4 M526.9 173.7 L503 157.8 M516.6 170.3 L492.7 154.5 M498.3 161.7 L474.5 146 M488.1 158.4 L464.2 142.9 M477.8 155.2 L445.9 134.6 M459.5 146.9 L443.6 136.6 M449.3 143.7 L441.3 138.6" stroke="#000" stroke-width="1.5" stroke-opacity="0.56" fill="none"/>
<path d="M688 358.4 L680 354.1 M685.6 358.8 L677.7 354.5 M683.3 359.3 L675.4 355 M681 359.7 L665.1 351.2 M678.7 360.2 L662.8 351.7 M676.4 360.6 L652.5 348 M674.1 361.1 L650.2 348.5 M671.7 361.5 L647.8 349 M661.5 357.8 L637.6 345.3 M659.1 358.2 L635.2 345.8 M656.8 358.7 L625 342.2 M646.5 355 L622.7 342.7 M644.2 355.5 L612.4 339.2 M633.9 351.9 L610.1 339.7 M631.6 352.3 L607.7 340.2 M629.3 352.8 L597.5 336.7 M619 349.3 L595.1 337.2 M616.7 349.7 L584.9 333.7 M606.4 346.2 L582.5 334.2 M604.1 346.7 L572.3 330.8 M601.8 347.2 L569.9 331.3 M591.5 343.7 L559.7 327.9 M589.2 344.2 L557.3 328.5 M578.9 340.8 L547.1 325.1 M576.6 341.3 L544.8 325.6 M566.3 337.9 L534.5 322.3 M564 338.4 L532.2 322.8 M553.7 335 L521.9 319.5 M551.4 335.5 L519.6 320.1 M549.1 336 L509.3 316.8 M538.8 332.7 L507 317.4 M536.5 333.2 L496.7 314.1 M526.2 329.9 L494.4 314.7 M523.9 330.4 L484.1 311.4 M513.6 327.1 L481.8 312 M511.3 327.7 L471.5 308.8 M501 324.4 L461.2 305.6 M498.7 325 L458.9 306.2 M488.4 321.7 L448.6 303.1 M486.1 322.3 L446.3 303.7 M475.8 319.1 L436 300.5 M473.5 319.6 L433.7 301.1 M463.2 316.5 L423.4 298 M452.9 313.3 L413.1 294.9 M450.6 313.9 L410.8 295.5 M440.3 310.8 L400.5 292.4 M438 311.3 L398.2 293 M427.7 308.2 L387.9 290 M425.4 308.8 L377.7 287 M415.1 305.7 L375.3 287.6 M412.8 306.2 L365.1 284.6 M402.6 303.2 L354.8 281.6 M392.3 300.2 L352.5 282.2 M390 300.7 L342.2 279.2 M379.7 297.7 L331.9 276.3 M377.4 298.3 L329.6 276.9 M367.1 295.3 L319.3 273.9 M356.8 292.3 L317 274.6 M354.5 292.9 L306.7 271.6 M344.2 289.9 L296.4 268.7 M341.9 290.5 L286.1 265.8 M331.6 287.6 L283.8 266.5 M321.3 284.6 L273.5 263.6 M319 285.2 L263.3 260.7 M308.7 282.3 L260.9 261.4 M298.4 279.4 L250.7 258.5 M296.1 280 L240.4 255.7 M285.8 277.1 L238.1 256.3 M283.5 277.7 L227.8 253.5 M273.2 274.9 L217.5 250.7 M263 272 L207.2 247.9 M260.7 272.6 L204.9 248.6 M250.4 269.8 L202.6 249.2 M240.1 266.9 L200.3 249.9 M237.8 267.5 L198 250.5 M227.5 264.7 L195.6 251.1 M217.2 261.9 L193.3 251.8 M206.9 259.2 L191 252.4 M204.6 259.8 L188.7 253 M194.3 257 L186.4 253.6" stroke="#000" stroke-width="1.55" stroke-opacity="0.32" fill="none"/>
<path d="M847.9 309.2 L839.9 301.8 M845.5 310.5 L837.6 303.2 M835.3 304.6 L827.3 297.4 M833 305.9 L825 298.8 M822.7 300.2 L814.7 293.2 M820.4 301.5 L804.4 287.7 M810.1 296 L802.1 289.2 M799.8 290.6 L791.8 283.8 M797.5 291.9 L781.5 278.7 M787.2 286.7 L779.2 280.1 M776.9 281.6 L769 275.1 M774.6 283 L758.7 270.2 M764.3 278 L748.4 265.3 M754 273.2 L746.1 266.9 M743.8 268.4 L735.8 262.2 M733.5 263.7 L725.5 257.6 M723.2 259.1 L715.2 253 M720.9 260.6 L705 248.6 M710.6 256.2 L694.7 244.2 M700.3 251.7 L684.4 239.9 M690 247.4 L674.1 235.7 M679.8 243.1 L663.8 231.5 M669.5 238.9 L653.6 227.4 M651.2 229.1 L643.3 223.4 M641 225.1 L633 219.4 M630.7 221.1 L614.8 209.9 M620.4 217.2 L604.5 206.1 M610.1 213.4 L594.2 202.4 M599.8 209.6 L583.9 198.6 M581.6 200.4 L573.6 195 M571.3 196.8 L555.4 186 M561 193.2 L545.1 182.5 M550.8 189.6 L534.8 179 M532.5 180.8 L524.5 175.6 M522.2 177.4 L506.3 167 M512 174 L496 163.6 M493.7 165.5 L485.7 160.4 M483.4 162.2 L467.5 152 M473.1 159 L457.2 148.8 M454.9 150.7 L439 140.6 M444.6 147.6 L436.7 142.6" stroke="#000" stroke-width="1.55" stroke-opacity="0.52" fill="none"/>
<path d="M746.1 266.9 L738.1 260.6 M663.8 231.5 L655.9 225.7 M653.6 227.4 L645.6 221.7 M643.3 223.4 L635.3 217.7 M633 219.4 L625 213.8 M594.2 202.4 L586.2 196.8 M583.9 198.6 L576 193.2 M573.6 195 L565.7 189.6 M545.1 182.5 L537.1 177.1 M534.8 179 L526.9 173.7 M524.5 175.6 L516.6 170.3 M506.3 167 L498.3 161.7 M496 163.6 L488.1 158.4 M485.7 160.4 L477.8 155.2 M467.5 152 L459.5 146.9 M457.2 148.8 L449.3 143.7" stroke="#000" stroke-width="1.55" stroke-opacity="0.56" fill="none"/>
<path d="M704.2 355.1 L696.2 350.6 M701.9 355.5 L693.9 351.1 M699.5 356 L691.6 351.6 M697.2 356.5 L681.3 347.8 M694.9 357 L679 348.3 M692.6 357.4 L668.7 344.4 M690.3 357.9 L666.4 345 M680 354.1 L656.1 341.2 M677.7 354.5 L653.8 341.7 M675.4 355 L651.5 342.3 M665.1 351.2 L641.2 338.5 M662.8 351.7 L638.9 339.1 M652.5 348 L628.6 335.4 M650.2 348.5 L626.3 336 M647.8 349 L616 332.4 M637.6 345.3 L613.7 332.9 M635.2 345.8 L603.4 329.3 M625 342.2 L601.1 329.9 M622.7 342.7 L590.8 326.4 M612.4 339.2 L588.5 326.9 M610.1 339.7 L586.2 327.5 M607.7 340.2 L575.9 324 M597.5 336.7 L573.6 324.6 M595.1 337.2 L563.3 321.1 M584.9 333.7 L561 321.7 M582.5 334.2 L550.7 318.3 M572.3 330.8 L540.4 314.9 M569.9 331.3 L538.1 315.5 M559.7 327.9 L527.8 312.1 M557.3 328.5 L525.5 312.7 M547.1 325.1 L515.2 309.4 M544.8 325.6 L512.9 310 M534.5 322.3 L502.6 306.7 M532.2 322.8 L500.3 307.3 M521.9 319.5 L490 304.1 M519.6 320.1 L487.7 304.7 M509.3 316.8 L477.4 301.4 M507 317.4 L467.1 298.2 M496.7 314.1 L464.8 298.8 M494.4 314.7 L454.5 295.7 M484.1 311.4 L452.2 296.3 M481.8 312 L441.9 293.1 M471.5 308.8 L431.7 290 M461.2 305.6 L429.4 290.6 M458.9 306.2 L419.1 287.5 M448.6 303.1 L408.8 284.4 M446.3 303.7 L406.5 285 M436 300.5 L396.2 281.9 M433.7 301.1 L393.9 282.6 M423.4 298 L383.6 279.5 M413.1 294.9 L373.3 276.5 M410.8 295.5 L371 277.1 M400.5 292.4 L360.7 274.1 M398.2 293 L350.4 271.1 M387.9 290 L348.1 271.8 M377.7 287 L337.8 268.8 M375.3 287.6 L327.6 265.8 M365.1 284.6 L325.2 266.5 M354.8 281.6 L315 263.6 M352.5 282.2 L304.7 260.6 M342.2 279.2 L294.4 257.7 M331.9 276.3 L292.1 258.4 M329.6 276.9 L281.8 255.5 M319.3 273.9 L271.5 252.6 M317 274.6 L269.2 253.3 M306.7 271.6 L258.9 250.4 M296.4 268.7 L248.7 247.6 M286.1 265.8 L238.4 244.7 M283.8 266.5 L236.1 245.4 M273.5 263.6 L225.8 242.6 M263.3 260.7 L223.5 243.3 M260.9 261.4 L221.1 243.9 M250.7 258.5 L218.8 244.6 M240.4 255.7 L216.5 245.3 M238.1 256.3 L214.2 245.9 M227.8 253.5 L211.9 246.6 M217.5 250.7 L209.6 247.3" stroke="#000" stroke-width="1.6" stroke-opacity="0.32" fill="none"/>
<path d="M840.9 312.9 L833 305.9 M828.3 308.4 L820.4 301.5 M818 302.8 L810.1 296 M805.4 298.6 L797.5 291.9 M792.8 294.6 L784.9 288.1 M782.6 289.4 L774.6 283 M772.3 284.4 L764.3 278 M759.7 280.8 L751.7 274.6 M749.4 276 L741.4 269.9 M739.1 271.3 L731.2 265.2 M728.8 266.7 L720.9 260.6 M706 259.1 L698 253.3 M695.7 254.8 L687.7 248.9 M685.4 250.5 L677.4 244.7 M675.1 246.2 L667.2 240.5 M664.8 242.1 L656.9 236.4 M615.8 220.5 L607.8 215.1 M605.5 216.7 L597.5 211.3 M595.2 213 L587.2 207.6 M584.9 209.2 L577 203.9 M546.1 193.1 L538.2 187.9 M535.8 189.6 L527.9 184.4 M497 174.2 L489.1 169.2 M458.2 159.4 L450.3 154.4" stroke="#000" stroke-width="1.6" stroke-opacity="0.48" fill="none"/>
<path d="M843.2 311.7 L835.3 304.6 M830.6 307.1 L822.7 300.2 M807.8 297.3 L799.8 290.6 M795.2 293.3 L787.2 286.7 M784.9 288.1 L776.9 281.6 M762 279.5 L754 273.2 M751.7 274.6 L743.8 268.4 M741.4 269.9 L733.5 263.7 M731.2 265.2 L723.2 259.1 M718.6 262.1 L710.6 256.2 M708.3 257.7 L700.3 251.7 M698 253.3 L690 247.4 M687.7 248.9 L679.8 243.1 M677.4 244.7 L669.5 238.9 M667.2 240.5 L651.2 229.1 M656.9 236.4 L641 225.1 M646.6 232.4 L630.7 221.1 M636.3 228.4 L620.4 217.2 M626 224.4 L610.1 213.4 M607.8 215.1 L599.8 209.6 M597.5 211.3 L581.6 200.4 M587.2 207.6 L571.3 196.8 M577 203.9 L561 193.2 M566.7 200.2 L550.8 189.6 M556.4 196.7 L532.5 180.8 M538.2 187.9 L522.2 177.4 M527.9 184.4 L512 174 M517.6 181 L493.7 165.5 M507.3 177.6 L483.4 162.2 M489.1 169.2 L473.1 159 M478.8 165.9 L454.9 150.7 M468.5 162.6 L444.6 147.6 M450.3 154.4 L434.3 144.5 M440 151.3 L432 146.3" stroke="#000" stroke-width="1.6" stroke-opacity="0.52" fill="none"/>
<path d="M718.1 352.1 L710.1 347.5 M705.5 348.6 L697.5 344.1 M690.6 345.7 L682.6 341.2 M678 342.3 L670 337.9 M665.4 339 L657.4 334.7 M650.5 336.4 L642.5 332 M637.9 333.2 L629.9 328.9 M625.3 330.1 L617.3 325.8 M612.7 327 L604.7 322.8 M600.1 324 L592.1 319.9 M587.5 321.1 L579.5 316.9 M574.9 318.2 L566.9 314.1 M562.3 315.3 L554.3 311.2 M549.7 312.5 L541.7 308.4 M539.4 309.1 L531.4 305.1 M526.8 306.3 L518.8 302.3 M514.2 303.6 L506.2 299.7 M501.6 300.9 L493.6 297 M491.3 297.7 L483.4 293.7 M478.7 295 L470.8 291.1 M466.1 292.5 L458.2 288.6 M455.9 289.3 L447.9 285.4 M443.3 286.7 L435.3 282.9 M433 283.6 L425 279.8 M420.4 281.1 L412.4 277.3 M410.1 278 L402.1 274.2 M407.8 278.7 L399.8 274.9 M397.5 275.6 L389.5 271.8 M387.2 272.5 L379.3 268.7 M384.9 273.2 L376.9 269.4 M374.6 270.1 L366.7 266.4 M364.3 267.1 L356.4 263.4 M351.7 264.8 L343.8 261.1 M341.5 261.8 L333.5 258.1 M331.2 258.8 L323.2 255.1 M328.9 259.5 L320.9 255.8 M318.6 256.5 L310.6 252.9 M308.3 253.6 L300.3 249.9 M295.7 251.4 L287.8 247.7 M285.4 248.4 L277.5 244.8 M275.2 245.5 L267.2 241.9 M262.6 243.4 L254.6 239.8 M252.3 240.5 L244.3 236.9" stroke="#000" stroke-width="1.65" stroke-opacity="0.28" fill="none"/>
<path d="M715.8 352.6 L707.8 348.1 M713.5 353.1 L705.5 348.6 M711.1 353.6 L695.2 344.6 M708.8 354.1 L692.9 345.1 M706.5 354.6 L690.6 345.7 M696.2 350.6 L680.3 341.8 M693.9 351.1 L678 342.3 M691.6 351.6 L667.7 338.5 M681.3 347.8 L665.4 339 M679 348.3 L655.1 335.2 M668.7 344.4 L652.8 335.8 M666.4 345 L650.5 336.4 M656.1 341.2 L640.2 332.6 M653.8 341.7 L637.9 333.2 M651.5 342.3 L627.6 329.5 M641.2 338.5 L625.3 330.1 M638.9 339.1 L615 326.4 M628.6 335.4 L612.7 327 M626.3 336 L602.4 323.4 M616 332.4 L600.1 324 M613.7 332.9 L589.8 320.5 M603.4 329.3 L587.5 321.1 M601.1 329.9 L577.2 317.6 M590.8 326.4 L574.9 318.2 M588.5 326.9 L564.6 314.7 M586.2 327.5 L562.3 315.3 M575.9 324 L552 311.9 M573.6 324.6 L549.7 312.5 M563.3 321.1 L539.4 309.1 M561 321.7 L529.1 305.7 M550.7 318.3 L526.8 306.3 M540.4 314.9 L516.5 303 M538.1 315.5 L514.2 303.6 M527.8 312.1 L503.9 300.3 M525.5 312.7 L501.6 300.9 M515.2 309.4 L491.3 297.7 M512.9 310 L481.1 294.4 M502.6 306.7 L478.7 295 M500.3 307.3 L468.5 291.8 M490 304.1 L466.1 292.5 M487.7 304.7 L455.9 289.3 M477.4 301.4 L445.6 286.1 M467.1 298.2 L443.3 286.7 M464.8 298.8 L433 283.6 M454.5 295.7 L422.7 280.4 M452.2 296.3 L420.4 281.1 M441.9 293.1 L410.1 278 M431.7 290 L407.8 278.7 M429.4 290.6 L397.5 275.6 M419.1 287.5 L387.2 272.5 M408.8 284.4 L384.9 273.2 M406.5 285 L374.6 270.1 M396.2 281.9 L364.3 267.1 M393.9 282.6 L354.1 264.1 M383.6 279.5 L351.7 264.8 M373.3 276.5 L341.5 261.8 M371 277.1 L331.2 258.8 M360.7 274.1 L328.9 259.5 M350.4 271.1 L318.6 256.5 M348.1 271.8 L308.3 253.6 M337.8 268.8 L298 250.7 M327.6 265.8 L295.7 251.4 M325.2 266.5 L285.4 248.4 M315 263.6 L275.2 245.5 M304.7 260.6 L264.9 242.7 M294.4 257.7 L262.6 243.4 M292.1 258.4 L252.3 240.5 M281.8 255.5 L242 237.7 M271.5 252.6 L239.7 238.4 M269.2 253.3 L237.4 239.1 M258.9 250.4 L235 239.8 M248.7 247.6 L232.7 240.5 M238.4 244.7 L230.4 241.2 M236.1 245.4 L228.1 241.9" stroke="#000" stroke-width="1.65" stroke-opacity="0.32" fill="none"/>
<path d="M823.7 310.7 L815.7 304" stroke="#000" stroke-width="1.65" stroke-opacity="0.44" fill="none"/>
<path d="M838.6 314.1 L830.6 307.1 M836.3 315.2 L828.3 308.4 M826 309.6 L818 302.8 M815.7 304 L807.8 297.3 M813.4 305.2 L805.4 298.6 M803.1 299.8 L795.2 293.3 M800.8 301.1 L792.8 294.6 M790.5 295.9 L782.6 289.4 M780.2 290.7 L772.3 284.4 M777.9 292 L762 279.5 M767.6 287.1 L759.7 280.8 M757.4 282.2 L749.4 276 M755 283.5 L739.1 271.3 M744.8 278.7 L728.8 266.7 M734.5 274.1 L718.6 262.1 M724.2 269.5 L708.3 257.7 M713.9 265 L706 259.1 M703.6 260.6 L695.7 254.8 M701.3 262 L685.4 250.5 M691 257.6 L675.1 246.2 M680.8 253.4 L664.8 242.1 M670.5 249.2 L646.6 232.4 M660.2 245.1 L636.3 228.4 M649.9 241 L626 224.4 M639.6 237 L615.8 220.5 M621.4 227.6 L605.5 216.7 M611.1 223.7 L595.2 213 M600.8 219.9 L584.9 209.2 M590.6 216.2 L566.7 200.2 M580.3 212.5 L556.4 196.7 M570 208.8 L546.1 193.1 M551.8 200 L535.8 189.6 M541.5 196.5 L517.6 181 M531.2 193 L507.3 177.6 M520.9 189.5 L497 174.2 M502.7 181 L478.8 165.9 M492.4 177.7 L468.5 162.6 M482.1 174.4 L458.2 159.4 M463.9 166.1 L440 151.3 M453.6 162.9 L429.7 148.2 M443.3 159.8 L427.4 150" stroke="#000" stroke-width="1.65" stroke-opacity="0.48" fill="none"/>
<path d="M732 349 L724 344.2 M729.7 349.5 L721.7 344.8 M727.4 350 L719.4 345.4 M725 350.5 L709.1 341.3 M722.7 351.1 L706.8 341.8 M720.4 351.6 L696.5 337.8 M710.1 347.5 L694.2 338.4 M707.8 348.1 L683.9 334.4 M697.5 344.1 L681.6 335 M695.2 344.6 L679.3 335.6 M692.9 345.1 L669 331.7 M682.6 341.2 L666.7 332.3 M680.3 341.8 L656.4 328.5 M670 337.9 L654.1 329.1 M667.7 338.5 L643.8 325.3 M657.4 334.7 L641.5 325.9 M655.1 335.2 L631.2 322.2 M652.8 335.8 L628.9 322.8 M642.5 332 L618.6 319.1 M640.2 332.6 L616.3 319.8 M629.9 328.9 L606 316.1 M627.6 329.5 L603.7 316.7 M617.3 325.8 L593.4 313.2 M615 326.4 L591.1 313.8 M604.7 322.8 L580.8 310.2 M602.4 323.4 L578.5 310.9 M592.1 319.9 L568.2 307.4 M589.8 320.5 L557.9 303.9 M579.5 316.9 L555.6 304.6 M577.2 317.6 L545.3 301.1 M566.9 314.1 L543 301.8 M564.6 314.7 L532.7 298.4 M554.3 311.2 L530.4 299 M552 311.9 L520.1 295.7 M541.7 308.4 L509.9 292.3 M531.4 305.1 L507.6 293 M529.1 305.7 L497.3 289.7 M518.8 302.3 L495 290.4 M516.5 303 L484.7 287.1 M506.2 299.7 L474.4 283.8 M503.9 300.3 L472.1 284.5 M493.6 297 L461.8 281.3 M483.4 293.7 L451.5 278.1 M481.1 294.4 L449.2 278.8 M470.8 291.1 L438.9 275.6 M468.5 291.8 L428.6 272.4 M458.2 288.6 L426.3 273.1 M447.9 285.4 L416 270 M445.6 286.1 L405.8 266.9 M435.3 282.9 L403.4 267.6 M425 279.8 L393.2 264.5 M422.7 280.4 L382.9 261.4 M412.4 277.3 L380.6 262.1 M402.1 274.2 L370.3 259.1 M399.8 274.9 L360 256 M389.5 271.8 L349.7 253 M379.3 268.7 L347.4 253.8 M376.9 269.4 L337.1 250.8 M366.7 266.4 L326.9 247.8 M356.4 263.4 L316.6 244.8 M354.1 264.1 L314.3 245.6 M343.8 261.1 L304 242.6 M333.5 258.1 L293.7 239.7 M323.2 255.1 L283.4 236.8 M320.9 255.8 L281.1 237.5 M310.6 252.9 L270.8 234.6 M300.3 249.9 L260.5 231.7 M298 250.7 L258.2 232.5 M287.8 247.7 L255.9 233.2 M277.5 244.8 L253.6 234 M267.2 241.9 L251.3 234.7 M264.9 242.7 L248.9 235.5 M254.6 239.8 L246.6 236.2" stroke="#000" stroke-width="1.7" stroke-opacity="0.28" fill="none"/>
<path d="M834 316.4 L826 309.6 M831.6 317.4 L823.7 310.7 M821.4 311.9 L813.4 305.2 M819 313 L803.1 299.8 M808.8 307.6 L800.8 301.1 M806.4 308.7 L790.5 295.9 M796.2 303.4 L780.2 290.7 M785.9 298.3 L777.9 292 M783.6 299.5 L767.6 287.1 M773.3 294.5 L757.4 282.2 M763 289.6 L755 283.5 M752.7 284.8 L744.8 278.7 M750.4 286 L734.5 274.1 M740.1 281.3 L724.2 269.5 M729.9 276.7 L713.9 265 M719.6 272.2 L711.6 266.4 M709.3 267.7 L701.3 262 M707 269.1 L691 257.6 M696.7 264.7 L680.8 253.4 M686.4 260.4 L670.5 249.2 M676.1 256.2 L660.2 245.1 M665.9 252 L649.9 241 M655.6 247.9 L639.6 237 M645.3 243.9 L629.4 233 M635 239.9 L619.1 229.1 M624.7 236 L608.8 225.3 M614.5 232.1 L598.5 221.5 M604.2 228.3 L588.2 217.7 M585.9 219.3 L570 208.8 M575.7 215.6 L559.7 205.2 M565.4 211.9 L549.4 201.6 M555.1 208.3 L539.2 198.1 M544.8 204.8 L528.9 194.6 M526.6 196.2 L518.6 191.1 M516.3 192.7 L500.4 182.7 M506 189.3 L490.1 179.4 M495.7 186 L479.8 176.1 M477.5 177.7 L461.6 167.9 M467.2 174.4 L451.3 164.6 M456.9 171.2 L441 161.5 M438.7 163.1 L422.8 153.5 M428.4 160 L420.4 155.2" stroke="#000" stroke-width="1.7" stroke-opacity="0.44" fill="none"/>
<path d="M711.6 266.4 L703.6 260.6 M629.4 233 L621.4 227.6 M619.1 229.1 L611.1 223.7 M608.8 225.3 L600.8 219.9 M598.5 221.5 L590.6 216.2 M588.2 217.7 L580.3 212.5 M559.7 205.2 L551.8 200 M549.4 201.6 L541.5 196.5 M539.2 198.1 L531.2 193 M528.9 194.6 L520.9 189.5 M518.6 191.1 L502.7 181 M500.4 182.7 L492.4 177.7 M490.1 179.4 L482.1 174.4 M479.8 176.1 L463.9 166.1 M461.6 167.9 L453.6 162.9 M451.3 164.6 L443.3 159.8 M441 161.5 L425.1 151.7" stroke="#000" stroke-width="1.7" stroke-opacity="0.48" fill="none"/>
<path d="M743.6 346.2 L735.6 341.3 M741.3 346.8 L733.3 341.9 M738.9 347.3 L731 342.5 M736.6 347.9 L720.7 338.3 M734.3 348.4 L718.4 338.9 M724 344.2 L708.1 334.8 M721.7 344.8 L705.8 335.4 M719.4 345.4 L695.5 331.4 M709.1 341.3 L693.2 332 M706.8 341.8 L682.9 328 M696.5 337.8 L680.6 328.6 M694.2 338.4 L678.3 329.3 M683.9 334.4 L668 325.3 M681.6 335 L665.7 326 M679.3 335.6 L655.4 322.1 M669 331.7 L653.1 322.8 M666.7 332.3 L642.8 319 M656.4 328.5 L640.5 319.6 M654.1 329.1 L630.2 315.9 M643.8 325.3 L627.9 316.5 M641.5 325.9 L617.6 312.8 M631.2 322.2 L615.3 313.5 M628.9 322.8 L605 309.8 M618.6 319.1 L594.7 306.2 M616.3 319.8 L592.4 306.9 M606 316.1 L582.1 303.3 M603.7 316.7 L579.8 304 M593.4 313.2 L569.5 300.5 M591.1 313.8 L567.2 301.2 M580.8 310.2 L556.9 297.6 M578.5 310.9 L546.7 294.2 M568.2 307.4 L544.3 294.9 M557.9 303.9 L534.1 291.5 M555.6 304.6 L531.7 292.2 M545.3 301.1 L521.5 288.8 M543 301.8 L511.2 285.4 M532.7 298.4 L508.9 286.1 M530.4 299 L498.6 282.8 M520.1 295.7 L488.3 279.5 M509.9 292.3 L486 280.2 M507.6 293 L475.7 276.9 M497.3 289.7 L473.4 277.7 M495 290.4 L463.1 274.4 M484.7 287.1 L452.8 271.2 M474.4 283.8 L442.5 268 M472.1 284.5 L440.2 268.7 M461.8 281.3 L429.9 265.5 M451.5 278.1 L419.7 262.4 M449.2 278.8 L417.4 263.1 M438.9 275.6 L407.1 260 M428.6 272.4 L396.8 256.9 M426.3 273.1 L394.5 257.7 M416 270 L384.2 254.6 M405.8 266.9 L373.9 251.5 M403.4 267.6 L363.6 248.4 M393.2 264.5 L361.3 249.2 M382.9 261.4 L351 246.2 M380.6 262.1 L340.8 243.2 M370.3 259.1 L330.5 240.2 M360 256 L320.2 237.2 M349.7 253 L317.9 238 M347.4 253.8 L307.6 235 M337.1 250.8 L297.3 232.1 M326.9 247.8 L287 229.2 M316.6 244.8 L276.8 226.2 M314.3 245.6 L274.4 227 M304 242.6 L272.1 227.8 M293.7 239.7 L269.8 228.6 M283.4 236.8 L267.5 229.4 M281.1 237.5 L265.2 230.2 M270.8 234.6 L262.9 231" stroke="#000" stroke-width="1.75" stroke-opacity="0.28" fill="none"/>
<path d="M827 319.5 L819 313 M824.7 320.5 L816.7 314.1 M814.4 315.1 L806.4 308.7 M804.1 309.8 L796.2 303.4 M801.8 310.9 L793.9 304.6 M791.5 305.7 L783.6 299.5 M789.2 306.8 L781.3 300.6 M778.9 301.8 L771 295.7 M768.7 296.8 L760.7 290.8 M756.1 293.2 L748.1 287.3 M745.8 288.4 L737.8 282.6 M735.5 283.8 L727.5 278 M722.9 280.5 L714.9 274.8 M712.6 276 L704.7 270.4 M702.3 271.6 L694.4 266 M692.1 267.3 L684.1 261.8 M681.8 263.1 L673.8 257.5 M671.5 258.9 L663.5 253.4 M579 223.7 L571 218.6 M568.7 220 L560.7 214.9" stroke="#000" stroke-width="1.75" stroke-opacity="0.4" fill="none"/>
<path d="M829.3 318.5 L821.4 311.9 M816.7 314.1 L808.8 307.6 M793.9 304.6 L785.9 298.3 M781.3 300.6 L773.3 294.5 M771 295.7 L763 289.6 M760.7 290.8 L752.7 284.8 M758.4 292 L750.4 286 M748.1 287.3 L740.1 281.3 M737.8 282.6 L729.9 276.7 M727.5 278 L719.6 272.2 M725.2 279.3 L709.3 267.7 M714.9 274.8 L707 269.1 M704.7 270.4 L696.7 264.7 M694.4 266 L686.4 260.4 M684.1 261.8 L676.1 256.2 M673.8 257.5 L665.9 252 M663.5 253.4 L655.6 247.9 M661.2 254.7 L645.3 243.9 M650.9 250.7 L635 239.9 M640.7 246.7 L624.7 236 M630.4 242.7 L614.5 232.1 M620.1 238.8 L604.2 228.3 M609.8 235 L585.9 219.3 M599.5 231.2 L575.7 215.6 M589.3 227.4 L565.4 211.9 M571 218.6 L555.1 208.3 M560.7 214.9 L544.8 204.8 M550.5 211.3 L526.6 196.2 M540.2 207.8 L516.3 192.7 M529.9 204.3 L506 189.3 M519.6 200.8 L495.7 186 M509.3 197.4 L477.5 177.7 M491.1 189.1 L467.2 174.4 M480.8 185.8 L456.9 171.2 M470.5 182.5 L438.7 163.1 M452.3 174.4 L428.4 160 M442 171.2 L418.1 156.9 M431.7 168 L415.8 158.5" stroke="#000" stroke-width="1.75" stroke-opacity="0.44" fill="none"/>
<path d="M755.2 343.3 L747.2 338.3 M752.8 343.9 L744.9 338.9 M750.5 344.5 L742.6 339.5 M748.2 345.1 L732.3 335.2 M745.9 345.6 L730 335.9 M735.6 341.3 L719.7 331.6 M733.3 341.9 L717.4 332.3 M731 342.5 L707.1 328.1 M720.7 338.3 L704.8 328.8 M718.4 338.9 L702.5 329.4 M708.1 334.8 L692.2 325.4 M705.8 335.4 L689.9 326 M695.5 331.4 L679.6 322 M693.2 332 L677.3 322.7 M682.9 328 L667 318.7 M680.6 328.6 L664.7 319.4 M678.3 329.3 L654.4 315.5 M668 325.3 L652.1 316.2 M665.7 326 L641.8 312.4 M655.4 322.1 L639.5 313.1 M653.1 322.8 L629.2 309.3 M642.8 319 L626.9 310 M640.5 319.6 L616.6 306.3 M630.2 315.9 L614.3 307 M627.9 316.5 L604 303.4 M617.6 312.8 L593.7 299.7 M615.3 313.5 L591.4 300.4 M605 309.8 L581.1 296.8 M594.7 306.2 L578.8 297.6 M592.4 306.9 L568.5 294 M582.1 303.3 L558.2 290.5 M579.8 304 L555.9 291.2 M569.5 300.5 L545.6 287.8 M567.2 301.2 L543.3 288.5 M556.9 297.6 L533 285.1 M546.7 294.2 L522.8 281.6 M544.3 294.9 L520.4 282.4 M534.1 291.5 L510.2 279 M531.7 292.2 L499.9 275.7 M521.5 288.8 L497.6 276.4 M511.2 285.4 L487.3 273.1 M508.9 286.1 L477 269.8 M498.6 282.8 L474.7 270.6 M488.3 279.5 L464.4 267.3 M486 280.2 L454.1 264.1 M475.7 276.9 L451.8 264.9 M473.4 277.7 L441.5 261.6 M463.1 274.4 L431.3 258.5 M452.8 271.2 L421 255.3 M442.5 268 L418.7 256.1 M440.2 268.7 L408.4 252.9 M429.9 265.5 L398.1 249.8 M419.7 262.4 L387.8 246.7 M417.4 263.1 L385.5 247.5 M407.1 260 L375.2 244.4 M396.8 256.9 L364.9 241.4 M394.5 257.7 L354.7 238.3 M384.2 254.6 L352.3 239.1 M373.9 251.5 L342.1 236.1 M363.6 248.4 L331.8 233.1 M361.3 249.2 L321.5 230.1 M351 246.2 L311.2 227.2 M340.8 243.2 L308.9 228 M330.5 240.2 L298.6 225 M320.2 237.2 L288.3 222.1 M317.9 238 L286 223 M307.6 235 L283.7 223.8 M297.3 232.1 L281.4 224.6 M287 229.2 L279.1 225.4" stroke="#000" stroke-width="1.8" stroke-opacity="0.28" fill="none"/>
<path d="M817.7 323.4 L809.8 317.2 M807.5 318.1 L799.5 311.9 M794.9 314 L786.9 307.9 M772 305 L764 299.1 M749.1 296.5 L741.1 290.8" stroke="#000" stroke-width="1.8" stroke-opacity="0.36" fill="none"/>
<path d="M822.4 321.5 L814.4 315.1 M820.1 322.5 L804.1 309.8 M809.8 317.2 L801.8 310.9 M799.5 311.9 L791.5 305.7 M797.2 312.9 L789.2 306.8 M786.9 307.9 L778.9 301.8 M784.6 308.9 L768.7 296.8 M774.3 304 L758.4 292 M764 299.1 L756.1 293.2 M761.7 300.2 L745.8 288.4 M751.4 295.4 L735.5 283.8 M741.1 290.8 L725.2 279.3 M738.8 291.9 L722.9 280.5 M728.5 287.3 L712.6 276 M718.3 282.9 L702.3 271.6 M708 278.4 L692.1 267.3 M705.7 279.6 L681.8 263.1 M695.4 275.3 L671.5 258.9 M685.1 271 L661.2 254.7 M674.8 266.8 L650.9 250.7 M664.5 262.7 L640.7 246.7 M654.3 258.6 L630.4 242.7 M644 254.6 L620.1 238.8 M633.7 250.6 L609.8 235 M623.4 246.7 L599.5 231.2 M613.1 242.9 L589.3 227.4 M602.9 239.1 L579 223.7 M592.6 235.3 L568.7 220 M582.3 231.6 L550.5 211.3 M572 227.9 L540.2 207.8 M553.8 219.3 L529.9 204.3 M543.5 215.7 L519.6 200.8 M533.2 212.2 L509.3 197.4 M522.9 208.7 L491.1 189.1 M512.7 205.2 L480.8 185.8 M494.4 197 L470.5 182.5 M484.1 193.6 L460.3 179.2 M473.9 190.3 L442 171.2 M455.6 182.3 L431.7 168 M445.3 179 L421.5 164.9 M435.1 175.8 L411.2 161.8 M416.8 168 L408.9 163.3" stroke="#000" stroke-width="1.8" stroke-opacity="0.4" fill="none"/>
<path d="M460.3 179.2 L452.3 174.4 M421.5 164.9 L413.5 160.2" stroke="#000" stroke-width="1.8" stroke-opacity="0.44" fill="none"/>
<path d="M771.4 338.9 L763.4 333.7 M769.1 339.6 L761.1 334.3 M766.8 340.2 L758.8 335 M764.4 340.8 L748.5 330.5 M762.1 341.5 L746.2 331.2 M759.8 342.1 L743.9 331.9 M757.5 342.7 L733.6 327.5 M747.2 338.3 L731.3 328.2 M744.9 338.9 L729 328.9 M742.6 339.5 L718.7 324.7 M732.3 335.2 L716.4 325.4 M730 335.9 L706.1 321.2 M719.7 331.6 L703.8 321.9 M717.4 332.3 L693.5 317.8 M707.1 328.1 L691.2 318.5 M704.8 328.8 L680.9 314.5 M702.5 329.4 L678.6 315.2 M692.2 325.4 L676.3 315.9 M689.9 326 L666 311.9 M679.6 322 L663.7 312.7 M677.3 322.7 L653.4 308.8 M667 318.7 L651.1 309.5 M664.7 319.4 L640.8 305.7 M654.4 315.5 L638.5 306.4 M652.1 316.2 L628.2 302.6 M641.8 312.4 L617.9 298.9 M639.5 313.1 L615.6 299.6 M629.2 309.3 L605.3 295.9 M626.9 310 L603 296.7 M616.6 306.3 L592.7 293 M614.3 307 L590.4 293.8 M604 303.4 L580.1 290.2 M593.7 299.7 L569.8 286.6 M591.4 300.4 L567.5 287.4 M581.1 296.8 L557.2 283.9 M578.8 297.6 L554.9 284.7 M568.5 294 L544.6 281.1 M558.2 290.5 L534.4 277.7 M555.9 291.2 L532 278.5 M545.6 287.8 L521.8 275.1 M543.3 288.5 L511.5 271.6 M533 285.1 L509.2 272.5 M522.8 281.6 L498.9 269.1 M520.4 282.4 L488.6 265.8 M510.2 279 L486.3 266.6 M499.9 275.7 L476 263.3 M497.6 276.4 L465.7 260 M487.3 273.1 L463.4 260.8 M477 269.8 L453.1 257.6 M474.7 270.6 L442.8 254.3 M464.4 267.3 L432.6 251.1 M454.1 264.1 L430.2 252 M451.8 264.9 L420 248.8 M441.5 261.6 L409.7 245.6 M431.3 258.5 L399.4 242.5 M421 255.3 L397.1 243.3 M418.7 256.1 L386.8 240.2 M408.4 252.9 L376.5 237.1 M398.1 249.8 L366.2 234.1 M387.8 246.7 L356 231 M385.5 247.5 L353.6 231.9 M375.2 244.4 L343.4 228.9 M364.9 241.4 L333.1 225.8 M354.7 238.3 L322.8 222.9 M352.3 239.1 L312.5 219.9 M342.1 236.1 L302.2 216.9 M331.8 233.1 L299.9 217.8 M321.5 230.1 L297.6 218.7 M311.2 227.2 L295.3 219.5 M308.9 228 L293 220.4 M298.6 225 L290.7 221.3" stroke="#000" stroke-width="1.85" stroke-opacity="0.28" fill="none"/>
<path d="M815.4 324.4 L807.5 318.1 M813.1 325.3 L797.2 312.9 M810.8 326.1 L794.9 314 M808.5 327 L784.6 308.9 M798.2 321.9 L774.3 304 M795.9 322.8 L772 305 M785.6 317.8 L761.7 300.2 M775.3 312.9 L751.4 295.4 M773 313.8 L749.1 296.5 M762.7 309 L738.8 291.9 M752.4 304.3 L728.5 287.3 M742.2 299.7 L718.3 282.9 M731.9 295.1 L715.9 284 M729.6 296.2 L705.7 279.6 M719.3 291.7 L695.4 275.3 M709 287.3 L685.1 271 M698.7 283 L674.8 266.8 M688.4 278.8 L672.5 268.1 M678.2 274.6 L662.2 263.9 M667.9 270.4 L652 259.9 M657.6 266.3 L641.7 255.9 M647.3 262.3 L631.4 251.9 M637 258.3 L621.1 248 M626.8 254.4 L610.8 244.2 M616.5 250.5 L600.5 240.4 M606.2 246.7 L590.3 236.6 M595.9 242.9 L580 232.9 M585.6 239.2 L569.7 229.2 M575.4 235.5 L559.4 225.6 M565.1 231.8 L549.2 222 M554.8 228.2 L538.9 218.5 M544.5 224.7 L528.6 214.9 M526.3 216.3 L518.3 211.5 M516 212.8 L500.1 203.2 M505.7 209.4 L489.8 199.8 M495.4 206 L479.5 196.5 M477.2 197.9 L469.2 193.2 M466.9 194.6 L458.9 189.9 M456.6 191.3 L448.7 186.7 M446.3 188.1 L430.4 178.8 M428.1 180.3 L420.1 175.6 M417.8 177.1 L409.9 172.5 M407.5 174 L399.6 169.4" stroke="#000" stroke-width="1.85" stroke-opacity="0.36" fill="none"/>
<path d="M715.9 284 L708 278.4 M672.5 268.1 L664.5 262.7 M662.2 263.9 L654.3 258.6 M652 259.9 L644 254.6 M641.7 255.9 L633.7 250.6 M631.4 251.9 L623.4 246.7 M621.1 248 L613.1 242.9 M610.8 244.2 L602.9 239.1 M600.5 240.4 L592.6 235.3 M590.3 236.6 L582.3 231.6 M580 232.9 L572 227.9 M569.7 229.2 L553.8 219.3 M559.4 225.6 L543.5 215.7 M549.2 222 L533.2 212.2 M538.9 218.5 L522.9 208.7 M528.6 214.9 L512.7 205.2 M518.3 211.5 L494.4 197 M500.1 203.2 L484.1 193.6 M489.8 199.8 L473.9 190.3 M479.5 196.5 L455.6 182.3 M469.2 193.2 L445.3 179 M458.9 189.9 L435.1 175.8 M448.7 186.7 L416.8 168 M430.4 178.8 L406.5 164.9 M420.1 175.6 L404.2 166.4 M409.9 172.5 L401.9 167.9" stroke="#000" stroke-width="1.85" stroke-opacity="0.4" fill="none"/>
<path d="M789.9 333.4 L782 327.7 M787.6 334.1 L779.6 328.5 M785.3 334.8 L769.4 323.8 M783 335.5 L767 324.6 M780.7 336.2 L756.8 319.9 M778.3 336.9 L746.5 315.4 M776 337.6 L744.2 316.2 M773.7 338.3 L733.9 311.7 M763.4 333.7 L731.6 312.6 M761.1 334.3 L721.3 308.2 M758.8 335 L719 309.1 M748.5 330.5 L716.7 309.9 M746.2 331.2 L714.3 310.7 M743.9 331.9 L712 311.6 M733.6 327.5 L701.7 307.3 M731.3 328.2 L699.4 308.2 M729 328.9 L697.1 309 M718.7 324.7 L686.8 304.9 M716.4 325.4 L684.5 305.7 M706.1 321.2 L682.2 306.5 M703.8 321.9 L671.9 302.5 M693.5 317.8 L669.6 303.3 M691.2 318.5 L659.3 299.3 M680.9 314.5 L657 300.1 M678.6 315.2 L646.7 296.2 M676.3 315.9 L644.4 297 M666 311.9 L634.1 293.2 M663.7 312.7 L631.8 294 M653.4 308.8 L621.5 290.2 M651.1 309.5 L619.2 291.1 M640.8 305.7 L608.9 287.3 M638.5 306.4 L606.6 288.1 M628.2 302.6 L596.3 284.4 M617.9 298.9 L594 285.3 M615.6 299.6 L583.7 281.6 M605.3 295.9 L581.4 282.5 M603 296.7 L571.1 278.9 M592.7 293 L568.8 279.7 M590.4 293.8 L558.5 276.2 M580.1 290.2 L548.3 272.6 M569.8 286.6 L545.9 273.5 M567.5 287.4 L535.7 270 M557.2 283.9 L525.4 266.5 M554.9 284.7 L523.1 267.4 M544.6 281.1 L512.8 264 M534.4 277.7 L510.5 264.9 M532 278.5 L500.2 261.5 M521.8 275.1 L489.9 258.1 M511.5 271.6 L479.6 254.8 M509.2 272.5 L477.3 255.7 M498.9 269.1 L467 252.4 M488.6 265.8 L456.7 249.1 M486.3 266.6 L454.4 250 M476 263.3 L444.1 246.8 M465.7 260 L433.9 243.5 M463.4 260.8 L423.6 240.3 M453.1 257.6 L421.3 241.2 M442.8 254.3 L411 238.1 M432.6 251.1 L400.7 234.9 M430.2 252 L390.4 231.8 M420 248.8 L388.1 232.7 M409.7 245.6 L377.8 229.6 M399.4 242.5 L367.6 226.5 M397.1 243.3 L357.3 223.5 M386.8 240.2 L347 220.4 M376.5 237.1 L344.7 221.4 M366.2 234.1 L334.4 218.3 M356 231 L324.1 215.3 M353.6 231.9 L313.8 212.4 M343.4 228.9 L311.5 213.3 M333.1 225.8 L309.2 214.2 M322.8 222.9 L306.9 215.1 M312.5 219.9 L304.6 216" stroke="#000" stroke-width="1.9" stroke-opacity="0.28" fill="none"/>
<path d="M806.2 327.9 L798.2 321.9 M803.8 328.7 L795.9 322.8 M801.5 329.5 L785.6 317.8 M799.2 330.3 L775.3 312.9 M796.9 331.1 L773 313.8 M794.6 331.9 L762.7 309 M792.2 332.6 L752.4 304.3 M782 327.7 L750.1 305.3 M779.6 328.5 L739.8 300.7 M769.4 323.8 L737.5 301.7 M767 324.6 L727.2 297.2 M756.8 319.9 L717 292.8 M746.5 315.4 L706.7 288.4 M744.2 316.2 L704.4 289.5 M733.9 311.7 L694.1 285.2 M731.6 312.6 L683.8 281 M705.4 297.7 L673.5 276.8 M695.1 293.5 L671.2 277.9 M684.8 289.3 L660.9 273.8 M674.5 285.1 L650.6 269.8 M664.2 281.1 L640.4 265.8 M646 272 L630.1 261.9 M635.7 268 L619.8 258 M625.4 264.1 L609.5 254.2 M615.2 260.3 L599.2 250.4 M604.9 256.5 L596.9 251.5 M594.6 252.7 L586.6 247.8 M584.3 249 L576.4 244.1 M574 245.3 L566.1 240.5" stroke="#000" stroke-width="1.9" stroke-opacity="0.32" fill="none"/>
<path d="M750.1 305.3 L742.2 299.7 M739.8 300.7 L731.9 295.1 M737.5 301.7 L729.6 296.2 M727.2 297.2 L719.3 291.7 M717 292.8 L709 287.3 M706.7 288.4 L698.7 283 M704.4 289.5 L688.4 278.8 M694.1 285.2 L678.2 274.6 M683.8 281 L667.9 270.4 M673.5 276.8 L657.6 266.3 M671.2 277.9 L647.3 262.3 M660.9 273.8 L637 258.3 M650.6 269.8 L626.8 254.4 M640.4 265.8 L616.5 250.5 M630.1 261.9 L606.2 246.7 M619.8 258 L595.9 242.9 M609.5 254.2 L585.6 239.2 M599.2 250.4 L575.4 235.5 M596.9 251.5 L565.1 231.8 M586.6 247.8 L554.8 228.2 M576.4 244.1 L544.5 224.7 M566.1 240.5 L526.3 216.3 M555.8 236.8 L516 212.8 M545.5 233.3 L505.7 209.4 M535.2 229.7 L495.4 206 M525 226.2 L477.2 197.9 M514.7 222.8 L466.9 194.6 M496.4 214.7 L456.6 191.3 M486.2 211.3 L446.3 188.1 M475.9 208 L428.1 180.3 M457.6 200 L417.8 177.1 M447.4 196.8 L407.5 174 M437.1 193.6 L397.3 170.8 M418.8 185.8 L394.9 172.3 M408.6 182.7 L392.6 173.7 M398.3 179.6 L390.3 175.1" stroke="#000" stroke-width="1.9" stroke-opacity="0.36" fill="none"/>
<path d="M719 309.1 L711 303.9 M716.7 309.9 L700.7 299.6 M714.3 310.7 L698.4 300.5 M712 311.6 L688.1 296.3 M701.7 307.3 L677.9 292.2 M699.4 308.2 L675.5 293.1 M697.1 309 L665.3 289.1 M686.8 304.9 L655 285 M684.5 305.7 L644.7 281.1 M682.2 306.5 L634.4 277.2 M671.9 302.5 L632.1 278.1 M669.6 303.3 L621.8 274.3 M659.3 299.3 L611.5 270.5 M657 300.1 L601.3 266.7 M646.7 296.2 L591 263 M644.4 297 L580.7 259.3 M634.1 293.2 L570.4 255.6 M631.8 294 L560.1 252 M621.5 290.2 L549.9 248.4 M619.2 291.1 L547.5 249.5 M608.9 287.3 L537.3 246 M606.6 288.1 L527 242.5 M596.3 284.4 L516.7 239 M594 285.3 L530.3 249.1 M583.7 281.6 L528 250.1 M581.4 282.5 L525.7 251.2 M571.1 278.9 L515.4 247.7 M568.8 279.7 L513.1 248.7 M558.5 276.2 L510.8 249.7 M548.3 272.6 L500.5 246.3 M545.9 273.5 L490.2 242.9 M535.7 270 L487.9 243.9 M525.4 266.5 L477.6 240.6 M523.1 267.4 L475.3 241.6 M512.8 264 L465 238.3 M510.5 264.9 L462.7 239.2 M500.2 261.5 L452.4 236 M489.9 258.1 L442.1 232.7 M479.6 254.8 L439.8 233.7 M477.3 255.7 L429.5 230.5 M467 252.4 L419.3 227.3 M456.7 249.1 L416.9 228.3 M454.4 250 L406.7 225.1 M444.1 246.8 L396.4 222 M433.9 243.5 L386.1 218.9 M423.6 240.3 L383.8 219.9 M421.3 241.2 L373.5 216.8 M411 238.1 L363.2 213.7 M400.7 234.9 L352.9 210.6 M390.4 231.8 L350.6 211.6 M388.1 232.7 L340.3 208.6 M377.8 229.6 L330.1 205.6 M367.6 226.5 L327.7 206.6 M357.3 223.5 L325.4 207.6 M347 220.4 L323.1 208.6 M344.7 221.4 L320.8 209.5 M334.4 218.3 L318.5 210.5 M324.1 215.3 L316.2 211.4" stroke="#000" stroke-width="1.95" stroke-opacity="0.28" fill="none"/>
<path d="M721.3 308.2 L705.4 297.7 M711 303.9 L695.1 293.5 M700.7 299.6 L684.8 289.3 M698.4 300.5 L674.5 285.1 M688.1 296.3 L664.2 281.1 M677.9 292.2 L646 272 M675.5 293.1 L635.7 268 M665.3 289.1 L625.4 264.1 M655 285 L615.2 260.3 M644.7 281.1 L604.9 256.5 M634.4 277.2 L594.6 252.7 M632.1 278.1 L584.3 249 M621.8 274.3 L574 245.3 M611.5 270.5 L555.8 236.8 M601.3 266.7 L545.5 233.3 M591 263 L535.2 229.7 M580.7 259.3 L525 226.2 M570.4 255.6 L514.7 222.8 M560.1 252 L496.4 214.7 M549.9 248.4 L486.2 211.3 M547.5 249.5 L475.9 208 M537.3 246 L465.6 204.6 M527 242.5 L455.3 201.4 M516.7 239 L445 198.1 M498.5 231 L434.8 194.9 M480.2 223.2 L416.5 187.2 M469.9 219.8 L406.2 184 M451.7 212.1 L396 180.9 M441.4 208.8 L385.7 177.8 M423.2 201.2 L383.4 179.1 M404.9 193.6 L381 180.5 M394.7 190.5 L378.7 181.8" stroke="#000" stroke-width="1.95" stroke-opacity="0.32" fill="none"/>
<path d="M465.6 204.6 L457.6 200 M455.3 201.4 L447.4 196.8 M445 198.1 L437.1 193.6 M434.8 194.9 L418.8 185.8 M416.5 187.2 L408.6 182.7 M406.2 184 L398.3 179.6 M396 180.9 L388 176.5" stroke="#000" stroke-width="1.95" stroke-opacity="0.36" fill="none"/>
<path d="M530.3 249.1 L506.4 235.6 M528 250.1 L496.1 232.2 M525.7 251.2 L485.9 228.8 M515.4 247.7 L467.6 221 M513.1 248.7 L457.3 217.7 M510.8 249.7 L447.1 214.4 M500.5 246.3 L436.8 211.2 M490.2 242.9 L426.5 208 M487.9 243.9 L416.2 204.8 M477.6 240.6 L405.9 201.6 M475.3 241.6 L395.7 198.5 M465 238.3 L385.4 195.4 M462.7 239.2 L367.1 188 M452.4 236 L364.8 189.2 M442.1 232.7 L362.5 190.4 M439.8 233.7 L360.2 191.6 M429.5 230.5 L357.9 192.7 M419.3 227.3 L355.6 193.9 M416.9 228.3 L353.2 195 M406.7 225.1 L350.9 196.1 M396.4 222 L348.6 197.2 M386.1 218.9 L346.3 198.3 M383.8 219.9 L344 199.4 M373.5 216.8 L341.6 200.4 M363.2 213.7 L339.3 201.5 M352.9 210.6 L337 202.5 M350.6 211.6 L334.7 203.6 M340.3 208.6 L332.4 204.6" stroke="#000" stroke-width="2" stroke-opacity="0.28" fill="none"/>
<path d="M506.4 235.6 L498.5 231 M496.1 232.2 L480.2 223.2 M485.9 228.8 L469.9 219.8 M467.6 221 L451.7 212.1 M457.3 217.7 L441.4 208.8 M447.1 214.4 L423.2 201.2 M436.8 211.2 L404.9 193.6 M426.5 208 L394.7 190.5 M416.2 204.8 L376.4 183 M405.9 201.6 L374.1 184.3 M395.7 198.5 L371.8 185.6 M385.4 195.4 L369.5 186.8" stroke="#000" stroke-width="2" stroke-opacity="0.32" fill="none"/>
<path d="M612.8 366.7l-2.3 .4l-2.3 .4l-2.4 .4l-2.3 .4l-2.3 .4l-2.3 .4l-2.3 .4l-2.4 .4l-2.3 .4l-2.3 .4l-2.3 .4l-2.3 .4l-2.3 .4l-2.4 .3l-2.3 .4l-2.3 .4l-2.3 .4l-2.3 .4l-2.3 .3l-2.4 .4l-2.3 .4l-2.3 .4l-2.3 .3l-2.3 .4l-2.4 .4l-2.3 .3l-2.3 .4l-2.3 .4l-2.3 .3l-2.3 .4l-2.4 .4l-2.3 .3l-2.3 .4l-2.3 .3l-2.3 .4l-2.3 .3l-2.4 .4l-2.3 .4l-2.3 .3l-2.3 .4l-2.3 .3l-2.3 .4l-2.4 .3l-2.3 .4l-2.3 .3l-2.3 .4l-2.3 .3l-2.4 .4l-2.3 .3l-2.3 .3l-2.3 .4l-2.3 .3l-2.3 .4l-2.4 .3l-2.3 .4l-2.3 .3l-2.3 .3l-2.3 .4l-2.3 .3l-2.4 .4l-2.3 .3l-2.3 .3l-2.3 .4l-2.3 .3l-2.3 .3l-2.4 .4l-2.3 .3l-2.3 .3l-2.3 .4l-2.3 .3l-2.4 .3l-2.3 .4l-2.3 .3l-2.3 .3l-2.3 .3l-2.3 .4l-2.4 .3l-2.3 .3l-2.3 .4l-2.3 .3l-2.3 .3l-2.3 .3l-2.4 .4l-2.3 .3l-2.3 .3l-2.3 .3l-2.3 .4l-2.4 .3l-2.3 .3l-2.3 .3l-2.3 .3l-2.3 .4l-2.3 .3l-2.4 .3l-2.3 .3l-2.3 .3l-2.3 .4l-2.3 .3l-2.3 .3l-2.4 .3 M600.2 363.7l-2.3 .4l-2.3 .5l-2.4 .4l-2.3 .4l-2.3 .4l-2.3 .4l-2.3 .4l-2.4 .4l-2.3 .4l-2.3 .4l-2.3 .4l-2.3 .4l-2.3 .3l-2.4 .4l-2.3 .4l-2.3 .4l-2.3 .4l-2.3 .4l-2.3 .4l-2.4 .4l-2.3 .3l-2.3 .4l-2.3 .4l-2.3 .4l-2.3 .3l-2.4 .4l-2.3 .4l-2.3 .4l-2.3 .3l-2.3 .4l-2.4 .4l-2.3 .3l-2.3 .4l-2.3 .4l-2.3 .3l-2.3 .4l-2.4 .4l-2.3 .3l-2.3 .4l-2.3 .3l-2.3 .4l-2.3 .4l-2.4 .3l-2.3 .4l-2.3 .3l-2.3 .4l-2.3 .3l-2.3 .4l-2.4 .3l-2.3 .4l-2.3 .3l-2.3 .4l-2.3 .3l-2.4 .4l-2.3 .3l-2.3 .4l-2.3 .3l-2.3 .4l-2.3 .3l-2.4 .3l-2.3 .4l-2.3 .3l-2.3 .4l-2.3 .3l-2.3 .3l-2.4 .4l-2.3 .3l-2.3 .4l-2.3 .3l-2.3 .3l-2.4 .4l-2.3 .3l-2.3 .3l-2.3 .4l-2.3 .3l-2.3 .3l-2.4 .4l-2.3 .3l-2.3 .3l-2.3 .4l-2.3 .3l-2.3 .3l-2.4 .3l-2.3 .4l-2.3 .3l-2.3 .3l-2.3 .3l-2.4 .4l-2.3 .3l-2.3 .3l-2.3 .4l-2.3 .3l-2.3 .3l-2.4 .3l-2.3 .3l-2.3 .4l-2.3 .3l-2.3 .3 M585.3 361.2l-2.3 .4l-2.4 .4l-2.3 .4l-2.3 .4l-2.3 .4l-2.3 .5l-2.3 .4l-2.4 .4l-2.3 .4l-2.3 .4l-2.3 .4l-2.3 .4l-2.4 .4l-2.3 .4l-2.3 .4l-2.3 .4l-2.3 .3l-2.3 .4l-2.4 .4l-2.3 .4l-2.3 .4l-2.3 .4l-2.3 .4l-2.3 .3l-2.4 .4l-2.3 .4l-2.3 .4l-2.3 .4l-2.3 .3l-2.3 .4l-2.4 .4l-2.3 .4l-2.3 .3l-2.3 .4l-2.3 .4l-2.4 .3l-2.3 .4l-2.3 .4l-2.3 .3l-2.3 .4l-2.3 .4l-2.4 .3l-2.3 .4l-2.3 .3l-2.3 .4l-2.3 .4l-2.3 .3l-2.4 .4l-2.3 .3l-2.3 .4l-2.3 .3l-2.3 .4l-2.4 .3l-2.3 .4l-2.3 .3l-2.3 .4l-2.3 .3l-2.3 .4l-2.4 .3l-2.3 .4l-2.3 .3l-2.3 .4l-2.3 .3l-2.3 .4l-2.4 .3l-2.3 .3l-2.3 .4l-2.3 .3l-2.3 .4l-2.4 .3l-2.3 .3l-2.3 .4l-2.3 .3l-2.3 .4l-2.3 .3l-2.4 .3l-2.3 .4l-2.3 .3l-2.3 .3l-2.3 .4l-2.3 .3l-2.4 .3l-2.3 .4l-2.3 .3l-2.3 .3l-2.3 .4l-2.3 .3l-2.4 .3l-2.3 .4l-2.3 .3l-2.3 .3l-2.3 .3l-2.4 .4l-2.3 .3l-2.3 .3 M570.4 358.7l-2.4 .4l-2.3 .4l-2.3 .4l-2.3 .5l-2.3 .4l-2.3 .4l-2.4 .4l-2.3 .4l-2.3 .4l-2.3 .4l-2.3 .4l-2.3 .4l-2.4 .4l-2.3 .4l-2.3 .4l-2.3 .4l-2.3 .4l-2.4 .4l-2.3 .4l-2.3 .4l-2.3 .4l-2.3 .4l-2.3 .4l-2.4 .4l-2.3 .4l-2.3 .3l-2.3 .4l-2.3 .4l-2.3 .4l-2.4 .4l-2.3 .3l-2.3 .4l-2.3 .4l-2.3 .4l-2.4 .3l-2.3 .4l-2.3 .4l-2.3 .4l-2.3 .3l-2.3 .4l-2.4 .4l-2.3 .3l-2.3 .4l-2.3 .4l-2.3 .3l-2.3 .4l-2.4 .3l-2.3 .4l-2.3 .4l-2.3 .3l-2.3 .4l-2.4 .3l-2.3 .4l-2.3 .3l-2.3 .4l-2.3 .4l-2.3 .3l-2.4 .4l-2.3 .3l-2.3 .4l-2.3 .3l-2.3 .4l-2.3 .3l-2.4 .4l-2.3 .3l-2.3 .3l-2.3 .4l-2.3 .3l-2.3 .4l-2.4 .3l-2.3 .4l-2.3 .3l-2.3 .3l-2.3 .4l-2.4 .3l-2.3 .4l-2.3 .3l-2.3 .3l-2.3 .4l-2.3 .3l-2.4 .4l-2.3 .3l-2.3 .3l-2.3 .4l-2.3 .3l-2.3 .3l-2.4 .4l-2.3 .3l-2.3 .3l-2.3 .4l-2.3 .3l-2.3 .3 M557.8 355.8l-2.4 .4l-2.3 .5l-2.3 .4l-2.3 .4l-2.3 .4l-2.3 .5l-2.4 .4l-2.3 .4l-2.3 .4l-2.3 .4l-2.3 .4l-2.3 .4l-2.4 .5l-2.3 .4l-2.3 .4l-2.3 .4l-2.3 .4l-2.4 .4l-2.3 .4l-2.3 .4l-2.3 .4l-2.3 .4l-2.3 .4l-2.4 .3l-2.3 .4l-2.3 .4l-2.3 .4l-2.3 .4l-2.3 .4l-2.4 .4l-2.3 .4l-2.3 .3l-2.3 .4l-2.3 .4l-2.4 .4l-2.3 .4l-2.3 .3l-2.3 .4l-2.3 .4l-2.3 .4l-2.4 .3l-2.3 .4l-2.3 .4l-2.3 .3l-2.3 .4l-2.3 .4l-2.4 .3l-2.3 .4l-2.3 .4l-2.3 .3l-2.3 .4l-2.3 .3l-2.4 .4l-2.3 .4l-2.3 .3l-2.3 .4l-2.3 .3l-2.4 .4l-2.3 .4l-2.3 .3l-2.3 .4l-2.3 .3l-2.3 .4l-2.4 .3l-2.3 .4l-2.3 .3l-2.3 .4l-2.3 .3l-2.3 .4l-2.4 .3l-2.3 .4l-2.3 .3l-2.3 .4l-2.3 .3l-2.3 .3l-2.4 .4l-2.3 .3l-2.3 .4l-2.3 .3l-2.3 .4l-2.4 .3l-2.3 .3l-2.3 .4l-2.3 .3l-2.3 .3l-2.3 .4l-2.4 .3l-2.3 .4l-2.3 .3l-2.3 .3 M542.8 353.4l-2.3 .4l-2.3 .5l-2.3 .4l-2.3 .4l-2.3 .4l-2.4 .5l-2.3 .4l-2.3 .4l-2.3 .4l-2.3 .5l-2.3 .4l-2.4 .4l-2.3 .4l-2.3 .4l-2.3 .4l-2.3 .4l-2.4 .4l-2.3 .4l-2.3 .4l-2.3 .4l-2.3 .4l-2.3 .4l-2.4 .4l-2.3 .4l-2.3 .4l-2.3 .4l-2.3 .4l-2.3 .4l-2.4 .4l-2.3 .4l-2.3 .4l-2.3 .4l-2.3 .3l-2.3 .4l-2.4 .4l-2.3 .4l-2.3 .4l-2.3 .4l-2.3 .3l-2.4 .4l-2.3 .4l-2.3 .4l-2.3 .3l-2.3 .4l-2.3 .4l-2.4 .3l-2.3 .4l-2.3 .4l-2.3 .4l-2.3 .3l-2.3 .4l-2.4 .4l-2.3 .3l-2.3 .4l-2.3 .3l-2.3 .4l-2.4 .4l-2.3 .3l-2.3 .4l-2.3 .3l-2.3 .4l-2.3 .4l-2.4 .3l-2.3 .4l-2.3 .3l-2.3 .4l-2.3 .3l-2.3 .4l-2.4 .3l-2.3 .4l-2.3 .3l-2.3 .4l-2.3 .3l-2.3 .4l-2.4 .3l-2.3 .4l-2.3 .3l-2.3 .4l-2.3 .3l-2.4 .3l-2.3 .4l-2.3 .3l-2.3 .4l-2.3 .3l-2.3 .4l-2.4 .3l-2.3 .3 M530.2 350.6l-2.3 .4l-2.3 .5l-2.3 .4l-2.3 .4l-2.3 .5l-2.4 .4l-2.3 .4l-2.3 .5l-2.3 .4l-2.3 .4l-2.3 .4l-2.4 .5l-2.3 .4l-2.3 .4l-2.3 .4l-2.3 .4l-2.3 .4l-2.4 .4l-2.3 .5l-2.3 .4l-2.3 .4l-2.3 .4l-2.4 .4l-2.3 .4l-2.3 .4l-2.3 .4l-2.3 .4l-2.3 .4l-2.4 .4l-2.3 .4l-2.3 .3l-2.3 .4l-2.3 .4l-2.3 .4l-2.4 .4l-2.3 .4l-2.3 .4l-2.3 .4l-2.3 .3l-2.3 .4l-2.4 .4l-2.3 .4l-2.3 .4l-2.3 .3l-2.3 .4l-2.4 .4l-2.3 .4l-2.3 .3l-2.3 .4l-2.3 .4l-2.3 .3l-2.4 .4l-2.3 .4l-2.3 .3l-2.3 .4l-2.3 .4l-2.3 .3l-2.4 .4l-2.3 .4l-2.3 .3l-2.3 .4l-2.3 .4l-2.4 .3l-2.3 .4l-2.3 .3l-2.3 .4l-2.3 .3l-2.3 .4l-2.4 .4l-2.3 .3l-2.3 .4l-2.3 .3l-2.3 .4l-2.3 .3l-2.4 .4l-2.3 .3l-2.3 .4l-2.3 .3l-2.3 .4l-2.4 .3l-2.3 .4l-2.3 .3l-2.3 .3l-2.3 .4l-2.3 .3 M517.7 347.8l-2.4 .5l-2.3 .4l-2.3 .5l-2.3 .4l-2.3 .4l-2.4 .5l-2.3 .4l-2.3 .4l-2.3 .5l-2.3 .4l-2.3 .4l-2.4 .5l-2.3 .4l-2.3 .4l-2.3 .4l-2.3 .4l-2.3 .5l-2.4 .4l-2.3 .4l-2.3 .4l-2.3 .4l-2.3 .4l-2.3 .4l-2.4 .4l-2.3 .4l-2.3 .4l-2.3 .4l-2.3 .4l-2.4 .4l-2.3 .4l-2.3 .4l-2.3 .4l-2.3 .4l-2.3 .4l-2.4 .4l-2.3 .4l-2.3 .4l-2.3 .4l-2.3 .4l-2.3 .3l-2.4 .4l-2.3 .4l-2.3 .4l-2.3 .4l-2.3 .4l-2.4 .3l-2.3 .4l-2.3 .4l-2.3 .4l-2.3 .3l-2.3 .4l-2.4 .4l-2.3 .4l-2.3 .3l-2.3 .4l-2.3 .4l-2.3 .3l-2.4 .4l-2.3 .4l-2.3 .3l-2.3 .4l-2.3 .4l-2.3 .3l-2.4 .4l-2.3 .4l-2.3 .3l-2.3 .4l-2.3 .3l-2.4 .4l-2.3 .4l-2.3 .3l-2.3 .4l-2.3 .3l-2.3 .4l-2.4 .3l-2.3 .4l-2.3 .3l-2.3 .4l-2.3 .3l-2.3 .4l-2.4 .3l-2.3 .4l-2.3 .3 M502.7 345.5l-2.3 .5l-2.3 .4l-2.3 .5l-2.3 .4l-2.3 .5l-2.4 .4l-2.3 .4l-2.3 .5l-2.3 .4l-2.3 .4l-2.4 .5l-2.3 .4l-2.3 .4l-2.3 .5l-2.3 .4l-2.3 .4l-2.4 .4l-2.3 .4l-2.3 .5l-2.3 .4l-2.3 .4l-2.3 .4l-2.4 .4l-2.3 .4l-2.3 .4l-2.3 .4l-2.3 .4l-2.4 .4l-2.3 .4l-2.3 .4l-2.3 .4l-2.3 .4l-2.3 .4l-2.4 .4l-2.3 .4l-2.3 .4l-2.3 .4l-2.3 .4l-2.3 .4l-2.4 .4l-2.3 .4l-2.3 .4l-2.3 .4l-2.3 .3l-2.4 .4l-2.3 .4l-2.3 .4l-2.3 .4l-2.3 .3l-2.3 .4l-2.4 .4l-2.3 .4l-2.3 .3l-2.3 .4l-2.3 .4l-2.3 .4l-2.4 .3l-2.3 .4l-2.3 .4l-2.3 .3l-2.3 .4l-2.3 .4l-2.4 .3l-2.3 .4l-2.3 .4l-2.3 .3l-2.3 .4l-2.4 .4l-2.3 .3l-2.3 .4l-2.3 .3l-2.3 .4l-2.3 .4l-2.4 .3l-2.3 .4l-2.3 .3l-2.3 .4l-2.3 .3l-2.3 .4l-2.4 .3 M490.1 342.8l-2.3 .5l-2.3 .4l-2.3 .5l-2.3 .4l-2.3 .5l-2.4 .4l-2.3 .5l-2.3 .4l-2.3 .5l-2.3 .4l-2.4 .4l-2.3 .5l-2.3 .4l-2.3 .4l-2.3 .5l-2.3 .4l-2.4 .4l-2.3 .4l-2.3 .4l-2.3 .5l-2.3 .4l-2.3 .4l-2.4 .4l-2.3 .4l-2.3 .4l-2.3 .5l-2.3 .4l-2.4 .4l-2.3 .4l-2.3 .4l-2.3 .4l-2.3 .4l-2.3 .4l-2.4 .4l-2.3 .4l-2.3 .4l-2.3 .4l-2.3 .4l-2.3 .4l-2.4 .4l-2.3 .4l-2.3 .4l-2.3 .3l-2.3 .4l-2.3 .4l-2.4 .4l-2.3 .4l-2.3 .4l-2.3 .4l-2.3 .3l-2.4 .4l-2.3 .4l-2.3 .4l-2.3 .4l-2.3 .3l-2.3 .4l-2.4 .4l-2.3 .4l-2.3 .3l-2.3 .4l-2.3 .4l-2.3 .3l-2.4 .4l-2.3 .4l-2.3 .3l-2.3 .4l-2.3 .4l-2.3 .3l-2.4 .4l-2.3 .4l-2.3 .3l-2.3 .4l-2.3 .4l-2.4 .3l-2.3 .4l-2.3 .3l-2.3 .4l-2.3 .3 M477.5 340.2l-2.3 .4l-2.3 .5l-2.3 .4l-2.3 .5l-2.3 .4l-2.4 .5l-2.3 .4l-2.3 .5l-2.3 .4l-2.3 .5l-2.4 .4l-2.3 .4l-2.3 .5l-2.3 .4l-2.3 .4l-2.3 .5l-2.4 .4l-2.3 .4l-2.3 .5l-2.3 .4l-2.3 .4l-2.3 .4l-2.4 .4l-2.3 .5l-2.3 .4l-2.3 .4l-2.3 .4l-2.3 .4l-2.4 .4l-2.3 .4l-2.3 .5l-2.3 .4l-2.3 .4l-2.4 .4l-2.3 .4l-2.3 .4l-2.3 .4l-2.3 .4l-2.3 .4l-2.4 .4l-2.3 .4l-2.3 .4l-2.3 .4l-2.3 .3l-2.3 .4l-2.4 .4l-2.3 .4l-2.3 .4l-2.3 .4l-2.3 .4l-2.3 .4l-2.4 .3l-2.3 .4l-2.3 .4l-2.3 .4l-2.3 .4l-2.4 .3l-2.3 .4l-2.3 .4l-2.3 .4l-2.3 .3l-2.3 .4l-2.4 .4l-2.3 .4l-2.3 .3l-2.3 .4l-2.3 .4l-2.3 .3l-2.4 .4l-2.3 .4l-2.3 .3l-2.3 .4l-2.3 .4l-2.4 .3l-2.3 .4l-2.3 .4 M464.9 337.5l-2.3 .5l-2.3 .4l-2.3 .5l-2.3 .5l-2.3 .4l-2.4 .5l-2.3 .4l-2.3 .5l-2.3 .4l-2.3 .5l-2.3 .4l-2.4 .4l-2.3 .5l-2.3 .4l-2.3 .5l-2.3 .4l-2.4 .4l-2.3 .5l-2.3 .4l-2.3 .4l-2.3 .5l-2.3 .4l-2.4 .4l-2.3 .4l-2.3 .4l-2.3 .5l-2.3 .4l-2.3 .4l-2.4 .4l-2.3 .4l-2.3 .4l-2.3 .4l-2.3 .5l-2.3 .4l-2.4 .4l-2.3 .4l-2.3 .4l-2.3 .4l-2.3 .4l-2.4 .4l-2.3 .4l-2.3 .4l-2.3 .4l-2.3 .4l-2.3 .4l-2.4 .4l-2.3 .4l-2.3 .3l-2.3 .4l-2.3 .4l-2.3 .4l-2.4 .4l-2.3 .4l-2.3 .4l-2.3 .4l-2.3 .3l-2.4 .4l-2.3 .4l-2.3 .4l-2.3 .4l-2.3 .3l-2.3 .4l-2.4 .4l-2.3 .4l-2.3 .3l-2.3 .4l-2.3 .4l-2.3 .3l-2.4 .4l-2.3 .4l-2.3 .4l-2.3 .3l-2.3 .4l-2.3 .4 M452.3 334.9l-2.3 .5l-2.3 .4l-2.3 .5l-2.3 .5l-2.3 .4l-2.4 .5l-2.3 .4l-2.3 .5l-2.3 .4l-2.3 .5l-2.3 .4l-2.4 .5l-2.3 .4l-2.3 .5l-2.3 .4l-2.3 .4l-2.3 .5l-2.4 .4l-2.3 .5l-2.3 .4l-2.3 .4l-2.3 .5l-2.4 .4l-2.3 .4l-2.3 .4l-2.3 .5l-2.3 .4l-2.3 .4l-2.4 .4l-2.3 .4l-2.3 .4l-2.3 .5l-2.3 .4l-2.3 .4l-2.4 .4l-2.3 .4l-2.3 .4l-2.3 .4l-2.3 .4l-2.4 .4l-2.3 .4l-2.3 .4l-2.3 .4l-2.3 .4l-2.3 .4l-2.4 .4l-2.3 .4l-2.3 .4l-2.3 .4l-2.3 .4l-2.3 .4l-2.4 .4l-2.3 .4l-2.3 .4l-2.3 .3l-2.3 .4l-2.4 .4l-2.3 .4l-2.3 .4l-2.3 .4l-2.3 .3l-2.3 .4l-2.4 .4l-2.3 .4l-2.3 .4l-2.3 .3l-2.3 .4l-2.3 .4l-2.4 .3l-2.3 .4l-2.3 .4l-2.3 .4 M439.8 332.3l-2.4 .5l-2.3 .4l-2.3 .5l-2.3 .5l-2.3 .4l-2.4 .5l-2.3 .5l-2.3 .4l-2.3 .5l-2.3 .4l-2.3 .5l-2.4 .4l-2.3 .5l-2.3 .4l-2.3 .5l-2.3 .4l-2.3 .5l-2.4 .4l-2.3 .4l-2.3 .5l-2.3 .4l-2.3 .4l-2.4 .5l-2.3 .4l-2.3 .4l-2.3 .5l-2.3 .4l-2.3 .4l-2.4 .4l-2.3 .5l-2.3 .4l-2.3 .4l-2.3 .4l-2.3 .4l-2.4 .4l-2.3 .4l-2.3 .5l-2.3 .4l-2.3 .4l-2.4 .4l-2.3 .4l-2.3 .4l-2.3 .4l-2.3 .4l-2.3 .4l-2.4 .4l-2.3 .4l-2.3 .4l-2.3 .4l-2.3 .4l-2.3 .4l-2.4 .4l-2.3 .4l-2.3 .4l-2.3 .3l-2.3 .4l-2.3 .4l-2.4 .4l-2.3 .4l-2.3 .4l-2.3 .4l-2.3 .3l-2.4 .4l-2.3 .4l-2.3 .4l-2.3 .4l-2.3 .3l-2.3 .4l-2.4 .4l-2.3 .4 M427.2 329.7l-2.4 .5l-2.3 .5l-2.3 .4l-2.3 .5l-2.3 .5l-2.4 .5l-2.3 .4l-2.3 .5l-2.3 .4l-2.3 .5l-2.3 .5l-2.4 .4l-2.3 .5l-2.3 .4l-2.3 .5l-2.3 .4l-2.3 .5l-2.4 .4l-2.3 .4l-2.3 .5l-2.3 .4l-2.3 .5l-2.4 .4l-2.3 .4l-2.3 .5l-2.3 .4l-2.3 .4l-2.3 .4l-2.4 .5l-2.3 .4l-2.3 .4l-2.3 .4l-2.3 .5l-2.3 .4l-2.4 .4l-2.3 .4l-2.3 .4l-2.3 .4l-2.3 .4l-2.3 .5l-2.4 .4l-2.3 .4l-2.3 .4l-2.3 .4l-2.3 .4l-2.4 .4l-2.3 .4l-2.3 .4l-2.3 .4l-2.3 .4l-2.3 .4l-2.4 .4l-2.3 .4l-2.3 .4l-2.3 .4l-2.3 .4l-2.3 .3l-2.4 .4l-2.3 .4l-2.3 .4l-2.3 .4l-2.3 .4l-2.3 .4l-2.4 .3l-2.3 .4l-2.3 .4l-2.3 .4l-2.3 .4 M414.6 327.2l-2.4 .5l-2.3 .4l-2.3 .5l-2.3 .5l-2.3 .5l-2.3 .4l-2.4 .5l-2.3 .5l-2.3 .4l-2.3 .5l-2.3 .5l-2.4 .4l-2.3 .5l-2.3 .4l-2.3 .5l-2.3 .4l-2.3 .5l-2.4 .4l-2.3 .5l-2.3 .4l-2.3 .5l-2.3 .4l-2.3 .4l-2.4 .5l-2.3 .4l-2.3 .4l-2.3 .5l-2.3 .4l-2.4 .4l-2.3 .5l-2.3 .4l-2.3 .4l-2.3 .4l-2.3 .4l-2.4 .5l-2.3 .4l-2.3 .4l-2.3 .4l-2.3 .4l-2.3 .4l-2.4 .5l-2.3 .4l-2.3 .4l-2.3 .4l-2.3 .4l-2.3 .4l-2.4 .4l-2.3 .4l-2.3 .4l-2.3 .4l-2.3 .4l-2.4 .4l-2.3 .4l-2.3 .4l-2.3 .4l-2.3 .4l-2.3 .4l-2.4 .4l-2.3 .4l-2.3 .4l-2.3 .3l-2.3 .4l-2.3 .4l-2.4 .4l-2.3 .4l-2.3 .4 M402 324.7l-2.4 .4l-2.3 .5l-2.3 .5l-2.3 .5l-2.3 .5l-2.3 .4l-2.4 .5l-2.3 .5l-2.3 .4l-2.3 .5l-2.3 .5l-2.4 .4l-2.3 .5l-2.3 .4l-2.3 .5l-2.3 .5l-2.3 .4l-2.4 .5l-2.3 .4l-2.3 .5l-2.3 .4l-2.3 .4l-2.3 .5l-2.4 .4l-2.3 .5l-2.3 .4l-2.3 .4l-2.3 .5l-2.3 .4l-2.4 .4l-2.3 .5l-2.3 .4l-2.3 .4l-2.3 .4l-2.4 .5l-2.3 .4l-2.3 .4l-2.3 .4l-2.3 .4l-2.3 .5l-2.4 .4l-2.3 .4l-2.3 .4l-2.3 .4l-2.3 .4l-2.3 .4l-2.4 .4l-2.3 .4l-2.3 .4l-2.3 .4l-2.3 .4l-2.4 .5l-2.3 .4l-2.3 .3l-2.3 .4l-2.3 .4l-2.3 .4l-2.4 .4l-2.3 .4l-2.3 .4l-2.3 .4l-2.3 .4l-2.3 .4l-2.4 .4 M389.4 322.2l-2.4 .5l-2.3 .4l-2.3 .5l-2.3 .5l-2.3 .5l-2.3 .5l-2.4 .4l-2.3 .5l-2.3 .5l-2.3 .4l-2.3 .5l-2.4 .5l-2.3 .4l-2.3 .5l-2.3 .5l-2.3 .4l-2.3 .5l-2.4 .4l-2.3 .5l-2.3 .4l-2.3 .5l-2.3 .4l-2.3 .5l-2.4 .4l-2.3 .4l-2.3 .5l-2.3 .4l-2.3 .5l-2.3 .4l-2.4 .4l-2.3 .5l-2.3 .4l-2.3 .4l-2.3 .4l-2.4 .5l-2.3 .4l-2.3 .4l-2.3 .4l-2.3 .5l-2.3 .4l-2.4 .4l-2.3 .4l-2.3 .4l-2.3 .4l-2.3 .5l-2.3 .4l-2.4 .4l-2.3 .4l-2.3 .4l-2.3 .4l-2.3 .4l-2.4 .4l-2.3 .4l-2.3 .4l-2.3 .4l-2.3 .4l-2.3 .4l-2.4 .4l-2.3 .4l-2.3 .4l-2.3 .4l-2.3 .4 M376.8 319.7l-2.4 .5l-2.3 .5l-2.3 .5l-2.3 .4l-2.3 .5l-2.3 .5l-2.4 .5l-2.3 .5l-2.3 .4l-2.3 .5l-2.3 .5l-2.3 .4l-2.4 .5l-2.3 .5l-2.3 .4l-2.3 .5l-2.3 .4l-2.4 .5l-2.3 .5l-2.3 .4l-2.3 .5l-2.3 .4l-2.3 .5l-2.4 .4l-2.3 .4l-2.3 .5l-2.3 .4l-2.3 .5l-2.3 .4l-2.4 .4l-2.3 .5l-2.3 .4l-2.3 .4l-2.3 .5l-2.4 .4l-2.3 .4l-2.3 .5l-2.3 .4l-2.3 .4l-2.3 .4l-2.4 .4l-2.3 .5l-2.3 .4l-2.3 .4l-2.3 .4l-2.3 .4l-2.4 .4l-2.3 .4l-2.3 .5l-2.3 .4l-2.3 .4l-2.3 .4l-2.4 .4l-2.3 .4l-2.3 .4l-2.3 .4l-2.3 .4l-2.4 .4l-2.3 .4l-2.3 .4 M364.2 317.2l-2.4 .5l-2.3 .5l-2.3 .5l-2.3 .5l-2.3 .5l-2.3 .5l-2.4 .4l-2.3 .5l-2.3 .5l-2.3 .5l-2.3 .4l-2.3 .5l-2.4 .5l-2.3 .5l-2.3 .4l-2.3 .5l-2.3 .4l-2.4 .5l-2.3 .5l-2.3 .4l-2.3 .5l-2.3 .4l-2.3 .5l-2.4 .4l-2.3 .5l-2.3 .4l-2.3 .5l-2.3 .4l-2.3 .4l-2.4 .5l-2.3 .4l-2.3 .4l-2.3 .5l-2.3 .4l-2.3 .4l-2.4 .5l-2.3 .4l-2.3 .4l-2.3 .5l-2.3 .4l-2.4 .4l-2.3 .4l-2.3 .4l-2.3 .5l-2.3 .4l-2.3 .4l-2.4 .4l-2.3 .4l-2.3 .4l-2.3 .4l-2.3 .5l-2.3 .4l-2.4 .4l-2.3 .4l-2.3 .4l-2.3 .4l-2.3 .4l-2.3 .4 M351.6 314.8l-2.4 .5l-2.3 .5l-2.3 .5l-2.3 .5l-2.3 .5l-2.3 .5l-2.4 .4l-2.3 .5l-2.3 .5l-2.3 .5l-2.3 .4l-2.3 .5l-2.4 .5l-2.3 .5l-2.3 .4l-2.3 .5l-2.3 .5l-2.3 .4l-2.4 .5l-2.3 .4l-2.3 .5l-2.3 .4l-2.3 .5l-2.4 .4l-2.3 .5l-2.3 .4l-2.3 .5l-2.3 .4l-2.3 .5l-2.4 .4l-2.3 .5l-2.3 .4l-2.3 .4l-2.3 .5l-2.3 .4l-2.4 .4l-2.3 .5l-2.3 .4l-2.3 .4l-2.3 .5l-2.4 .4l-2.3 .4l-2.3 .4l-2.3 .4l-2.3 .5l-2.3 .4l-2.4 .4l-2.3 .4l-2.3 .4l-2.3 .4l-2.3 .5l-2.3 .4l-2.4 .4l-2.3 .4l-2.3 .4l-2.3 .4 M339 312.4l-2.3 .5l-2.4 .5l-2.3 .5l-2.3 .5l-2.3 .5l-2.3 .5l-2.4 .4l-2.3 .5l-2.3 .5l-2.3 .5l-2.3 .5l-2.3 .4l-2.4 .5l-2.3 .5l-2.3 .5l-2.3 .4l-2.3 .5l-2.3 .5l-2.4 .4l-2.3 .5l-2.3 .4l-2.3 .5l-2.3 .4l-2.4 .5l-2.3 .4l-2.3 .5l-2.3 .4l-2.3 .5l-2.3 .4l-2.4 .5l-2.3 .4l-2.3 .5l-2.3 .4l-2.3 .4l-2.3 .5l-2.4 .4l-2.3 .4l-2.3 .5l-2.3 .4l-2.3 .4l-2.3 .5l-2.4 .4l-2.3 .4l-2.3 .4l-2.3 .5l-2.3 .4l-2.4 .4l-2.3 .4l-2.3 .4l-2.3 .5l-2.3 .4l-2.3 .4l-2.4 .4l-2.3 .4 M328.7 309.5l-2.3 .5l-2.3 .5l-2.4 .5l-2.3 .5l-2.3 .5l-2.3 .5l-2.3 .5l-2.3 .5l-2.4 .5l-2.3 .4l-2.3 .5l-2.3 .5l-2.3 .5l-2.4 .5l-2.3 .4l-2.3 .5l-2.3 .5l-2.3 .4l-2.3 .5l-2.4 .5l-2.3 .4l-2.3 .5l-2.3 .5l-2.3 .4l-2.3 .5l-2.4 .4l-2.3 .5l-2.3 .4l-2.3 .5l-2.3 .4l-2.4 .5l-2.3 .4l-2.3 .5l-2.3 .4l-2.3 .4l-2.3 .5l-2.4 .4l-2.3 .4l-2.3 .5l-2.3 .4l-2.3 .4l-2.3 .5l-2.4 .4l-2.3 .4l-2.3 .5l-2.3 .4l-2.3 .4l-2.4 .4l-2.3 .4l-2.3 .5l-2.3 .4l-2.3 .4l-2.3 .4 M316.1 307.1l-2.3 .5l-2.3 .5l-2.4 .5l-2.3 .5l-2.3 .5l-2.3 .5l-2.3 .5l-2.3 .5l-2.4 .5l-2.3 .5l-2.3 .5l-2.3 .4l-2.3 .5l-2.4 .5l-2.3 .5l-2.3 .5l-2.3 .4l-2.3 .5l-2.3 .5l-2.4 .4l-2.3 .5l-2.3 .5l-2.3 .4l-2.3 .5l-2.3 .4l-2.4 .5l-2.3 .5l-2.3 .4l-2.3 .5l-2.3 .4l-2.3 .5l-2.4 .4l-2.3 .5l-2.3 .4l-2.3 .4l-2.3 .5l-2.4 .4l-2.3 .5l-2.3 .4l-2.3 .4l-2.3 .5l-2.3 .4l-2.4 .4l-2.3 .5l-2.3 .4l-2.3 .4l-2.3 .4l-2.3 .5l-2.4 .4l-2.3 .4l-2.3 .4 M303.5 304.8l-2.3 .5l-2.3 .5l-2.4 .5l-2.3 .5l-2.3 .5l-2.3 .5l-2.3 .5l-2.3 .5l-2.4 .5l-2.3 .4l-2.3 .5l-2.3 .5l-2.3 .5l-2.4 .5l-2.3 .5l-2.3 .4l-2.3 .5l-2.3 .5l-2.3 .5l-2.4 .4l-2.3 .5l-2.3 .5l-2.3 .4l-2.3 .5l-2.3 .4l-2.4 .5l-2.3 .5l-2.3 .4l-2.3 .5l-2.3 .4l-2.3 .5l-2.4 .4l-2.3 .5l-2.3 .4l-2.3 .5l-2.3 .4l-2.4 .4l-2.3 .5l-2.3 .4l-2.3 .5l-2.3 .4l-2.3 .4l-2.4 .5l-2.3 .4l-2.3 .4l-2.3 .4l-2.3 .5l-2.3 .4l-2.4 .4 M290.9 302.4l-2.3 .5l-2.3 .5l-2.4 .5l-2.3 .6l-2.3 .5l-2.3 .5l-2.3 .5l-2.3 .4l-2.4 .5l-2.3 .5l-2.3 .5l-2.3 .5l-2.3 .5l-2.3 .5l-2.4 .5l-2.3 .4l-2.3 .5l-2.3 .5l-2.3 .5l-2.4 .4l-2.3 .5l-2.3 .5l-2.3 .4l-2.3 .5l-2.3 .5l-2.4 .4l-2.3 .5l-2.3 .4l-2.3 .5l-2.3 .4l-2.3 .5l-2.4 .4l-2.3 .5l-2.3 .4l-2.3 .5l-2.3 .4l-2.3 .5l-2.4 .4l-2.3 .5l-2.3 .4l-2.3 .4l-2.3 .5l-2.4 .4l-2.3 .4l-2.3 .5l-2.3 .4l-2.3 .4 M280.6 299.6l-2.3 .5l-2.3 .5l-2.3 .5l-2.4 .5l-2.3 .5l-2.3 .5l-2.3 .5l-2.3 .5l-2.3 .5l-2.4 .5l-2.3 .5l-2.3 .5l-2.3 .5l-2.3 .5l-2.3 .5l-2.4 .5l-2.3 .4l-2.3 .5l-2.3 .5l-2.3 .5l-2.3 .4l-2.4 .5l-2.3 .5l-2.3 .5l-2.3 .4l-2.3 .5l-2.4 .4l-2.3 .5l-2.3 .5l-2.3 .4l-2.3 .5l-2.3 .4l-2.4 .5l-2.3 .4l-2.3 .5l-2.3 .4l-2.3 .5l-2.3 .4l-2.4 .5l-2.3 .4l-2.3 .5l-2.3 .4l-2.3 .4l-2.4 .5l-2.3 .4l-2.3 .4 M268 297.3l-2.3 .5l-2.3 .5l-2.3 .5l-2.3 .5l-2.4 .5l-2.3 .5l-2.3 .5l-2.3 .6l-2.3 .4l-2.4 .5l-2.3 .5l-2.3 .5l-2.3 .5l-2.3 .5l-2.3 .5l-2.4 .5l-2.3 .5l-2.3 .4l-2.3 .5l-2.3 .5l-2.3 .5l-2.4 .4l-2.3 .5l-2.3 .5l-2.3 .5l-2.3 .4l-2.4 .5l-2.3 .4l-2.3 .5l-2.3 .5l-2.3 .4l-2.3 .5l-2.4 .4l-2.3 .5l-2.3 .4l-2.3 .5l-2.3 .4l-2.3 .5l-2.4 .4l-2.3 .5l-2.3 .4l-2.3 .5l-2.3 .4l-2.4 .4 M255.4 295l-2.3 .5l-2.3 .5l-2.3 .5l-2.3 .6l-2.4 .5l-2.3 .5l-2.3 .5l-2.3 .5l-2.3 .5l-2.4 .5l-2.3 .5l-2.3 .5l-2.3 .5l-2.3 .4l-2.3 .5l-2.4 .5l-2.3 .5l-2.3 .5l-2.3 .5l-2.3 .4l-2.3 .5l-2.4 .5l-2.3 .5l-2.3 .4l-2.3 .5l-2.3 .5l-2.4 .4l-2.3 .5l-2.3 .5l-2.3 .4l-2.3 .5l-2.3 .5l-2.4 .4l-2.3 .5l-2.3 .4l-2.3 .5l-2.3 .4l-2.3 .5l-2.4 .4l-2.3 .5l-2.3 .4l-2.3 .4 M245.1 292.2l-2.3 .5l-2.3 .5l-2.3 .6l-2.3 .5l-2.3 .5l-2.4 .5l-2.3 .5l-2.3 .5l-2.3 .5l-2.3 .5l-2.4 .5l-2.3 .5l-2.3 .5l-2.3 .5l-2.3 .5l-2.3 .5l-2.4 .5l-2.3 .5l-2.3 .4l-2.3 .5l-2.3 .5l-2.3 .5l-2.4 .5l-2.3 .4l-2.3 .5l-2.3 .5l-2.3 .4l-2.3 .5l-2.4 .5l-2.3 .4l-2.3 .5l-2.3 .5l-2.3 .4l-2.4 .5l-2.3 .4l-2.3 .5l-2.3 .5l-2.3 .4l-2.3 .5l-2.4 .4l-2.3 .5 M232.5 289.9l-2.3 .6l-2.3 .5l-2.3 .5l-2.3 .5l-2.3 .5l-2.4 .5l-2.3 .6l-2.3 .5l-2.3 .5l-2.3 .5l-2.3 .5l-2.4 .5l-2.3 .5l-2.3 .5l-2.3 .5l-2.3 .4l-2.4 .5l-2.3 .5l-2.3 .5l-2.3 .5l-2.3 .5l-2.3 .5l-2.4 .4l-2.3 .5l-2.3 .5l-2.3 .5l-2.3 .4l-2.3 .5l-2.4 .5l-2.3 .4l-2.3 .5l-2.3 .5l-2.3 .4l-2.4 .5l-2.3 .4l-2.3 .5l-2.3 .4l-2.3 .5l-2.3 .5 M219.9 287.7l-2.3 .5l-2.3 .5l-2.3 .6l-2.3 .5l-2.3 .5l-2.4 .5l-2.3 .5l-2.3 .5l-2.3 .5l-2.3 .5l-2.3 .5l-2.4 .5l-2.3 .5l-2.3 .5l-2.3 .5l-2.3 .5l-2.3 .5l-2.4 .5l-2.3 .5l-2.3 .5l-2.3 .5l-2.3 .4l-2.4 .5l-2.3 .5l-2.3 .5l-2.3 .5l-2.3 .4l-2.3 .5l-2.4 .5l-2.3 .4l-2.3 .5l-2.3 .5l-2.3 .4l-2.3 .5l-2.4 .4l-2.3 .5l-2.3 .5 M209.7 284.9l-2.3 .6l-2.4 .5l-2.3 .5l-2.3 .5l-2.3 .6l-2.3 .5l-2.4 .5l-2.3 .5l-2.3 .5l-2.3 .5l-2.3 .5l-2.3 .5l-2.4 .5l-2.3 .5l-2.3 .5l-2.3 .5l-2.3 .5l-2.3 .5l-2.4 .5l-2.3 .5l-2.3 .5l-2.3 .5l-2.3 .4l-2.4 .5l-2.3 .5l-2.3 .5l-2.3 .5l-2.3 .4l-2.3 .5l-2.4 .5l-2.3 .4l-2.3 .5l-2.3 .5l-2.3 .4l-2.3 .5l-2.4 .5 M197.1 282.7l-2.3 .5l-2.4 .6l-2.3 .5l-2.3 .5l-2.3 .5l-2.3 .6l-2.4 .5l-2.3 .5l-2.3 .5l-2.3 .5l-2.3 .5l-2.3 .5l-2.4 .5l-2.3 .5l-2.3 .5l-2.3 .5l-2.3 .5l-2.3 .5l-2.4 .5l-2.3 .5l-2.3 .5l-2.3 .5l-2.3 .5l-2.3 .4l-2.4 .5l-2.3 .5l-2.3 .5l-2.3 .5l-2.3 .4l-2.4 .5l-2.3 .5l-2.3 .4l-2.3 .5l-2.3 .5 M184.5 280.5l-2.3 .5l-2.4 .6l-2.3 .5l-2.3 .5l-2.3 .6l-2.3 .5l-2.4 .5l-2.3 .5l-2.3 .5l-2.3 .5l-2.3 .5l-2.3 .5l-2.4 .5l-2.3 .5l-2.3 .6l-2.3 .4l-2.3 .5l-2.3 .5l-2.4 .5l-2.3 .5l-2.3 .5l-2.3 .5l-2.3 .5l-2.3 .5l-2.4 .5l-2.3 .4l-2.3 .5l-2.3 .5l-2.3 .5l-2.4 .4l-2.3 .5l-2.3 .5 M174.2 277.8l-2.3 .5l-2.3 .6l-2.4 .5l-2.3 .5l-2.3 .5l-2.3 .6l-2.3 .5l-2.3 .5l-2.4 .5l-2.3 .5l-2.3 .5l-2.3 .6l-2.3 .5l-2.4 .5l-2.3 .5l-2.3 .5l-2.3 .5l-2.3 .5l-2.3 .5l-2.4 .5l-2.3 .5l-2.3 .4l-2.3 .5l-2.3 .5l-2.3 .5l-2.4 .5l-2.3 .5l-2.3 .5l-2.3 .4l-2.3 .5l-2.4 .5 M161.6 275.6l-2.3 .6l-2.3 .5l-2.4 .5l-2.3 .5l-2.3 .6l-2.3 .5l-2.3 .5l-2.3 .5l-2.4 .6l-2.3 .5l-2.3 .5l-2.3 .5l-2.3 .5l-2.3 .5l-2.4 .5l-2.3 .5l-2.3 .5l-2.3 .5l-2.3 .5l-2.4 .5l-2.3 .5l-2.3 .5l-2.3 .5l-2.3 .5l-2.3 .5l-2.4 .4l-2.3 .5l-2.3 .5l-2.3 .5 M151.3 272.9l-2.3 .6l-2.3 .5l-2.3 .5l-2.4 .6l-2.3 .5l-2.3 .5l-2.3 .5l-2.3 .6l-2.3 .5l-2.4 .5l-2.3 .5l-2.3 .5l-2.3 .5l-2.3 .6l-2.3 .5l-2.4 .5l-2.3 .5l-2.3 .5l-2.3 .5l-2.3 .5l-2.4 .5l-2.3 .5l-2.3 .5l-2.3 .4l-2.3 .5l-2.3 .5l-2.4 .5l-2.3 .5 M138.7 270.8l-2.3 .5l-2.3 .5l-2.3 .6l-2.4 .5l-2.3 .5l-2.3 .6l-2.3 .5l-2.3 .5l-2.3 .5l-2.4 .6l-2.3 .5l-2.3 .5l-2.3 .5l-2.3 .5l-2.3 .5l-2.4 .5l-2.3 .5l-2.3 .5l-2.3 .5l-2.3 .5l-2.4 .5l-2.3 .5l-2.3 .5l-2.3 .5l-2.3 .5l-2.3 .5" stroke="#000" stroke-width="1.25" stroke-opacity="0.29" fill="none" stroke-linejoin="round"/>
<path d="M666.1 356.9l-2.3 .4l-2.3 .5l-2.4 .4l-2.3 .5l-2.3 .4l-2.3 .5l-2.3 .4l-2.3 .4l-2.4 .5l-2.3 .4l-2.3 .4l-2.3 .5l-2.3 .4l-2.4 .4l-2.3 .4l-2.3 .5l-2.3 .4l-2.3 .4l-2.3 .4l-2.4 .4l-2.3 .4l-2.3 .4l-2.3 .4 M653.5 353.6l-2.3 .5l-2.3 .5l-2.4 .4l-2.3 .5l-2.3 .4l-2.3 .5l-2.3 .4l-2.3 .5l-2.4 .4l-2.3 .5l-2.3 .4l-2.3 .5l-2.3 .4l-2.4 .4l-2.3 .5l-2.3 .4l-2.3 .4l-2.3 .4l-2.3 .5l-2.4 .4l-2.3 .4l-2.3 .4l-2.3 .4 M638.6 350.9l-2.3 .5l-2.4 .5l-2.3 .4l-2.3 .5l-2.3 .5l-2.3 .4l-2.3 .5l-2.4 .4l-2.3 .5l-2.3 .5l-2.3 .4l-2.3 .4l-2.4 .5l-2.3 .4l-2.3 .5l-2.3 .4l-2.3 .4l-2.3 .5l-2.4 .4l-2.3 .4l-2.3 .4l-2.3 .5l-2.3 .4 M626 347.8l-2.3 .5l-2.4 .5l-2.3 .5l-2.3 .4l-2.3 .5l-2.3 .5l-2.3 .4l-2.4 .5l-2.3 .5l-2.3 .4l-2.3 .5l-2.3 .4l-2.3 .5l-2.4 .4l-2.3 .5l-2.3 .4l-2.3 .5l-2.3 .4l-2.4 .4l-2.3 .5l-2.3 .4l-2.3 .4l-2.3 .5l-2.3 .4 M611.1 345.2l-2.4 .5l-2.3 .5l-2.3 .5l-2.3 .5l-2.3 .5l-2.3 .4l-2.4 .5l-2.3 .5l-2.3 .4l-2.3 .5l-2.3 .5l-2.3 .4l-2.4 .5l-2.3 .4l-2.3 .5l-2.3 .4l-2.3 .5l-2.3 .4l-2.4 .5l-2.3 .4l-2.3 .4l-2.3 .5l-2.3 .4 M598.5 342.2l-2.3 .5l-2.4 .5l-2.3 .5l-2.3 .5l-2.3 .5l-2.3 .5l-2.4 .4l-2.3 .5l-2.3 .5l-2.3 .5l-2.3 .4l-2.3 .5l-2.4 .5l-2.3 .4l-2.3 .5l-2.3 .4l-2.3 .5l-2.3 .4l-2.4 .5l-2.3 .4l-2.3 .5l-2.3 .4l-2.3 .5l-2.4 .4 M585.9 339.3l-2.3 .5l-2.4 .5l-2.3 .5l-2.3 .5l-2.3 .5l-2.3 .4l-2.4 .5l-2.3 .5l-2.3 .5l-2.3 .5l-2.3 .4l-2.3 .5l-2.4 .5l-2.3 .5l-2.3 .4l-2.3 .5l-2.3 .4l-2.3 .5l-2.4 .5l-2.3 .4l-2.3 .5l-2.3 .4l-2.3 .4l-2.4 .5 M571 336.8l-2.4 .6l-2.3 .5l-2.3 .5l-2.3 .5l-2.3 .5l-2.4 .4l-2.3 .5l-2.3 .5l-2.3 .5l-2.3 .5l-2.3 .5l-2.4 .4l-2.3 .5l-2.3 .5l-2.3 .5l-2.3 .4l-2.3 .5l-2.4 .4l-2.3 .5l-2.3 .5l-2.3 .4l-2.3 .5l-2.3 .4 M558.4 334l-2.4 .5l-2.3 .5l-2.3 .5l-2.3 .5l-2.3 .5l-2.3 .5l-2.4 .5l-2.3 .5l-2.3 .5l-2.3 .5l-2.3 .5l-2.4 .4l-2.3 .5l-2.3 .5l-2.3 .5l-2.3 .4l-2.3 .5l-2.4 .5l-2.3 .4l-2.3 .5l-2.3 .5l-2.3 .4l-2.3 .5l-2.4 .4 M545.8 331.1l-2.4 .5l-2.3 .6l-2.3 .5l-2.3 .5l-2.3 .5l-2.3 .5l-2.4 .5l-2.3 .5l-2.3 .5l-2.3 .5l-2.3 .5l-2.3 .5l-2.4 .5l-2.3 .4l-2.3 .5l-2.3 .5l-2.3 .5l-2.4 .4l-2.3 .5l-2.3 .5l-2.3 .4l-2.3 .5l-2.3 .5l-2.4 .4 M533.2 328.3l-2.4 .6l-2.3 .5l-2.3 .5l-2.3 .5l-2.3 .5l-2.3 .5l-2.4 .5l-2.3 .5l-2.3 .6l-2.3 .4l-2.3 .5l-2.3 .5l-2.4 .5l-2.3 .5l-2.3 .5l-2.3 .5l-2.3 .5l-2.4 .4l-2.3 .5l-2.3 .5l-2.3 .5l-2.3 .4l-2.3 .5l-2.4 .5 M520.6 325.6l-2.4 .5l-2.3 .5l-2.3 .5l-2.3 .6l-2.3 .5l-2.3 .5l-2.4 .5l-2.3 .5l-2.3 .5l-2.3 .5l-2.3 .5l-2.3 .5l-2.4 .5l-2.3 .5l-2.3 .5l-2.3 .5l-2.3 .5l-2.4 .5l-2.3 .4l-2.3 .5l-2.3 .5l-2.3 .5l-2.3 .4l-2.4 .5 M508 322.8l-2.4 .6l-2.3 .5l-2.3 .5l-2.3 .6l-2.3 .5l-2.3 .5l-2.4 .5l-2.3 .5l-2.3 .5l-2.3 .6l-2.3 .5l-2.3 .5l-2.4 .5l-2.3 .5l-2.3 .5l-2.3 .4l-2.3 .5l-2.3 .5l-2.4 .5l-2.3 .5l-2.3 .5l-2.3 .4l-2.3 .5l-2.4 .5 M495.4 320.1l-2.3 .6l-2.4 .5l-2.3 .5l-2.3 .6l-2.3 .5l-2.3 .5l-2.4 .6l-2.3 .5l-2.3 .5l-2.3 .5l-2.3 .5l-2.3 .5l-2.4 .5l-2.3 .5l-2.3 .5l-2.3 .5l-2.3 .5l-2.3 .5l-2.4 .5l-2.3 .5l-2.3 .5l-2.3 .4l-2.3 .5l-2.3 .5 M482.8 317.5l-2.3 .5l-2.4 .6l-2.3 .5l-2.3 .5l-2.3 .6l-2.3 .5l-2.3 .5l-2.4 .5l-2.3 .6l-2.3 .5l-2.3 .5l-2.3 .5l-2.4 .5l-2.3 .5l-2.3 .5l-2.3 .5l-2.3 .5l-2.3 .5l-2.4 .5l-2.3 .5l-2.3 .5l-2.3 .5l-2.3 .4l-2.3 .5 M470.2 314.8l-2.3 .6l-2.4 .5l-2.3 .6l-2.3 .5l-2.3 .5l-2.3 .6l-2.3 .5l-2.4 .5l-2.3 .6l-2.3 .5l-2.3 .5l-2.3 .5l-2.4 .5l-2.3 .5l-2.3 .5l-2.3 .5l-2.3 .5l-2.3 .5l-2.4 .5l-2.3 .5l-2.3 .5l-2.3 .5l-2.3 .5l-2.3 .5 M459.9 311.7l-2.3 .5l-2.3 .6l-2.4 .5l-2.3 .6l-2.3 .5l-2.3 .6l-2.3 .5l-2.3 .5l-2.4 .6l-2.3 .5l-2.3 .5l-2.3 .5l-2.3 .5l-2.4 .6l-2.3 .5l-2.3 .5l-2.3 .5l-2.3 .5l-2.3 .5l-2.4 .5l-2.3 .5l-2.3 .5l-2.3 .5l-2.3 .5l-2.3 .5 M447.3 309.1l-2.3 .5l-2.3 .6l-2.4 .6l-2.3 .5l-2.3 .5l-2.3 .6l-2.3 .5l-2.3 .6l-2.4 .5l-2.3 .5l-2.3 .6l-2.3 .5l-2.3 .5l-2.3 .5l-2.4 .5l-2.3 .6l-2.3 .5l-2.3 .5l-2.3 .5l-2.4 .5l-2.3 .5l-2.3 .5l-2.3 .5l-2.3 .5l-2.3 .5 M434.7 306.5l-2.3 .6l-2.3 .5l-2.4 .6l-2.3 .6l-2.3 .5l-2.3 .6l-2.3 .5l-2.3 .5l-2.4 .6l-2.3 .5l-2.3 .5l-2.3 .6l-2.3 .5l-2.3 .5l-2.4 .5l-2.3 .6l-2.3 .5l-2.3 .5l-2.3 .5l-2.3 .5l-2.4 .5l-2.3 .5l-2.3 .5l-2.3 .5l-2.3 .5 M422.1 304l-2.3 .6l-2.3 .5l-2.3 .6l-2.4 .5l-2.3 .6l-2.3 .5l-2.3 .6l-2.3 .5l-2.4 .6l-2.3 .5l-2.3 .5l-2.3 .6l-2.3 .5l-2.3 .5l-2.4 .6l-2.3 .5l-2.3 .5l-2.3 .5l-2.3 .5l-2.3 .5l-2.4 .5l-2.3 .5l-2.3 .5l-2.3 .5l-2.3 .5 M409.5 301.5l-2.3 .6l-2.3 .5l-2.3 .6l-2.4 .6l-2.3 .5l-2.3 .6l-2.3 .5l-2.3 .6l-2.4 .5l-2.3 .5l-2.3 .6l-2.3 .5l-2.3 .5l-2.3 .6l-2.4 .5l-2.3 .5l-2.3 .5l-2.3 .6l-2.3 .5l-2.3 .5l-2.4 .5l-2.3 .5l-2.3 .5l-2.3 .5l-2.3 .5 M399.2 298.4l-2.3 .6l-2.3 .6l-2.3 .6l-2.3 .5l-2.4 .6l-2.3 .5l-2.3 .6l-2.3 .6l-2.3 .5l-2.4 .5l-2.3 .6l-2.3 .5l-2.3 .6l-2.3 .5l-2.3 .5l-2.4 .6l-2.3 .5l-2.3 .5l-2.3 .5l-2.3 .5l-2.3 .6l-2.4 .5l-2.3 .5l-2.3 .5l-2.3 .5l-2.3 .5 M386.6 296l-2.3 .6l-2.3 .5l-2.3 .6l-2.3 .6l-2.4 .5l-2.3 .6l-2.3 .6l-2.3 .5l-2.3 .6l-2.3 .5l-2.4 .6l-2.3 .5l-2.3 .5l-2.3 .6l-2.3 .5l-2.4 .5l-2.3 .6l-2.3 .5l-2.3 .5l-2.3 .5l-2.3 .6l-2.4 .5l-2.3 .5l-2.3 .5l-2.3 .5 M374 293.6l-2.3 .5l-2.3 .6l-2.3 .6l-2.3 .6l-2.4 .5l-2.3 .6l-2.3 .5l-2.3 .6l-2.3 .6l-2.3 .5l-2.4 .6l-2.3 .5l-2.3 .5l-2.3 .6l-2.3 .5l-2.3 .5l-2.4 .6l-2.3 .5l-2.3 .5l-2.3 .5l-2.3 .6l-2.4 .5l-2.3 .5l-2.3 .5l-2.3 .5 M363.8 290.6l-2.4 .5l-2.3 .6l-2.3 .6l-2.3 .6l-2.3 .6l-2.4 .5l-2.3 .6l-2.3 .6l-2.3 .5l-2.3 .6l-2.3 .5l-2.4 .6l-2.3 .5l-2.3 .6l-2.3 .5l-2.3 .5l-2.3 .6l-2.4 .5l-2.3 .5l-2.3 .6l-2.3 .5l-2.3 .5l-2.4 .5l-2.3 .5l-2.3 .5l-2.3 .6 M351.2 288.2l-2.4 .6l-2.3 .5l-2.3 .6l-2.3 .6l-2.3 .6l-2.4 .5l-2.3 .6l-2.3 .6l-2.3 .5l-2.3 .6l-2.3 .5l-2.4 .6l-2.3 .5l-2.3 .6l-2.3 .5l-2.3 .6l-2.3 .5l-2.4 .5l-2.3 .6l-2.3 .5l-2.3 .5l-2.3 .6l-2.4 .5l-2.3 .5l-2.3 .5l-2.3 .5 M340.9 285.2l-2.3 .6l-2.4 .6l-2.3 .6l-2.3 .6l-2.3 .5l-2.3 .6l-2.4 .6l-2.3 .6l-2.3 .5l-2.3 .6l-2.3 .5l-2.3 .6l-2.4 .6l-2.3 .5l-2.3 .5l-2.3 .6l-2.3 .5l-2.3 .6l-2.4 .5l-2.3 .5l-2.3 .6l-2.3 .5l-2.3 .5l-2.3 .5l-2.4 .6l-2.3 .5 M328.3 282.9l-2.3 .6l-2.4 .5l-2.3 .6l-2.3 .6l-2.3 .6l-2.3 .6l-2.3 .5l-2.4 .6l-2.3 .6l-2.3 .5l-2.3 .6l-2.3 .6l-2.4 .5l-2.3 .6l-2.3 .5l-2.3 .6l-2.3 .5l-2.3 .6l-2.4 .5l-2.3 .5l-2.3 .6l-2.3 .5l-2.3 .5l-2.3 .5l-2.4 .6l-2.3 .5 M315.7 280.5l-2.3 .6l-2.4 .6l-2.3 .6l-2.3 .6l-2.3 .6l-2.3 .6l-2.3 .5l-2.4 .6l-2.3 .6l-2.3 .5l-2.3 .6l-2.3 .6l-2.4 .5l-2.3 .6l-2.3 .5l-2.3 .6l-2.3 .5l-2.3 .6l-2.4 .5l-2.3 .5l-2.3 .6l-2.3 .5l-2.3 .5l-2.3 .5l-2.4 .6l-2.3 .5 M305.4 277.6l-2.3 .6l-2.3 .6l-2.4 .6l-2.3 .6l-2.3 .6l-2.3 .6l-2.3 .6l-2.3 .5l-2.4 .6l-2.3 .6l-2.3 .5l-2.3 .6l-2.3 .6l-2.3 .5l-2.4 .6l-2.3 .5l-2.3 .6l-2.3 .5l-2.3 .6l-2.4 .5l-2.3 .5l-2.3 .6l-2.3 .5l-2.3 .5l-2.3 .6l-2.4 .5 M292.8 275.3l-2.3 .6l-2.3 .6l-2.4 .6l-2.3 .6l-2.3 .6l-2.3 .6l-2.3 .6l-2.3 .5l-2.4 .6l-2.3 .6l-2.3 .6l-2.3 .5l-2.3 .6l-2.3 .5l-2.4 .6l-2.3 .6l-2.3 .5l-2.3 .6l-2.3 .5l-2.3 .5l-2.4 .6l-2.3 .5l-2.3 .5l-2.3 .6l-2.3 .5l-2.4 .5 M282.5 272.5l-2.3 .6l-2.3 .6l-2.3 .6l-2.4 .6l-2.3 .5l-2.3 .6l-2.3 .6l-2.3 .6l-2.3 .6l-2.4 .6l-2.3 .5l-2.3 .6l-2.3 .6l-2.3 .5l-2.3 .6l-2.4 .5l-2.3 .6l-2.3 .5l-2.3 .6l-2.3 .5l-2.3 .6l-2.4 .5l-2.3 .6l-2.3 .5l-2.3 .5l-2.3 .6l-2.4 .5 M269.9 270.2l-2.3 .6l-2.3 .6l-2.3 .6l-2.3 .6l-2.4 .6l-2.3 .6l-2.3 .6l-2.3 .6l-2.3 .5l-2.4 .6l-2.3 .6l-2.3 .5l-2.3 .6l-2.3 .6l-2.3 .5l-2.4 .6l-2.3 .6l-2.3 .5l-2.3 .6l-2.3 .5l-2.3 .5l-2.4 .6l-2.3 .5l-2.3 .6l-2.3 .5l-2.3 .5 M259.6 267.3l-2.3 .7l-2.3 .6l-2.3 .6l-2.3 .6l-2.3 .6l-2.4 .6l-2.3 .5l-2.3 .6l-2.3 .6l-2.3 .6l-2.3 .6l-2.4 .5l-2.3 .6l-2.3 .6l-2.3 .6l-2.3 .5l-2.4 .6l-2.3 .5l-2.3 .6l-2.3 .5l-2.3 .6l-2.3 .5l-2.4 .6l-2.3 .5l-2.3 .5l-2.3 .6l-2.3 .5 M247 265.1l-2.3 .6l-2.3 .6l-2.3 .6l-2.3 .6l-2.3 .6l-2.4 .6l-2.3 .6l-2.3 .6l-2.3 .6l-2.3 .6l-2.3 .6l-2.4 .5l-2.3 .6l-2.3 .6l-2.3 .5l-2.3 .6l-2.4 .6l-2.3 .5l-2.3 .6l-2.3 .5l-2.3 .6l-2.3 .5l-2.4 .6l-2.3 .5l-2.3 .5l-2.3 .6l-2.3 .5 M236.8 262.3l-2.4 .6l-2.3 .6l-2.3 .6l-2.3 .6l-2.3 .6l-2.3 .6l-2.4 .6l-2.3 .6l-2.3 .6l-2.3 .6l-2.3 .6l-2.3 .6l-2.4 .5l-2.3 .6l-2.3 .6l-2.3 .5l-2.3 .6l-2.4 .6l-2.3 .5l-2.3 .6l-2.3 .5l-2.3 .6l-2.3 .5l-2.4 .6l-2.3 .5l-2.3 .6l-2.3 .5 M226.5 259.5l-2.3 .6l-2.4 .6l-2.3 .6l-2.3 .6l-2.3 .7l-2.3 .6l-2.3 .6l-2.4 .5l-2.3 .6l-2.3 .6l-2.3 .6l-2.3 .6l-2.3 .6l-2.4 .5l-2.3 .6l-2.3 .6l-2.3 .6l-2.3 .5l-2.3 .6l-2.4 .5l-2.3 .6l-2.3 .6l-2.3 .5l-2.3 .6l-2.4 .5l-2.3 .5l-2.3 .6l-2.3 .5 M213.9 257.3l-2.3 .6l-2.3 .6l-2.4 .7l-2.3 .6l-2.3 .6l-2.3 .6l-2.3 .6l-2.4 .6l-2.3 .6l-2.3 .6l-2.3 .5l-2.3 .6l-2.3 .6l-2.4 .6l-2.3 .5l-2.3 .6l-2.3 .6l-2.3 .6l-2.3 .5l-2.4 .6l-2.3 .5l-2.3 .6l-2.3 .5l-2.3 .6l-2.3 .5l-2.4 .6l-2.3 .5 M203.6 254.5l-2.3 .7l-2.3 .6l-2.3 .6l-2.4 .6l-2.3 .6l-2.3 .6l-2.3 .6l-2.3 .6l-2.3 .6l-2.4 .6l-2.3 .6l-2.3 .6l-2.3 .6l-2.3 .5l-2.4 .6l-2.3 .6l-2.3 .6l-2.3 .5l-2.3 .6l-2.3 .6l-2.4 .5l-2.3 .6l-2.3 .5l-2.3 .6l-2.3 .5l-2.3 .6l-2.4 .5l-2.3 .6" stroke="#000" stroke-width="1.25" stroke-opacity="0.32" fill="none" stroke-linejoin="round"/>
<path d="M698.5 350.1l-2.3 .5l-2.3 .5l-2.3 .5l-2.3 .5l-2.4 .5l-2.3 .5l-2.3 .5l-2.3 .5l-2.3 .4l-2.3 .5l-2.4 .5l-2.3 .4l-2.3 .5l-2.3 .5 M683.6 347.2l-2.3 .6l-2.3 .5l-2.3 .5l-2.3 .5l-2.4 .5l-2.3 .5l-2.3 .5l-2.3 .4l-2.3 .5l-2.4 .5l-2.3 .5l-2.3 .5l-2.3 .4 M671 343.9l-2.3 .5l-2.3 .6l-2.3 .5l-2.3 .5l-2.4 .5l-2.3 .5l-2.3 .5l-2.3 .5l-2.3 .5l-2.4 .5l-2.3 .5l-2.3 .5l-2.3 .5l-2.3 .4 M658.4 340.7l-2.3 .5l-2.3 .5l-2.3 .6l-2.3 .5l-2.4 .5l-2.3 .5l-2.3 .5l-2.3 .5l-2.3 .5l-2.4 .5l-2.3 .5l-2.3 .5l-2.3 .5l-2.3 .5 M643.5 338l-2.3 .5l-2.3 .6l-2.3 .5l-2.4 .6l-2.3 .5l-2.3 .5l-2.3 .5l-2.3 .5l-2.3 .5l-2.4 .5l-2.3 .6l-2.3 .5l-2.3 .4l-2.3 .5 M630.9 334.9l-2.3 .5l-2.3 .6l-2.3 .5l-2.4 .6l-2.3 .5l-2.3 .5l-2.3 .5l-2.3 .6l-2.3 .5l-2.4 .5l-2.3 .5l-2.3 .5l-2.3 .5l-2.3 .5 M618.3 331.8l-2.3 .6l-2.3 .5l-2.3 .6l-2.4 .5l-2.3 .5l-2.3 .6l-2.3 .5l-2.3 .6l-2.3 .5l-2.4 .5l-2.3 .5l-2.3 .5l-2.3 .6l-2.3 .5 M605.7 328.8l-2.3 .5l-2.3 .6l-2.3 .6l-2.4 .5l-2.3 .6l-2.3 .5l-2.3 .5l-2.3 .6l-2.3 .5l-2.4 .5l-2.3 .6l-2.3 .5l-2.3 .5l-2.3 .5l-2.3 .5 M593.1 325.8l-2.3 .6l-2.3 .5l-2.3 .6l-2.4 .6l-2.3 .5l-2.3 .6l-2.3 .5l-2.3 .6l-2.3 .5l-2.4 .5l-2.3 .6l-2.3 .5l-2.3 .5l-2.3 .5l-2.3 .6 M580.5 322.8l-2.3 .6l-2.3 .6l-2.3 .6l-2.3 .5l-2.4 .6l-2.3 .6l-2.3 .5l-2.3 .6l-2.3 .5l-2.4 .6l-2.3 .5l-2.3 .5l-2.3 .6l-2.3 .5l-2.3 .5 M567.9 320l-2.3 .5l-2.3 .6l-2.3 .6l-2.3 .6l-2.4 .5l-2.3 .6l-2.3 .6l-2.3 .5l-2.3 .6l-2.3 .5l-2.4 .6l-2.3 .5l-2.3 .6l-2.3 .5l-2.3 .5 M555.3 317.1l-2.3 .6l-2.3 .6l-2.3 .6l-2.3 .6l-2.4 .5l-2.3 .6l-2.3 .6l-2.3 .5l-2.3 .6l-2.3 .5l-2.4 .6l-2.3 .5l-2.3 .6l-2.3 .5l-2.3 .6 M542.7 314.3l-2.3 .6l-2.3 .6l-2.3 .6l-2.3 .6l-2.4 .5l-2.3 .6l-2.3 .6l-2.3 .6l-2.3 .5l-2.3 .6l-2.4 .5l-2.3 .6l-2.3 .5l-2.3 .6l-2.3 .5 M530.1 311.5l-2.3 .6l-2.3 .6l-2.3 .6l-2.3 .6l-2.4 .6l-2.3 .6l-2.3 .6l-2.3 .5l-2.3 .6l-2.3 .6l-2.4 .5l-2.3 .6l-2.3 .5l-2.3 .6l-2.3 .5 M517.5 308.8l-2.3 .6l-2.3 .6l-2.3 .6l-2.3 .6l-2.4 .6l-2.3 .6l-2.3 .6l-2.3 .5l-2.3 .6l-2.3 .6l-2.4 .5l-2.3 .6l-2.3 .6l-2.3 .5l-2.3 .6 M504.9 306.1l-2.3 .6l-2.3 .6l-2.3 .6l-2.3 .6l-2.3 .6l-2.4 .6l-2.3 .6l-2.3 .6l-2.3 .5l-2.3 .6l-2.4 .6l-2.3 .6l-2.3 .5l-2.3 .6l-2.3 .5 M494.7 302.8l-2.4 .6l-2.3 .7l-2.3 .6l-2.3 .6l-2.3 .6l-2.3 .6l-2.4 .6l-2.3 .6l-2.3 .5l-2.3 .6l-2.3 .6l-2.4 .6l-2.3 .5l-2.3 .6l-2.3 .6 M482.1 300.2l-2.4 .6l-2.3 .6l-2.3 .6l-2.3 .7l-2.3 .6l-2.3 .6l-2.4 .6l-2.3 .5l-2.3 .6l-2.3 .6l-2.3 .6l-2.4 .6l-2.3 .5l-2.3 .6l-2.3 .6 M469.5 297.6l-2.4 .6l-2.3 .6l-2.3 .7l-2.3 .6l-2.3 .6l-2.3 .6l-2.4 .6l-2.3 .6l-2.3 .6l-2.3 .6l-2.3 .5l-2.3 .6l-2.4 .6l-2.3 .6l-2.3 .5 M456.9 295l-2.4 .7l-2.3 .6l-2.3 .6l-2.3 .6l-2.3 .6l-2.3 .6l-2.4 .6l-2.3 .6l-2.3 .6l-2.3 .6l-2.3 .6l-2.3 .6l-2.4 .6l-2.3 .5l-2.3 .6 M446.6 291.8l-2.3 .7l-2.3 .6l-2.4 .6l-2.3 .7l-2.3 .6l-2.3 .6l-2.3 .6l-2.4 .6l-2.3 .6l-2.3 .6l-2.3 .6l-2.3 .6l-2.3 .6l-2.4 .5l-2.3 .6l-2.3 .6 M434 289.3l-2.3 .7l-2.3 .6l-2.4 .6l-2.3 .7l-2.3 .6l-2.3 .6l-2.3 .6l-2.4 .6l-2.3 .6l-2.3 .6l-2.3 .6l-2.3 .6l-2.3 .6l-2.4 .6l-2.3 .5 M423.7 286.2l-2.3 .6l-2.3 .7l-2.3 .6l-2.4 .7l-2.3 .6l-2.3 .6l-2.3 .6l-2.3 .6l-2.4 .6l-2.3 .6l-2.3 .6l-2.3 .6l-2.3 .6l-2.3 .6l-2.4 .6l-2.3 .6 M411.1 283.7l-2.3 .7l-2.3 .6l-2.3 .7l-2.4 .6l-2.3 .6l-2.3 .6l-2.3 .7l-2.3 .6l-2.3 .6l-2.4 .6l-2.3 .6l-2.3 .6l-2.3 .6l-2.3 .6l-2.4 .6l-2.3 .6 M398.5 281.3l-2.3 .6l-2.3 .7l-2.3 .6l-2.4 .7l-2.3 .6l-2.3 .6l-2.3 .6l-2.3 .7l-2.3 .6l-2.4 .6l-2.3 .6l-2.3 .6l-2.3 .6l-2.3 .6l-2.3 .6 M388.2 278.2l-2.3 .7l-2.3 .6l-2.3 .7l-2.3 .6l-2.4 .7l-2.3 .6l-2.3 .6l-2.3 .6l-2.3 .7l-2.3 .6l-2.4 .6l-2.3 .6l-2.3 .6l-2.3 .6l-2.3 .6l-2.3 .6 M375.6 275.8l-2.3 .7l-2.3 .6l-2.3 .7l-2.3 .6l-2.4 .7l-2.3 .6l-2.3 .6l-2.3 .7l-2.3 .6l-2.3 .6l-2.4 .6l-2.3 .6l-2.3 .6l-2.3 .6l-2.3 .6 M365.4 272.8l-2.4 .7l-2.3 .6l-2.3 .7l-2.3 .6l-2.3 .7l-2.3 .6l-2.4 .6l-2.3 .7l-2.3 .6l-2.3 .6l-2.3 .6l-2.4 .7l-2.3 .6l-2.3 .6l-2.3 .6l-2.3 .6 M352.8 270.5l-2.4 .6l-2.3 .7l-2.3 .6l-2.3 .7l-2.3 .6l-2.3 .7l-2.4 .6l-2.3 .6l-2.3 .7l-2.3 .6l-2.3 .6l-2.4 .6l-2.3 .6l-2.3 .6l-2.3 .6l-2.3 .6 M342.5 267.5l-2.3 .6l-2.4 .7l-2.3 .7l-2.3 .6l-2.3 .7l-2.3 .6l-2.3 .7l-2.4 .6l-2.3 .6l-2.3 .6l-2.3 .7l-2.3 .6l-2.3 .6l-2.4 .6l-2.3 .6l-2.3 .6 M329.9 265.2l-2.3 .6l-2.4 .7l-2.3 .7l-2.3 .6l-2.3 .7l-2.3 .6l-2.3 .7l-2.4 .6l-2.3 .6l-2.3 .6l-2.3 .7l-2.3 .6l-2.3 .6l-2.4 .6l-2.3 .6l-2.3 .6 M319.6 262.2l-2.3 .7l-2.3 .7l-2.4 .6l-2.3 .7l-2.3 .6l-2.3 .7l-2.3 .6l-2.3 .7l-2.4 .6l-2.3 .6l-2.3 .7l-2.3 .6l-2.3 .6l-2.3 .6l-2.4 .6l-2.3 .7 M309.3 259.3l-2.3 .7l-2.3 .6l-2.3 .7l-2.4 .7l-2.3 .6l-2.3 .7l-2.3 .6l-2.3 .7l-2.3 .6l-2.4 .6l-2.3 .7l-2.3 .6l-2.3 .6l-2.3 .7l-2.3 .6l-2.4 .6l-2.3 .6 M296.7 257l-2.3 .7l-2.3 .7l-2.3 .7l-2.3 .6l-2.4 .7l-2.3 .6l-2.3 .7l-2.3 .6l-2.3 .7l-2.4 .6l-2.3 .6l-2.3 .7l-2.3 .6l-2.3 .6l-2.3 .6l-2.4 .6 M286.4 254.1l-2.3 .7l-2.3 .7l-2.3 .7l-2.3 .6l-2.3 .7l-2.4 .7l-2.3 .6l-2.3 .7l-2.3 .6l-2.3 .6l-2.3 .7l-2.4 .6l-2.3 .6l-2.3 .7l-2.3 .6l-2.3 .6l-2.4 .6 M276.2 251.2l-2.4 .7l-2.3 .7l-2.3 .7l-2.3 .7l-2.3 .6l-2.3 .7l-2.4 .6l-2.3 .7l-2.3 .6l-2.3 .7l-2.3 .6l-2.3 .7l-2.4 .6l-2.3 .6l-2.3 .7l-2.3 .6l-2.3 .6 M263.6 249l-2.4 .7l-2.3 .7l-2.3 .7l-2.3 .7l-2.3 .6l-2.3 .7l-2.4 .6l-2.3 .7l-2.3 .7l-2.3 .6l-2.3 .6l-2.3 .7l-2.4 .6l-2.3 .6l-2.3 .7l-2.3 .6 M253.3 246.2l-2.3 .7l-2.4 .7l-2.3 .6l-2.3 .7l-2.3 .7l-2.3 .7l-2.3 .6l-2.4 .7l-2.3 .6l-2.3 .7l-2.3 .6l-2.3 .7l-2.3 .6l-2.4 .6l-2.3 .7l-2.3 .6l-2.3 .6 M240.7 244l-2.3 .7l-2.3 .7l-2.4 .7l-2.3 .7l-2.3 .6l-2.3 .7l-2.3 .7l-2.4 .6l-2.3 .7l-2.3 .6l-2.3 .7l-2.3 .6l-2.3 .6l-2.4 .7l-2.3 .6l-2.3 .6" stroke="#000" stroke-width="1.25" stroke-opacity="0.36" fill="none" stroke-linejoin="round"/>
<path d="M721.7 344.8l-2.3 .6l-2.3 .5l-2.3 .5l-2.4 .6l-2.3 .5l-2.3 .6l-2.3 .5l-2.3 .5l-2.3 .5l-2.4 .5 M706.8 341.8l-2.3 .6l-2.3 .6l-2.4 .5l-2.3 .6l-2.3 .5l-2.3 .5l-2.3 .6l-2.3 .5l-2.4 .5l-2.3 .5 M694.2 338.4l-2.3 .6l-2.3 .5l-2.4 .6l-2.3 .6l-2.3 .5l-2.3 .6l-2.3 .5l-2.3 .6l-2.4 .5l-2.3 .5 M681.6 335l-2.3 .6l-2.3 .6l-2.4 .6l-2.3 .5l-2.3 .6l-2.3 .6l-2.3 .5l-2.3 .6l-2.4 .5l-2.3 .6 M666.7 332.3l-2.3 .6l-2.4 .6l-2.3 .6l-2.3 .6l-2.3 .5l-2.3 .6l-2.3 .6l-2.4 .5l-2.3 .6l-2.3 .5 M654.1 329.1l-2.3 .6l-2.3 .6l-2.4 .6l-2.3 .6l-2.3 .5l-2.3 .6l-2.3 .6l-2.4 .6l-2.3 .5l-2.3 .6 M641.5 325.9l-2.3 .6l-2.3 .6l-2.4 .6l-2.3 .6l-2.3 .6l-2.3 .6l-2.3 .6l-2.3 .6l-2.4 .5l-2.3 .6 M628.9 322.8l-2.3 .6l-2.3 .6l-2.4 .6l-2.3 .7l-2.3 .5l-2.3 .6l-2.3 .6l-2.3 .6l-2.4 .6l-2.3 .6 M616.3 319.8l-2.3 .6l-2.3 .6l-2.4 .6l-2.3 .6l-2.3 .6l-2.3 .6l-2.3 .6l-2.3 .6l-2.4 .6l-2.3 .6 M603.7 316.7l-2.3 .7l-2.3 .6l-2.4 .6l-2.3 .7l-2.3 .6l-2.3 .6l-2.3 .6l-2.3 .6l-2.4 .6l-2.3 .5 M591.1 313.8l-2.3 .6l-2.3 .7l-2.4 .6l-2.3 .6l-2.3 .6l-2.3 .7l-2.3 .6l-2.3 .6l-2.4 .6l-2.3 .6 M578.5 310.9l-2.3 .6l-2.3 .7l-2.3 .6l-2.4 .6l-2.3 .7l-2.3 .6l-2.3 .6l-2.3 .6l-2.4 .6l-2.3 .6 M565.9 308l-2.3 .7l-2.3 .6l-2.3 .7l-2.4 .6l-2.3 .6l-2.3 .7l-2.3 .6l-2.3 .6l-2.4 .6l-2.3 .6 M555.6 304.6l-2.3 .6l-2.3 .7l-2.3 .6l-2.3 .7l-2.4 .6l-2.3 .6l-2.3 .7l-2.3 .6l-2.3 .6l-2.4 .6l-2.3 .6 M543 301.8l-2.3 .6l-2.3 .7l-2.3 .7l-2.3 .6l-2.4 .7l-2.3 .6l-2.3 .6l-2.3 .7l-2.3 .6l-2.3 .6l-2.4 .6 M530.4 299l-2.3 .7l-2.3 .7l-2.3 .6l-2.3 .7l-2.4 .6l-2.3 .7l-2.3 .6l-2.3 .6l-2.3 .7l-2.3 .6l-2.4 .6 M517.8 296.3l-2.3 .7l-2.3 .7l-2.3 .6l-2.3 .7l-2.4 .7l-2.3 .6l-2.3 .6l-2.3 .7l-2.3 .6l-2.3 .6 M507.6 293l-2.4 .7l-2.3 .7l-2.3 .6l-2.3 .7l-2.3 .6l-2.4 .7l-2.3 .7l-2.3 .6l-2.3 .6l-2.3 .7l-2.3 .6 M495 290.4l-2.4 .6l-2.3 .7l-2.3 .7l-2.3 .7l-2.3 .6l-2.4 .7l-2.3 .6l-2.3 .7l-2.3 .6l-2.3 .7l-2.3 .6 M484.7 287.1l-2.3 .7l-2.4 .7l-2.3 .6l-2.3 .7l-2.3 .7l-2.3 .6l-2.3 .7l-2.4 .7l-2.3 .6l-2.3 .7l-2.3 .6l-2.3 .6 M472.1 284.5l-2.3 .7l-2.4 .7l-2.3 .7l-2.3 .7l-2.3 .6l-2.3 .7l-2.3 .7l-2.4 .6l-2.3 .7l-2.3 .6l-2.3 .6 M459.5 282l-2.3 .7l-2.4 .7l-2.3 .6l-2.3 .7l-2.3 .7l-2.3 .7l-2.3 .6l-2.4 .7l-2.3 .6l-2.3 .7l-2.3 .6 M449.2 278.8l-2.3 .7l-2.3 .7l-2.4 .7l-2.3 .6l-2.3 .7l-2.3 .7l-2.3 .7l-2.3 .6l-2.4 .7l-2.3 .6l-2.3 .7 M436.6 276.3l-2.3 .7l-2.3 .7l-2.4 .7l-2.3 .7l-2.3 .7l-2.3 .6l-2.3 .7l-2.3 .7l-2.4 .6l-2.3 .7l-2.3 .6 M426.3 273.1l-2.3 .7l-2.3 .7l-2.3 .7l-2.3 .7l-2.4 .7l-2.3 .7l-2.3 .7l-2.3 .7l-2.3 .6l-2.4 .7l-2.3 .6l-2.3 .7 M413.7 270.7l-2.3 .7l-2.3 .7l-2.3 .7l-2.3 .7l-2.4 .7l-2.3 .7l-2.3 .7l-2.3 .6l-2.3 .7l-2.3 .7l-2.4 .6 M403.4 267.6l-2.3 .7l-2.3 .7l-2.3 .7l-2.3 .7l-2.3 .7l-2.4 .7l-2.3 .7l-2.3 .7l-2.3 .6l-2.3 .7l-2.3 .7l-2.4 .6 M390.8 265.2l-2.3 .7l-2.3 .7l-2.3 .7l-2.3 .8l-2.3 .6l-2.4 .7l-2.3 .7l-2.3 .7l-2.3 .7l-2.3 .7l-2.3 .6 M380.6 262.1l-2.4 .8l-2.3 .7l-2.3 .7l-2.3 .7l-2.3 .7l-2.3 .7l-2.4 .7l-2.3 .7l-2.3 .7l-2.3 .6l-2.3 .7l-2.3 .7 M370.3 259.1l-2.3 .7l-2.3 .7l-2.4 .8l-2.3 .7l-2.3 .7l-2.3 .7l-2.3 .7l-2.4 .7l-2.3 .7l-2.3 .6l-2.3 .7l-2.3 .7 M357.7 256.8l-2.3 .7l-2.3 .7l-2.4 .8l-2.3 .7l-2.3 .7l-2.3 .7l-2.3 .7l-2.3 .7l-2.4 .6l-2.3 .7l-2.3 .7l-2.3 .7 M347.4 253.8l-2.3 .7l-2.3 .7l-2.3 .7l-2.4 .8l-2.3 .7l-2.3 .7l-2.3 .7l-2.3 .7l-2.3 .7l-2.4 .7l-2.3 .6l-2.3 .7 M337.1 250.8l-2.3 .7l-2.3 .7l-2.3 .8l-2.3 .7l-2.4 .7l-2.3 .7l-2.3 .7l-2.3 .7l-2.3 .7l-2.3 .7l-2.4 .7l-2.3 .7 M324.5 248.5l-2.3 .8l-2.3 .7l-2.3 .7l-2.3 .7l-2.4 .8l-2.3 .7l-2.3 .7l-2.3 .7l-2.3 .7l-2.3 .7l-2.4 .7l-2.3 .6 M314.3 245.6l-2.4 .7l-2.3 .7l-2.3 .8l-2.3 .7l-2.3 .7l-2.4 .7l-2.3 .8l-2.3 .7l-2.3 .7l-2.3 .7l-2.3 .6l-2.4 .7 M304 242.6l-2.3 .8l-2.4 .7l-2.3 .7l-2.3 .8l-2.3 .7l-2.3 .7l-2.3 .7l-2.4 .7l-2.3 .8l-2.3 .7l-2.3 .6l-2.3 .7 M291.4 240.4l-2.3 .8l-2.4 .7l-2.3 .8l-2.3 .7l-2.3 .7l-2.3 .7l-2.3 .7l-2.4 .8l-2.3 .7l-2.3 .7l-2.3 .7l-2.3 .6 M281.1 237.5l-2.3 .8l-2.3 .7l-2.4 .8l-2.3 .7l-2.3 .7l-2.3 .7l-2.3 .8l-2.3 .7l-2.4 .7l-2.3 .7l-2.3 .7l-2.3 .7 M270.8 234.6l-2.3 .8l-2.3 .7l-2.3 .8l-2.4 .7l-2.3 .7l-2.3 .8l-2.3 .7l-2.3 .7l-2.3 .7l-2.4 .7l-2.3 .7l-2.3 .7l-2.3 .7" stroke="#000" stroke-width="1.25" stroke-opacity="0.4" fill="none" stroke-linejoin="round"/>
<path d="M737.9 340.7l-2.3 .6l-2.3 .6l-2.3 .6l-2.3 .6l-2.4 .6l-2.3 .5l-2.3 .6 M725.3 337.1l-2.3 .6l-2.3 .6l-2.3 .6l-2.3 .6l-2.4 .6l-2.3 .6l-2.3 .6l-2.3 .5 M712.7 333.6l-2.3 .6l-2.3 .6l-2.3 .6l-2.3 .6l-2.3 .6l-2.4 .6l-2.3 .6l-2.3 .6 M697.8 330.7l-2.3 .7l-2.3 .6l-2.3 .6l-2.3 .6l-2.4 .6l-2.3 .6l-2.3 .6 M685.2 327.3l-2.3 .7l-2.3 .6l-2.3 .7l-2.3 .6l-2.4 .6l-2.3 .6l-2.3 .6l-2.3 .6 M672.6 324l-2.3 .7l-2.3 .6l-2.3 .7l-2.3 .6l-2.4 .6l-2.3 .7l-2.3 .6l-2.3 .6 M660 320.8l-2.3 .7l-2.3 .6l-2.3 .7l-2.3 .6l-2.4 .6l-2.3 .7l-2.3 .6l-2.3 .6 M647.4 317.6l-2.3 .7l-2.3 .7l-2.3 .6l-2.3 .7l-2.4 .6l-2.3 .6l-2.3 .7l-2.3 .6 M634.8 314.5l-2.3 .7l-2.3 .7l-2.3 .6l-2.3 .7l-2.4 .6l-2.3 .7l-2.3 .6l-2.3 .7 M622.2 311.4l-2.3 .7l-2.3 .7l-2.3 .7l-2.3 .6l-2.3 .7l-2.4 .7l-2.3 .6l-2.3 .6 M609.6 308.4l-2.3 .7l-2.3 .7l-2.3 .7l-2.3 .7l-2.3 .6l-2.4 .7l-2.3 .7l-2.3 .6 M599.4 304.8l-2.4 .7l-2.3 .7l-2.3 .7l-2.3 .7l-2.3 .6l-2.3 .7l-2.4 .7l-2.3 .6l-2.3 .7 M586.8 301.9l-2.4 .7l-2.3 .7l-2.3 .7l-2.3 .7l-2.3 .7l-2.3 .6l-2.4 .7l-2.3 .7l-2.3 .6 M574.2 299l-2.4 .7l-2.3 .8l-2.3 .7l-2.3 .6l-2.3 .7l-2.3 .7l-2.4 .7l-2.3 .7 M561.6 296.2l-2.4 .7l-2.3 .7l-2.3 .8l-2.3 .7l-2.3 .6l-2.3 .7l-2.4 .7l-2.3 .7 M551.3 292.7l-2.3 .8l-2.3 .7l-2.4 .7l-2.3 .7l-2.3 .7l-2.3 .7l-2.3 .7l-2.4 .7l-2.3 .6 M538.7 290l-2.3 .7l-2.3 .8l-2.4 .7l-2.3 .7l-2.3 .7l-2.3 .7l-2.3 .7l-2.3 .7l-2.4 .6 M526.1 287.3l-2.3 .7l-2.3 .8l-2.4 .7l-2.3 .7l-2.3 .7l-2.3 .7l-2.3 .7l-2.3 .7 M515.8 283.9l-2.3 .8l-2.3 .7l-2.3 .7l-2.4 .7l-2.3 .8l-2.3 .7l-2.3 .7l-2.3 .7l-2.3 .7 M503.2 281.3l-2.3 .7l-2.3 .8l-2.3 .7l-2.4 .7l-2.3 .8l-2.3 .7l-2.3 .7l-2.3 .7 M492.9 278l-2.3 .7l-2.3 .8l-2.3 .7l-2.3 .7l-2.4 .8l-2.3 .7l-2.3 .7l-2.3 .7l-2.3 .7 M480.3 275.4l-2.3 .8l-2.3 .7l-2.3 .8l-2.3 .7l-2.3 .7l-2.4 .7l-2.3 .8l-2.3 .7l-2.3 .7 M470.1 272.1l-2.4 .8l-2.3 .8l-2.3 .7l-2.3 .8l-2.3 .7l-2.3 .7l-2.4 .7l-2.3 .8l-2.3 .7 M457.5 269.7l-2.4 .7l-2.3 .8l-2.3 .7l-2.3 .8l-2.3 .7l-2.3 .7l-2.4 .8l-2.3 .7l-2.3 .7 M447.2 266.4l-2.3 .8l-2.4 .8l-2.3 .7l-2.3 .8l-2.3 .7l-2.3 .8l-2.3 .7l-2.4 .7l-2.3 .7 M434.6 264l-2.3 .8l-2.4 .7l-2.3 .8l-2.3 .7l-2.3 .8l-2.3 .7l-2.3 .8l-2.4 .7l-2.3 .7 M424.3 260.8l-2.3 .8l-2.3 .8l-2.3 .7l-2.4 .8l-2.3 .7l-2.3 .8l-2.3 .7l-2.3 .8l-2.4 .7 M414 257.7l-2.3 .8l-2.3 .7l-2.3 .8l-2.3 .8l-2.4 .7l-2.3 .8l-2.3 .7l-2.3 .8l-2.3 .7l-2.4 .7 M401.4 255.3l-2.3 .8l-2.3 .8l-2.3 .8l-2.3 .7l-2.4 .8l-2.3 .7l-2.3 .8l-2.3 .7l-2.3 .7 M391.1 252.2l-2.3 .8l-2.3 .8l-2.3 .8l-2.3 .7l-2.3 .8l-2.4 .8l-2.3 .7l-2.3 .7l-2.3 .8 M380.9 249.1l-2.4 .8l-2.3 .8l-2.3 .8l-2.3 .8l-2.3 .7l-2.3 .8l-2.4 .7l-2.3 .8l-2.3 .7l-2.3 .8 M368.3 246.9l-2.3 .8l-2.4 .7l-2.3 .8l-2.3 .8l-2.3 .8l-2.3 .7l-2.4 .8l-2.3 .7l-2.3 .8 M358 243.8l-2.3 .8l-2.3 .8l-2.4 .8l-2.3 .8l-2.3 .7l-2.3 .8l-2.3 .8l-2.4 .7l-2.3 .8 M347.7 240.8l-2.3 .8l-2.3 .8l-2.3 .8l-2.4 .8l-2.3 .7l-2.3 .8l-2.3 .8l-2.3 .7l-2.4 .8l-2.3 .7 M335.1 238.6l-2.3 .8l-2.3 .8l-2.3 .8l-2.4 .7l-2.3 .8l-2.3 .8l-2.3 .7l-2.3 .8l-2.3 .8 M324.8 235.6l-2.3 .8l-2.3 .8l-2.3 .8l-2.3 .8l-2.4 .8l-2.3 .7l-2.3 .8l-2.3 .8l-2.3 .7 M314.6 232.6l-2.4 .8l-2.3 .8l-2.3 .8l-2.3 .8l-2.3 .8l-2.4 .8l-2.3 .8l-2.3 .7l-2.3 .8l-2.3 .7 M304.3 229.7l-2.3 .8l-2.4 .8l-2.3 .8l-2.3 .8l-2.3 .8l-2.3 .7l-2.4 .8l-2.3 .8l-2.3 .8l-2.3 .7 M291.7 227.5l-2.3 .8l-2.4 .9l-2.3 .8l-2.3 .7l-2.3 .8l-2.3 .8l-2.3 .8l-2.4 .8l-2.3 .7" stroke="#000" stroke-width="1.25" stroke-opacity="0.43" fill="none" stroke-linejoin="round"/>
<path d="M754.2 336.4l-2.4 .6l-2.3 .6l-2.3 .7l-2.3 .6l-2.3 .6l-2.4 .6l-2.3 .6 M739.2 333.3l-2.3 .6l-2.3 .7l-2.3 .6l-2.3 .7l-2.3 .6l-2.4 .6 M726.6 329.6l-2.3 .7l-2.3 .7l-2.3 .6l-2.3 .7l-2.3 .6l-2.4 .7 M714 326.1l-2.3 .7l-2.3 .6l-2.3 .7l-2.3 .7l-2.3 .6l-2.4 .7l-2.3 .6 M701.4 322.6l-2.3 .7l-2.3 .7l-2.3 .7l-2.3 .7l-2.3 .6l-2.4 .7l-2.3 .6 M688.8 319.2l-2.3 .7l-2.3 .7l-2.3 .7l-2.3 .7l-2.3 .7l-2.4 .7l-2.3 .6 M676.3 315.9l-2.4 .7l-2.3 .8l-2.3 .7l-2.3 .6l-2.3 .7l-2.4 .7l-2.3 .7 M663.7 312.7l-2.4 .7l-2.3 .7l-2.3 .7l-2.3 .7l-2.3 .7l-2.3 .7l-2.4 .7 M651.1 309.5l-2.4 .8l-2.3 .7l-2.3 .7l-2.3 .7l-2.3 .7l-2.3 .7l-2.4 .7 M638.5 306.4l-2.4 .8l-2.3 .7l-2.3 .7l-2.3 .7l-2.3 .7l-2.3 .7l-2.4 .7 M625.9 303.4l-2.4 .7l-2.3 .8l-2.3 .7l-2.3 .7l-2.3 .7l-2.3 .7l-2.4 .7 M615.6 299.6l-2.3 .8l-2.4 .7l-2.3 .8l-2.3 .7l-2.3 .8l-2.3 .7l-2.3 .7 M603 296.7l-2.3 .8l-2.3 .7l-2.4 .8l-2.3 .7l-2.3 .7l-2.3 .8l-2.3 .7 M590.4 293.8l-2.3 .8l-2.3 .7l-2.4 .8l-2.3 .7l-2.3 .8l-2.3 .7l-2.3 .7 M580.1 290.2l-2.3 .8l-2.3 .7l-2.3 .8l-2.4 .8l-2.3 .7l-2.3 .8l-2.3 .7l-2.3 .7 M567.5 287.4l-2.3 .8l-2.3 .8l-2.3 .7l-2.4 .8l-2.3 .7l-2.3 .8l-2.3 .7 M554.9 284.7l-2.3 .7l-2.3 .8l-2.3 .8l-2.4 .8l-2.3 .7l-2.3 .8l-2.3 .7 M544.6 281.1l-2.3 .8l-2.3 .8l-2.3 .8l-2.3 .8l-2.4 .8l-2.3 .7l-2.3 .8l-2.3 .7 M532 278.5l-2.3 .8l-2.3 .8l-2.3 .8l-2.3 .7l-2.4 .8l-2.3 .8l-2.3 .7 M521.8 275.1l-2.4 .8l-2.3 .8l-2.3 .8l-2.3 .7l-2.3 .8l-2.4 .8l-2.3 .7l-2.3 .8 M509.2 272.5l-2.4 .8l-2.3 .8l-2.3 .8l-2.3 .8l-2.3 .7l-2.3 .8l-2.4 .8 M498.9 269.1l-2.3 .8l-2.4 .8l-2.3 .8l-2.3 .8l-2.3 .8l-2.3 .8l-2.3 .8l-2.4 .7 M486.3 266.6l-2.3 .8l-2.4 .8l-2.3 .8l-2.3 .8l-2.3 .8l-2.3 .8l-2.3 .7 M476 263.3l-2.3 .8l-2.3 .8l-2.4 .8l-2.3 .8l-2.3 .8l-2.3 .8l-2.3 .8l-2.3 .8 M463.4 260.8l-2.3 .8l-2.3 .9l-2.4 .8l-2.3 .8l-2.3 .8l-2.3 .8l-2.3 .7 M453.1 257.6l-2.3 .8l-2.3 .8l-2.3 .8l-2.3 .8l-2.4 .8l-2.3 .8l-2.3 .8l-2.3 .8 M442.8 254.3l-2.3 .9l-2.3 .8l-2.3 .8l-2.3 .8l-2.3 .9l-2.4 .7l-2.3 .8l-2.3 .8 M430.2 252l-2.3 .8l-2.3 .8l-2.3 .9l-2.3 .8l-2.3 .8l-2.4 .8l-2.3 .8 M420 248.8l-2.4 .8l-2.3 .9l-2.3 .8l-2.3 .8l-2.3 .8l-2.3 .8l-2.4 .8l-2.3 .8 M409.7 245.6l-2.3 .9l-2.4 .8l-2.3 .9l-2.3 .8l-2.3 .8l-2.3 .8l-2.3 .8l-2.4 .8 M397.1 243.3l-2.3 .9l-2.3 .8l-2.4 .9l-2.3 .8l-2.3 .8l-2.3 .8l-2.3 .8 M386.8 240.2l-2.3 .9l-2.3 .8l-2.3 .9l-2.4 .8l-2.3 .8l-2.3 .8l-2.3 .9l-2.3 .8 M376.5 237.1l-2.3 .9l-2.3 .9l-2.3 .8l-2.3 .8l-2.4 .9l-2.3 .8l-2.3 .8l-2.3 .8 M366.2 234.1l-2.3 .8l-2.3 .9l-2.3 .8l-2.3 .9l-2.3 .8l-2.4 .8l-2.3 .9l-2.3 .8 M353.6 231.9l-2.3 .9l-2.3 .8l-2.3 .9l-2.3 .8l-2.3 .8l-2.4 .8l-2.3 .9l-2.3 .8 M343.4 228.9l-2.3 .8l-2.4 .9l-2.3 .8l-2.3 .9l-2.3 .8l-2.3 .8l-2.4 .9l-2.3 .8 M333.1 225.8l-2.3 .9l-2.3 .9l-2.4 .8l-2.3 .9l-2.3 .8l-2.3 .9l-2.3 .8l-2.3 .8 M322.8 222.9l-2.3 .8l-2.3 .9l-2.3 .9l-2.4 .8l-2.3 .9l-2.3 .8l-2.3 .8l-2.3 .9 M312.5 219.9l-2.3 .9l-2.3 .8l-2.3 .9l-2.3 .9l-2.4 .8l-2.3 .8l-2.3 .9l-2.3 .8l-2.3 .8" stroke="#000" stroke-width="1.25" stroke-opacity="0.47" fill="none" stroke-linejoin="round"/>
<path d="M765.7 333l-2.3 .7l-2.3 .6l-2.3 .7l-2.3 .7l-2.3 .7 M753.1 329.1l-2.3 .7l-2.3 .7l-2.3 .7l-2.3 .7l-2.3 .7l-2.4 .7 M740.5 325.4l-2.3 .7l-2.3 .7l-2.3 .7l-2.3 .7l-2.3 .7l-2.4 .7 M728 321.7l-2.4 .8l-2.3 .7l-2.3 .8l-2.3 .7l-2.3 .7l-2.4 .7 M715.4 318.2l-2.4 .8l-2.3 .7l-2.3 .8l-2.3 .7l-2.3 .7l-2.4 .7 M702.8 314.8l-2.4 .7l-2.3 .8l-2.3 .7l-2.3 .8l-2.3 .7l-2.4 .7 M690.2 311.4l-2.4 .8l-2.3 .7l-2.3 .8l-2.3 .8l-2.3 .7l-2.3 .7 M677.6 308.1l-2.4 .8l-2.3 .8l-2.3 .7l-2.3 .8l-2.3 .7l-2.3 .8 M665 304.9l-2.4 .8l-2.3 .8l-2.3 .8l-2.3 .7l-2.3 .8l-2.3 .7 M652.4 301.8l-2.4 .8l-2.3 .7l-2.3 .8l-2.3 .8l-2.3 .8l-2.3 .7 M639.8 298.7l-2.4 .8l-2.3 .8l-2.3 .8l-2.3 .7l-2.3 .8l-2.3 .8 M629.5 294.8l-2.3 .9l-2.3 .8l-2.4 .8l-2.3 .8l-2.3 .7l-2.3 .8 M616.9 291.9l-2.3 .8l-2.3 .8l-2.4 .8l-2.3 .8l-2.3 .8l-2.3 .8 M604.3 289l-2.3 .8l-2.3 .8l-2.4 .8l-2.3 .8l-2.3 .8l-2.3 .8 M594 285.3l-2.3 .8l-2.3 .9l-2.3 .8l-2.4 .8l-2.3 .8l-2.3 .8 M581.4 282.5l-2.3 .8l-2.3 .9l-2.3 .8l-2.4 .8l-2.3 .8l-2.3 .8 M571.1 278.9l-2.3 .8l-2.3 .9l-2.3 .8l-2.3 .8l-2.4 .8l-2.3 .9l-2.3 .8 M558.5 276.2l-2.3 .8l-2.3 .9l-2.3 .8l-2.3 .8l-2.3 .8l-2.4 .8 M548.3 272.6l-2.4 .9l-2.3 .9l-2.3 .8l-2.3 .8l-2.3 .9l-2.3 .8l-2.4 .8 M535.7 270l-2.4 .9l-2.3 .8l-2.3 .9l-2.3 .8l-2.3 .8l-2.3 .9 M525.4 266.5l-2.3 .9l-2.4 .9l-2.3 .8l-2.3 .9l-2.3 .8l-2.3 .8l-2.3 .9 M512.8 264l-2.3 .9l-2.4 .8l-2.3 .9l-2.3 .8l-2.3 .9l-2.3 .8 M502.5 260.6l-2.3 .9l-2.3 .9l-2.3 .8l-2.4 .9l-2.3 .8l-2.3 .9l-2.3 .8 M489.9 258.1l-2.3 .9l-2.3 .9l-2.3 .8l-2.4 .9l-2.3 .8l-2.3 .9 M479.6 254.8l-2.3 .9l-2.3 .9l-2.3 .8l-2.3 .9l-2.4 .8l-2.3 .9l-2.3 .8 M469.3 251.5l-2.3 .9l-2.3 .9l-2.3 .8l-2.3 .9l-2.3 .9l-2.4 .8l-2.3 .9 M456.7 249.1l-2.3 .9l-2.3 .9l-2.3 .9l-2.3 .8l-2.3 .9l-2.4 .8 M446.5 245.9l-2.3 .9l-2.4 .8l-2.3 .9l-2.3 .9l-2.3 .9l-2.3 .8l-2.4 .9 M436.2 242.6l-2.3 .9l-2.3 .9l-2.4 .9l-2.3 .9l-2.3 .9l-2.3 .8l-2.3 .9 M425.9 239.4l-2.3 .9l-2.3 .9l-2.3 .9l-2.4 .9l-2.3 .9l-2.3 .9l-2.3 .8 M413.3 237.2l-2.3 .9l-2.3 .9l-2.3 .9l-2.4 .9l-2.3 .8l-2.3 .9l-2.3 .8 M403 234l-2.3 .9l-2.3 .9l-2.3 .9l-2.3 .9l-2.4 .9l-2.3 .9l-2.3 .8 M392.8 230.9l-2.4 .9l-2.3 .9l-2.3 .9l-2.3 .9l-2.3 .9l-2.4 .9l-2.3 .8 M382.5 227.8l-2.3 .9l-2.4 .9l-2.3 .9l-2.3 .9l-2.3 .9l-2.3 .9l-2.4 .9 M369.9 225.6l-2.3 .9l-2.4 .9l-2.3 1l-2.3 .9l-2.3 .8l-2.3 .9l-2.4 .9 M359.6 222.5l-2.3 1l-2.3 .9l-2.4 .9l-2.3 .9l-2.3 .9l-2.3 .9l-2.3 .9 M349.3 219.5l-2.3 .9l-2.3 1l-2.3 .9l-2.4 .9l-2.3 .9l-2.3 .9l-2.3 .8 M339 216.5l-2.3 .9l-2.3 .9l-2.3 1l-2.3 .9l-2.4 .9l-2.3 .9l-2.3 .9 M328.8 213.5l-2.4 .9l-2.3 .9l-2.3 1l-2.3 .9l-2.3 .9l-2.4 .9l-2.3 .9" stroke="#000" stroke-width="1.25" stroke-opacity="0.5" fill="none" stroke-linejoin="round"/>
<path d="M777.3 329.3l-2.3 .7l-2.3 .8l-2.3 .7l-2.3 .7l-2.4 .8 M764.7 325.4l-2.3 .7l-2.3 .8l-2.3 .7l-2.3 .8l-2.4 .7 M752.1 321.5l-2.3 .8l-2.3 .8l-2.3 .8l-2.3 .7l-2.4 .8 M739.5 317.8l-2.3 .8l-2.3 .8l-2.3 .8l-2.3 .8l-2.3 .7 M726.9 314.2l-2.3 .9l-2.3 .8l-2.3 .8l-2.3 .7l-2.3 .8 M714.3 310.7l-2.3 .9l-2.3 .8l-2.3 .8l-2.3 .8l-2.3 .8 M701.7 307.3l-2.3 .9l-2.3 .8l-2.3 .8l-2.3 .8l-2.3 .8 M689.1 304l-2.3 .9l-2.3 .8l-2.3 .8l-2.3 .8l-2.3 .8 M676.6 300.8l-2.4 .8l-2.3 .9l-2.3 .8l-2.3 .8l-2.3 .8 M664 297.6l-2.4 .8l-2.3 .9l-2.3 .8l-2.3 .8l-2.3 .9 M653.7 293.6l-2.3 .9l-2.4 .8l-2.3 .9l-2.3 .8l-2.3 .9l-2.3 .8 M641.1 290.6l-2.3 .9l-2.4 .8l-2.3 .9l-2.3 .8l-2.3 .8 M628.5 287.6l-2.3 .9l-2.4 .8l-2.3 .9l-2.3 .9l-2.3 .8 M618.2 283.8l-2.3 .9l-2.3 .9l-2.4 .8l-2.3 .9l-2.3 .8l-2.3 .9 M605.6 280.9l-2.3 .9l-2.3 .9l-2.4 .9l-2.3 .8l-2.3 .9 M595.3 277.2l-2.3 .9l-2.3 .9l-2.3 .9l-2.4 .9l-2.3 .8l-2.3 .9 M582.7 274.4l-2.3 .9l-2.3 .9l-2.3 .9l-2.3 .9l-2.4 .9 M572.4 270.8l-2.3 .9l-2.3 .9l-2.3 .9l-2.3 .9l-2.3 .9l-2.4 .9 M559.8 268.1l-2.3 1l-2.3 .9l-2.3 .9l-2.3 .9l-2.3 .8 M549.6 264.6l-2.4 .9l-2.3 .9l-2.3 .9l-2.3 .9l-2.3 .9l-2.3 .9 M537 262l-2.4 .9l-2.3 1l-2.3 .9l-2.3 .9l-2.3 .8 M526.7 258.5l-2.3 1l-2.3 .9l-2.4 .9l-2.3 .9l-2.3 .9l-2.3 .9 M516.4 255.1l-2.3 .9l-2.3 1l-2.3 .9l-2.4 .9l-2.3 .9l-2.3 .9 M503.8 252.6l-2.3 1l-2.3 .9l-2.3 .9l-2.4 .9l-2.3 .9l-2.3 .9 M493.5 249.2l-2.3 1l-2.3 .9l-2.3 1l-2.3 .9l-2.4 .9l-2.3 .9 M483.3 245.9l-2.4 .9l-2.3 1l-2.3 .9l-2.3 1l-2.3 .9l-2.4 .9 M470.7 243.5l-2.4 1l-2.3 .9l-2.3 1l-2.3 .9l-2.3 .9l-2.4 .9 M460.4 240.2l-2.3 1l-2.4 .9l-2.3 1l-2.3 .9l-2.3 .9l-2.3 1 M450.1 237l-2.3 .9l-2.3 1l-2.4 .9l-2.3 1l-2.3 .9l-2.3 .9 M439.8 233.7l-2.3 1l-2.3 1l-2.3 .9l-2.4 1l-2.3 .9l-2.3 .9 M427.2 231.5l-2.3 1l-2.3 .9l-2.3 1l-2.4 .9l-2.3 .9l-2.3 1 M416.9 228.3l-2.3 1l-2.3 .9l-2.3 1l-2.3 .9l-2.4 1l-2.3 .9 M406.7 225.1l-2.4 1l-2.3 1l-2.3 .9l-2.3 1l-2.3 .9l-2.3 1 M396.4 222l-2.3 1l-2.4 1l-2.3 .9l-2.3 1l-2.3 .9l-2.3 1 M386.1 218.9l-2.3 1l-2.3 .9l-2.4 1l-2.3 1l-2.3 .9l-2.3 1l-2.3 .9 M375.8 215.8l-2.3 1l-2.3 1l-2.3 .9l-2.4 1l-2.3 1l-2.3 .9l-2.3 .9 M363.2 213.7l-2.3 1l-2.3 1l-2.3 .9l-2.4 1l-2.3 1l-2.3 .9 M352.9 210.6l-2.3 1l-2.3 1l-2.3 1l-2.3 1l-2.3 .9l-2.4 1 M342.7 207.6l-2.4 1l-2.3 1l-2.3 1l-2.3 1l-2.3 .9l-2.3 1" stroke="#000" stroke-width="1.25" stroke-opacity="0.54" fill="none" stroke-linejoin="round"/>
<path d="M796.9 331.1l-2.3 .8l-2.4 .7l-2.3 .8l-2.3 .7l-2.3 .7l-2.3 .7l-2.3 .7l-2.4 .7l-2.3 .7l-2.3 .7l-2.3 .6l-2.3 .7l-2.3 .6l-2.4 .6l-2.3 .7l-2.3 .6l-2.3 .6l-2.3 .6l-2.4 .6l-2.3 .6l-2.3 .6l-2.3 .5l-2.3 .6l-2.3 .6l-2.4 .5l-2.3 .6l-2.3 .5l-2.3 .6l-2.3 .5l-2.3 .5l-2.4 .5l-2.3 .6l-2.3 .5l-2.3 .5l-2.3 .5l-2.4 .5l-2.3 .5l-2.3 .5l-2.3 .5l-2.3 .5l-2.3 .4l-2.4 .5l-2.3 .5l-2.3 .5l-2.3 .4l-2.3 .5l-2.3 .5l-2.4 .4l-2.3 .5l-2.3 .4l-2.3 .5l-2.3 .4l-2.3 .5l-2.4 .4l-2.3 .4l-2.3 .5l-2.3 .4l-2.3 .4l-2.4 .4l-2.3 .5l-2.3 .4l-2.3 .4l-2.3 .4l-2.3 .5l-2.4 .4l-2.3 .4l-2.3 .4l-2.3 .4l-2.3 .4l-2.3 .4l-2.4 .4l-2.3 .4l-2.3 .4l-2.3 .4l-2.3 .4l-2.3 .4l-2.4 .4l-2.3 .4l-2.3 .4l-2.3 .3l-2.3 .4l-2.4 .4l-2.3 .4l-2.3 .4l-2.3 .3l-2.3 .4l-2.3 .4l-2.4 .4l-2.3 .3l-2.3 .4l-2.3 .4l-2.3 .4l-2.3 .3l-2.4 .4l-2.3 .4l-2.3 .3l-2.3 .4l-2.3 .4l-2.4 .3l-2.3 .4l-2.3 .3l-2.3 .4l-2.3 .4l-2.3 .3l-2.4 .4l-2.3 .3l-2.3 .4l-2.3 .3l-2.3 .4l-2.3 .3l-2.4 .4l-2.3 .3l-2.3 .4l-2.3 .3l-2.3 .4l-2.4 .3l-2.3 .4l-2.3 .3l-2.3 .3l-2.3 .4l-2.3 .3l-2.4 .4l-2.3 .3l-2.3 .3l-2.3 .4l-2.3 .3l-2.3 .4l-2.4 .3l-2.3 .3l-2.3 .4l-2.3 .3l-2.3 .3l-2.3 .4l-2.4 .3l-2.3 .3l-2.3 .4l-2.3 .3l-2.3 .3l-2.4 .4l-2.3 .3l-2.3 .3l-2.3 .3l-2.3 .4l-2.3 .3l-2.4 .3l-2.3 .3l-2.3 .4l-2.3 .3l-2.3 .3l-2.3 .3l-2.4 .4l-2.3 .3l-2.3 .3l-2.3 .3l-2.3 .4l-2.3 .3l-2.4 .3l-2.3 .3l-2.3 .3l-2.3 .4l-2.3 .3l-2.4 .3l-2.3 .3l-2.3 .3l-2.3 .3l-2.3 .4l-2.3 .3l-2.4 .3l-2.3 .3l-2.3 .3l-2.3 .3l-2.3 .3l-2.3 .4l-2.4 .3l-2.3 .3l-2.3 .3 M788.9 325.3l-2.3 .8l-2.3 .9l-2.3 .7l-2.4 .8l-2.3 .8 M776.3 321.3l-2.3 .8l-2.3 .9l-2.3 .8l-2.4 .8l-2.3 .8 M761.4 318.3l-2.3 .8l-2.3 .8l-2.3 .8l-2.4 .8 M748.8 314.5l-2.3 .9l-2.3 .8l-2.3 .8l-2.4 .8 M736.2 310.9l-2.3 .8l-2.3 .9l-2.3 .8l-2.4 .8 M723.6 307.3l-2.3 .9l-2.3 .9l-2.3 .8l-2.4 .8 M713.3 303l-2.3 .9l-2.3 .8l-2.3 .9l-2.3 .9l-2.4 .8 M700.7 299.6l-2.3 .9l-2.3 .9l-2.3 .9l-2.3 .9l-2.4 .8 M688.1 296.3l-2.3 .9l-2.3 .9l-2.3 .9l-2.3 .9l-2.3 .9 M675.5 293.1l-2.3 .9l-2.3 .9l-2.3 .9l-2.3 .9l-2.3 .9 M665.3 289.1l-2.4 .9l-2.3 .9l-2.3 .9l-2.3 .9l-2.3 .9 M652.7 286l-2.4 .9l-2.3 1l-2.3 .9l-2.3 .9l-2.3 .9 M640.1 283l-2.4 1l-2.3 .9l-2.3 .9l-2.3 .9l-2.3 .9 M629.8 279.1l-2.3 1l-2.3 .9l-2.4 1l-2.3 .9l-2.3 .9 M617.2 276.2l-2.3 1l-2.3 1l-2.4 .9l-2.3 .9l-2.3 .9 M606.9 272.5l-2.3 .9l-2.3 1l-2.3 .9l-2.4 1l-2.3 .9 M594.3 269.7l-2.3 1l-2.3 .9l-2.3 1l-2.4 .9l-2.3 .9 M584 266l-2.3 1l-2.3 1l-2.3 .9l-2.3 1l-2.4 .9 M573.8 262.4l-2.4 1l-2.3 .9l-2.3 1l-2.3 1l-2.3 .9l-2.4 .9 M561.2 259.7l-2.4 1l-2.3 1l-2.3 1l-2.3 .9l-2.3 1 M550.9 256.2l-2.3 1l-2.4 1l-2.3 .9l-2.3 1l-2.3 1l-2.3 .9 M538.3 253.6l-2.3 1l-2.4 1l-2.3 1l-2.3 1l-2.3 .9 M528 250.1l-2.3 1.1l-2.3 1l-2.4 .9l-2.3 1l-2.3 1 M517.7 246.7l-2.3 1l-2.3 1l-2.3 1l-2.4 1l-2.3 1l-2.3 .9 M505.1 244.3l-2.3 1l-2.3 1l-2.3 1l-2.4 1l-2.3 .9 M494.8 240.9l-2.3 1l-2.3 1l-2.3 1l-2.3 1l-2.3 1 M484.6 237.5l-2.4 1.1l-2.3 1l-2.3 1l-2.3 1l-2.3 .9l-2.3 1 M474.3 234.2l-2.3 1l-2.4 1l-2.3 1.1l-2.3 1l-2.3 .9l-2.3 1 M464 230.9l-2.3 1l-2.3 1.1l-2.4 1l-2.3 1l-2.3 1l-2.3 1 M451.4 228.6l-2.3 1.1l-2.3 1l-2.4 1l-2.3 1l-2.3 1 M441.1 225.4l-2.3 1l-2.3 1.1l-2.3 1l-2.4 1l-2.3 1l-2.3 1 M430.8 222.2l-2.3 1l-2.3 1.1l-2.3 1l-2.3 1l-2.3 1l-2.4 1 M420.6 219l-2.4 1l-2.3 1.1l-2.3 1l-2.3 1l-2.3 1l-2.3 1 M410.3 215.8l-2.3 1.1l-2.4 1l-2.3 1l-2.3 1.1l-2.3 1l-2.3 1 M400 212.6l-2.3 1.1l-2.3 1.1l-2.4 1l-2.3 1l-2.3 1.1l-2.3 1 M387.4 210.6l-2.3 1l-2.3 1.1l-2.4 1l-2.3 1l-2.3 1.1 M377.1 207.5l-2.3 1l-2.3 1.1l-2.3 1l-2.3 1.1l-2.4 1l-2.3 1 M366.8 204.4l-2.3 1.1l-2.3 1l-2.3 1.1l-2.3 1l-2.3 1l-2.4 1 M356.6 201.3l-2.4 1.1l-2.3 1.1l-2.3 1l-2.3 1.1l-2.3 1l-2.3 1 M348.6 197.2l-2.3 1.1l-2.3 1.1l-2.4 1l-2.3 1.1l-2.3 1l-2.3 1.1l-2.3 1l-2.3 1l-2.4 1l-2.3 1l-2.3 1l-2.3 .9l-2.3 1l-2.3 .9l-2.4 1l-2.3 .9l-2.3 .9l-2.3 .9l-2.3 .9l-2.4 .9l-2.3 .9l-2.3 .9l-2.3 .8l-2.3 .9l-2.3 .9l-2.4 .8l-2.3 .9l-2.3 .8l-2.3 .8l-2.3 .8l-2.3 .8l-2.4 .8l-2.3 .8l-2.3 .8l-2.3 .8l-2.3 .8l-2.3 .8l-2.4 .7l-2.3 .8l-2.3 .7l-2.3 .8l-2.3 .7l-2.4 .8l-2.3 .7l-2.3 .7l-2.3 .8l-2.3 .7l-2.3 .7l-2.4 .7l-2.3 .7l-2.3 .7l-2.3 .7l-2.3 .7l-2.3 .7l-2.4 .6l-2.3 .7l-2.3 .7l-2.3 .6l-2.3 .7l-2.3 .7l-2.4 .6l-2.3 .7l-2.3 .6l-2.3 .7l-2.3 .6l-2.4 .6l-2.3 .7l-2.3 .6l-2.3 .6l-2.3 .6l-2.3 .6l-2.4 .7l-2.3 .6l-2.3 .6l-2.3 .6l-2.3 .6l-2.3 .6l-2.4 .6l-2.3 .5l-2.3 .6l-2.3 .6l-2.3 .6l-2.4 .6l-2.3 .5l-2.3 .6l-2.3 .6l-2.3 .6l-2.3 .5l-2.4 .6l-2.3 .5l-2.3 .6l-2.3 .5l-2.3 .6l-2.3 .5l-2.4 .6l-2.3 .5l-2.3 .6l-2.3 .5l-2.3 .5l-2.3 .6l-2.4 .5l-2.3 .5l-2.3 .6l-2.3 .5l-2.3 .5l-2.4 .5l-2.3 .6l-2.3 .5l-2.3 .5l-2.3 .5l-2.3 .5l-2.4 .5l-2.3 .5l-2.3 .5l-2.3 .5l-2.3 .5l-2.3 .5l-2.4 .5l-2.3 .5l-2.3 .5" stroke="#000" stroke-width="1.25" stroke-opacity="0.58" fill="none" stroke-linejoin="round"/>
<path d="M806.2 327.8l-2.4 .9l-2.3 .8l-2.3 .8l-2.3 .8 M798.2 321.9l-2.3 .9l-2.3 .8l-2.4 .9l-2.3 .8 M785.6 317.8l-2.3 .9l-2.3 .9l-2.4 .8l-2.3 .9 M773 313.8l-2.3 .9l-2.3 .9l-2.4 .9l-2.3 .9l-2.3 .9 M760.4 310l-2.3 .9l-2.3 .9l-2.4 .9l-2.3 .9l-2.3 .9 M747.8 306.3l-2.3 .9l-2.3 1l-2.4 .9l-2.3 .9l-2.3 .9 M735.2 302.7l-2.3 .9l-2.3 1l-2.4 .9l-2.3 .9l-2.3 .9 M722.6 299.2l-2.3 1l-2.3 .9l-2.4 .9l-2.3 1 M710 295.8l-2.3 1l-2.3 .9l-2.3 1l-2.4 .9 M699.7 291.5l-2.3 1l-2.3 1l-2.3 .9l-2.3 1l-2.4 .9 M687.1 288.3l-2.3 1l-2.3 1l-2.3 .9l-2.3 1l-2.4 .9 M674.5 285.1l-2.3 1l-2.3 1l-2.3 1l-2.3 1 M664.2 281.1l-2.3 1l-2.3 1l-2.3 1l-2.3 .9l-2.3 1 M651.7 278.1l-2.4 1l-2.3 1l-2.3 1l-2.3 .9l-2.3 1 M641.4 274.1l-2.3 1l-2.4 1.1l-2.3 1l-2.3 .9l-2.3 1 M628.8 271.2l-2.3 1.1l-2.4 1l-2.3 1l-2.3 1l-2.3 .9 M618.5 267.4l-2.3 1l-2.3 1.1l-2.4 1l-2.3 1l-2.3 1 M605.9 264.6l-2.3 1.1l-2.3 1l-2.4 1l-2.3 1l-2.3 1 M595.6 260.9l-2.3 1l-2.3 1.1l-2.3 1l-2.4 1l-2.3 1 M585.3 257.2l-2.3 1l-2.3 1.1l-2.3 1l-2.3 1l-2.3 1.1 M572.7 254.6l-2.3 1l-2.3 1.1l-2.3 1l-2.3 1l-2.3 1 M562.5 250.9l-2.4 1.1l-2.3 1.1l-2.3 1l-2.3 1.1l-2.3 1 M552.2 247.3l-2.3 1.1l-2.4 1.1l-2.3 1.1l-2.3 1l-2.3 1l-2.3 1 M539.6 244.9l-2.3 1.1l-2.4 1l-2.3 1.1l-2.3 1l-2.3 1 M529.3 241.4l-2.3 1.1l-2.3 1l-2.4 1.1l-2.3 1.1l-2.3 1 M519 237.9l-2.3 1.1l-2.3 1.1l-2.3 1.1l-2.3 1l-2.4 1.1l-2.3 1 M508.7 234.5l-2.3 1.1l-2.3 1.1l-2.3 1l-2.3 1.1l-2.3 1l-2.4 1.1 M496.1 232.2l-2.3 1.1l-2.3 1l-2.3 1.1l-2.3 1.1l-2.3 1 M485.9 228.8l-2.4 1.1l-2.3 1.1l-2.3 1.1l-2.3 1l-2.3 1.1 M475.6 225.4l-2.3 1.2l-2.3 1.1l-2.4 1l-2.3 1.1l-2.3 1.1 M465.3 222.1l-2.3 1.1l-2.3 1.2l-2.3 1l-2.4 1.1l-2.3 1.1l-2.3 1 M455 218.8l-2.3 1.2l-2.3 1.1l-2.3 1.1l-2.3 1.1l-2.4 1l-2.3 1.1 M444.7 215.6l-2.3 1.1l-2.3 1.1l-2.3 1.1l-2.3 1.1l-2.3 1.1l-2.4 1.1 M432.1 213.5l-2.3 1.1l-2.3 1.1l-2.3 1.1l-2.3 1.1l-2.3 1.1 M421.9 210.3l-2.3 1.1l-2.4 1.1l-2.3 1.1l-2.3 1.1l-2.3 1.1 M411.6 207.1l-2.3 1.1l-2.3 1.2l-2.4 1.1l-2.3 1.1l-2.3 1 M401.3 203.9l-2.3 1.2l-2.3 1.1l-2.3 1.1l-2.4 1.1l-2.3 1.1l-2.3 1.1 M391 200.8l-2.3 1.2l-2.3 1.1l-2.3 1.1l-2.3 1.1l-2.4 1.1l-2.3 1.1 M380.7 197.7l-2.3 1.2l-2.3 1.1l-2.3 1.1l-2.3 1.1l-2.3 1.1l-2.4 1.1 M370.5 194.6l-2.3 1.2l-2.4 1.1l-2.3 1.1l-2.3 1.2l-2.3 1.1l-2.3 1 M362.5 190.4l-2.3 1.2l-2.3 1.1l-2.3 1.2l-2.4 1.1l-2.3 1.1l-2.3 1.1" stroke="#000" stroke-width="1.25" stroke-opacity="0.61" fill="none" stroke-linejoin="round"/>
<path d="M817.7 323.4l-2.3 1l-2.3 .9l-2.3 .8l-2.3 .9l-2.3 .8 M809.8 317.2l-2.3 .9l-2.4 1l-2.3 .9l-2.3 1l-2.3 .9 M794.9 314l-2.4 .9l-2.3 1l-2.3 .9l-2.3 1 M782.3 309.9l-2.4 1l-2.3 1l-2.3 1l-2.3 .9 M769.7 306l-2.4 1.1l-2.3 .9l-2.3 1l-2.3 1 M757.1 302.3l-2.3 1l-2.4 1l-2.3 1l-2.3 1 M746.8 297.6l-2.3 1.1l-2.3 1l-2.4 1l-2.3 1l-2.3 1 M734.2 294.1l-2.3 1l-2.3 1.1l-2.4 1l-2.3 1l-2.3 1 M721.6 290.7l-2.3 1l-2.3 1.1l-2.4 1l-2.3 1l-2.3 1 M709 287.3l-2.3 1.1l-2.3 1.1l-2.4 1l-2.3 1 M698.7 283l-2.3 1.1l-2.3 1.1l-2.3 1l-2.4 1.1l-2.3 1 M686.1 279.9l-2.3 1.1l-2.3 1l-2.3 1.1l-2.4 1l-2.3 1 M675.8 275.7l-2.3 1.1l-2.3 1.1l-2.3 1.1l-2.3 1l-2.4 1.1 M663.2 272.7l-2.3 1.1l-2.3 1.1l-2.3 1.1l-2.3 1l-2.3 1.1 M653 268.7l-2.4 1.1l-2.3 1.1l-2.3 1.1l-2.3 1l-2.3 1.1 M640.4 265.8l-2.4 1.1l-2.3 1.1l-2.3 1.1l-2.3 1.1l-2.3 1 M630.1 261.9l-2.3 1.1l-2.4 1.1l-2.3 1.1l-2.3 1.1l-2.3 1.1 M617.5 259.1l-2.3 1.2l-2.4 1.1l-2.3 1.1l-2.3 1.1l-2.3 1 M607.2 255.3l-2.3 1.2l-2.3 1.1l-2.3 1.1l-2.4 1.1l-2.3 1.1 M596.9 251.5l-2.3 1.2l-2.3 1.1l-2.3 1.2l-2.3 1.1l-2.4 1.1 M584.3 249l-2.3 1.1l-2.3 1.2l-2.3 1.1l-2.3 1.1l-2.4 1.1 M574 245.3l-2.3 1.2l-2.3 1.1l-2.3 1.1l-2.3 1.1l-2.3 1.1 M563.8 241.7l-2.4 1.1l-2.3 1.2l-2.3 1.1l-2.3 1.1l-2.3 1.1 M553.5 238l-2.3 1.2l-2.3 1.2l-2.4 1.1l-2.3 1.2l-2.3 1.1l-2.3 1.1 M540.9 235.7l-2.3 1.2l-2.3 1.1l-2.4 1.1l-2.3 1.2l-2.3 1.1 M530.6 232.2l-2.3 1.1l-2.3 1.2l-2.3 1.2l-2.4 1.1l-2.3 1.1 M520.3 228.7l-2.3 1.2l-2.3 1.1l-2.3 1.2l-2.3 1.1l-2.4 1.2 M510 225.2l-2.3 1.2l-2.3 1.2l-2.3 1.2l-2.3 1.1l-2.3 1.1l-2.4 1.2 M499.8 221.8l-2.3 1.2l-2.4 1.2l-2.3 1.2l-2.3 1.1l-2.3 1.2l-2.3 1.1 M489.5 218.4l-2.3 1.2l-2.3 1.2l-2.4 1.2l-2.3 1.2l-2.3 1.1l-2.3 1.1 M476.9 216.3l-2.3 1.2l-2.3 1.2l-2.4 1.1l-2.3 1.2l-2.3 1.1 M466.6 213l-2.3 1.2l-2.3 1.2l-2.3 1.1l-2.4 1.2l-2.3 1.1 M456.3 209.7l-2.3 1.2l-2.3 1.2l-2.3 1.2l-2.3 1.1l-2.4 1.2 M446.1 206.4l-2.4 1.2l-2.3 1.2l-2.3 1.2l-2.3 1.2l-2.3 1.1l-2.4 1.2 M435.8 203.2l-2.3 1.2l-2.4 1.2l-2.3 1.2l-2.3 1.2l-2.3 1.1l-2.3 1.2 M425.5 200l-2.3 1.2l-2.3 1.2l-2.4 1.2l-2.3 1.2l-2.3 1.2l-2.3 1.1 M415.2 196.8l-2.3 1.2l-2.3 1.2l-2.3 1.2l-2.4 1.2l-2.3 1.2l-2.3 1.1 M404.9 193.6l-2.3 1.3l-2.3 1.2l-2.3 1.2l-2.3 1.2l-2.4 1.2l-2.3 1.1 M394.7 190.5l-2.4 1.2l-2.3 1.3l-2.3 1.2l-2.3 1.2l-2.3 1.1l-2.4 1.2 M384.4 187.4l-2.3 1.2l-2.4 1.3l-2.3 1.2l-2.3 1.2l-2.3 1.2l-2.3 1.1 M376.4 183l-2.3 1.3l-2.3 1.3l-2.3 1.2l-2.4 1.2l-2.3 1.2l-2.3 1.2" stroke="#000" stroke-width="1.25" stroke-opacity="0.65" fill="none" stroke-linejoin="round"/>
<path d="M829.3 318.5l-2.3 1l-2.3 1l-2.3 1l-2.3 1l-2.4 .9 M821.4 311.9l-2.4 1.1l-2.3 1.1l-2.3 1l-2.3 1l-2.3 1.1 M808.8 307.6l-2.4 1.1l-2.3 1.1l-2.3 1.1l-2.3 1l-2.3 1l-2.3 1.1 M796.2 303.4l-2.4 1.2l-2.3 1.1l-2.3 1.1l-2.3 1.1l-2.3 1l-2.3 1 M783.6 299.5l-2.3 1.1l-2.4 1.2l-2.3 1.1l-2.3 1.1l-2.3 1l-2.3 1 M771 295.7l-2.3 1.1l-2.4 1.2l-2.3 1.1l-2.3 1.1l-2.3 1l-2.3 1.1 M758.4 292l-2.3 1.2l-2.4 1.1l-2.3 1.1l-2.3 1.1l-2.3 1.1 M745.8 288.4l-2.3 1.2l-2.4 1.2l-2.3 1.1l-2.3 1.1l-2.3 1.1 M735.5 283.8l-2.3 1.2l-2.3 1.2l-2.4 1.1l-2.3 1.2l-2.3 1.1l-2.3 1.1 M722.9 280.5l-2.3 1.2l-2.3 1.2l-2.4 1.1l-2.3 1.1l-2.3 1.1l-2.3 1.1 M710.3 277.2l-2.3 1.2l-2.3 1.2l-2.4 1.2l-2.3 1.1l-2.3 1.1 M700 272.9l-2.3 1.2l-2.3 1.2l-2.3 1.2l-2.3 1.1l-2.4 1.2l-2.3 1.1 M687.4 269.8l-2.3 1.2l-2.3 1.2l-2.3 1.2l-2.3 1.2l-2.4 1.1 M677.1 265.6l-2.3 1.2l-2.3 1.3l-2.3 1.2l-2.3 1.1l-2.3 1.2l-2.4 1.1 M666.9 261.5l-2.4 1.2l-2.3 1.2l-2.3 1.3l-2.3 1.1l-2.3 1.2l-2.3 1.2 M654.3 258.6l-2.3 1.3l-2.4 1.2l-2.3 1.2l-2.3 1.2l-2.3 1.2l-2.3 1.1 M644 254.6l-2.3 1.3l-2.3 1.2l-2.4 1.2l-2.3 1.2l-2.3 1.2l-2.3 1.2 M631.4 251.9l-2.3 1.3l-2.3 1.2l-2.4 1.2l-2.3 1.2l-2.3 1.2l-2.3 1.1 M621.1 248l-2.3 1.3l-2.3 1.2l-2.3 1.3l-2.4 1.2l-2.3 1.2l-2.3 1.1 M610.8 244.2l-2.3 1.3l-2.3 1.2l-2.3 1.2l-2.3 1.3l-2.4 1.2l-2.3 1.1 M600.6 240.4l-2.4 1.3l-2.3 1.2l-2.3 1.3l-2.3 1.2l-2.3 1.2l-2.4 1.2l-2.3 1.2 M588 237.9l-2.4 1.3l-2.3 1.3l-2.3 1.2l-2.3 1.2l-2.3 1.2l-2.4 1.2 M577.7 234.2l-2.3 1.3l-2.4 1.3l-2.3 1.2l-2.3 1.3l-2.3 1.2l-2.3 1.2 M567.4 230.5l-2.3 1.3l-2.3 1.3l-2.4 1.3l-2.3 1.2l-2.3 1.2l-2.3 1.2 M557.1 226.9l-2.3 1.3l-2.3 1.3l-2.3 1.3l-2.4 1.2l-2.3 1.3l-2.3 1.2l-2.3 1.2 M546.8 223.3l-2.3 1.4l-2.3 1.3l-2.3 1.2l-2.3 1.3l-2.4 1.2l-2.3 1.3l-2.3 1.2 M534.2 221.1l-2.3 1.3l-2.3 1.3l-2.3 1.3l-2.3 1.2l-2.4 1.3l-2.3 1.2 M524 217.6l-2.4 1.4l-2.3 1.2l-2.3 1.3l-2.3 1.3l-2.3 1.2l-2.4 1.2 M513.7 214.2l-2.3 1.3l-2.4 1.3l-2.3 1.3l-2.3 1.2l-2.3 1.3l-2.3 1.2 M503.4 210.7l-2.3 1.4l-2.3 1.3l-2.4 1.3l-2.3 1.2l-2.3 1.3l-2.3 1.2 M493.1 207.4l-2.3 1.3l-2.3 1.3l-2.3 1.3l-2.4 1.3l-2.3 1.2l-2.3 1.3l-2.3 1.2 M482.8 204l-2.3 1.3l-2.3 1.4l-2.3 1.3l-2.3 1.2l-2.4 1.3l-2.3 1.2l-2.3 1.3 M472.6 200.7l-2.4 1.3l-2.3 1.3l-2.3 1.3l-2.3 1.3l-2.3 1.3l-2.4 1.2l-2.3 1.3 M462.3 197.4l-2.3 1.3l-2.4 1.3l-2.3 1.4l-2.3 1.2l-2.3 1.3l-2.3 1.3l-2.3 1.2 M452 194.1l-2.3 1.4l-2.3 1.3l-2.4 1.3l-2.3 1.3l-2.3 1.3l-2.3 1.2l-2.3 1.3 M441.7 190.9l-2.3 1.3l-2.3 1.4l-2.3 1.3l-2.4 1.3l-2.3 1.3l-2.3 1.2l-2.3 1.3 M431.4 187.7l-2.3 1.3l-2.3 1.4l-2.3 1.3l-2.3 1.3l-2.4 1.3l-2.3 1.2l-2.3 1.3 M421.2 184.5l-2.4 1.3l-2.3 1.4l-2.3 1.3l-2.3 1.3l-2.3 1.3l-2.4 1.3l-2.3 1.2 M410.9 181.3l-2.3 1.4l-2.4 1.3l-2.3 1.4l-2.3 1.3l-2.3 1.3l-2.3 1.2l-2.3 1.3 M400.6 178.2l-2.3 1.4l-2.3 1.3l-2.4 1.3l-2.3 1.4l-2.3 1.3l-2.3 1.2l-2.3 1.3 M392.6 173.7l-2.3 1.4l-2.3 1.4l-2.3 1.3l-2.3 1.3l-2.4 1.4l-2.3 1.3l-2.3 1.2" stroke="#000" stroke-width="1.25" stroke-opacity="0.68" fill="none" stroke-linejoin="round"/>
<path d="M852.5 306.5l-2.3 1.4l-2.3 1.3l-2.4 1.3l-2.3 1.2l-2.3 1.2l-2.3 1.2l-2.3 1.1l-2.3 1.2l-2.4 1l-2.3 1.1 M844.5 298.9l-2.3 1.5l-2.3 1.4l-2.3 1.4l-2.3 1.4l-2.3 1.3l-2.4 1.2l-2.3 1.3l-2.3 1.2l-2.3 1.1l-2.3 1.2 M836.6 291.4l-2.3 1.5l-2.4 1.6l-2.3 1.5l-2.3 1.4l-2.3 1.4l-2.3 1.4l-2.3 1.3l-2.4 1.3l-2.3 1.2l-2.3 1.2l-2.3 1.2l-2.3 1.2 M828.6 283.8l-2.3 1.7l-2.3 1.6l-2.3 1.6l-2.4 1.5l-2.3 1.5l-2.3 1.5l-2.3 1.4l-2.3 1.4l-2.3 1.3l-2.4 1.3l-2.3 1.2l-2.3 1.3l-2.3 1.2l-2.3 1.1 M820.6 276.2l-2.3 1.8l-2.3 1.8l-2.3 1.6l-2.3 1.7l-2.3 1.6l-2.4 1.5l-2.3 1.5l-2.3 1.5l-2.3 1.4l-2.3 1.3l-2.3 1.4l-2.4 1.3l-2.3 1.3l-2.3 1.2l-2.3 1.2l-2.3 1.2 M812.7 268.6l-2.3 1.9l-2.3 1.9l-2.4 1.8l-2.3 1.7l-2.3 1.7l-2.3 1.6l-2.3 1.6l-2.4 1.6l-2.3 1.4l-2.3 1.5l-2.3 1.4l-2.3 1.4l-2.3 1.3l-2.4 1.3l-2.3 1.3l-2.3 1.3l-2.3 1.2l-2.3 1.2 M804.7 261l-2.3 2.1l-2.3 1.9l-2.3 1.9l-2.3 1.9l-2.4 1.7l-2.3 1.8l-2.3 1.6l-2.3 1.6l-2.3 1.6l-2.3 1.6l-2.4 1.4l-2.3 1.5l-2.3 1.4l-2.3 1.4l-2.3 1.3l-2.4 1.4l-2.3 1.2l-2.3 1.3l-2.3 1.2l-2.3 1.2 M796.8 253.5l-2.4 2.1l-2.3 2.1l-2.3 2l-2.3 1.9l-2.3 1.9l-2.3 1.8l-2.4 1.7l-2.3 1.7l-2.3 1.7l-2.3 1.6l-2.3 1.6l-2.3 1.5l-2.4 1.5l-2.3 1.4l-2.3 1.5l-2.3 1.3l-2.3 1.4l-2.4 1.3l-2.3 1.3l-2.3 1.2l-2.3 1.3l-2.3 1.1 M788.8 245.9l-2.3 2.2l-2.3 2.2l-2.4 2.1l-2.3 2l-2.3 2l-2.3 1.9l-2.3 1.9l-2.3 1.7l-2.4 1.8l-2.3 1.7l-2.3 1.6l-2.3 1.6l-2.3 1.6l-2.3 1.5l-2.4 1.5l-2.3 1.4l-2.3 1.4l-2.3 1.4l-2.3 1.3l-2.4 1.3l-2.3 1.3l-2.3 1.3l-2.3 1.2 M780.8 238.3l-2.3 2.4l-2.3 2.3l-2.3 2.2l-2.3 2.1l-2.4 2l-2.3 2l-2.3 2l-2.3 1.8l-2.3 1.9l-2.3 1.7l-2.4 1.8l-2.3 1.6l-2.3 1.7l-2.3 1.5l-2.3 1.6l-2.3 1.5l-2.4 1.5l-2.3 1.4l-2.3 1.4l-2.3 1.4l-2.3 1.3l-2.3 1.3l-2.4 1.3l-2.3 1.3l-2.3 1.2 M772.9 230.8l-2.3 2.4l-2.4 2.4l-2.3 2.3l-2.3 2.2l-2.3 2.2l-2.3 2.1l-2.3 2l-2.4 1.9l-2.3 1.9l-2.3 1.9l-2.3 1.8l-2.3 1.7l-2.4 1.7l-2.3 1.7l-2.3 1.6l-2.3 1.6l-2.3 1.5l-2.3 1.5l-2.4 1.5l-2.3 1.4l-2.3 1.4l-2.3 1.4l-2.3 1.3l-2.3 1.3l-2.4 1.3l-2.3 1.2l-2.3 1.2 M764.9 223.2l-2.3 2.5l-2.3 2.5l-2.3 2.4l-2.4 2.4l-2.3 2.2l-2.3 2.2l-2.3 2.1l-2.3 2l-2.3 2l-2.4 1.9l-2.3 1.9l-2.3 1.8l-2.3 1.8l-2.3 1.7l-2.3 1.7l-2.4 1.7l-2.3 1.6l-2.3 1.5l-2.3 1.5l-2.3 1.5l-2.4 1.5l-2.3 1.4l-2.3 1.4l-2.3 1.3l-2.3 1.4l-2.3 1.3l-2.4 1.2l-2.3 1.3 M757 215.6l-2.4 2.7l-2.3 2.6l-2.3 2.5l-2.3 2.4l-2.3 2.3l-2.4 2.3l-2.3 2.2l-2.3 2.1l-2.3 2.1l-2.3 2l-2.3 2l-2.4 1.9l-2.3 1.8l-2.3 1.8l-2.3 1.7l-2.3 1.7l-2.3 1.7l-2.4 1.6l-2.3 1.6l-2.3 1.6l-2.3 1.5l-2.3 1.4l-2.4 1.5l-2.3 1.4l-2.3 1.4l-2.3 1.3l-2.3 1.3l-2.3 1.3l-2.4 1.3l-2.3 1.2 M749 208l-2.3 2.8l-2.3 2.7l-2.4 2.6l-2.3 2.5l-2.3 2.5l-2.3 2.3l-2.3 2.3l-2.4 2.2l-2.3 2.2l-2.3 2.1l-2.3 2l-2.3 2l-2.3 1.9l-2.4 1.8l-2.3 1.9l-2.3 1.7l-2.3 1.8l-2.3 1.6l-2.3 1.7l-2.4 1.6l-2.3 1.5l-2.3 1.6l-2.3 1.5l-2.3 1.4l-2.4 1.4l-2.3 1.4l-2.3 1.4l-2.3 1.4l-2.3 1.3l-2.3 1.2l-2.4 1.3 M741 200.5l-2.3 2.9l-2.3 2.8l-2.3 2.7l-2.3 2.6l-2.4 2.5l-2.3 2.5l-2.3 2.3l-2.3 2.3l-2.3 2.3l-2.4 2.1l-2.3 2.1l-2.3 2.1l-2.3 2l-2.3 1.9l-2.3 1.9l-2.4 1.8l-2.3 1.8l-2.3 1.7l-2.3 1.7l-2.3 1.7l-2.3 1.6l-2.4 1.6l-2.3 1.5l-2.3 1.6l-2.3 1.4l-2.3 1.5l-2.3 1.4l-2.4 1.4l-2.3 1.3l-2.3 1.4l-2.3 1.3l-2.3 1.3 M733.1 192.9l-2.4 3l-2.3 2.9l-2.3 2.8l-2.3 2.7l-2.3 2.6l-2.3 2.6l-2.4 2.4l-2.3 2.4l-2.3 2.3l-2.3 2.3l-2.3 2.2l-2.3 2.1l-2.4 2l-2.3 2l-2.3 2l-2.3 1.9l-2.3 1.8l-2.4 1.8l-2.3 1.8l-2.3 1.7l-2.3 1.7l-2.3 1.6l-2.3 1.6l-2.4 1.6l-2.3 1.5l-2.3 1.5l-2.3 1.5l-2.3 1.4l-2.3 1.4l-2.4 1.4l-2.3 1.3l-2.3 1.4l-2.3 1.3l-2.3 1.2 M725.1 185.3l-2.3 3.1l-2.3 3l-2.4 2.9l-2.3 2.9l-2.3 2.7l-2.3 2.6l-2.3 2.6l-2.3 2.4l-2.4 2.4l-2.3 2.3l-2.3 2.3l-2.3 2.2l-2.3 2.1l-2.3 2.1l-2.4 2l-2.3 2l-2.3 1.9l-2.3 1.9l-2.3 1.8l-2.3 1.7l-2.4 1.8l-2.3 1.7l-2.3 1.6l-2.3 1.6l-2.3 1.6l-2.4 1.6l-2.3 1.5l-2.3 1.5l-2.3 1.4l-2.3 1.4l-2.3 1.4l-2.4 1.4l-2.3 1.3l-2.3 1.3l-2.3 1.3 M717.1 177.7l-2.3 3.3l-2.3 3.1l-2.3 3l-2.3 2.9l-2.3 2.8l-2.4 2.7l-2.3 2.7l-2.3 2.5l-2.3 2.5l-2.3 2.4l-2.4 2.3l-2.3 2.3l-2.3 2.2l-2.3 2.1l-2.3 2.1l-2.3 2.1l-2.4 1.9l-2.3 2l-2.3 1.8l-2.3 1.9l-2.3 1.8l-2.3 1.7l-2.4 1.7l-2.3 1.7l-2.3 1.6l-2.3 1.6l-2.3 1.6l-2.4 1.5l-2.3 1.5l-2.3 1.4l-2.3 1.5l-2.3 1.4l-2.3 1.4l-2.4 1.3l-2.3 1.3l-2.3 1.3l-2.3 1.3 M709.2 170.1l-2.3 3.4l-2.4 3.2l-2.3 3.1l-2.3 3l-2.3 2.9l-2.3 2.9l-2.3 2.7l-2.4 2.6l-2.3 2.6l-2.3 2.5l-2.3 2.4l-2.3 2.3l-2.4 2.3l-2.3 2.2l-2.3 2.1l-2.3 2.1l-2.3 2.1l-2.3 2l-2.4 1.9l-2.3 1.9l-2.3 1.8l-2.3 1.8l-2.3 1.8l-2.3 1.7l-2.4 1.7l-2.3 1.6l-2.3 1.7l-2.3 1.5l-2.3 1.6l-2.4 1.5l-2.3 1.5l-2.3 1.4l-2.3 1.4l-2.3 1.4l-2.3 1.4l-2.4 1.3l-2.3 1.3l-2.3 1.3 M701.2 162.6l-2.3 3.4l-2.3 3.4l-2.3 3.2l-2.4 3.1l-2.3 3l-2.3 2.9l-2.3 2.8l-2.3 2.7l-2.3 2.7l-2.4 2.5l-2.3 2.5l-2.3 2.4l-2.3 2.4l-2.3 2.2l-2.4 2.3l-2.3 2.1l-2.3 2.1l-2.3 2.1l-2.3 2l-2.3 1.9l-2.4 1.9l-2.3 1.9l-2.3 1.8l-2.3 1.8l-2.3 1.7l-2.3 1.7l-2.4 1.6l-2.3 1.7l-2.3 1.5l-2.3 1.6l-2.3 1.5l-2.3 1.5l-2.4 1.5l-2.3 1.4l-2.3 1.4l-2.3 1.4l-2.3 1.3l-2.4 1.4l-2.3 1.3 M693.2 155l-2.3 3.6l-2.3 3.4l-2.3 3.3l-2.3 3.2l-2.3 3.1l-2.4 3l-2.3 2.9l-2.3 2.8l-2.3 2.7l-2.3 2.7l-2.3 2.5l-2.4 2.5l-2.3 2.4l-2.3 2.4l-2.3 2.3l-2.3 2.2l-2.3 2.2l-2.4 2.1l-2.3 2l-2.3 2.1l-2.3 1.9l-2.3 1.9l-2.4 1.9l-2.3 1.8l-2.3 1.8l-2.3 1.7l-2.3 1.7l-2.3 1.7l-2.4 1.6l-2.3 1.6l-2.3 1.6l-2.3 1.5l-2.3 1.5l-2.3 1.5l-2.4 1.4l-2.3 1.5l-2.3 1.3l-2.3 1.4l-2.3 1.4l-2.3 1.3 M685.3 147.4l-2.3 3.7l-2.3 3.5l-2.4 3.5l-2.3 3.3l-2.3 3.1l-2.3 3.1l-2.3 3l-2.4 2.9l-2.3 2.8l-2.3 2.7l-2.3 2.7l-2.3 2.5l-2.3 2.5l-2.4 2.4l-2.3 2.4l-2.3 2.3l-2.3 2.2l-2.3 2.2l-2.3 2.1l-2.4 2.1l-2.3 2l-2.3 2l-2.3 1.9l-2.3 1.8l-2.3 1.9l-2.4 1.8l-2.3 1.7l-2.3 1.7l-2.3 1.7l-2.3 1.6l-2.4 1.7l-2.3 1.5l-2.3 1.6l-2.3 1.5l-2.3 1.5l-2.3 1.4l-2.4 1.5l-2.3 1.4l-2.3 1.3l-2.3 1.4l-2.3 1.3l-2.3 1.3 M677.3 139.9l-2.3 3.7l-2.3 3.7l-2.3 3.5l-2.3 3.4l-2.4 3.3l-2.3 3.2l-2.3 3l-2.3 3l-2.3 2.9l-2.3 2.8l-2.4 2.7l-2.3 2.6l-2.3 2.6l-2.3 2.5l-2.3 2.4l-2.4 2.4l-2.3 2.3l-2.3 2.2l-2.3 2.2l-2.3 2.1l-2.3 2.1l-2.4 2l-2.3 2l-2.3 1.9l-2.3 1.9l-2.3 1.8l-2.3 1.8l-2.4 1.8l-2.3 1.7l-2.3 1.7l-2.3 1.6l-2.3 1.6l-2.4 1.6l-2.3 1.6l-2.3 1.5l-2.3 1.5l-2.3 1.5l-2.3 1.4l-2.4 1.4l-2.3 1.4l-2.3 1.4l-2.3 1.3l-2.3 1.3 M669.4 132.3l-2.4 3.9l-2.3 3.7l-2.3 3.6l-2.3 3.5l-2.3 3.4l-2.3 3.3l-2.4 3.1l-2.3 3.1l-2.3 3l-2.3 2.9l-2.3 2.7l-2.3 2.8l-2.4 2.6l-2.3 2.5l-2.3 2.5l-2.3 2.5l-2.3 2.3l-2.4 2.3l-2.3 2.2l-2.3 2.2l-2.3 2.2l-2.3 2l-2.3 2.1l-2.4 1.9l-2.3 2l-2.3 1.9l-2.3 1.8l-2.3 1.8l-2.3 1.8l-2.4 1.7l-2.3 1.7l-2.3 1.7l-2.3 1.6l-2.3 1.6l-2.4 1.5l-2.3 1.6l-2.3 1.5l-2.3 1.4l-2.3 1.5l-2.3 1.4l-2.4 1.4l-2.3 1.4l-2.3 1.3l-2.3 1.3 M661.4 124.7l-2.3 4l-2.3 3.9l-2.4 3.7l-2.3 3.6l-2.3 3.4l-2.3 3.4l-2.3 3.3l-2.3 3.1l-2.4 3.1l-2.3 2.9l-2.3 2.9l-2.3 2.8l-2.3 2.7l-2.3 2.6l-2.4 2.6l-2.3 2.4l-2.3 2.5l-2.3 2.3l-2.3 2.3l-2.4 2.3l-2.3 2.1l-2.3 2.2l-2.3 2l-2.3 2.1l-2.3 2l-2.4 1.9l-2.3 1.9l-2.3 1.8l-2.3 1.9l-2.3 1.7l-2.3 1.8l-2.4 1.7l-2.3 1.6l-2.3 1.7l-2.3 1.6l-2.3 1.5l-2.3 1.6l-2.4 1.5l-2.3 1.5l-2.3 1.4l-2.3 1.5l-2.3 1.4l-2.4 1.3l-2.3 1.4l-2.3 1.3 M653.4 117.1l-2.3 4.1l-2.3 4l-2.3 3.8l-2.3 3.7l-2.4 3.6l-2.3 3.4l-2.3 3.4l-2.3 3.2l-2.3 3.1l-2.3 3.1l-2.4 2.9l-2.3 2.9l-2.3 2.7l-2.3 2.7l-2.3 2.7l-2.3 2.5l-2.4 2.5l-2.3 2.4l-2.3 2.4l-2.3 2.3l-2.3 2.2l-2.3 2.2l-2.4 2.1l-2.3 2.1l-2.3 2l-2.3 2l-2.3 2l-2.4 1.9l-2.3 1.8l-2.3 1.8l-2.3 1.8l-2.3 1.8l-2.3 1.7l-2.4 1.7l-2.3 1.6l-2.3 1.6l-2.3 1.6l-2.3 1.5l-2.3 1.5l-2.4 1.5l-2.3 1.5l-2.3 1.4l-2.3 1.5l-2.3 1.3l-2.3 1.4l-2.4 1.3 M645.5 109.5l-2.3 4.3l-2.4 4l-2.3 4l-2.3 3.8l-2.3 3.6l-2.3 3.6l-2.3 3.4l-2.4 3.3l-2.3 3.2l-2.3 3.1l-2.3 3l-2.3 3l-2.4 2.8l-2.3 2.8l-2.3 2.7l-2.3 2.6l-2.3 2.5l-2.3 2.5l-2.4 2.4l-2.3 2.4l-2.3 2.3l-2.3 2.2l-2.3 2.2l-2.3 2.2l-2.4 2l-2.3 2.1l-2.3 2l-2.3 1.9l-2.3 1.9l-2.3 1.9l-2.4 1.8l-2.3 1.8l-2.3 1.7l-2.3 1.7l-2.3 1.7l-2.4 1.7l-2.3 1.6l-2.3 1.6l-2.3 1.5l-2.3 1.5l-2.3 1.5l-2.4 1.5l-2.3 1.5l-2.3 1.4l-2.3 1.4l-2.3 1.4l-2.3 1.3l-2.4 1.3 M637.5 102l-2.3 4.3l-2.3 4.2l-2.3 4l-2.4 3.9l-2.3 3.7l-2.3 3.7l-2.3 3.5l-2.3 3.4l-2.3 3.3l-2.4 3.2l-2.3 3.1l-2.3 3l-2.3 2.9l-2.3 2.8l-2.3 2.8l-2.4 2.7l-2.3 2.6l-2.3 2.5l-2.3 2.5l-2.3 2.4l-2.4 2.4l-2.3 2.3l-2.3 2.2l-2.3 2.2l-2.3 2.1l-2.3 2.1l-2.4 2.1l-2.3 1.9l-2.3 2l-2.3 1.9l-2.3 1.9l-2.3 1.8l-2.4 1.8l-2.3 1.7l-2.3 1.8l-2.3 1.6l-2.3 1.7l-2.4 1.6l-2.3 1.6l-2.3 1.6l-2.3 1.5l-2.3 1.5l-2.3 1.5l-2.4 1.4l-2.3 1.5l-2.3 1.4l-2.3 1.3l-2.3 1.4l-2.3 1.3 M629.6 94.4l-2.4 4.4l-2.3 4.3l-2.3 4.1l-2.3 4l-2.3 3.9l-2.4 3.7l-2.3 3.6l-2.3 3.5l-2.3 3.4l-2.3 3.2l-2.3 3.2l-2.4 3.1l-2.3 3l-2.3 2.9l-2.3 2.8l-2.3 2.8l-2.3 2.6l-2.4 2.6l-2.3 2.6l-2.3 2.5l-2.3 2.4l-2.3 2.3l-2.4 2.3l-2.3 2.2l-2.3 2.2l-2.3 2.2l-2.3 2l-2.3 2.1l-2.4 2l-2.3 1.9l-2.3 1.9l-2.3 1.9l-2.3 1.8l-2.3 1.8l-2.4 1.8l-2.3 1.7l-2.3 1.7l-2.3 1.7l-2.3 1.6l-2.4 1.6l-2.3 1.5l-2.3 1.6l-2.3 1.5l-2.3 1.5l-2.3 1.4l-2.4 1.5l-2.3 1.4l-2.3 1.4l-2.3 1.3l-2.3 1.4 M621.6 86.8l-2.3 4.6l-2.3 4.4l-2.4 4.2l-2.3 4.1l-2.3 3.9l-2.3 3.8l-2.3 3.7l-2.4 3.6l-2.3 3.4l-2.3 3.4l-2.3 3.3l-2.3 3.1l-2.3 3.1l-2.4 2.9l-2.3 2.9l-2.3 2.9l-2.3 2.7l-2.3 2.7l-2.3 2.5l-2.4 2.6l-2.3 2.4l-2.3 2.4l-2.3 2.4l-2.3 2.3l-2.4 2.2l-2.3 2.2l-2.3 2.1l-2.3 2.1l-2.3 2.1l-2.3 2l-2.4 1.9l-2.3 1.9l-2.3 1.9l-2.3 1.8l-2.3 1.8l-2.3 1.8l-2.4 1.7l-2.3 1.7l-2.3 1.7l-2.3 1.6l-2.3 1.6l-2.3 1.6l-2.4 1.5l-2.3 1.5l-2.3 1.5l-2.3 1.5l-2.3 1.4l-2.4 1.4l-2.3 1.4l-2.3 1.4l-2.3 1.3 M613.6 79.2l-2.3 4.7l-2.3 4.5l-2.3 4.3l-2.3 4.2l-2.4 4.1l-2.3 3.9l-2.3 3.7l-2.3 3.7l-2.3 3.5l-2.4 3.5l-2.3 3.3l-2.3 3.2l-2.3 3.1l-2.3 3.1l-2.3 3l-2.4 2.8l-2.3 2.8l-2.3 2.8l-2.3 2.6l-2.3 2.6l-2.3 2.5l-2.4 2.5l-2.3 2.4l-2.3 2.3l-2.3 2.3l-2.3 2.2l-2.3 2.2l-2.4 2.2l-2.3 2l-2.3 2.1l-2.3 2l-2.3 1.9l-2.4 1.9l-2.3 1.9l-2.3 1.8l-2.3 1.8l-2.3 1.8l-2.3 1.7l-2.4 1.7l-2.3 1.7l-2.3 1.6l-2.3 1.6l-2.3 1.6l-2.3 1.6l-2.4 1.5l-2.3 1.5l-2.3 1.5l-2.3 1.4l-2.3 1.4l-2.3 1.4l-2.4 1.4l-2.3 1.4 M605.7 71.7l-2.4 4.7l-2.3 4.6l-2.3 4.5l-2.3 4.3l-2.3 4.1l-2.3 4l-2.4 3.8l-2.3 3.8l-2.3 3.6l-2.3 3.5l-2.3 3.4l-2.3 3.3l-2.4 3.2l-2.3 3.1l-2.3 3.1l-2.3 2.9l-2.3 2.9l-2.4 2.8l-2.3 2.7l-2.3 2.6l-2.3 2.6l-2.3 2.5l-2.3 2.5l-2.4 2.4l-2.3 2.3l-2.3 2.3l-2.3 2.2l-2.3 2.2l-2.3 2.1l-2.4 2.1l-2.3 2l-2.3 2l-2.3 2l-2.3 1.9l-2.3 1.9l-2.4 1.8l-2.3 1.8l-2.3 1.8l-2.3 1.7l-2.3 1.7l-2.4 1.7l-2.3 1.6l-2.3 1.6l-2.3 1.6l-2.3 1.6l-2.3 1.5l-2.4 1.5l-2.3 1.5l-2.3 1.4l-2.3 1.4l-2.3 1.5l-2.3 1.3l-2.4 1.4 M597.7 64.1l-2.3 4.9l-2.3 4.7l-2.4 4.5l-2.3 4.4l-2.3 4.2l-2.3 4.1l-2.3 4l-2.3 3.8l-2.4 3.7l-2.3 3.6l-2.3 3.5l-2.3 3.3l-2.3 3.3l-2.3 3.2l-2.4 3.1l-2.3 3l-2.3 2.9l-2.3 2.9l-2.3 2.7l-2.3 2.8l-2.4 2.6l-2.3 2.6l-2.3 2.5l-2.3 2.4l-2.3 2.4l-2.4 2.3l-2.3 2.3l-2.3 2.2l-2.3 2.2l-2.3 2.1l-2.3 2.1l-2.4 2l-2.3 2l-2.3 2l-2.3 1.9l-2.3 1.9l-2.3 1.8l-2.4 1.8l-2.3 1.8l-2.3 1.7l-2.3 1.7l-2.3 1.7l-2.4 1.7l-2.3 1.6l-2.3 1.5l-2.3 1.6l-2.3 1.5l-2.3 1.5l-2.4 1.5l-2.3 1.5l-2.3 1.4l-2.3 1.4l-2.3 1.4l-2.3 1.4 M589.7 56.5l-2.3 5l-2.3 4.8l-2.3 4.7l-2.3 4.4l-2.3 4.4l-2.4 4.1l-2.3 4.1l-2.3 3.9l-2.3 3.8l-2.3 3.6l-2.4 3.6l-2.3 3.4l-2.3 3.4l-2.3 3.2l-2.3 3.2l-2.3 3.1l-2.4 3l-2.3 2.9l-2.3 2.8l-2.3 2.8l-2.3 2.7l-2.3 2.6l-2.4 2.5l-2.3 2.5l-2.3 2.5l-2.3 2.4l-2.3 2.3l-2.4 2.3l-2.3 2.2l-2.3 2.1l-2.3 2.2l-2.3 2.1l-2.3 2l-2.4 2l-2.3 1.9l-2.3 2l-2.3 1.8l-2.3 1.9l-2.3 1.8l-2.4 1.7l-2.3 1.8l-2.3 1.7l-2.3 1.7l-2.3 1.6l-2.4 1.6l-2.3 1.6l-2.3 1.6l-2.3 1.5l-2.3 1.5l-2.3 1.5l-2.4 1.5l-2.3 1.4l-2.3 1.4l-2.3 1.4l-2.3 1.4 M581.8 49l-2.3 5l-2.4 5l-2.3 4.7l-2.3 4.6l-2.3 4.4l-2.3 4.3l-2.3 4.1l-2.4 4l-2.3 3.8l-2.3 3.8l-2.3 3.6l-2.3 3.6l-2.4 3.4l-2.3 3.3l-2.3 3.2l-2.3 3.2l-2.3 3l-2.3 3l-2.4 2.9l-2.3 2.8l-2.3 2.7l-2.3 2.7l-2.3 2.6l-2.3 2.6l-2.4 2.5l-2.3 2.4l-2.3 2.4l-2.3 2.3l-2.3 2.3l-2.4 2.2l-2.3 2.1l-2.3 2.2l-2.3 2l-2.3 2.1l-2.3 2l-2.4 1.9l-2.3 1.9l-2.3 1.9l-2.3 1.9l-2.3 1.8l-2.3 1.7l-2.4 1.8l-2.3 1.7l-2.3 1.7l-2.3 1.6l-2.3 1.6l-2.3 1.6l-2.4 1.6l-2.3 1.5l-2.3 1.5l-2.3 1.5l-2.3 1.5l-2.4 1.4l-2.3 1.4l-2.3 1.4l-2.3 1.4 M573.8 41.4l-2.3 5.2l-2.3 5l-2.3 4.8l-2.4 4.7l-2.3 4.5l-2.3 4.4l-2.3 4.2l-2.3 4.1l-2.3 3.9l-2.4 3.9l-2.3 3.7l-2.3 3.6l-2.3 3.5l-2.3 3.3l-2.4 3.3l-2.3 3.2l-2.3 3.2l-2.3 3l-2.3 2.9l-2.3 2.9l-2.4 2.8l-2.3 2.8l-2.3 2.6l-2.3 2.6l-2.3 2.6l-2.3 2.4l-2.4 2.5l-2.3 2.3l-2.3 2.3l-2.3 2.3l-2.3 2.2l-2.3 2.2l-2.4 2.1l-2.3 2.1l-2.3 2l-2.3 2l-2.3 1.9l-2.4 2l-2.3 1.8l-2.3 1.9l-2.3 1.8l-2.3 1.8l-2.3 1.7l-2.4 1.7l-2.3 1.7l-2.3 1.6l-2.3 1.7l-2.3 1.5l-2.3 1.6l-2.4 1.6l-2.3 1.5l-2.3 1.5l-2.3 1.4l-2.3 1.5l-2.3 1.4l-2.4 1.4l-2.3 1.4 M565.8 33.8l-2.3 5.3l-2.3 5.1l-2.3 5l-2.3 4.8l-2.3 4.6l-2.4 4.4l-2.3 4.3l-2.3 4.2l-2.3 4l-2.3 3.9l-2.3 3.8l-2.4 3.7l-2.3 3.5l-2.3 3.5l-2.3 3.4l-2.3 3.2l-2.3 3.2l-2.4 3.1l-2.3 3l-2.3 3l-2.3 2.8l-2.3 2.8l-2.4 2.7l-2.3 2.7l-2.3 2.6l-2.3 2.5l-2.3 2.4l-2.3 2.5l-2.4 2.3l-2.3 2.3l-2.3 2.3l-2.3 2.2l-2.3 2.1l-2.3 2.2l-2.4 2l-2.3 2.1l-2.3 2l-2.3 1.9l-2.3 1.9l-2.3 1.9l-2.4 1.8l-2.3 1.8l-2.3 1.8l-2.3 1.7l-2.3 1.8l-2.4 1.6l-2.3 1.7l-2.3 1.6l-2.3 1.6l-2.3 1.6l-2.3 1.5l-2.4 1.5l-2.3 1.5l-2.3 1.5l-2.3 1.4l-2.3 1.5l-2.3 1.4l-2.4 1.4 M557.9 26.2l-2.3 5.5l-2.3 5.2l-2.4 5l-2.3 4.9l-2.3 4.7l-2.3 4.5l-2.3 4.4l-2.4 4.3l-2.3 4.1l-2.3 4l-2.3 3.8l-2.3 3.8l-2.3 3.6l-2.4 3.5l-2.3 3.5l-2.3 3.3l-2.3 3.3l-2.3 3.1l-2.3 3.1l-2.4 3l-2.3 2.9l-2.3 2.8l-2.3 2.8l-2.3 2.7l-2.3 2.6l-2.4 2.6l-2.3 2.5l-2.3 2.5l-2.3 2.4l-2.3 2.4l-2.4 2.2l-2.3 2.3l-2.3 2.2l-2.3 2.2l-2.3 2.1l-2.3 2l-2.4 2.1l-2.3 1.9l-2.3 2l-2.3 1.9l-2.3 1.9l-2.3 1.8l-2.4 1.8l-2.3 1.8l-2.3 1.7l-2.3 1.7l-2.3 1.7l-2.4 1.7l-2.3 1.6l-2.3 1.6l-2.3 1.6l-2.3 1.5l-2.3 1.5l-2.4 1.5l-2.3 1.5l-2.3 1.5l-2.3 1.4l-2.3 1.4l-2.3 1.4 M549.9 18.7l-2.3 5.5l-2.3 5.3l-2.3 5.2l-2.3 4.9l-2.4 4.8l-2.3 4.7l-2.3 4.4l-2.3 4.4l-2.3 4.2l-2.3 4l-2.4 4l-2.3 3.8l-2.3 3.7l-2.3 3.6l-2.3 3.5l-2.4 3.4l-2.3 3.3l-2.3 3.2l-2.3 3.1l-2.3 3.1l-2.3 3l-2.4 2.9l-2.3 2.8l-2.3 2.7l-2.3 2.7l-2.3 2.7l-2.3 2.5l-2.4 2.5l-2.3 2.5l-2.3 2.4l-2.3 2.3l-2.3 2.3l-2.4 2.2l-2.3 2.2l-2.3 2.2l-2.3 2.1l-2.3 2.1l-2.3 2l-2.4 2l-2.3 1.9l-2.3 1.9l-2.3 1.9l-2.3 1.8l-2.3 1.8l-2.4 1.8l-2.3 1.8l-2.3 1.7l-2.3 1.6l-2.3 1.7l-2.4 1.6l-2.3 1.6l-2.3 1.6l-2.3 1.5l-2.3 1.6l-2.3 1.5l-2.4 1.4l-2.3 1.5l-2.3 1.4l-2.3 1.4l-2.3 1.4 M542 11.1l-2.4 5.6l-2.3 5.5l-2.3 5.2l-2.3 5.1l-2.3 4.9l-2.3 4.7l-2.4 4.5l-2.3 4.5l-2.3 4.2l-2.3 4.2l-2.3 4l-2.3 3.9l-2.4 3.8l-2.3 3.6l-2.3 3.6l-2.3 3.5l-2.3 3.3l-2.4 3.3l-2.3 3.2l-2.3 3.1l-2.3 3.1l-2.3 2.9l-2.3 2.9l-2.4 2.8l-2.3 2.7l-2.3 2.7l-2.3 2.6l-2.3 2.6l-2.3 2.5l-2.4 2.4l-2.3 2.4l-2.3 2.3l-2.3 2.3l-2.3 2.2l-2.4 2.2l-2.3 2.2l-2.3 2.1l-2.3 2l-2.3 2.1l-2.3 1.9l-2.4 2l-2.3 1.9l-2.3 1.9l-2.3 1.8l-2.3 1.8l-2.3 1.8l-2.4 1.7l-2.3 1.7l-2.3 1.7l-2.3 1.7l-2.3 1.6l-2.3 1.6l-2.4 1.5l-2.3 1.6l-2.3 1.5l-2.3 1.5l-2.3 1.5l-2.4 1.5l-2.3 1.4l-2.3 1.4l-2.3 1.4 M534 3.5l-2.3 5.8l-2.3 5.5l-2.4 5.4l-2.3 5.1l-2.3 5l-2.3 4.8l-2.3 4.7l-2.3 4.5l-2.4 4.3l-2.3 4.2l-2.3 4.1l-2.3 4l-2.3 3.9l-2.3 3.7l-2.4 3.6l-2.3 3.6l-2.3 3.4l-2.3 3.3l-2.3 3.3l-2.4 3.2l-2.3 3l-2.3 3l-2.3 3l-2.3 2.8l-2.3 2.8l-2.4 2.7l-2.3 2.7l-2.3 2.6l-2.3 2.5l-2.3 2.5l-2.3 2.5l-2.4 2.3l-2.3 2.4l-2.3 2.2l-2.3 2.3l-2.3 2.1l-2.3 2.2l-2.4 2.1l-2.3 2l-2.3 2l-2.3 2l-2.3 2l-2.4 1.9l-2.3 1.8l-2.3 1.9l-2.3 1.8l-2.3 1.7l-2.3 1.8l-2.4 1.7l-2.3 1.7l-2.3 1.6l-2.3 1.7l-2.3 1.6l-2.3 1.5l-2.4 1.6l-2.3 1.5l-2.3 1.5l-2.3 1.5l-2.3 1.4l-2.3 1.5l-2.4 1.4" stroke="#000" stroke-width="1.25" stroke-opacity="0.72" fill="none" stroke-linejoin="round"/>
<path d="M70.5 281 L389 404.8" stroke="#000" stroke-width="1" stroke-opacity=".6" fill="none"/>
</g>
<path d="M70.5 337 L70.5 57 M70.5 337 L389 416 M389 416 L852.5 362.5 M70.5 337 L58.9 334.1 M70.5 281 L58.9 278.1 M70.5 225 L58.9 222.1 M70.5 169 L58.9 166.1 M70.5 113 L58.9 110.1 M70.5 57 L58.9 54.1 M70.5 337 L58.6 338.4 M150.1 356.8 L138.2 358.1 M229.8 376.5 L217.8 377.9 M309.4 396.2 L297.5 397.6 M389 416 L377.1 417.4 M389 416 L400.6 418.9 M504.9 402.6 L516.5 405.5 M620.8 389.2 L632.4 392.1 M736.6 375.9 L748.3 378.8 M852.5 362.5 L864.1 365.4" stroke="#484848" stroke-width=".6" fill="none"/>
<g font-family="'Liberation Sans', Arial, sans-serif" font-size="21.2" fill="#1a1a1a" stroke="#1a1a1a" stroke-width=".3">
<text x="53.3" y="342.1" text-anchor="end">0</text>
<text x="53.3" y="286.1" text-anchor="end">5</text>
<text x="53.3" y="230.1" text-anchor="end">10</text>
<text x="53.3" y="174.1" text-anchor="end">15</text>
<text x="53.3" y="118.1" text-anchor="end">20</text>
<text x="53.3" y="62.1" text-anchor="end">25</text>
<text x="52.9" y="362.1" text-anchor="end">0.5</text>
<text x="132.5" y="381.9" text-anchor="end">0.4</text>
<text x="212.2" y="401.6" text-anchor="end">0.3</text>
<text x="291.8" y="421.4" text-anchor="end">0.2</text>
<text x="369.9" y="439.6" text-anchor="end">0.1</text>
<text x="405.7" y="441.1">2.5</text>
<text x="521.6" y="427.7">2</text>
<text x="637.5" y="414.4">1.5</text>
<text x="753.3" y="401">1</text>
<text x="869.2" y="387.6">0.5</text>
</g>
<g font-family="'Liberation Sans', Arial, sans-serif" font-size="23.3" fill="#1a1a1a" stroke="#1a1a1a" stroke-width=".3">
<text x="176.8" y="457.7">Power <tspan dx="0.5" dy="-1" font-family="'Liberation Serif', 'Times New Roman', serif" font-style="italic" stroke="none" font-size="22.5">(p.u.)</tspan></text>
<text x="571" y="463.9">RoCoF <tspan dx="-2" dy="-1" font-family="'Liberation Serif', 'Times New Roman', serif" font-style="italic" stroke="none" font-size="22.5">(Hz/s)</tspan></text>
<text transform="translate(22.3 230.6) rotate(-90)">Inertia <tspan dx="1.8" dy="-2.8" font-family="'Liberation Serif', 'Times New Roman', serif" font-style="italic" stroke="none" font-size="22.5">(s)</tspan></text>
</g>
</svg>
</body></html>
